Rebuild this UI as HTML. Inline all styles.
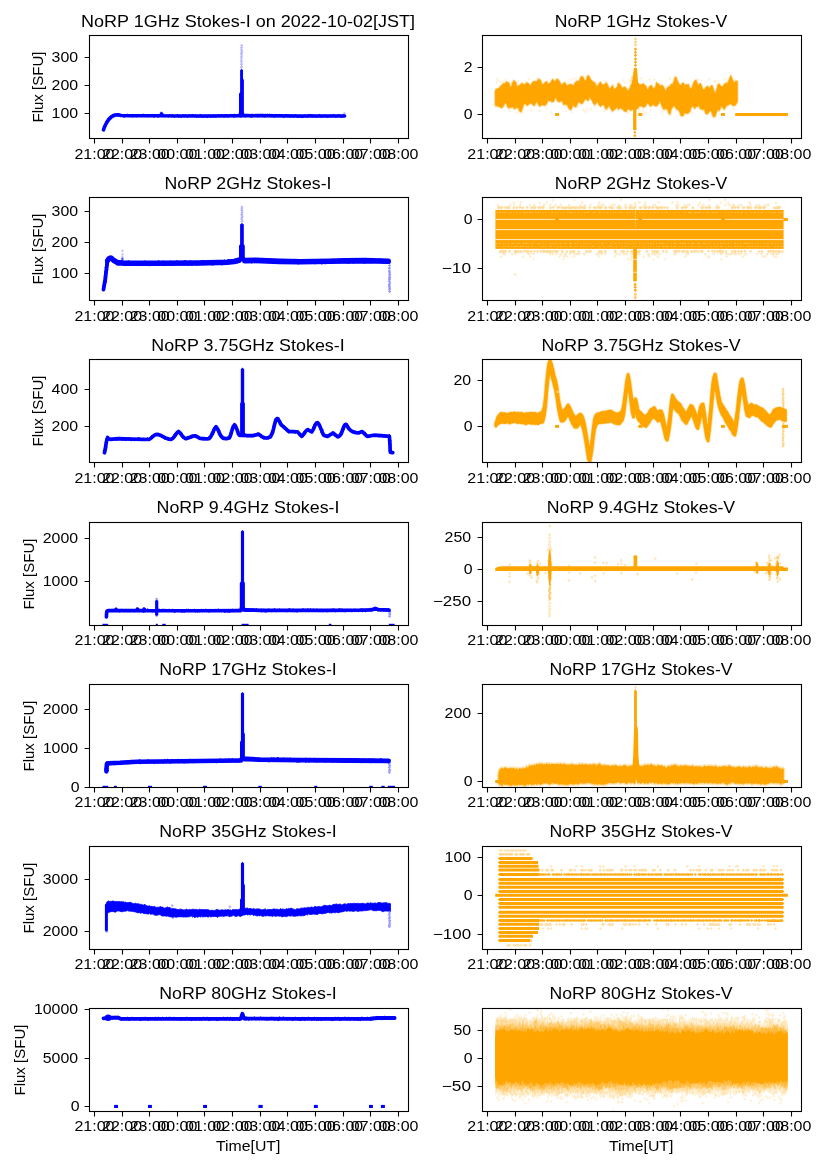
<!DOCTYPE html>
<html lang="en"><head><meta charset="utf-8"><title>NoRP light curves 2022-10-02</title>
<style>html,body{margin:0;padding:0;background:#fff}body{width:827px;height:1169px;overflow:hidden;font-family:"Liberation Sans",sans-serif}svg{display:block;will-change:transform}</style></head>
<body>
<svg width="827" height="1169" viewBox="0 0 827 1169" font-family="'Liberation Sans', sans-serif" fill="#000">
<rect width="827" height="1169" fill="#fff"/>
<g id="ax00">
<clipPath id="cp00"><rect x="89.50" y="35.50" width="319.00" height="103.00"/></clipPath>
<g clip-path="url(#cp00)"><path d="M103.5 129.8L104.3 127.5L105.4 125L106.8 122.3L108.3 120.1L110 118L112.2 116.3L115 115L118 114.7L121 115.5L130 115.7L160.6 115.7L161.5 114L162.4 115.7L200 116L238.6 115.7L245.5 115.6L300 116L344.6 116" fill="none" stroke="#0000ff" stroke-width="3.6" stroke-linejoin="round" stroke-linecap="round"/><path d="M104 127.3l1.5 1.5l-1.5 1.5l-1.5 -1.5ZM104.8 124.8l1.5 1.5l-1.5 1.5l-1.5 -1.5ZM105.3 124.2l1.5 1.5l-1.5 1.5l-1.5 -1.5ZM105.5 123.3l1.5 1.5l-1.5 1.5l-1.5 -1.5ZM107 121.5l1.5 1.5l-1.5 1.5l-1.5 -1.5ZM106.6 120.5l1.5 1.5l-1.5 1.5l-1.5 -1.5ZM108 119.9l1.5 1.5l-1.5 1.5l-1.5 -1.5ZM108.3 117.4l1.5 1.5l-1.5 1.5l-1.5 -1.5ZM110.6 117l1.5 1.5l-1.5 1.5l-1.5 -1.5ZM110.8 116.1l1.5 1.5l-1.5 1.5l-1.5 -1.5ZM110.8 114.9l1.5 1.5l-1.5 1.5l-1.5 -1.5ZM112.6 113.8l1.5 1.5l-1.5 1.5l-1.5 -1.5ZM113.7 113.7l1.5 1.5l-1.5 1.5l-1.5 -1.5ZM115 113.4l1.5 1.5l-1.5 1.5l-1.5 -1.5ZM117.2 113.8l1.5 1.5l-1.5 1.5l-1.5 -1.5ZM118.7 113.6l1.5 1.5l-1.5 1.5l-1.5 -1.5ZM120.2 114.1l1.5 1.5l-1.5 1.5l-1.5 -1.5ZM121.7 113.7l1.5 1.5l-1.5 1.5l-1.5 -1.5ZM124 114.9l1.5 1.5l-1.5 1.5l-1.5 -1.5ZM125.3 114.4l1.5 1.5l-1.5 1.5l-1.5 -1.5ZM126 113.7l1.5 1.5l-1.5 1.5l-1.5 -1.5ZM127.4 113.5l1.5 1.5l-1.5 1.5l-1.5 -1.5ZM129.7 114l1.5 1.5l-1.5 1.5l-1.5 -1.5ZM131.1 114l1.5 1.5l-1.5 1.5l-1.5 -1.5ZM132.6 114.8l1.5 1.5l-1.5 1.5l-1.5 -1.5ZM132.7 113.7l1.5 1.5l-1.5 1.5l-1.5 -1.5ZM135.2 114.2l1.5 1.5l-1.5 1.5l-1.5 -1.5ZM136.6 114l1.5 1.5l-1.5 1.5l-1.5 -1.5ZM136.7 114.4l1.5 1.5l-1.5 1.5l-1.5 -1.5ZM139 113.8l1.5 1.5l-1.5 1.5l-1.5 -1.5ZM139.4 113.9l1.5 1.5l-1.5 1.5l-1.5 -1.5ZM141.9 114.6l1.5 1.5l-1.5 1.5l-1.5 -1.5ZM142.1 113.8l1.5 1.5l-1.5 1.5l-1.5 -1.5ZM143.4 113.5l1.5 1.5l-1.5 1.5l-1.5 -1.5ZM145.7 113.7l1.5 1.5l-1.5 1.5l-1.5 -1.5ZM146.7 114.1l1.5 1.5l-1.5 1.5l-1.5 -1.5ZM147.5 114.6l1.5 1.5l-1.5 1.5l-1.5 -1.5ZM148.8 114.4l1.5 1.5l-1.5 1.5l-1.5 -1.5ZM150.1 114.1l1.5 1.5l-1.5 1.5l-1.5 -1.5ZM151.6 113.8l1.5 1.5l-1.5 1.5l-1.5 -1.5ZM153.9 114.7l1.5 1.5l-1.5 1.5l-1.5 -1.5ZM154.4 114.8l1.5 1.5l-1.5 1.5l-1.5 -1.5ZM155.6 114l1.5 1.5l-1.5 1.5l-1.5 -1.5ZM157.7 114.4l1.5 1.5l-1.5 1.5l-1.5 -1.5ZM158.1 115l1.5 1.5l-1.5 1.5l-1.5 -1.5ZM159.6 113.8l1.5 1.5l-1.5 1.5l-1.5 -1.5ZM161.1 112.8l1.5 1.5l-1.5 1.5l-1.5 -1.5ZM162.4 112.7l1.5 1.5l-1.5 1.5l-1.5 -1.5ZM162.5 114.3l1.5 1.5l-1.5 1.5l-1.5 -1.5ZM164.1 114.4l1.5 1.5l-1.5 1.5l-1.5 -1.5ZM165.6 114.2l1.5 1.5l-1.5 1.5l-1.5 -1.5ZM167.7 114.2l1.5 1.5l-1.5 1.5l-1.5 -1.5ZM168.5 114.8l1.5 1.5l-1.5 1.5l-1.5 -1.5ZM169.4 113.7l1.5 1.5l-1.5 1.5l-1.5 -1.5ZM171.7 114.8l1.5 1.5l-1.5 1.5l-1.5 -1.5ZM172.1 113.8l1.5 1.5l-1.5 1.5l-1.5 -1.5ZM174.1 115l1.5 1.5l-1.5 1.5l-1.5 -1.5ZM174.7 115l1.5 1.5l-1.5 1.5l-1.5 -1.5ZM177 114.5l1.5 1.5l-1.5 1.5l-1.5 -1.5ZM177.7 113.7l1.5 1.5l-1.5 1.5l-1.5 -1.5ZM178.6 115.1l1.5 1.5l-1.5 1.5l-1.5 -1.5ZM180.2 114.7l1.5 1.5l-1.5 1.5l-1.5 -1.5ZM181.5 114.9l1.5 1.5l-1.5 1.5l-1.5 -1.5ZM183.3 114l1.5 1.5l-1.5 1.5l-1.5 -1.5ZM184.1 114.7l1.5 1.5l-1.5 1.5l-1.5 -1.5ZM185.3 113.9l1.5 1.5l-1.5 1.5l-1.5 -1.5ZM187.3 115l1.5 1.5l-1.5 1.5l-1.5 -1.5ZM188.7 114.1l1.5 1.5l-1.5 1.5l-1.5 -1.5ZM190.5 114l1.5 1.5l-1.5 1.5l-1.5 -1.5ZM190.6 114.1l1.5 1.5l-1.5 1.5l-1.5 -1.5ZM192.5 113.7l1.5 1.5l-1.5 1.5l-1.5 -1.5ZM193.5 114.2l1.5 1.5l-1.5 1.5l-1.5 -1.5ZM195.4 113.9l1.5 1.5l-1.5 1.5l-1.5 -1.5ZM196.5 115.1l1.5 1.5l-1.5 1.5l-1.5 -1.5ZM198.6 114.7l1.5 1.5l-1.5 1.5l-1.5 -1.5ZM199.6 114.6l1.5 1.5l-1.5 1.5l-1.5 -1.5ZM200.2 113.8l1.5 1.5l-1.5 1.5l-1.5 -1.5ZM201.4 115.1l1.5 1.5l-1.5 1.5l-1.5 -1.5ZM203.6 115.2l1.5 1.5l-1.5 1.5l-1.5 -1.5ZM204 114.7l1.5 1.5l-1.5 1.5l-1.5 -1.5ZM206 114.8l1.5 1.5l-1.5 1.5l-1.5 -1.5ZM207.1 115.2l1.5 1.5l-1.5 1.5l-1.5 -1.5ZM208.1 114.5l1.5 1.5l-1.5 1.5l-1.5 -1.5ZM210.3 115.1l1.5 1.5l-1.5 1.5l-1.5 -1.5ZM211.6 114.7l1.5 1.5l-1.5 1.5l-1.5 -1.5ZM213 115.1l1.5 1.5l-1.5 1.5l-1.5 -1.5ZM213.8 114.7l1.5 1.5l-1.5 1.5l-1.5 -1.5ZM215.8 115l1.5 1.5l-1.5 1.5l-1.5 -1.5ZM216.5 114.8l1.5 1.5l-1.5 1.5l-1.5 -1.5ZM218.5 114.5l1.5 1.5l-1.5 1.5l-1.5 -1.5ZM219.5 114.2l1.5 1.5l-1.5 1.5l-1.5 -1.5ZM220.7 114.5l1.5 1.5l-1.5 1.5l-1.5 -1.5ZM221.4 114.6l1.5 1.5l-1.5 1.5l-1.5 -1.5ZM224 114.9l1.5 1.5l-1.5 1.5l-1.5 -1.5ZM224.9 114.1l1.5 1.5l-1.5 1.5l-1.5 -1.5ZM226.3 114.4l1.5 1.5l-1.5 1.5l-1.5 -1.5ZM227.2 114.8l1.5 1.5l-1.5 1.5l-1.5 -1.5ZM228.1 114.7l1.5 1.5l-1.5 1.5l-1.5 -1.5ZM229.3 114.4l1.5 1.5l-1.5 1.5l-1.5 -1.5ZM231.3 113.8l1.5 1.5l-1.5 1.5l-1.5 -1.5ZM232.9 114.2l1.5 1.5l-1.5 1.5l-1.5 -1.5ZM234.1 114.9l1.5 1.5l-1.5 1.5l-1.5 -1.5ZM234.9 113.4l1.5 1.5l-1.5 1.5l-1.5 -1.5ZM236.3 114.5l1.5 1.5l-1.5 1.5l-1.5 -1.5ZM237.5 113.7l1.5 1.5l-1.5 1.5l-1.5 -1.5ZM239.9 114.4l1.5 1.5l-1.5 1.5l-1.5 -1.5ZM240.6 114.8l1.5 1.5l-1.5 1.5l-1.5 -1.5ZM241.8 114.4l1.5 1.5l-1.5 1.5l-1.5 -1.5ZM243 114l1.5 1.5l-1.5 1.5l-1.5 -1.5ZM245.2 114.8l1.5 1.5l-1.5 1.5l-1.5 -1.5ZM246.7 113.9l1.5 1.5l-1.5 1.5l-1.5 -1.5ZM247.6 113.8l1.5 1.5l-1.5 1.5l-1.5 -1.5ZM248.3 114.1l1.5 1.5l-1.5 1.5l-1.5 -1.5ZM250.6 114.7l1.5 1.5l-1.5 1.5l-1.5 -1.5ZM251.8 114.9l1.5 1.5l-1.5 1.5l-1.5 -1.5ZM252.5 113.6l1.5 1.5l-1.5 1.5l-1.5 -1.5ZM254.1 113.8l1.5 1.5l-1.5 1.5l-1.5 -1.5ZM255.1 114l1.5 1.5l-1.5 1.5l-1.5 -1.5ZM257 114.2l1.5 1.5l-1.5 1.5l-1.5 -1.5ZM257.9 114.7l1.5 1.5l-1.5 1.5l-1.5 -1.5ZM260.1 114.1l1.5 1.5l-1.5 1.5l-1.5 -1.5ZM260.2 113.5l1.5 1.5l-1.5 1.5l-1.5 -1.5ZM262.6 113.5l1.5 1.5l-1.5 1.5l-1.5 -1.5ZM263.7 114.3l1.5 1.5l-1.5 1.5l-1.5 -1.5ZM264.5 114.7l1.5 1.5l-1.5 1.5l-1.5 -1.5ZM265.5 113.7l1.5 1.5l-1.5 1.5l-1.5 -1.5ZM267.4 113.5l1.5 1.5l-1.5 1.5l-1.5 -1.5ZM269.2 113.9l1.5 1.5l-1.5 1.5l-1.5 -1.5ZM269.6 113.6l1.5 1.5l-1.5 1.5l-1.5 -1.5ZM271.6 114.2l1.5 1.5l-1.5 1.5l-1.5 -1.5ZM272.9 114.5l1.5 1.5l-1.5 1.5l-1.5 -1.5ZM274.5 115l1.5 1.5l-1.5 1.5l-1.5 -1.5ZM275.7 113.8l1.5 1.5l-1.5 1.5l-1.5 -1.5ZM276.7 113.8l1.5 1.5l-1.5 1.5l-1.5 -1.5ZM277.4 114.3l1.5 1.5l-1.5 1.5l-1.5 -1.5ZM279.7 113.8l1.5 1.5l-1.5 1.5l-1.5 -1.5ZM280.4 114.1l1.5 1.5l-1.5 1.5l-1.5 -1.5ZM282.3 114.4l1.5 1.5l-1.5 1.5l-1.5 -1.5ZM283.5 114.8l1.5 1.5l-1.5 1.5l-1.5 -1.5ZM284.6 114.9l1.5 1.5l-1.5 1.5l-1.5 -1.5ZM286.6 113.7l1.5 1.5l-1.5 1.5l-1.5 -1.5ZM287.9 114.8l1.5 1.5l-1.5 1.5l-1.5 -1.5ZM288.2 114.3l1.5 1.5l-1.5 1.5l-1.5 -1.5ZM290.2 115.1l1.5 1.5l-1.5 1.5l-1.5 -1.5ZM291.2 114.5l1.5 1.5l-1.5 1.5l-1.5 -1.5ZM293.2 114.9l1.5 1.5l-1.5 1.5l-1.5 -1.5ZM294.6 114.4l1.5 1.5l-1.5 1.5l-1.5 -1.5ZM295.6 114l1.5 1.5l-1.5 1.5l-1.5 -1.5ZM297 115l1.5 1.5l-1.5 1.5l-1.5 -1.5ZM298.2 114.8l1.5 1.5l-1.5 1.5l-1.5 -1.5ZM298.9 115.1l1.5 1.5l-1.5 1.5l-1.5 -1.5ZM301.3 115.3l1.5 1.5l-1.5 1.5l-1.5 -1.5ZM302 115l1.5 1.5l-1.5 1.5l-1.5 -1.5ZM303 115.2l1.5 1.5l-1.5 1.5l-1.5 -1.5ZM305.1 114.3l1.5 1.5l-1.5 1.5l-1.5 -1.5ZM305.4 114.4l1.5 1.5l-1.5 1.5l-1.5 -1.5ZM307.3 114.9l1.5 1.5l-1.5 1.5l-1.5 -1.5ZM308.5 113.7l1.5 1.5l-1.5 1.5l-1.5 -1.5ZM310.2 113.8l1.5 1.5l-1.5 1.5l-1.5 -1.5ZM311.5 114l1.5 1.5l-1.5 1.5l-1.5 -1.5ZM312.2 115l1.5 1.5l-1.5 1.5l-1.5 -1.5ZM313.3 113.9l1.5 1.5l-1.5 1.5l-1.5 -1.5ZM315.1 114.9l1.5 1.5l-1.5 1.5l-1.5 -1.5ZM316.8 114.8l1.5 1.5l-1.5 1.5l-1.5 -1.5ZM318.3 114.5l1.5 1.5l-1.5 1.5l-1.5 -1.5ZM319.6 113.8l1.5 1.5l-1.5 1.5l-1.5 -1.5ZM320 114.5l1.5 1.5l-1.5 1.5l-1.5 -1.5ZM321.4 114.9l1.5 1.5l-1.5 1.5l-1.5 -1.5ZM323.1 114.5l1.5 1.5l-1.5 1.5l-1.5 -1.5ZM324.7 114.6l1.5 1.5l-1.5 1.5l-1.5 -1.5ZM325.3 114.3l1.5 1.5l-1.5 1.5l-1.5 -1.5ZM327.3 115.1l1.5 1.5l-1.5 1.5l-1.5 -1.5ZM327.8 115.1l1.5 1.5l-1.5 1.5l-1.5 -1.5ZM330.1 114.5l1.5 1.5l-1.5 1.5l-1.5 -1.5ZM330.9 114l1.5 1.5l-1.5 1.5l-1.5 -1.5ZM332.2 114.5l1.5 1.5l-1.5 1.5l-1.5 -1.5ZM333.6 113.7l1.5 1.5l-1.5 1.5l-1.5 -1.5ZM335.4 114.5l1.5 1.5l-1.5 1.5l-1.5 -1.5ZM335.9 115l1.5 1.5l-1.5 1.5l-1.5 -1.5ZM337.5 114.5l1.5 1.5l-1.5 1.5l-1.5 -1.5ZM338.9 113.8l1.5 1.5l-1.5 1.5l-1.5 -1.5ZM340.1 114.4l1.5 1.5l-1.5 1.5l-1.5 -1.5ZM341.9 115.2l1.5 1.5l-1.5 1.5l-1.5 -1.5ZM342.3 114.5l1.5 1.5l-1.5 1.5l-1.5 -1.5ZM343.5 114.4l1.5 1.5l-1.5 1.5l-1.5 -1.5Z" fill="#0000ff" fill-opacity="1"/><path d="M238 116L239 112L239 93.7L240.1 92.2L240.1 70.3L241.6 68.7L243 70.3L243 78.4L243.9 79.9L243.9 112L244.9 116Z" fill="#0000ff"/><path d="M241.7 44l1.6 1.6l-1.6 1.6l-1.6 -1.6ZM241.5 46.1l1.6 1.6l-1.6 1.6l-1.6 -1.6ZM241.4 47.6l1.6 1.6l-1.6 1.6l-1.6 -1.6ZM241.8 49.4l1.6 1.6l-1.6 1.6l-1.6 -1.6ZM241.7 50.6l1.6 1.6l-1.6 1.6l-1.6 -1.6ZM241.4 51.8l1.6 1.6l-1.6 1.6l-1.6 -1.6ZM241.6 53.2l1.6 1.6l-1.6 1.6l-1.6 -1.6ZM241.5 54.6l1.6 1.6l-1.6 1.6l-1.6 -1.6ZM241.4 56.4l1.6 1.6l-1.6 1.6l-1.6 -1.6ZM241.4 58.4l1.6 1.6l-1.6 1.6l-1.6 -1.6ZM241.4 60.1l1.6 1.6l-1.6 1.6l-1.6 -1.6ZM241.6 61.4l1.6 1.6l-1.6 1.6l-1.6 -1.6ZM241.5 63l1.6 1.6l-1.6 1.6l-1.6 -1.6ZM241.6 64.6l1.6 1.6l-1.6 1.6l-1.6 -1.6ZM241.4 65.9l1.6 1.6l-1.6 1.6l-1.6 -1.6Z" fill="#0000ff" fill-opacity="0.28"/><path d="M344.3 112l1.6 1.6l-1.6 1.6l-1.6 -1.6ZM161.5 110.9l1.6 1.6l-1.6 1.6l-1.6 -1.6Z" fill="#0000ff" fill-opacity="0.3"/></g>
<rect x="89.50" y="35.50" width="319.00" height="103.00" fill="none" stroke="#000" stroke-width="1.1"/>
<path d="M94.50 138.50v4.9M122.50 138.50v4.9M149.50 138.50v4.9M177.50 138.50v4.9M204.50 138.50v4.9M232.50 138.50v4.9M260.50 138.50v4.9M287.50 138.50v4.9M315.50 138.50v4.9M343.50 138.50v4.9M370.50 138.50v4.9M398.50 138.50v4.9M89.50 57.50h-4.9M89.50 85.50h-4.9M89.50 113.50h-4.9" stroke="#000" stroke-width="1.1" fill="none"/>
<text x="94.45" y="158.95" font-size="14.15" text-anchor="middle" textLength="40.03" lengthAdjust="spacingAndGlyphs">21:00</text>
<text x="122.09" y="158.95" font-size="14.15" text-anchor="middle" textLength="40.03" lengthAdjust="spacingAndGlyphs">22:00</text>
<text x="149.72" y="158.95" font-size="14.15" text-anchor="middle" textLength="40.03" lengthAdjust="spacingAndGlyphs">23:00</text>
<text x="177.36" y="158.95" font-size="14.15" text-anchor="middle" textLength="40.03" lengthAdjust="spacingAndGlyphs">00:00</text>
<text x="205.00" y="158.95" font-size="14.15" text-anchor="middle" textLength="40.03" lengthAdjust="spacingAndGlyphs">01:00</text>
<text x="232.63" y="158.95" font-size="14.15" text-anchor="middle" textLength="40.03" lengthAdjust="spacingAndGlyphs">02:00</text>
<text x="260.27" y="158.95" font-size="14.15" text-anchor="middle" textLength="40.03" lengthAdjust="spacingAndGlyphs">03:00</text>
<text x="287.91" y="158.95" font-size="14.15" text-anchor="middle" textLength="40.03" lengthAdjust="spacingAndGlyphs">04:00</text>
<text x="315.55" y="158.95" font-size="14.15" text-anchor="middle" textLength="40.03" lengthAdjust="spacingAndGlyphs">05:00</text>
<text x="343.18" y="158.95" font-size="14.15" text-anchor="middle" textLength="40.03" lengthAdjust="spacingAndGlyphs">06:00</text>
<text x="370.82" y="158.95" font-size="14.15" text-anchor="middle" textLength="40.03" lengthAdjust="spacingAndGlyphs">07:00</text>
<text x="398.46" y="158.95" font-size="14.15" text-anchor="middle" textLength="40.03" lengthAdjust="spacingAndGlyphs">08:00</text>
<text x="78.10" y="62.40" font-size="14.15" text-anchor="end" textLength="26.51" lengthAdjust="spacingAndGlyphs">300</text>
<text x="78.10" y="90.40" font-size="14.15" text-anchor="end" textLength="26.51" lengthAdjust="spacingAndGlyphs">200</text>
<text x="78.10" y="118.40" font-size="14.15" text-anchor="end" textLength="26.51" lengthAdjust="spacingAndGlyphs">100</text>
<text x="248.00" y="26.90" font-size="16.95" text-anchor="middle" textLength="333.89" lengthAdjust="spacingAndGlyphs">NoRP 1GHz Stokes-I on 2022-10-02[JST]</text>
<text x="43.00" y="87.00" font-size="14.15" text-anchor="middle" textLength="71.10" lengthAdjust="spacingAndGlyphs" transform="rotate(-90 43.00 87.00)">Flux [SFU]</text>
</g>
<g id="ax10">
<clipPath id="cp10"><rect x="89.50" y="197.50" width="319.00" height="103.00"/></clipPath>
<g clip-path="url(#cp10)"><path d="M103.5 289.5L104.4 284L105.4 278.3L106.4 269L107.4 261.5" fill="none" stroke="#0000ff" stroke-width="3.8" stroke-linejoin="round" stroke-linecap="round"/><path d="M103.7 287.1l1.5 1.5l-1.5 1.5l-1.5 -1.5ZM104.1 285.5l1.5 1.5l-1.5 1.5l-1.5 -1.5ZM103.7 284l1.5 1.5l-1.5 1.5l-1.5 -1.5ZM104.9 282.9l1.5 1.5l-1.5 1.5l-1.5 -1.5ZM104.3 281.2l1.5 1.5l-1.5 1.5l-1.5 -1.5ZM105.5 280.8l1.5 1.5l-1.5 1.5l-1.5 -1.5ZM105.8 279.5l1.5 1.5l-1.5 1.5l-1.5 -1.5ZM104.7 276.8l1.5 1.5l-1.5 1.5l-1.5 -1.5ZM105.8 276.5l1.5 1.5l-1.5 1.5l-1.5 -1.5ZM104.9 275l1.5 1.5l-1.5 1.5l-1.5 -1.5ZM105.7 273l1.5 1.5l-1.5 1.5l-1.5 -1.5ZM105.3 271.7l1.5 1.5l-1.5 1.5l-1.5 -1.5ZM106.4 271l1.5 1.5l-1.5 1.5l-1.5 -1.5ZM105.6 270.1l1.5 1.5l-1.5 1.5l-1.5 -1.5ZM107.1 268l1.5 1.5l-1.5 1.5l-1.5 -1.5ZM105.9 266l1.5 1.5l-1.5 1.5l-1.5 -1.5ZM107.2 265.3l1.5 1.5l-1.5 1.5l-1.5 -1.5ZM107.2 263.8l1.5 1.5l-1.5 1.5l-1.5 -1.5ZM106.3 262.6l1.5 1.5l-1.5 1.5l-1.5 -1.5ZM106.4 261.2l1.5 1.5l-1.5 1.5l-1.5 -1.5Z" fill="#0000ff" fill-opacity="1"/><path d="M107.6 260.6L109 258.6L110.9 257.8L112.8 259.4L115 261.2L118.5 262.8" fill="none" stroke="#0000ff" stroke-width="5.2" stroke-linejoin="round" stroke-linecap="round"/><path d="M108.4 258l1.5 1.5l-1.5 1.5l-1.5 -1.5ZM109.6 255.6l1.5 1.5l-1.5 1.5l-1.5 -1.5ZM111.9 255.9l1.5 1.5l-1.5 1.5l-1.5 -1.5ZM112.7 259.9l1.5 1.5l-1.5 1.5l-1.5 -1.5ZM115.7 258.6l1.5 1.5l-1.5 1.5l-1.5 -1.5ZM114.5 261.1l1.5 1.5l-1.5 1.5l-1.5 -1.5ZM117.2 261.6l1.5 1.5l-1.5 1.5l-1.5 -1.5Z" fill="#0000ff" fill-opacity="1"/><path d="M118 262.8L125 263.2L160 263.3L200 263L227 262.3L234 261.5L239 260.2" fill="none" stroke="#0000ff" stroke-width="5.6" stroke-linejoin="round" stroke-linecap="round"/><path d="M118.5 261.2l1.5 1.5l-1.5 1.5l-1.5 -1.5ZM120.1 261.2l1.5 1.5l-1.5 1.5l-1.5 -1.5ZM121.7 259.8l1.5 1.5l-1.5 1.5l-1.5 -1.5ZM123.1 262.8l1.5 1.5l-1.5 1.5l-1.5 -1.5ZM123.9 261.5l1.5 1.5l-1.5 1.5l-1.5 -1.5ZM126 261.4l1.5 1.5l-1.5 1.5l-1.5 -1.5ZM126.6 260.5l1.5 1.5l-1.5 1.5l-1.5 -1.5ZM128.4 260l1.5 1.5l-1.5 1.5l-1.5 -1.5ZM130.2 262.8l1.5 1.5l-1.5 1.5l-1.5 -1.5ZM131.3 263l1.5 1.5l-1.5 1.5l-1.5 -1.5ZM132.6 261.4l1.5 1.5l-1.5 1.5l-1.5 -1.5ZM133.9 261.7l1.5 1.5l-1.5 1.5l-1.5 -1.5ZM135.7 262.8l1.5 1.5l-1.5 1.5l-1.5 -1.5ZM136.1 263.2l1.5 1.5l-1.5 1.5l-1.5 -1.5ZM138.1 262.7l1.5 1.5l-1.5 1.5l-1.5 -1.5ZM139.6 261.4l1.5 1.5l-1.5 1.5l-1.5 -1.5ZM141 263.1l1.5 1.5l-1.5 1.5l-1.5 -1.5ZM142.1 262.7l1.5 1.5l-1.5 1.5l-1.5 -1.5ZM143.5 261.4l1.5 1.5l-1.5 1.5l-1.5 -1.5ZM144.8 260.2l1.5 1.5l-1.5 1.5l-1.5 -1.5ZM145.7 261.6l1.5 1.5l-1.5 1.5l-1.5 -1.5ZM146.6 261.2l1.5 1.5l-1.5 1.5l-1.5 -1.5ZM148.7 262.2l1.5 1.5l-1.5 1.5l-1.5 -1.5ZM149.5 263.4l1.5 1.5l-1.5 1.5l-1.5 -1.5ZM151.5 261.2l1.5 1.5l-1.5 1.5l-1.5 -1.5ZM152.8 262l1.5 1.5l-1.5 1.5l-1.5 -1.5ZM154 261.4l1.5 1.5l-1.5 1.5l-1.5 -1.5ZM156 262.3l1.5 1.5l-1.5 1.5l-1.5 -1.5ZM156.9 262.7l1.5 1.5l-1.5 1.5l-1.5 -1.5ZM158.6 260.1l1.5 1.5l-1.5 1.5l-1.5 -1.5ZM159.5 262.7l1.5 1.5l-1.5 1.5l-1.5 -1.5ZM160.3 261.4l1.5 1.5l-1.5 1.5l-1.5 -1.5ZM161.4 260.7l1.5 1.5l-1.5 1.5l-1.5 -1.5ZM163.2 260.3l1.5 1.5l-1.5 1.5l-1.5 -1.5ZM164.3 263.2l1.5 1.5l-1.5 1.5l-1.5 -1.5ZM166.1 261.8l1.5 1.5l-1.5 1.5l-1.5 -1.5ZM168 262l1.5 1.5l-1.5 1.5l-1.5 -1.5ZM169.3 262.2l1.5 1.5l-1.5 1.5l-1.5 -1.5ZM170.4 260.2l1.5 1.5l-1.5 1.5l-1.5 -1.5ZM171.5 262.6l1.5 1.5l-1.5 1.5l-1.5 -1.5ZM172.1 263.3l1.5 1.5l-1.5 1.5l-1.5 -1.5ZM173.5 261.6l1.5 1.5l-1.5 1.5l-1.5 -1.5ZM174.9 261.7l1.5 1.5l-1.5 1.5l-1.5 -1.5ZM176.8 260.1l1.5 1.5l-1.5 1.5l-1.5 -1.5ZM178.6 261.4l1.5 1.5l-1.5 1.5l-1.5 -1.5ZM179.4 262l1.5 1.5l-1.5 1.5l-1.5 -1.5ZM180.5 260.9l1.5 1.5l-1.5 1.5l-1.5 -1.5ZM182.2 261.9l1.5 1.5l-1.5 1.5l-1.5 -1.5ZM183.1 262.4l1.5 1.5l-1.5 1.5l-1.5 -1.5ZM184.4 259.9l1.5 1.5l-1.5 1.5l-1.5 -1.5ZM185.6 260l1.5 1.5l-1.5 1.5l-1.5 -1.5ZM186.9 262.5l1.5 1.5l-1.5 1.5l-1.5 -1.5ZM188.5 263l1.5 1.5l-1.5 1.5l-1.5 -1.5ZM190.3 260l1.5 1.5l-1.5 1.5l-1.5 -1.5ZM192 263.2l1.5 1.5l-1.5 1.5l-1.5 -1.5ZM192.1 263l1.5 1.5l-1.5 1.5l-1.5 -1.5ZM193.9 261.5l1.5 1.5l-1.5 1.5l-1.5 -1.5ZM196 260.6l1.5 1.5l-1.5 1.5l-1.5 -1.5ZM196.7 263.1l1.5 1.5l-1.5 1.5l-1.5 -1.5ZM198.3 261.4l1.5 1.5l-1.5 1.5l-1.5 -1.5ZM200 262.6l1.5 1.5l-1.5 1.5l-1.5 -1.5ZM200.8 260.1l1.5 1.5l-1.5 1.5l-1.5 -1.5ZM202.2 261.3l1.5 1.5l-1.5 1.5l-1.5 -1.5ZM202.9 259.8l1.5 1.5l-1.5 1.5l-1.5 -1.5ZM204.7 260l1.5 1.5l-1.5 1.5l-1.5 -1.5ZM206 261.9l1.5 1.5l-1.5 1.5l-1.5 -1.5ZM207.3 260.5l1.5 1.5l-1.5 1.5l-1.5 -1.5ZM208.9 261l1.5 1.5l-1.5 1.5l-1.5 -1.5ZM210.5 261.3l1.5 1.5l-1.5 1.5l-1.5 -1.5ZM212.2 262.8l1.5 1.5l-1.5 1.5l-1.5 -1.5ZM213.1 260.2l1.5 1.5l-1.5 1.5l-1.5 -1.5ZM213.7 262.6l1.5 1.5l-1.5 1.5l-1.5 -1.5ZM215.9 261.5l1.5 1.5l-1.5 1.5l-1.5 -1.5ZM216.7 260.2l1.5 1.5l-1.5 1.5l-1.5 -1.5ZM218.5 261.3l1.5 1.5l-1.5 1.5l-1.5 -1.5ZM219.7 261.5l1.5 1.5l-1.5 1.5l-1.5 -1.5ZM221.2 259.8l1.5 1.5l-1.5 1.5l-1.5 -1.5ZM222 262.7l1.5 1.5l-1.5 1.5l-1.5 -1.5ZM224.2 262.2l1.5 1.5l-1.5 1.5l-1.5 -1.5ZM224.3 259.3l1.5 1.5l-1.5 1.5l-1.5 -1.5ZM226 260.6l1.5 1.5l-1.5 1.5l-1.5 -1.5ZM227.7 259.3l1.5 1.5l-1.5 1.5l-1.5 -1.5ZM229 259l1.5 1.5l-1.5 1.5l-1.5 -1.5ZM230 261.1l1.5 1.5l-1.5 1.5l-1.5 -1.5ZM232 260.7l1.5 1.5l-1.5 1.5l-1.5 -1.5ZM233.1 260l1.5 1.5l-1.5 1.5l-1.5 -1.5ZM234.2 259.4l1.5 1.5l-1.5 1.5l-1.5 -1.5ZM237.2 260.4l1.5 1.5l-1.5 1.5l-1.5 -1.5ZM237.1 257.8l1.5 1.5l-1.5 1.5l-1.5 -1.5Z" fill="#0000ff" fill-opacity="1"/><path d="M237.8 261L239 257L239 245.8L240.1 244.3L240.1 224.5L241.9 222.9L243.8 224.5L243.8 244.3L244.8 245.8L244.8 257L246 261Z" fill="#0000ff"/><path d="M244.8 260.6L255 260.4L280 261.4L300 261.8L330 261.3L345 260.9L365 260.6L388.2 261.3" fill="none" stroke="#0000ff" stroke-width="5.6" stroke-linejoin="round" stroke-linecap="round"/><path d="M246 259.5l1.5 1.5l-1.5 1.5l-1.5 -1.5ZM247.4 258l1.5 1.5l-1.5 1.5l-1.5 -1.5ZM248.3 258.2l1.5 1.5l-1.5 1.5l-1.5 -1.5ZM250.3 258.5l1.5 1.5l-1.5 1.5l-1.5 -1.5ZM251.6 260.7l1.5 1.5l-1.5 1.5l-1.5 -1.5ZM252.6 259.1l1.5 1.5l-1.5 1.5l-1.5 -1.5ZM254.7 260.4l1.5 1.5l-1.5 1.5l-1.5 -1.5ZM255.6 258.5l1.5 1.5l-1.5 1.5l-1.5 -1.5ZM256.4 260.3l1.5 1.5l-1.5 1.5l-1.5 -1.5ZM257.8 257.5l1.5 1.5l-1.5 1.5l-1.5 -1.5ZM259.7 259l1.5 1.5l-1.5 1.5l-1.5 -1.5ZM261.2 258.4l1.5 1.5l-1.5 1.5l-1.5 -1.5ZM262.7 257.7l1.5 1.5l-1.5 1.5l-1.5 -1.5ZM263.2 259.8l1.5 1.5l-1.5 1.5l-1.5 -1.5ZM264.3 258.6l1.5 1.5l-1.5 1.5l-1.5 -1.5ZM266.5 260.1l1.5 1.5l-1.5 1.5l-1.5 -1.5ZM267.3 258.1l1.5 1.5l-1.5 1.5l-1.5 -1.5ZM268.6 260.3l1.5 1.5l-1.5 1.5l-1.5 -1.5ZM270 258.1l1.5 1.5l-1.5 1.5l-1.5 -1.5ZM271.7 259.8l1.5 1.5l-1.5 1.5l-1.5 -1.5ZM273.3 261.2l1.5 1.5l-1.5 1.5l-1.5 -1.5ZM274.6 259.5l1.5 1.5l-1.5 1.5l-1.5 -1.5ZM275.8 259l1.5 1.5l-1.5 1.5l-1.5 -1.5ZM276.5 259.4l1.5 1.5l-1.5 1.5l-1.5 -1.5ZM278.5 261.3l1.5 1.5l-1.5 1.5l-1.5 -1.5ZM279 259.4l1.5 1.5l-1.5 1.5l-1.5 -1.5ZM280.5 259.4l1.5 1.5l-1.5 1.5l-1.5 -1.5ZM281.9 259.5l1.5 1.5l-1.5 1.5l-1.5 -1.5ZM282.9 260.2l1.5 1.5l-1.5 1.5l-1.5 -1.5ZM285.1 260.1l1.5 1.5l-1.5 1.5l-1.5 -1.5ZM286.4 260.3l1.5 1.5l-1.5 1.5l-1.5 -1.5ZM286.9 261l1.5 1.5l-1.5 1.5l-1.5 -1.5ZM289.2 259.3l1.5 1.5l-1.5 1.5l-1.5 -1.5ZM289.4 260.1l1.5 1.5l-1.5 1.5l-1.5 -1.5ZM291.4 260.4l1.5 1.5l-1.5 1.5l-1.5 -1.5ZM293.3 260.7l1.5 1.5l-1.5 1.5l-1.5 -1.5ZM294.4 258.6l1.5 1.5l-1.5 1.5l-1.5 -1.5ZM295.4 261.2l1.5 1.5l-1.5 1.5l-1.5 -1.5ZM296.1 258.7l1.5 1.5l-1.5 1.5l-1.5 -1.5ZM298.3 261.7l1.5 1.5l-1.5 1.5l-1.5 -1.5ZM298.8 260.8l1.5 1.5l-1.5 1.5l-1.5 -1.5ZM300.2 261.2l1.5 1.5l-1.5 1.5l-1.5 -1.5ZM302.1 259.3l1.5 1.5l-1.5 1.5l-1.5 -1.5ZM302.9 261.2l1.5 1.5l-1.5 1.5l-1.5 -1.5ZM304.6 261.2l1.5 1.5l-1.5 1.5l-1.5 -1.5ZM305.7 259.6l1.5 1.5l-1.5 1.5l-1.5 -1.5ZM307.8 260.8l1.5 1.5l-1.5 1.5l-1.5 -1.5ZM308.5 260.3l1.5 1.5l-1.5 1.5l-1.5 -1.5ZM310.1 260.9l1.5 1.5l-1.5 1.5l-1.5 -1.5ZM311.6 259.8l1.5 1.5l-1.5 1.5l-1.5 -1.5ZM312.8 260.7l1.5 1.5l-1.5 1.5l-1.5 -1.5ZM314.2 261.2l1.5 1.5l-1.5 1.5l-1.5 -1.5ZM315.5 261.4l1.5 1.5l-1.5 1.5l-1.5 -1.5ZM316.9 260.5l1.5 1.5l-1.5 1.5l-1.5 -1.5ZM317.7 260.8l1.5 1.5l-1.5 1.5l-1.5 -1.5ZM319.3 259.7l1.5 1.5l-1.5 1.5l-1.5 -1.5ZM320.1 258.7l1.5 1.5l-1.5 1.5l-1.5 -1.5ZM321.9 261.7l1.5 1.5l-1.5 1.5l-1.5 -1.5ZM322.6 258.7l1.5 1.5l-1.5 1.5l-1.5 -1.5ZM323.7 259.6l1.5 1.5l-1.5 1.5l-1.5 -1.5ZM325.2 261.6l1.5 1.5l-1.5 1.5l-1.5 -1.5ZM326.2 259.2l1.5 1.5l-1.5 1.5l-1.5 -1.5ZM327.5 260.4l1.5 1.5l-1.5 1.5l-1.5 -1.5ZM329.7 258.7l1.5 1.5l-1.5 1.5l-1.5 -1.5ZM330.1 259.6l1.5 1.5l-1.5 1.5l-1.5 -1.5ZM332.2 261.2l1.5 1.5l-1.5 1.5l-1.5 -1.5ZM332.7 258.3l1.5 1.5l-1.5 1.5l-1.5 -1.5ZM334.3 258.7l1.5 1.5l-1.5 1.5l-1.5 -1.5ZM335.8 260.4l1.5 1.5l-1.5 1.5l-1.5 -1.5ZM337.6 258.6l1.5 1.5l-1.5 1.5l-1.5 -1.5ZM338.4 258.8l1.5 1.5l-1.5 1.5l-1.5 -1.5ZM339.8 260.5l1.5 1.5l-1.5 1.5l-1.5 -1.5ZM341.3 259.7l1.5 1.5l-1.5 1.5l-1.5 -1.5ZM343.4 259.4l1.5 1.5l-1.5 1.5l-1.5 -1.5ZM344 260.8l1.5 1.5l-1.5 1.5l-1.5 -1.5ZM346.2 258.8l1.5 1.5l-1.5 1.5l-1.5 -1.5ZM347.1 261l1.5 1.5l-1.5 1.5l-1.5 -1.5ZM348.3 258.3l1.5 1.5l-1.5 1.5l-1.5 -1.5ZM349.1 260.9l1.5 1.5l-1.5 1.5l-1.5 -1.5ZM351.4 258.9l1.5 1.5l-1.5 1.5l-1.5 -1.5ZM352.4 259.3l1.5 1.5l-1.5 1.5l-1.5 -1.5ZM353.4 261l1.5 1.5l-1.5 1.5l-1.5 -1.5ZM355.2 258.3l1.5 1.5l-1.5 1.5l-1.5 -1.5ZM355.7 259.1l1.5 1.5l-1.5 1.5l-1.5 -1.5ZM357.5 260.3l1.5 1.5l-1.5 1.5l-1.5 -1.5ZM359.3 259.6l1.5 1.5l-1.5 1.5l-1.5 -1.5ZM359.9 257.9l1.5 1.5l-1.5 1.5l-1.5 -1.5ZM361.4 258.3l1.5 1.5l-1.5 1.5l-1.5 -1.5ZM363.5 259.2l1.5 1.5l-1.5 1.5l-1.5 -1.5ZM364.5 260.9l1.5 1.5l-1.5 1.5l-1.5 -1.5ZM365.4 259.2l1.5 1.5l-1.5 1.5l-1.5 -1.5ZM366.5 260.1l1.5 1.5l-1.5 1.5l-1.5 -1.5ZM367.7 260.3l1.5 1.5l-1.5 1.5l-1.5 -1.5ZM370.2 260.4l1.5 1.5l-1.5 1.5l-1.5 -1.5ZM370.6 258.4l1.5 1.5l-1.5 1.5l-1.5 -1.5ZM372.8 257.9l1.5 1.5l-1.5 1.5l-1.5 -1.5ZM373.8 259.3l1.5 1.5l-1.5 1.5l-1.5 -1.5ZM375.8 259.7l1.5 1.5l-1.5 1.5l-1.5 -1.5ZM377.1 258.8l1.5 1.5l-1.5 1.5l-1.5 -1.5ZM378.4 259.2l1.5 1.5l-1.5 1.5l-1.5 -1.5ZM379.9 258.1l1.5 1.5l-1.5 1.5l-1.5 -1.5ZM381.2 258.5l1.5 1.5l-1.5 1.5l-1.5 -1.5ZM382.1 259.7l1.5 1.5l-1.5 1.5l-1.5 -1.5ZM382.9 260.8l1.5 1.5l-1.5 1.5l-1.5 -1.5ZM384.6 259l1.5 1.5l-1.5 1.5l-1.5 -1.5ZM385.6 259l1.5 1.5l-1.5 1.5l-1.5 -1.5ZM387.4 260.6l1.5 1.5l-1.5 1.5l-1.5 -1.5Z" fill="#0000ff" fill-opacity="1"/><path d="M122.4 249.2l1.6 1.6l-1.6 1.6l-1.6 -1.6ZM122.5 252.8l1.6 1.6l-1.6 1.6l-1.6 -1.6ZM122.4 255.2l1.6 1.6l-1.6 1.6l-1.6 -1.6Z" fill="#0000ff" fill-opacity="0.22"/><path d="M122.4 257.3l1.6 1.6l-1.6 1.6l-1.6 -1.6Z" fill="#0000ff" fill-opacity="0.7"/><path d="M241.9 205.4l1.6 1.6l-1.6 1.6l-1.6 -1.6ZM241.8 207.3l1.6 1.6l-1.6 1.6l-1.6 -1.6ZM241.9 208.9l1.6 1.6l-1.6 1.6l-1.6 -1.6ZM242.1 211.1l1.6 1.6l-1.6 1.6l-1.6 -1.6ZM241.7 213l1.6 1.6l-1.6 1.6l-1.6 -1.6ZM242.1 214.5l1.6 1.6l-1.6 1.6l-1.6 -1.6ZM242 215.9l1.6 1.6l-1.6 1.6l-1.6 -1.6ZM241.7 217.5l1.6 1.6l-1.6 1.6l-1.6 -1.6ZM242.1 219.7l1.6 1.6l-1.6 1.6l-1.6 -1.6Z" fill="#0000ff" fill-opacity="0.3"/><path d="M389.6 263.9l1.6 1.6l-1.6 1.6l-1.6 -1.6ZM389.4 265.3l1.6 1.6l-1.6 1.6l-1.6 -1.6ZM389.4 266.9l1.6 1.6l-1.6 1.6l-1.6 -1.6ZM389.4 268.3l1.6 1.6l-1.6 1.6l-1.6 -1.6ZM389.4 270.1l1.6 1.6l-1.6 1.6l-1.6 -1.6ZM389.6 271.3l1.6 1.6l-1.6 1.6l-1.6 -1.6ZM389.7 272.7l1.6 1.6l-1.6 1.6l-1.6 -1.6ZM389.6 274.4l1.6 1.6l-1.6 1.6l-1.6 -1.6ZM389.7 275.8l1.6 1.6l-1.6 1.6l-1.6 -1.6ZM389.3 276.9l1.6 1.6l-1.6 1.6l-1.6 -1.6ZM389.6 278.1l1.6 1.6l-1.6 1.6l-1.6 -1.6ZM389.3 279.9l1.6 1.6l-1.6 1.6l-1.6 -1.6ZM389.7 281.3l1.6 1.6l-1.6 1.6l-1.6 -1.6ZM389.3 283l1.6 1.6l-1.6 1.6l-1.6 -1.6ZM389.3 284.3l1.6 1.6l-1.6 1.6l-1.6 -1.6ZM389.5 285.5l1.6 1.6l-1.6 1.6l-1.6 -1.6ZM389.7 286.6l1.6 1.6l-1.6 1.6l-1.6 -1.6ZM389.5 288.1l1.6 1.6l-1.6 1.6l-1.6 -1.6ZM389.6 289.8l1.6 1.6l-1.6 1.6l-1.6 -1.6Z" fill="#0000ff" fill-opacity="0.42"/></g>
<rect x="89.50" y="197.50" width="319.00" height="103.00" fill="none" stroke="#000" stroke-width="1.1"/>
<path d="M94.50 300.50v4.9M122.50 300.50v4.9M149.50 300.50v4.9M177.50 300.50v4.9M204.50 300.50v4.9M232.50 300.50v4.9M260.50 300.50v4.9M287.50 300.50v4.9M315.50 300.50v4.9M343.50 300.50v4.9M370.50 300.50v4.9M398.50 300.50v4.9M89.50 211.50h-4.9M89.50 242.50h-4.9M89.50 273.50h-4.9" stroke="#000" stroke-width="1.1" fill="none"/>
<text x="94.45" y="320.95" font-size="14.15" text-anchor="middle" textLength="40.03" lengthAdjust="spacingAndGlyphs">21:00</text>
<text x="122.09" y="320.95" font-size="14.15" text-anchor="middle" textLength="40.03" lengthAdjust="spacingAndGlyphs">22:00</text>
<text x="149.72" y="320.95" font-size="14.15" text-anchor="middle" textLength="40.03" lengthAdjust="spacingAndGlyphs">23:00</text>
<text x="177.36" y="320.95" font-size="14.15" text-anchor="middle" textLength="40.03" lengthAdjust="spacingAndGlyphs">00:00</text>
<text x="205.00" y="320.95" font-size="14.15" text-anchor="middle" textLength="40.03" lengthAdjust="spacingAndGlyphs">01:00</text>
<text x="232.63" y="320.95" font-size="14.15" text-anchor="middle" textLength="40.03" lengthAdjust="spacingAndGlyphs">02:00</text>
<text x="260.27" y="320.95" font-size="14.15" text-anchor="middle" textLength="40.03" lengthAdjust="spacingAndGlyphs">03:00</text>
<text x="287.91" y="320.95" font-size="14.15" text-anchor="middle" textLength="40.03" lengthAdjust="spacingAndGlyphs">04:00</text>
<text x="315.55" y="320.95" font-size="14.15" text-anchor="middle" textLength="40.03" lengthAdjust="spacingAndGlyphs">05:00</text>
<text x="343.18" y="320.95" font-size="14.15" text-anchor="middle" textLength="40.03" lengthAdjust="spacingAndGlyphs">06:00</text>
<text x="370.82" y="320.95" font-size="14.15" text-anchor="middle" textLength="40.03" lengthAdjust="spacingAndGlyphs">07:00</text>
<text x="398.46" y="320.95" font-size="14.15" text-anchor="middle" textLength="40.03" lengthAdjust="spacingAndGlyphs">08:00</text>
<text x="78.10" y="216.40" font-size="14.15" text-anchor="end" textLength="26.51" lengthAdjust="spacingAndGlyphs">300</text>
<text x="78.10" y="247.40" font-size="14.15" text-anchor="end" textLength="26.51" lengthAdjust="spacingAndGlyphs">200</text>
<text x="78.10" y="278.40" font-size="14.15" text-anchor="end" textLength="26.51" lengthAdjust="spacingAndGlyphs">100</text>
<text x="248.00" y="188.90" font-size="16.95" text-anchor="middle" textLength="166.96" lengthAdjust="spacingAndGlyphs">NoRP 2GHz Stokes-I</text>
<text x="43.00" y="249.00" font-size="14.15" text-anchor="middle" textLength="71.10" lengthAdjust="spacingAndGlyphs" transform="rotate(-90 43.00 249.00)">Flux [SFU]</text>
</g>
<g id="ax20">
<clipPath id="cp20"><rect x="89.50" y="359.50" width="319.00" height="103.00"/></clipPath>
<g clip-path="url(#cp20)"><path d="M104.5 452.8L105.3 449L106 444.1L106.8 439.9L107.6 437.5L108.7 438.7L110.3 439.3L118 438.7L131.6 439.1L149 439.5L150.9 438.3L152.8 436.4L154.8 435L156.7 434.4L159 434.8L161.5 435.8L164.1 437.2L166.4 438.3L168.7 439.1L171.2 439.3L173.2 437.9L175.1 435.4L177 432.7L178.6 431.5L180.3 433.1L181.9 435.4L183.8 437.5L185.7 438.7L188.1 437.9L190.6 437L192.9 436L195 435.8L197.3 436.8L200.2 438.3L204.1 438.9L208.9 438.7L210.9 436.4L212.8 432.5L214.6 428.6L216.1 426.7L217.8 429.2L219.6 433.5L221.5 436.8L223.5 438.3L226.4 438.7L229.3 437.9L230.8 434.4L232.2 429.6L233.3 426.3L234.5 424.8L235.8 426.7L237 429.6L238.4 433.5L239.5 435.4L241.5 435.4L243.5 435.3L244.7 435.2L246.4 435.6L252.9 435.6L256 435L258.4 434.1L261.2 436.1L263.8 437.8L267.1 438L270.4 436.9L272.1 433.4L273.6 428.7L274.7 423.9L275.8 419.9L276.9 418.6L278 418.9L279.5 421.7L280.8 424.3L282.5 425.8L284.5 427.6L286.7 429.7L288.9 431.5L293.2 431.7L297.6 431.9L299.7 434.3L301.9 436.3L303.7 434.1L305.2 431.9L306.5 430.4L307.8 429.7L309.8 430.8L311.7 431.9L313.5 429.1L315 425.4L316.3 423.2L317.6 422.6L319.1 424.7L320.4 427.6L322.2 431.9L323.7 435.2L325.9 436.1L328 436.3L330.7 434.5L333 433L335.4 435L337.8 436.9L339.6 435.8L341.1 434.1L342.6 430L343.9 426.5L345 424.7L346.1 424.3L347.4 426.3L348.7 428.7L350.9 430.6L353.1 431.9L355.9 432.6L358.5 433L360.5 432.1L362.2 431.5L364.8 434.1L367.2 436.3L370.5 435.8L373.8 435.2L381.4 435.6L389.4 436.3L389.9 443.9L390.3 452.2L392.7 452.6" fill="none" stroke="#0000ff" stroke-width="3.7" stroke-linejoin="round" stroke-linecap="round"/><path d="M104.3 450.8l1.5 1.5l-1.5 1.5l-1.5 -1.5ZM104 449.3l1.5 1.5l-1.5 1.5l-1.5 -1.5ZM105.4 448.3l1.5 1.5l-1.5 1.5l-1.5 -1.5ZM106 446l1.5 1.5l-1.5 1.5l-1.5 -1.5ZM105.9 444.8l1.5 1.5l-1.5 1.5l-1.5 -1.5ZM105.5 444.2l1.5 1.5l-1.5 1.5l-1.5 -1.5ZM106.4 442.2l1.5 1.5l-1.5 1.5l-1.5 -1.5ZM106.1 441l1.5 1.5l-1.5 1.5l-1.5 -1.5ZM107.2 439.2l1.5 1.5l-1.5 1.5l-1.5 -1.5ZM107.6 436.5l1.5 1.5l-1.5 1.5l-1.5 -1.5ZM107.4 436.5l1.5 1.5l-1.5 1.5l-1.5 -1.5ZM110.1 437.8l1.5 1.5l-1.5 1.5l-1.5 -1.5ZM110.8 437.7l1.5 1.5l-1.5 1.5l-1.5 -1.5ZM112.1 438l1.5 1.5l-1.5 1.5l-1.5 -1.5ZM114.9 437.5l1.5 1.5l-1.5 1.5l-1.5 -1.5ZM116.1 437.9l1.5 1.5l-1.5 1.5l-1.5 -1.5ZM116.8 438.1l1.5 1.5l-1.5 1.5l-1.5 -1.5ZM118.9 436.7l1.5 1.5l-1.5 1.5l-1.5 -1.5ZM119.5 436.8l1.5 1.5l-1.5 1.5l-1.5 -1.5ZM121.5 437.6l1.5 1.5l-1.5 1.5l-1.5 -1.5ZM122.5 438.1l1.5 1.5l-1.5 1.5l-1.5 -1.5ZM123.9 437.3l1.5 1.5l-1.5 1.5l-1.5 -1.5ZM124.9 438.2l1.5 1.5l-1.5 1.5l-1.5 -1.5ZM126.3 438.1l1.5 1.5l-1.5 1.5l-1.5 -1.5ZM128.2 437.6l1.5 1.5l-1.5 1.5l-1.5 -1.5ZM129.6 437.1l1.5 1.5l-1.5 1.5l-1.5 -1.5ZM131.4 438.4l1.5 1.5l-1.5 1.5l-1.5 -1.5ZM132.7 437.8l1.5 1.5l-1.5 1.5l-1.5 -1.5ZM133.1 438.2l1.5 1.5l-1.5 1.5l-1.5 -1.5ZM134.6 438.3l1.5 1.5l-1.5 1.5l-1.5 -1.5ZM135.9 437.8l1.5 1.5l-1.5 1.5l-1.5 -1.5ZM138 437.2l1.5 1.5l-1.5 1.5l-1.5 -1.5ZM139 437l1.5 1.5l-1.5 1.5l-1.5 -1.5ZM139.7 437.2l1.5 1.5l-1.5 1.5l-1.5 -1.5ZM142.2 438.6l1.5 1.5l-1.5 1.5l-1.5 -1.5ZM143.2 437.5l1.5 1.5l-1.5 1.5l-1.5 -1.5ZM144.5 438.3l1.5 1.5l-1.5 1.5l-1.5 -1.5ZM145.5 438.1l1.5 1.5l-1.5 1.5l-1.5 -1.5ZM147.4 437.1l1.5 1.5l-1.5 1.5l-1.5 -1.5ZM147.9 437.9l1.5 1.5l-1.5 1.5l-1.5 -1.5ZM149.2 437.6l1.5 1.5l-1.5 1.5l-1.5 -1.5ZM151.1 435.9l1.5 1.5l-1.5 1.5l-1.5 -1.5ZM152.1 435.1l1.5 1.5l-1.5 1.5l-1.5 -1.5ZM153.8 433.9l1.5 1.5l-1.5 1.5l-1.5 -1.5ZM155.8 432.4l1.5 1.5l-1.5 1.5l-1.5 -1.5ZM158.4 432.6l1.5 1.5l-1.5 1.5l-1.5 -1.5ZM160.2 434l1.5 1.5l-1.5 1.5l-1.5 -1.5ZM160.9 433.9l1.5 1.5l-1.5 1.5l-1.5 -1.5ZM162.2 435l1.5 1.5l-1.5 1.5l-1.5 -1.5ZM163.6 435.9l1.5 1.5l-1.5 1.5l-1.5 -1.5ZM164.8 437l1.5 1.5l-1.5 1.5l-1.5 -1.5ZM168.1 438l1.5 1.5l-1.5 1.5l-1.5 -1.5ZM169.7 437.6l1.5 1.5l-1.5 1.5l-1.5 -1.5ZM172.7 437.6l1.5 1.5l-1.5 1.5l-1.5 -1.5ZM173.7 435.8l1.5 1.5l-1.5 1.5l-1.5 -1.5ZM175.1 435.1l1.5 1.5l-1.5 1.5l-1.5 -1.5ZM174.8 433l1.5 1.5l-1.5 1.5l-1.5 -1.5ZM177.3 432l1.5 1.5l-1.5 1.5l-1.5 -1.5ZM178.3 430.5l1.5 1.5l-1.5 1.5l-1.5 -1.5ZM180.1 431l1.5 1.5l-1.5 1.5l-1.5 -1.5ZM181.4 431.9l1.5 1.5l-1.5 1.5l-1.5 -1.5ZM181.3 432.9l1.5 1.5l-1.5 1.5l-1.5 -1.5ZM182.5 434.3l1.5 1.5l-1.5 1.5l-1.5 -1.5ZM182.6 435.3l1.5 1.5l-1.5 1.5l-1.5 -1.5ZM185 436.3l1.5 1.5l-1.5 1.5l-1.5 -1.5ZM186.4 436.8l1.5 1.5l-1.5 1.5l-1.5 -1.5ZM188.1 435.6l1.5 1.5l-1.5 1.5l-1.5 -1.5ZM190.7 436.2l1.5 1.5l-1.5 1.5l-1.5 -1.5ZM192.4 435.4l1.5 1.5l-1.5 1.5l-1.5 -1.5ZM193.8 434.9l1.5 1.5l-1.5 1.5l-1.5 -1.5ZM195.4 434.9l1.5 1.5l-1.5 1.5l-1.5 -1.5ZM197.8 436.3l1.5 1.5l-1.5 1.5l-1.5 -1.5ZM198.7 436.6l1.5 1.5l-1.5 1.5l-1.5 -1.5ZM200.4 436.9l1.5 1.5l-1.5 1.5l-1.5 -1.5ZM202.9 436.4l1.5 1.5l-1.5 1.5l-1.5 -1.5ZM203.2 436.9l1.5 1.5l-1.5 1.5l-1.5 -1.5ZM204.6 436.6l1.5 1.5l-1.5 1.5l-1.5 -1.5ZM207.2 437.8l1.5 1.5l-1.5 1.5l-1.5 -1.5ZM208 437l1.5 1.5l-1.5 1.5l-1.5 -1.5ZM208.9 436l1.5 1.5l-1.5 1.5l-1.5 -1.5ZM210.5 436.4l1.5 1.5l-1.5 1.5l-1.5 -1.5ZM211.1 434.5l1.5 1.5l-1.5 1.5l-1.5 -1.5ZM212.9 432.8l1.5 1.5l-1.5 1.5l-1.5 -1.5ZM212 431.5l1.5 1.5l-1.5 1.5l-1.5 -1.5ZM213.6 430.9l1.5 1.5l-1.5 1.5l-1.5 -1.5ZM213.4 428.4l1.5 1.5l-1.5 1.5l-1.5 -1.5ZM214.2 427.3l1.5 1.5l-1.5 1.5l-1.5 -1.5ZM214.9 425.9l1.5 1.5l-1.5 1.5l-1.5 -1.5ZM216.2 426.8l1.5 1.5l-1.5 1.5l-1.5 -1.5ZM217 426.9l1.5 1.5l-1.5 1.5l-1.5 -1.5ZM217.4 428.2l1.5 1.5l-1.5 1.5l-1.5 -1.5ZM219.1 429l1.5 1.5l-1.5 1.5l-1.5 -1.5ZM219.7 431.5l1.5 1.5l-1.5 1.5l-1.5 -1.5ZM219.9 433.8l1.5 1.5l-1.5 1.5l-1.5 -1.5ZM221.8 434.5l1.5 1.5l-1.5 1.5l-1.5 -1.5ZM222.4 436.9l1.5 1.5l-1.5 1.5l-1.5 -1.5ZM224.2 436.2l1.5 1.5l-1.5 1.5l-1.5 -1.5ZM225.3 436.7l1.5 1.5l-1.5 1.5l-1.5 -1.5ZM227.3 436.4l1.5 1.5l-1.5 1.5l-1.5 -1.5ZM228 436.3l1.5 1.5l-1.5 1.5l-1.5 -1.5ZM230.2 435.5l1.5 1.5l-1.5 1.5l-1.5 -1.5ZM230.6 434.2l1.5 1.5l-1.5 1.5l-1.5 -1.5ZM231.4 431.6l1.5 1.5l-1.5 1.5l-1.5 -1.5ZM231 430.9l1.5 1.5l-1.5 1.5l-1.5 -1.5ZM232.4 428.3l1.5 1.5l-1.5 1.5l-1.5 -1.5ZM232.5 427.7l1.5 1.5l-1.5 1.5l-1.5 -1.5ZM233.6 426.6l1.5 1.5l-1.5 1.5l-1.5 -1.5ZM233.9 424.2l1.5 1.5l-1.5 1.5l-1.5 -1.5ZM235.8 423.9l1.5 1.5l-1.5 1.5l-1.5 -1.5ZM236.5 425.9l1.5 1.5l-1.5 1.5l-1.5 -1.5ZM236.1 427.2l1.5 1.5l-1.5 1.5l-1.5 -1.5ZM237.4 428.1l1.5 1.5l-1.5 1.5l-1.5 -1.5ZM238.2 430.2l1.5 1.5l-1.5 1.5l-1.5 -1.5ZM237.9 431.1l1.5 1.5l-1.5 1.5l-1.5 -1.5ZM238 432.7l1.5 1.5l-1.5 1.5l-1.5 -1.5ZM241.5 433.1l1.5 1.5l-1.5 1.5l-1.5 -1.5ZM242.4 434.3l1.5 1.5l-1.5 1.5l-1.5 -1.5ZM244 434.5l1.5 1.5l-1.5 1.5l-1.5 -1.5ZM245.7 433.4l1.5 1.5l-1.5 1.5l-1.5 -1.5ZM247.1 434.4l1.5 1.5l-1.5 1.5l-1.5 -1.5ZM248.2 434.4l1.5 1.5l-1.5 1.5l-1.5 -1.5ZM250 434.2l1.5 1.5l-1.5 1.5l-1.5 -1.5ZM251 434.7l1.5 1.5l-1.5 1.5l-1.5 -1.5ZM252.5 434.2l1.5 1.5l-1.5 1.5l-1.5 -1.5ZM254.3 433.3l1.5 1.5l-1.5 1.5l-1.5 -1.5ZM255.5 433l1.5 1.5l-1.5 1.5l-1.5 -1.5ZM257.3 432.5l1.5 1.5l-1.5 1.5l-1.5 -1.5ZM258.7 433.4l1.5 1.5l-1.5 1.5l-1.5 -1.5ZM260.6 434.8l1.5 1.5l-1.5 1.5l-1.5 -1.5ZM261.5 434.7l1.5 1.5l-1.5 1.5l-1.5 -1.5ZM262.7 435.7l1.5 1.5l-1.5 1.5l-1.5 -1.5ZM264.7 435.6l1.5 1.5l-1.5 1.5l-1.5 -1.5ZM266.4 436.8l1.5 1.5l-1.5 1.5l-1.5 -1.5ZM268.2 436.8l1.5 1.5l-1.5 1.5l-1.5 -1.5ZM268.8 435.3l1.5 1.5l-1.5 1.5l-1.5 -1.5ZM270.4 435.4l1.5 1.5l-1.5 1.5l-1.5 -1.5ZM271.5 432.9l1.5 1.5l-1.5 1.5l-1.5 -1.5ZM272.7 431.7l1.5 1.5l-1.5 1.5l-1.5 -1.5ZM273.3 430.4l1.5 1.5l-1.5 1.5l-1.5 -1.5ZM273.5 427.9l1.5 1.5l-1.5 1.5l-1.5 -1.5ZM273.5 425.8l1.5 1.5l-1.5 1.5l-1.5 -1.5ZM273.7 425.3l1.5 1.5l-1.5 1.5l-1.5 -1.5ZM274.1 423.8l1.5 1.5l-1.5 1.5l-1.5 -1.5ZM275 421.6l1.5 1.5l-1.5 1.5l-1.5 -1.5ZM275.3 420.8l1.5 1.5l-1.5 1.5l-1.5 -1.5ZM276 419.8l1.5 1.5l-1.5 1.5l-1.5 -1.5ZM275.7 418l1.5 1.5l-1.5 1.5l-1.5 -1.5ZM277 417.5l1.5 1.5l-1.5 1.5l-1.5 -1.5ZM278.2 418.8l1.5 1.5l-1.5 1.5l-1.5 -1.5ZM278.9 418.8l1.5 1.5l-1.5 1.5l-1.5 -1.5ZM280.2 420.5l1.5 1.5l-1.5 1.5l-1.5 -1.5ZM281.5 422.4l1.5 1.5l-1.5 1.5l-1.5 -1.5ZM281.4 423.9l1.5 1.5l-1.5 1.5l-1.5 -1.5ZM283.9 424.7l1.5 1.5l-1.5 1.5l-1.5 -1.5ZM283.7 425.9l1.5 1.5l-1.5 1.5l-1.5 -1.5ZM284.9 425.8l1.5 1.5l-1.5 1.5l-1.5 -1.5ZM287 427.7l1.5 1.5l-1.5 1.5l-1.5 -1.5ZM287.3 428.3l1.5 1.5l-1.5 1.5l-1.5 -1.5ZM288.7 428.9l1.5 1.5l-1.5 1.5l-1.5 -1.5ZM288.9 430.8l1.5 1.5l-1.5 1.5l-1.5 -1.5ZM291.4 430.5l1.5 1.5l-1.5 1.5l-1.5 -1.5ZM292.1 429.7l1.5 1.5l-1.5 1.5l-1.5 -1.5ZM294 429.8l1.5 1.5l-1.5 1.5l-1.5 -1.5ZM295.3 431l1.5 1.5l-1.5 1.5l-1.5 -1.5ZM296.7 430.1l1.5 1.5l-1.5 1.5l-1.5 -1.5ZM298.5 431.7l1.5 1.5l-1.5 1.5l-1.5 -1.5ZM298.8 431.6l1.5 1.5l-1.5 1.5l-1.5 -1.5ZM301 432.9l1.5 1.5l-1.5 1.5l-1.5 -1.5ZM301 434.4l1.5 1.5l-1.5 1.5l-1.5 -1.5ZM302.8 433.9l1.5 1.5l-1.5 1.5l-1.5 -1.5ZM303.5 432.7l1.5 1.5l-1.5 1.5l-1.5 -1.5ZM304.4 432.5l1.5 1.5l-1.5 1.5l-1.5 -1.5ZM305.1 431.4l1.5 1.5l-1.5 1.5l-1.5 -1.5ZM305.3 429.9l1.5 1.5l-1.5 1.5l-1.5 -1.5ZM306.8 428.9l1.5 1.5l-1.5 1.5l-1.5 -1.5ZM308.4 428l1.5 1.5l-1.5 1.5l-1.5 -1.5ZM310.2 429.5l1.5 1.5l-1.5 1.5l-1.5 -1.5ZM311.9 429.9l1.5 1.5l-1.5 1.5l-1.5 -1.5ZM313.7 427.8l1.5 1.5l-1.5 1.5l-1.5 -1.5ZM313.4 426.3l1.5 1.5l-1.5 1.5l-1.5 -1.5ZM313.5 425.6l1.5 1.5l-1.5 1.5l-1.5 -1.5ZM314.6 424.2l1.5 1.5l-1.5 1.5l-1.5 -1.5ZM314.6 422.9l1.5 1.5l-1.5 1.5l-1.5 -1.5ZM316.3 421.2l1.5 1.5l-1.5 1.5l-1.5 -1.5ZM317.3 421.9l1.5 1.5l-1.5 1.5l-1.5 -1.5ZM319.2 422.7l1.5 1.5l-1.5 1.5l-1.5 -1.5ZM319.9 423.5l1.5 1.5l-1.5 1.5l-1.5 -1.5ZM320.6 425.9l1.5 1.5l-1.5 1.5l-1.5 -1.5ZM320.5 427.3l1.5 1.5l-1.5 1.5l-1.5 -1.5ZM322.3 428.5l1.5 1.5l-1.5 1.5l-1.5 -1.5ZM322 429.4l1.5 1.5l-1.5 1.5l-1.5 -1.5ZM321.6 430.8l1.5 1.5l-1.5 1.5l-1.5 -1.5ZM322.8 432.8l1.5 1.5l-1.5 1.5l-1.5 -1.5ZM325.1 433.4l1.5 1.5l-1.5 1.5l-1.5 -1.5ZM326.8 434.2l1.5 1.5l-1.5 1.5l-1.5 -1.5ZM327.8 434.2l1.5 1.5l-1.5 1.5l-1.5 -1.5ZM329.7 432.7l1.5 1.5l-1.5 1.5l-1.5 -1.5ZM331 432.7l1.5 1.5l-1.5 1.5l-1.5 -1.5ZM332.2 431.3l1.5 1.5l-1.5 1.5l-1.5 -1.5ZM334.2 431.9l1.5 1.5l-1.5 1.5l-1.5 -1.5ZM334.9 433.4l1.5 1.5l-1.5 1.5l-1.5 -1.5ZM335.9 433.2l1.5 1.5l-1.5 1.5l-1.5 -1.5ZM336.7 435l1.5 1.5l-1.5 1.5l-1.5 -1.5ZM338.4 434.8l1.5 1.5l-1.5 1.5l-1.5 -1.5ZM340.5 432.5l1.5 1.5l-1.5 1.5l-1.5 -1.5ZM341 432.1l1.5 1.5l-1.5 1.5l-1.5 -1.5ZM341 430.7l1.5 1.5l-1.5 1.5l-1.5 -1.5ZM342.3 429.9l1.5 1.5l-1.5 1.5l-1.5 -1.5ZM343.5 427.7l1.5 1.5l-1.5 1.5l-1.5 -1.5ZM343.6 424.9l1.5 1.5l-1.5 1.5l-1.5 -1.5ZM345.3 424.2l1.5 1.5l-1.5 1.5l-1.5 -1.5ZM345.4 423.4l1.5 1.5l-1.5 1.5l-1.5 -1.5ZM346.3 424.5l1.5 1.5l-1.5 1.5l-1.5 -1.5ZM348.4 425.6l1.5 1.5l-1.5 1.5l-1.5 -1.5ZM349.1 426.4l1.5 1.5l-1.5 1.5l-1.5 -1.5ZM349.3 427.4l1.5 1.5l-1.5 1.5l-1.5 -1.5ZM350 428l1.5 1.5l-1.5 1.5l-1.5 -1.5ZM351.6 429.5l1.5 1.5l-1.5 1.5l-1.5 -1.5ZM353.6 429.9l1.5 1.5l-1.5 1.5l-1.5 -1.5ZM355.1 430.8l1.5 1.5l-1.5 1.5l-1.5 -1.5ZM356.1 431.4l1.5 1.5l-1.5 1.5l-1.5 -1.5ZM357.6 430.7l1.5 1.5l-1.5 1.5l-1.5 -1.5ZM359.1 431.1l1.5 1.5l-1.5 1.5l-1.5 -1.5ZM360.8 430.7l1.5 1.5l-1.5 1.5l-1.5 -1.5ZM363.1 431l1.5 1.5l-1.5 1.5l-1.5 -1.5ZM365 431.6l1.5 1.5l-1.5 1.5l-1.5 -1.5ZM365.5 432.9l1.5 1.5l-1.5 1.5l-1.5 -1.5ZM366.2 433.6l1.5 1.5l-1.5 1.5l-1.5 -1.5ZM367.3 434.8l1.5 1.5l-1.5 1.5l-1.5 -1.5ZM369.8 434.4l1.5 1.5l-1.5 1.5l-1.5 -1.5ZM370.9 433.8l1.5 1.5l-1.5 1.5l-1.5 -1.5ZM372.1 433.8l1.5 1.5l-1.5 1.5l-1.5 -1.5ZM375.1 433.9l1.5 1.5l-1.5 1.5l-1.5 -1.5ZM375.7 434.1l1.5 1.5l-1.5 1.5l-1.5 -1.5ZM377.1 433.8l1.5 1.5l-1.5 1.5l-1.5 -1.5ZM379.2 434.8l1.5 1.5l-1.5 1.5l-1.5 -1.5ZM380.4 434.2l1.5 1.5l-1.5 1.5l-1.5 -1.5ZM382.6 434.7l1.5 1.5l-1.5 1.5l-1.5 -1.5ZM383.5 434.5l1.5 1.5l-1.5 1.5l-1.5 -1.5ZM384.6 434.2l1.5 1.5l-1.5 1.5l-1.5 -1.5ZM385.7 435l1.5 1.5l-1.5 1.5l-1.5 -1.5ZM387.9 434.5l1.5 1.5l-1.5 1.5l-1.5 -1.5ZM389.4 434l1.5 1.5l-1.5 1.5l-1.5 -1.5ZM389.4 435l1.5 1.5l-1.5 1.5l-1.5 -1.5ZM389.8 436.8l1.5 1.5l-1.5 1.5l-1.5 -1.5ZM390.3 439.3l1.5 1.5l-1.5 1.5l-1.5 -1.5ZM390.2 439.6l1.5 1.5l-1.5 1.5l-1.5 -1.5ZM390.3 441.9l1.5 1.5l-1.5 1.5l-1.5 -1.5ZM389.8 442.4l1.5 1.5l-1.5 1.5l-1.5 -1.5ZM390.4 444.3l1.5 1.5l-1.5 1.5l-1.5 -1.5ZM389.8 445.8l1.5 1.5l-1.5 1.5l-1.5 -1.5ZM389.9 447.3l1.5 1.5l-1.5 1.5l-1.5 -1.5ZM389.6 448.7l1.5 1.5l-1.5 1.5l-1.5 -1.5ZM390.6 450.6l1.5 1.5l-1.5 1.5l-1.5 -1.5ZM391 451.5l1.5 1.5l-1.5 1.5l-1.5 -1.5Z" fill="#0000ff" fill-opacity="1"/><path d="M240.1 436.5L240.1 403.6L240.8 402.1L240.8 369.2L242.5 367.6L244.2 369.2L244.2 402.1L244.9 403.6L244.9 436.5Z" fill="#0000ff"/></g>
<rect x="89.50" y="359.50" width="319.00" height="103.00" fill="none" stroke="#000" stroke-width="1.1"/>
<path d="M94.50 462.50v4.9M122.50 462.50v4.9M149.50 462.50v4.9M177.50 462.50v4.9M204.50 462.50v4.9M232.50 462.50v4.9M260.50 462.50v4.9M287.50 462.50v4.9M315.50 462.50v4.9M343.50 462.50v4.9M370.50 462.50v4.9M398.50 462.50v4.9M89.50 389.50h-4.9M89.50 426.50h-4.9" stroke="#000" stroke-width="1.1" fill="none"/>
<text x="94.45" y="482.95" font-size="14.15" text-anchor="middle" textLength="40.03" lengthAdjust="spacingAndGlyphs">21:00</text>
<text x="122.09" y="482.95" font-size="14.15" text-anchor="middle" textLength="40.03" lengthAdjust="spacingAndGlyphs">22:00</text>
<text x="149.72" y="482.95" font-size="14.15" text-anchor="middle" textLength="40.03" lengthAdjust="spacingAndGlyphs">23:00</text>
<text x="177.36" y="482.95" font-size="14.15" text-anchor="middle" textLength="40.03" lengthAdjust="spacingAndGlyphs">00:00</text>
<text x="205.00" y="482.95" font-size="14.15" text-anchor="middle" textLength="40.03" lengthAdjust="spacingAndGlyphs">01:00</text>
<text x="232.63" y="482.95" font-size="14.15" text-anchor="middle" textLength="40.03" lengthAdjust="spacingAndGlyphs">02:00</text>
<text x="260.27" y="482.95" font-size="14.15" text-anchor="middle" textLength="40.03" lengthAdjust="spacingAndGlyphs">03:00</text>
<text x="287.91" y="482.95" font-size="14.15" text-anchor="middle" textLength="40.03" lengthAdjust="spacingAndGlyphs">04:00</text>
<text x="315.55" y="482.95" font-size="14.15" text-anchor="middle" textLength="40.03" lengthAdjust="spacingAndGlyphs">05:00</text>
<text x="343.18" y="482.95" font-size="14.15" text-anchor="middle" textLength="40.03" lengthAdjust="spacingAndGlyphs">06:00</text>
<text x="370.82" y="482.95" font-size="14.15" text-anchor="middle" textLength="40.03" lengthAdjust="spacingAndGlyphs">07:00</text>
<text x="398.46" y="482.95" font-size="14.15" text-anchor="middle" textLength="40.03" lengthAdjust="spacingAndGlyphs">08:00</text>
<text x="78.10" y="394.40" font-size="14.15" text-anchor="end" textLength="26.51" lengthAdjust="spacingAndGlyphs">400</text>
<text x="78.10" y="431.40" font-size="14.15" text-anchor="end" textLength="26.51" lengthAdjust="spacingAndGlyphs">200</text>
<text x="248.00" y="350.90" font-size="16.95" text-anchor="middle" textLength="193.47" lengthAdjust="spacingAndGlyphs">NoRP 3.75GHz Stokes-I</text>
<text x="43.00" y="411.00" font-size="14.15" text-anchor="middle" textLength="71.10" lengthAdjust="spacingAndGlyphs" transform="rotate(-90 43.00 411.00)">Flux [SFU]</text>
</g>
<g id="ax30">
<clipPath id="cp30"><rect x="89.50" y="522.50" width="319.00" height="103.00"/></clipPath>
<g clip-path="url(#cp30)"><path d="M106.4 617L106.6 613L107 611L108.5 610.6L115.6 610.6L116.1 609.3L116.6 610.6L136.9 610.6L137.4 609L137.9 610.6L143.6 610.6L144.1 609.2L144.6 610.6L200 610.7L241 610.6" fill="none" stroke="#0000ff" stroke-width="3.6" stroke-linejoin="round" stroke-linecap="round"/><path d="M106.8 615.1l1.5 1.5l-1.5 1.5l-1.5 -1.5ZM106.8 613.3l1.5 1.5l-1.5 1.5l-1.5 -1.5ZM107.1 611.6l1.5 1.5l-1.5 1.5l-1.5 -1.5ZM106.9 611.2l1.5 1.5l-1.5 1.5l-1.5 -1.5ZM107.8 609.4l1.5 1.5l-1.5 1.5l-1.5 -1.5ZM109 608.8l1.5 1.5l-1.5 1.5l-1.5 -1.5ZM111 609.2l1.5 1.5l-1.5 1.5l-1.5 -1.5ZM111.7 608.7l1.5 1.5l-1.5 1.5l-1.5 -1.5ZM113.2 608.6l1.5 1.5l-1.5 1.5l-1.5 -1.5ZM114.9 608.5l1.5 1.5l-1.5 1.5l-1.5 -1.5ZM115 608.8l1.5 1.5l-1.5 1.5l-1.5 -1.5ZM115.8 608.1l1.5 1.5l-1.5 1.5l-1.5 -1.5ZM116.8 609l1.5 1.5l-1.5 1.5l-1.5 -1.5ZM119 609.1l1.5 1.5l-1.5 1.5l-1.5 -1.5ZM119.5 609.7l1.5 1.5l-1.5 1.5l-1.5 -1.5ZM121.8 608.4l1.5 1.5l-1.5 1.5l-1.5 -1.5ZM122.4 609.1l1.5 1.5l-1.5 1.5l-1.5 -1.5ZM124.4 608.9l1.5 1.5l-1.5 1.5l-1.5 -1.5ZM125.7 608.7l1.5 1.5l-1.5 1.5l-1.5 -1.5ZM127 608.8l1.5 1.5l-1.5 1.5l-1.5 -1.5ZM127.9 609.5l1.5 1.5l-1.5 1.5l-1.5 -1.5ZM129.9 609.6l1.5 1.5l-1.5 1.5l-1.5 -1.5ZM130.9 609l1.5 1.5l-1.5 1.5l-1.5 -1.5ZM132.4 609.3l1.5 1.5l-1.5 1.5l-1.5 -1.5ZM134 609.6l1.5 1.5l-1.5 1.5l-1.5 -1.5ZM134.4 608.9l1.5 1.5l-1.5 1.5l-1.5 -1.5ZM136.5 608.7l1.5 1.5l-1.5 1.5l-1.5 -1.5ZM136.2 608.6l1.5 1.5l-1.5 1.5l-1.5 -1.5ZM137 608.6l1.5 1.5l-1.5 1.5l-1.5 -1.5ZM139.3 608.5l1.5 1.5l-1.5 1.5l-1.5 -1.5ZM140.3 609l1.5 1.5l-1.5 1.5l-1.5 -1.5ZM141.6 608.9l1.5 1.5l-1.5 1.5l-1.5 -1.5ZM143.5 609.9l1.5 1.5l-1.5 1.5l-1.5 -1.5ZM143.9 609.1l1.5 1.5l-1.5 1.5l-1.5 -1.5ZM144.8 607.6l1.5 1.5l-1.5 1.5l-1.5 -1.5ZM145 609.5l1.5 1.5l-1.5 1.5l-1.5 -1.5ZM147.2 608.5l1.5 1.5l-1.5 1.5l-1.5 -1.5ZM147.7 608.3l1.5 1.5l-1.5 1.5l-1.5 -1.5ZM149.3 609.1l1.5 1.5l-1.5 1.5l-1.5 -1.5ZM150.4 608.8l1.5 1.5l-1.5 1.5l-1.5 -1.5ZM152.3 609.7l1.5 1.5l-1.5 1.5l-1.5 -1.5ZM152.9 608.9l1.5 1.5l-1.5 1.5l-1.5 -1.5ZM154.6 609.5l1.5 1.5l-1.5 1.5l-1.5 -1.5ZM156.4 608.9l1.5 1.5l-1.5 1.5l-1.5 -1.5ZM157.4 609.2l1.5 1.5l-1.5 1.5l-1.5 -1.5ZM158.8 608.6l1.5 1.5l-1.5 1.5l-1.5 -1.5ZM159.3 608.5l1.5 1.5l-1.5 1.5l-1.5 -1.5ZM161.7 608.7l1.5 1.5l-1.5 1.5l-1.5 -1.5ZM162.4 608.5l1.5 1.5l-1.5 1.5l-1.5 -1.5ZM163.5 608.4l1.5 1.5l-1.5 1.5l-1.5 -1.5ZM165.1 608.6l1.5 1.5l-1.5 1.5l-1.5 -1.5ZM166.5 608.8l1.5 1.5l-1.5 1.5l-1.5 -1.5ZM167.3 609.1l1.5 1.5l-1.5 1.5l-1.5 -1.5ZM168.8 608.8l1.5 1.5l-1.5 1.5l-1.5 -1.5ZM169.7 608.4l1.5 1.5l-1.5 1.5l-1.5 -1.5ZM172.2 608.8l1.5 1.5l-1.5 1.5l-1.5 -1.5ZM172.4 608.6l1.5 1.5l-1.5 1.5l-1.5 -1.5ZM174.3 609.9l1.5 1.5l-1.5 1.5l-1.5 -1.5ZM175.2 609.7l1.5 1.5l-1.5 1.5l-1.5 -1.5ZM176.9 609l1.5 1.5l-1.5 1.5l-1.5 -1.5ZM178.6 609l1.5 1.5l-1.5 1.5l-1.5 -1.5ZM179 609.2l1.5 1.5l-1.5 1.5l-1.5 -1.5ZM181.1 609.4l1.5 1.5l-1.5 1.5l-1.5 -1.5ZM181.9 609.9l1.5 1.5l-1.5 1.5l-1.5 -1.5ZM184 610l1.5 1.5l-1.5 1.5l-1.5 -1.5ZM184.8 609.7l1.5 1.5l-1.5 1.5l-1.5 -1.5ZM186.4 608.7l1.5 1.5l-1.5 1.5l-1.5 -1.5ZM186.8 608.6l1.5 1.5l-1.5 1.5l-1.5 -1.5ZM188.3 608.5l1.5 1.5l-1.5 1.5l-1.5 -1.5ZM189.9 609.6l1.5 1.5l-1.5 1.5l-1.5 -1.5ZM191.2 609.2l1.5 1.5l-1.5 1.5l-1.5 -1.5ZM192.1 608.7l1.5 1.5l-1.5 1.5l-1.5 -1.5ZM194.7 608.4l1.5 1.5l-1.5 1.5l-1.5 -1.5ZM195.4 609.7l1.5 1.5l-1.5 1.5l-1.5 -1.5ZM197.1 609.6l1.5 1.5l-1.5 1.5l-1.5 -1.5ZM197.9 609.7l1.5 1.5l-1.5 1.5l-1.5 -1.5ZM199.8 609.6l1.5 1.5l-1.5 1.5l-1.5 -1.5ZM201.3 608.6l1.5 1.5l-1.5 1.5l-1.5 -1.5ZM202.6 609l1.5 1.5l-1.5 1.5l-1.5 -1.5ZM203.6 608.8l1.5 1.5l-1.5 1.5l-1.5 -1.5ZM205.2 608.4l1.5 1.5l-1.5 1.5l-1.5 -1.5ZM206.1 608.7l1.5 1.5l-1.5 1.5l-1.5 -1.5ZM207.1 609l1.5 1.5l-1.5 1.5l-1.5 -1.5ZM208.8 609.7l1.5 1.5l-1.5 1.5l-1.5 -1.5ZM209.7 609.4l1.5 1.5l-1.5 1.5l-1.5 -1.5ZM211 608.8l1.5 1.5l-1.5 1.5l-1.5 -1.5ZM213.1 608.9l1.5 1.5l-1.5 1.5l-1.5 -1.5ZM213.3 608.9l1.5 1.5l-1.5 1.5l-1.5 -1.5ZM215.5 608.7l1.5 1.5l-1.5 1.5l-1.5 -1.5ZM216.9 609.2l1.5 1.5l-1.5 1.5l-1.5 -1.5ZM218.1 608.6l1.5 1.5l-1.5 1.5l-1.5 -1.5ZM218.7 608.6l1.5 1.5l-1.5 1.5l-1.5 -1.5ZM220.3 609l1.5 1.5l-1.5 1.5l-1.5 -1.5ZM221.2 609.2l1.5 1.5l-1.5 1.5l-1.5 -1.5ZM223 608.9l1.5 1.5l-1.5 1.5l-1.5 -1.5ZM224.5 609.9l1.5 1.5l-1.5 1.5l-1.5 -1.5ZM225.4 609.7l1.5 1.5l-1.5 1.5l-1.5 -1.5ZM226.9 609.5l1.5 1.5l-1.5 1.5l-1.5 -1.5ZM227.9 609.9l1.5 1.5l-1.5 1.5l-1.5 -1.5ZM229.7 609.9l1.5 1.5l-1.5 1.5l-1.5 -1.5ZM230.7 609l1.5 1.5l-1.5 1.5l-1.5 -1.5ZM232.7 608.6l1.5 1.5l-1.5 1.5l-1.5 -1.5ZM233.4 609.4l1.5 1.5l-1.5 1.5l-1.5 -1.5ZM235.6 608.8l1.5 1.5l-1.5 1.5l-1.5 -1.5ZM236 608.9l1.5 1.5l-1.5 1.5l-1.5 -1.5ZM238.3 608.5l1.5 1.5l-1.5 1.5l-1.5 -1.5ZM239.2 608.9l1.5 1.5l-1.5 1.5l-1.5 -1.5ZM240.5 608.6l1.5 1.5l-1.5 1.5l-1.5 -1.5Z" fill="#0000ff" fill-opacity="1"/><path d="M239 610.5L239.8 606.5L239.8 583.1L240.9 581.6L240.9 531.5L242.5 529.9L244.1 531.5L244.1 581.6L244.9 583.1L244.9 606.5L245.7 610.5Z" fill="#0000ff"/><path d="M243.6 609.9L246 610L260 610.3L330 610.3L360 610.2L372 609.8L375.2 608.5L378 609.6L385 609.8L389 610.2" fill="none" stroke="#0000ff" stroke-width="3.8" stroke-linejoin="round" stroke-linecap="round"/><path d="M245.1 609.2l1.5 1.5l-1.5 1.5l-1.5 -1.5ZM247.2 608.8l1.5 1.5l-1.5 1.5l-1.5 -1.5ZM248.1 608.7l1.5 1.5l-1.5 1.5l-1.5 -1.5ZM248.9 609.2l1.5 1.5l-1.5 1.5l-1.5 -1.5ZM251.2 608.5l1.5 1.5l-1.5 1.5l-1.5 -1.5ZM252.5 608.5l1.5 1.5l-1.5 1.5l-1.5 -1.5ZM253.5 608.2l1.5 1.5l-1.5 1.5l-1.5 -1.5ZM255.2 608.8l1.5 1.5l-1.5 1.5l-1.5 -1.5ZM256.5 607.9l1.5 1.5l-1.5 1.5l-1.5 -1.5ZM258.1 608.7l1.5 1.5l-1.5 1.5l-1.5 -1.5ZM259.4 609l1.5 1.5l-1.5 1.5l-1.5 -1.5ZM261.2 608.2l1.5 1.5l-1.5 1.5l-1.5 -1.5ZM261.9 609.7l1.5 1.5l-1.5 1.5l-1.5 -1.5ZM263.6 608.5l1.5 1.5l-1.5 1.5l-1.5 -1.5ZM264.9 609.7l1.5 1.5l-1.5 1.5l-1.5 -1.5ZM265.8 609.5l1.5 1.5l-1.5 1.5l-1.5 -1.5ZM266.8 609.7l1.5 1.5l-1.5 1.5l-1.5 -1.5ZM268.6 608.3l1.5 1.5l-1.5 1.5l-1.5 -1.5ZM270.4 609.1l1.5 1.5l-1.5 1.5l-1.5 -1.5ZM271.8 609.4l1.5 1.5l-1.5 1.5l-1.5 -1.5ZM272.9 608.8l1.5 1.5l-1.5 1.5l-1.5 -1.5ZM274.5 608l1.5 1.5l-1.5 1.5l-1.5 -1.5ZM275.7 609.2l1.5 1.5l-1.5 1.5l-1.5 -1.5ZM276.2 609.4l1.5 1.5l-1.5 1.5l-1.5 -1.5ZM277.8 608.9l1.5 1.5l-1.5 1.5l-1.5 -1.5ZM279.6 608.3l1.5 1.5l-1.5 1.5l-1.5 -1.5ZM280.2 609.1l1.5 1.5l-1.5 1.5l-1.5 -1.5ZM281.2 608.9l1.5 1.5l-1.5 1.5l-1.5 -1.5ZM283.5 608.8l1.5 1.5l-1.5 1.5l-1.5 -1.5ZM284.1 609.3l1.5 1.5l-1.5 1.5l-1.5 -1.5ZM286.2 609.3l1.5 1.5l-1.5 1.5l-1.5 -1.5ZM287.1 609.5l1.5 1.5l-1.5 1.5l-1.5 -1.5ZM288.8 608.2l1.5 1.5l-1.5 1.5l-1.5 -1.5ZM289.5 608.1l1.5 1.5l-1.5 1.5l-1.5 -1.5ZM290.4 608.5l1.5 1.5l-1.5 1.5l-1.5 -1.5ZM292.8 609.4l1.5 1.5l-1.5 1.5l-1.5 -1.5ZM293.2 608.2l1.5 1.5l-1.5 1.5l-1.5 -1.5ZM294.9 609.4l1.5 1.5l-1.5 1.5l-1.5 -1.5ZM296.5 609.5l1.5 1.5l-1.5 1.5l-1.5 -1.5ZM297.1 609.7l1.5 1.5l-1.5 1.5l-1.5 -1.5ZM298.6 609l1.5 1.5l-1.5 1.5l-1.5 -1.5ZM300.8 609.2l1.5 1.5l-1.5 1.5l-1.5 -1.5ZM301.2 609.1l1.5 1.5l-1.5 1.5l-1.5 -1.5ZM302.8 607.9l1.5 1.5l-1.5 1.5l-1.5 -1.5ZM304 608.5l1.5 1.5l-1.5 1.5l-1.5 -1.5ZM305.7 608.4l1.5 1.5l-1.5 1.5l-1.5 -1.5ZM307 609.2l1.5 1.5l-1.5 1.5l-1.5 -1.5ZM307.8 608.1l1.5 1.5l-1.5 1.5l-1.5 -1.5ZM309.8 608.7l1.5 1.5l-1.5 1.5l-1.5 -1.5ZM310.4 608.1l1.5 1.5l-1.5 1.5l-1.5 -1.5ZM312.8 609l1.5 1.5l-1.5 1.5l-1.5 -1.5ZM313.3 608.3l1.5 1.5l-1.5 1.5l-1.5 -1.5ZM315.5 609.1l1.5 1.5l-1.5 1.5l-1.5 -1.5ZM316.4 608.5l1.5 1.5l-1.5 1.5l-1.5 -1.5ZM317.2 608.6l1.5 1.5l-1.5 1.5l-1.5 -1.5ZM318.3 609l1.5 1.5l-1.5 1.5l-1.5 -1.5ZM320 609.4l1.5 1.5l-1.5 1.5l-1.5 -1.5ZM321.3 608.7l1.5 1.5l-1.5 1.5l-1.5 -1.5ZM322.7 609.6l1.5 1.5l-1.5 1.5l-1.5 -1.5ZM323.9 609.2l1.5 1.5l-1.5 1.5l-1.5 -1.5ZM325 608.9l1.5 1.5l-1.5 1.5l-1.5 -1.5ZM326.4 609.5l1.5 1.5l-1.5 1.5l-1.5 -1.5ZM327.7 609.4l1.5 1.5l-1.5 1.5l-1.5 -1.5ZM329.6 608.7l1.5 1.5l-1.5 1.5l-1.5 -1.5ZM331.2 608.6l1.5 1.5l-1.5 1.5l-1.5 -1.5ZM332.3 609l1.5 1.5l-1.5 1.5l-1.5 -1.5ZM333.2 608l1.5 1.5l-1.5 1.5l-1.5 -1.5ZM334.5 608.4l1.5 1.5l-1.5 1.5l-1.5 -1.5ZM335.8 609.6l1.5 1.5l-1.5 1.5l-1.5 -1.5ZM336.9 609.1l1.5 1.5l-1.5 1.5l-1.5 -1.5ZM338.7 608.3l1.5 1.5l-1.5 1.5l-1.5 -1.5ZM339.7 608.1l1.5 1.5l-1.5 1.5l-1.5 -1.5ZM341.6 608.3l1.5 1.5l-1.5 1.5l-1.5 -1.5ZM342.3 608.5l1.5 1.5l-1.5 1.5l-1.5 -1.5ZM344.1 609.4l1.5 1.5l-1.5 1.5l-1.5 -1.5ZM345.1 608.8l1.5 1.5l-1.5 1.5l-1.5 -1.5ZM345.8 609.5l1.5 1.5l-1.5 1.5l-1.5 -1.5ZM347.1 608.5l1.5 1.5l-1.5 1.5l-1.5 -1.5ZM348.8 609.1l1.5 1.5l-1.5 1.5l-1.5 -1.5ZM350.4 608.5l1.5 1.5l-1.5 1.5l-1.5 -1.5ZM352 609.5l1.5 1.5l-1.5 1.5l-1.5 -1.5ZM352.2 609l1.5 1.5l-1.5 1.5l-1.5 -1.5ZM354.1 608.5l1.5 1.5l-1.5 1.5l-1.5 -1.5ZM355.4 608.4l1.5 1.5l-1.5 1.5l-1.5 -1.5ZM357 608.9l1.5 1.5l-1.5 1.5l-1.5 -1.5ZM358.7 609.6l1.5 1.5l-1.5 1.5l-1.5 -1.5ZM360 608.5l1.5 1.5l-1.5 1.5l-1.5 -1.5ZM361.1 608.9l1.5 1.5l-1.5 1.5l-1.5 -1.5ZM362.3 609.5l1.5 1.5l-1.5 1.5l-1.5 -1.5ZM362.8 608.5l1.5 1.5l-1.5 1.5l-1.5 -1.5ZM364.5 608.8l1.5 1.5l-1.5 1.5l-1.5 -1.5ZM365.7 609.4l1.5 1.5l-1.5 1.5l-1.5 -1.5ZM366.9 608.2l1.5 1.5l-1.5 1.5l-1.5 -1.5ZM368.2 608.2l1.5 1.5l-1.5 1.5l-1.5 -1.5ZM370.3 607.6l1.5 1.5l-1.5 1.5l-1.5 -1.5ZM370.9 608.6l1.5 1.5l-1.5 1.5l-1.5 -1.5ZM373.2 608.3l1.5 1.5l-1.5 1.5l-1.5 -1.5ZM374.2 608l1.5 1.5l-1.5 1.5l-1.5 -1.5ZM376 607.9l1.5 1.5l-1.5 1.5l-1.5 -1.5ZM376.8 607.6l1.5 1.5l-1.5 1.5l-1.5 -1.5ZM378 608.7l1.5 1.5l-1.5 1.5l-1.5 -1.5ZM380.7 608.9l1.5 1.5l-1.5 1.5l-1.5 -1.5ZM380.8 607.9l1.5 1.5l-1.5 1.5l-1.5 -1.5ZM382.9 608.3l1.5 1.5l-1.5 1.5l-1.5 -1.5ZM383.7 608.8l1.5 1.5l-1.5 1.5l-1.5 -1.5ZM385.4 608.4l1.5 1.5l-1.5 1.5l-1.5 -1.5ZM386.5 608.6l1.5 1.5l-1.5 1.5l-1.5 -1.5ZM387.9 607.8l1.5 1.5l-1.5 1.5l-1.5 -1.5Z" fill="#0000ff" fill-opacity="1"/><path d="M156.7 601.5L156.7 614.2" fill="none" stroke="#0000ff" stroke-width="3.2" stroke-linejoin="round" stroke-linecap="round"/><path d="M156.7 597.5l1.6 1.6l-1.6 1.6l-1.6 -1.6ZM156.8 598.9l1.6 1.6l-1.6 1.6l-1.6 -1.6ZM156.7 600.3l1.6 1.6l-1.6 1.6l-1.6 -1.6Z" fill="#0000ff" fill-opacity="0.4"/><path d="M156.6 612.5l1.6 1.6l-1.6 1.6l-1.6 -1.6ZM156.7 614.1l1.6 1.6l-1.6 1.6l-1.6 -1.6Z" fill="#0000ff" fill-opacity="0.4"/><path d="M389.7 610.5l1.6 1.6l-1.6 1.6l-1.6 -1.6ZM389.7 611.7l1.6 1.6l-1.6 1.6l-1.6 -1.6ZM389.7 613l1.6 1.6l-1.6 1.6l-1.6 -1.6ZM389.5 614.7l1.6 1.6l-1.6 1.6l-1.6 -1.6Z" fill="#0000ff" fill-opacity="0.4"/><rect x="102.5" y="623.8" width="5.7" height="3" fill="#0000ff"/><rect x="155.8" y="623.8" width="2" height="3" fill="#0000ff"/><rect x="162.3" y="623.8" width="3.3" height="3" fill="#0000ff"/><rect x="241.6" y="623.8" width="7" height="3" fill="#0000ff"/><rect x="328.8" y="623.8" width="2.6" height="3" fill="#0000ff"/><rect x="388.8" y="623.8" width="5.8" height="3" fill="#0000ff"/></g>
<rect x="89.50" y="522.50" width="319.00" height="103.00" fill="none" stroke="#000" stroke-width="1.1"/>
<path d="M94.50 625.50v4.9M122.50 625.50v4.9M149.50 625.50v4.9M177.50 625.50v4.9M204.50 625.50v4.9M232.50 625.50v4.9M260.50 625.50v4.9M287.50 625.50v4.9M315.50 625.50v4.9M343.50 625.50v4.9M370.50 625.50v4.9M398.50 625.50v4.9M89.50 538.50h-4.9M89.50 581.50h-4.9" stroke="#000" stroke-width="1.1" fill="none"/>
<text x="94.45" y="644.95" font-size="14.15" text-anchor="middle" textLength="40.03" lengthAdjust="spacingAndGlyphs">21:00</text>
<text x="122.09" y="644.95" font-size="14.15" text-anchor="middle" textLength="40.03" lengthAdjust="spacingAndGlyphs">22:00</text>
<text x="149.72" y="644.95" font-size="14.15" text-anchor="middle" textLength="40.03" lengthAdjust="spacingAndGlyphs">23:00</text>
<text x="177.36" y="644.95" font-size="14.15" text-anchor="middle" textLength="40.03" lengthAdjust="spacingAndGlyphs">00:00</text>
<text x="205.00" y="644.95" font-size="14.15" text-anchor="middle" textLength="40.03" lengthAdjust="spacingAndGlyphs">01:00</text>
<text x="232.63" y="644.95" font-size="14.15" text-anchor="middle" textLength="40.03" lengthAdjust="spacingAndGlyphs">02:00</text>
<text x="260.27" y="644.95" font-size="14.15" text-anchor="middle" textLength="40.03" lengthAdjust="spacingAndGlyphs">03:00</text>
<text x="287.91" y="644.95" font-size="14.15" text-anchor="middle" textLength="40.03" lengthAdjust="spacingAndGlyphs">04:00</text>
<text x="315.55" y="644.95" font-size="14.15" text-anchor="middle" textLength="40.03" lengthAdjust="spacingAndGlyphs">05:00</text>
<text x="343.18" y="644.95" font-size="14.15" text-anchor="middle" textLength="40.03" lengthAdjust="spacingAndGlyphs">06:00</text>
<text x="370.82" y="644.95" font-size="14.15" text-anchor="middle" textLength="40.03" lengthAdjust="spacingAndGlyphs">07:00</text>
<text x="398.46" y="644.95" font-size="14.15" text-anchor="middle" textLength="40.03" lengthAdjust="spacingAndGlyphs">08:00</text>
<text x="78.10" y="543.40" font-size="14.15" text-anchor="end" textLength="35.35" lengthAdjust="spacingAndGlyphs">2000</text>
<text x="78.10" y="586.40" font-size="14.15" text-anchor="end" textLength="35.35" lengthAdjust="spacingAndGlyphs">1000</text>
<text x="248.00" y="512.90" font-size="16.95" text-anchor="middle" textLength="182.87" lengthAdjust="spacingAndGlyphs">NoRP 9.4GHz Stokes-I</text>
<text x="33.70" y="574.00" font-size="14.15" text-anchor="middle" textLength="71.10" lengthAdjust="spacingAndGlyphs" transform="rotate(-90 33.70 574.00)">Flux [SFU]</text>
</g>
<g id="ax40">
<clipPath id="cp40"><rect x="89.50" y="684.50" width="319.00" height="103.00"/></clipPath>
<g clip-path="url(#cp40)"><path d="M106.4 771.5L106.6 767L107 763.6L108.5 763.2L120 762.8L137 761.8L160 761.4L200 761L241 760.4" fill="none" stroke="#0000ff" stroke-width="4.5" stroke-linejoin="round" stroke-linecap="round"/><path d="M107.6 768.8l1.5 1.5l-1.5 1.5l-1.5 -1.5ZM105.3 767.8l1.5 1.5l-1.5 1.5l-1.5 -1.5ZM107.3 766.8l1.5 1.5l-1.5 1.5l-1.5 -1.5ZM107.3 764.3l1.5 1.5l-1.5 1.5l-1.5 -1.5ZM106.9 763.5l1.5 1.5l-1.5 1.5l-1.5 -1.5ZM106.8 761.1l1.5 1.5l-1.5 1.5l-1.5 -1.5ZM109 762.8l1.5 1.5l-1.5 1.5l-1.5 -1.5ZM110.9 762.5l1.5 1.5l-1.5 1.5l-1.5 -1.5ZM111.4 761.4l1.5 1.5l-1.5 1.5l-1.5 -1.5ZM112.9 760.9l1.5 1.5l-1.5 1.5l-1.5 -1.5ZM114.4 762.5l1.5 1.5l-1.5 1.5l-1.5 -1.5ZM116.2 761.4l1.5 1.5l-1.5 1.5l-1.5 -1.5ZM118.1 762.3l1.5 1.5l-1.5 1.5l-1.5 -1.5ZM119.9 761.5l1.5 1.5l-1.5 1.5l-1.5 -1.5ZM120.7 762.3l1.5 1.5l-1.5 1.5l-1.5 -1.5ZM121.8 760.7l1.5 1.5l-1.5 1.5l-1.5 -1.5ZM123.5 760.5l1.5 1.5l-1.5 1.5l-1.5 -1.5ZM124.4 760.9l1.5 1.5l-1.5 1.5l-1.5 -1.5ZM125.8 760.6l1.5 1.5l-1.5 1.5l-1.5 -1.5ZM127.1 760.8l1.5 1.5l-1.5 1.5l-1.5 -1.5ZM128 761.7l1.5 1.5l-1.5 1.5l-1.5 -1.5ZM129.2 760.8l1.5 1.5l-1.5 1.5l-1.5 -1.5ZM131.2 760.4l1.5 1.5l-1.5 1.5l-1.5 -1.5ZM132 759.6l1.5 1.5l-1.5 1.5l-1.5 -1.5ZM133.5 760l1.5 1.5l-1.5 1.5l-1.5 -1.5ZM135 759.7l1.5 1.5l-1.5 1.5l-1.5 -1.5ZM136.7 760.3l1.5 1.5l-1.5 1.5l-1.5 -1.5ZM137 760.1l1.5 1.5l-1.5 1.5l-1.5 -1.5ZM139.6 759l1.5 1.5l-1.5 1.5l-1.5 -1.5ZM140.5 761.4l1.5 1.5l-1.5 1.5l-1.5 -1.5ZM141.6 760.5l1.5 1.5l-1.5 1.5l-1.5 -1.5ZM142.9 759.7l1.5 1.5l-1.5 1.5l-1.5 -1.5ZM144.6 760.4l1.5 1.5l-1.5 1.5l-1.5 -1.5ZM145.5 760.1l1.5 1.5l-1.5 1.5l-1.5 -1.5ZM147.2 760.8l1.5 1.5l-1.5 1.5l-1.5 -1.5ZM147.9 759.1l1.5 1.5l-1.5 1.5l-1.5 -1.5ZM149.5 759.5l1.5 1.5l-1.5 1.5l-1.5 -1.5ZM151.6 759.9l1.5 1.5l-1.5 1.5l-1.5 -1.5ZM153 759.8l1.5 1.5l-1.5 1.5l-1.5 -1.5ZM153.6 760.5l1.5 1.5l-1.5 1.5l-1.5 -1.5ZM154.7 761.2l1.5 1.5l-1.5 1.5l-1.5 -1.5ZM157.1 759.5l1.5 1.5l-1.5 1.5l-1.5 -1.5ZM157.7 760.7l1.5 1.5l-1.5 1.5l-1.5 -1.5ZM159.7 760.3l1.5 1.5l-1.5 1.5l-1.5 -1.5ZM160.1 760.6l1.5 1.5l-1.5 1.5l-1.5 -1.5ZM161.4 760.2l1.5 1.5l-1.5 1.5l-1.5 -1.5ZM163.4 760.9l1.5 1.5l-1.5 1.5l-1.5 -1.5ZM164.8 758.7l1.5 1.5l-1.5 1.5l-1.5 -1.5ZM166.6 760.5l1.5 1.5l-1.5 1.5l-1.5 -1.5ZM167.4 758.6l1.5 1.5l-1.5 1.5l-1.5 -1.5ZM169 759.6l1.5 1.5l-1.5 1.5l-1.5 -1.5ZM170.3 761l1.5 1.5l-1.5 1.5l-1.5 -1.5ZM171.9 758.7l1.5 1.5l-1.5 1.5l-1.5 -1.5ZM173 759.6l1.5 1.5l-1.5 1.5l-1.5 -1.5ZM174.3 759.5l1.5 1.5l-1.5 1.5l-1.5 -1.5ZM175.3 759.6l1.5 1.5l-1.5 1.5l-1.5 -1.5ZM176.2 759.3l1.5 1.5l-1.5 1.5l-1.5 -1.5ZM178.3 758.6l1.5 1.5l-1.5 1.5l-1.5 -1.5ZM178.8 760.5l1.5 1.5l-1.5 1.5l-1.5 -1.5ZM180.9 759.8l1.5 1.5l-1.5 1.5l-1.5 -1.5ZM181.5 758.7l1.5 1.5l-1.5 1.5l-1.5 -1.5ZM183.1 760.8l1.5 1.5l-1.5 1.5l-1.5 -1.5ZM184.8 760.7l1.5 1.5l-1.5 1.5l-1.5 -1.5ZM185.6 759.4l1.5 1.5l-1.5 1.5l-1.5 -1.5ZM187.4 760.5l1.5 1.5l-1.5 1.5l-1.5 -1.5ZM188.2 760.6l1.5 1.5l-1.5 1.5l-1.5 -1.5ZM190 758.4l1.5 1.5l-1.5 1.5l-1.5 -1.5ZM191.2 759.3l1.5 1.5l-1.5 1.5l-1.5 -1.5ZM192.9 760.6l1.5 1.5l-1.5 1.5l-1.5 -1.5ZM194 760l1.5 1.5l-1.5 1.5l-1.5 -1.5ZM195.2 760.2l1.5 1.5l-1.5 1.5l-1.5 -1.5ZM196.1 760.1l1.5 1.5l-1.5 1.5l-1.5 -1.5ZM197.6 759.7l1.5 1.5l-1.5 1.5l-1.5 -1.5ZM198.9 759.1l1.5 1.5l-1.5 1.5l-1.5 -1.5ZM200.2 759.1l1.5 1.5l-1.5 1.5l-1.5 -1.5ZM202.1 759.5l1.5 1.5l-1.5 1.5l-1.5 -1.5ZM203.2 759.6l1.5 1.5l-1.5 1.5l-1.5 -1.5ZM205.1 759.1l1.5 1.5l-1.5 1.5l-1.5 -1.5ZM206.1 759.4l1.5 1.5l-1.5 1.5l-1.5 -1.5ZM207.9 759l1.5 1.5l-1.5 1.5l-1.5 -1.5ZM208.8 758.7l1.5 1.5l-1.5 1.5l-1.5 -1.5ZM209.6 759.9l1.5 1.5l-1.5 1.5l-1.5 -1.5ZM211.3 758.7l1.5 1.5l-1.5 1.5l-1.5 -1.5ZM212 760.1l1.5 1.5l-1.5 1.5l-1.5 -1.5ZM213.7 759.8l1.5 1.5l-1.5 1.5l-1.5 -1.5ZM215.1 759.6l1.5 1.5l-1.5 1.5l-1.5 -1.5ZM216.6 760.4l1.5 1.5l-1.5 1.5l-1.5 -1.5ZM218.4 759.1l1.5 1.5l-1.5 1.5l-1.5 -1.5ZM219.2 758.5l1.5 1.5l-1.5 1.5l-1.5 -1.5ZM220.8 758.2l1.5 1.5l-1.5 1.5l-1.5 -1.5ZM221.6 760.1l1.5 1.5l-1.5 1.5l-1.5 -1.5ZM222.5 759.7l1.5 1.5l-1.5 1.5l-1.5 -1.5ZM224.6 759.3l1.5 1.5l-1.5 1.5l-1.5 -1.5ZM225.6 758.3l1.5 1.5l-1.5 1.5l-1.5 -1.5ZM227.7 759.8l1.5 1.5l-1.5 1.5l-1.5 -1.5ZM228.8 758.1l1.5 1.5l-1.5 1.5l-1.5 -1.5ZM230.1 758.4l1.5 1.5l-1.5 1.5l-1.5 -1.5ZM230.7 759.1l1.5 1.5l-1.5 1.5l-1.5 -1.5ZM232.5 758.1l1.5 1.5l-1.5 1.5l-1.5 -1.5ZM234.1 759.2l1.5 1.5l-1.5 1.5l-1.5 -1.5ZM235.6 760l1.5 1.5l-1.5 1.5l-1.5 -1.5ZM236.6 758.6l1.5 1.5l-1.5 1.5l-1.5 -1.5ZM238.3 759.5l1.5 1.5l-1.5 1.5l-1.5 -1.5ZM238.8 759.8l1.5 1.5l-1.5 1.5l-1.5 -1.5ZM240.6 758.3l1.5 1.5l-1.5 1.5l-1.5 -1.5Z" fill="#0000ff" fill-opacity="1"/><path d="M239.2 760.5L240 756.5L240 742.1L240.9 740.6L240.9 693.5L242.5 691.9L244.1 693.5L244.1 732.5L244.9 734L244.9 756.5L245.7 760.5Z" fill="#0000ff"/><path d="M244 759L247 759L260 759.6L300 760.1L350 760.5L388.6 760.9" fill="none" stroke="#0000ff" stroke-width="4.8" stroke-linejoin="round" stroke-linecap="round"/><path d="M244.4 756.2l1.5 1.5l-1.5 1.5l-1.5 -1.5ZM246.3 756.8l1.5 1.5l-1.5 1.5l-1.5 -1.5ZM247.4 756.8l1.5 1.5l-1.5 1.5l-1.5 -1.5ZM248.5 757.5l1.5 1.5l-1.5 1.5l-1.5 -1.5ZM250 757l1.5 1.5l-1.5 1.5l-1.5 -1.5ZM251.3 757.7l1.5 1.5l-1.5 1.5l-1.5 -1.5ZM253.4 756.8l1.5 1.5l-1.5 1.5l-1.5 -1.5ZM254.6 758.8l1.5 1.5l-1.5 1.5l-1.5 -1.5ZM255.6 758l1.5 1.5l-1.5 1.5l-1.5 -1.5ZM257 758.1l1.5 1.5l-1.5 1.5l-1.5 -1.5ZM258.2 759.2l1.5 1.5l-1.5 1.5l-1.5 -1.5ZM259.7 757.4l1.5 1.5l-1.5 1.5l-1.5 -1.5ZM260.1 759.3l1.5 1.5l-1.5 1.5l-1.5 -1.5ZM261.8 758.9l1.5 1.5l-1.5 1.5l-1.5 -1.5ZM263 758l1.5 1.5l-1.5 1.5l-1.5 -1.5ZM264.5 758.8l1.5 1.5l-1.5 1.5l-1.5 -1.5ZM266.6 758.2l1.5 1.5l-1.5 1.5l-1.5 -1.5ZM267.4 757.8l1.5 1.5l-1.5 1.5l-1.5 -1.5ZM268.3 759.5l1.5 1.5l-1.5 1.5l-1.5 -1.5ZM269.5 759.5l1.5 1.5l-1.5 1.5l-1.5 -1.5ZM271.6 757l1.5 1.5l-1.5 1.5l-1.5 -1.5ZM273.2 757.2l1.5 1.5l-1.5 1.5l-1.5 -1.5ZM274.1 757.2l1.5 1.5l-1.5 1.5l-1.5 -1.5ZM276 757.8l1.5 1.5l-1.5 1.5l-1.5 -1.5ZM277.2 757.1l1.5 1.5l-1.5 1.5l-1.5 -1.5ZM278.2 757.1l1.5 1.5l-1.5 1.5l-1.5 -1.5ZM278.7 758.5l1.5 1.5l-1.5 1.5l-1.5 -1.5ZM281.3 758.9l1.5 1.5l-1.5 1.5l-1.5 -1.5ZM282.5 759.2l1.5 1.5l-1.5 1.5l-1.5 -1.5ZM283.4 757.2l1.5 1.5l-1.5 1.5l-1.5 -1.5ZM284.7 757.5l1.5 1.5l-1.5 1.5l-1.5 -1.5ZM286 758l1.5 1.5l-1.5 1.5l-1.5 -1.5ZM287.3 757.6l1.5 1.5l-1.5 1.5l-1.5 -1.5ZM288.9 758.2l1.5 1.5l-1.5 1.5l-1.5 -1.5ZM290 757.3l1.5 1.5l-1.5 1.5l-1.5 -1.5ZM291.3 758.7l1.5 1.5l-1.5 1.5l-1.5 -1.5ZM293.3 758.7l1.5 1.5l-1.5 1.5l-1.5 -1.5ZM293.5 758l1.5 1.5l-1.5 1.5l-1.5 -1.5ZM295.1 759.1l1.5 1.5l-1.5 1.5l-1.5 -1.5ZM297.2 759.9l1.5 1.5l-1.5 1.5l-1.5 -1.5ZM298.6 759.8l1.5 1.5l-1.5 1.5l-1.5 -1.5ZM299.8 759.8l1.5 1.5l-1.5 1.5l-1.5 -1.5ZM300 758.6l1.5 1.5l-1.5 1.5l-1.5 -1.5ZM302.1 759.1l1.5 1.5l-1.5 1.5l-1.5 -1.5ZM303.4 758.9l1.5 1.5l-1.5 1.5l-1.5 -1.5ZM305.2 757.5l1.5 1.5l-1.5 1.5l-1.5 -1.5ZM305.9 759.9l1.5 1.5l-1.5 1.5l-1.5 -1.5ZM306.6 757.6l1.5 1.5l-1.5 1.5l-1.5 -1.5ZM309 760l1.5 1.5l-1.5 1.5l-1.5 -1.5ZM309.3 757.4l1.5 1.5l-1.5 1.5l-1.5 -1.5ZM311.6 759.2l1.5 1.5l-1.5 1.5l-1.5 -1.5ZM312.5 758.9l1.5 1.5l-1.5 1.5l-1.5 -1.5ZM314.1 759.6l1.5 1.5l-1.5 1.5l-1.5 -1.5ZM314.5 757.5l1.5 1.5l-1.5 1.5l-1.5 -1.5ZM316.8 760.1l1.5 1.5l-1.5 1.5l-1.5 -1.5ZM318.2 758.5l1.5 1.5l-1.5 1.5l-1.5 -1.5ZM318.9 758.3l1.5 1.5l-1.5 1.5l-1.5 -1.5ZM319.8 759.5l1.5 1.5l-1.5 1.5l-1.5 -1.5ZM321.4 759l1.5 1.5l-1.5 1.5l-1.5 -1.5ZM323.1 758.3l1.5 1.5l-1.5 1.5l-1.5 -1.5ZM324.6 758.7l1.5 1.5l-1.5 1.5l-1.5 -1.5ZM325.3 759.9l1.5 1.5l-1.5 1.5l-1.5 -1.5ZM326.6 757.8l1.5 1.5l-1.5 1.5l-1.5 -1.5ZM328 758.8l1.5 1.5l-1.5 1.5l-1.5 -1.5ZM330 758.4l1.5 1.5l-1.5 1.5l-1.5 -1.5ZM330.6 759.3l1.5 1.5l-1.5 1.5l-1.5 -1.5ZM331.9 758.9l1.5 1.5l-1.5 1.5l-1.5 -1.5ZM333.2 759.9l1.5 1.5l-1.5 1.5l-1.5 -1.5ZM334.5 758.1l1.5 1.5l-1.5 1.5l-1.5 -1.5ZM335.9 758.4l1.5 1.5l-1.5 1.5l-1.5 -1.5ZM337.8 759.4l1.5 1.5l-1.5 1.5l-1.5 -1.5ZM339.2 759l1.5 1.5l-1.5 1.5l-1.5 -1.5ZM339.6 759.7l1.5 1.5l-1.5 1.5l-1.5 -1.5ZM341.1 758.1l1.5 1.5l-1.5 1.5l-1.5 -1.5ZM342.6 760.3l1.5 1.5l-1.5 1.5l-1.5 -1.5ZM343.9 758.5l1.5 1.5l-1.5 1.5l-1.5 -1.5ZM345.9 760.3l1.5 1.5l-1.5 1.5l-1.5 -1.5ZM346.6 758l1.5 1.5l-1.5 1.5l-1.5 -1.5ZM348.4 759.8l1.5 1.5l-1.5 1.5l-1.5 -1.5ZM349.1 759.8l1.5 1.5l-1.5 1.5l-1.5 -1.5ZM350.5 758.4l1.5 1.5l-1.5 1.5l-1.5 -1.5ZM352.1 759.7l1.5 1.5l-1.5 1.5l-1.5 -1.5ZM353.3 759.9l1.5 1.5l-1.5 1.5l-1.5 -1.5ZM354 759l1.5 1.5l-1.5 1.5l-1.5 -1.5ZM355.8 757.8l1.5 1.5l-1.5 1.5l-1.5 -1.5ZM357.9 758.1l1.5 1.5l-1.5 1.5l-1.5 -1.5ZM358.2 760.1l1.5 1.5l-1.5 1.5l-1.5 -1.5ZM360.6 760.3l1.5 1.5l-1.5 1.5l-1.5 -1.5ZM361.1 760.3l1.5 1.5l-1.5 1.5l-1.5 -1.5ZM362.2 759.7l1.5 1.5l-1.5 1.5l-1.5 -1.5ZM364.6 758.3l1.5 1.5l-1.5 1.5l-1.5 -1.5ZM364.8 759.7l1.5 1.5l-1.5 1.5l-1.5 -1.5ZM367.1 759.8l1.5 1.5l-1.5 1.5l-1.5 -1.5ZM368.6 759.1l1.5 1.5l-1.5 1.5l-1.5 -1.5ZM369.1 758.1l1.5 1.5l-1.5 1.5l-1.5 -1.5ZM370.3 760.4l1.5 1.5l-1.5 1.5l-1.5 -1.5ZM371.4 758.3l1.5 1.5l-1.5 1.5l-1.5 -1.5ZM373.1 758l1.5 1.5l-1.5 1.5l-1.5 -1.5ZM374.4 758.4l1.5 1.5l-1.5 1.5l-1.5 -1.5ZM375.5 759.3l1.5 1.5l-1.5 1.5l-1.5 -1.5ZM377.3 759.5l1.5 1.5l-1.5 1.5l-1.5 -1.5ZM379 759.4l1.5 1.5l-1.5 1.5l-1.5 -1.5ZM380.6 758.1l1.5 1.5l-1.5 1.5l-1.5 -1.5ZM380.9 758.1l1.5 1.5l-1.5 1.5l-1.5 -1.5ZM382.3 760.1l1.5 1.5l-1.5 1.5l-1.5 -1.5ZM384.5 759.4l1.5 1.5l-1.5 1.5l-1.5 -1.5ZM384.8 758.9l1.5 1.5l-1.5 1.5l-1.5 -1.5ZM386.7 758.8l1.5 1.5l-1.5 1.5l-1.5 -1.5ZM388.3 760.7l1.5 1.5l-1.5 1.5l-1.5 -1.5Z" fill="#0000ff" fill-opacity="1"/><path d="M389.5 762.5l1.6 1.6l-1.6 1.6l-1.6 -1.6ZM389.7 764.2l1.6 1.6l-1.6 1.6l-1.6 -1.6ZM389.3 765.9l1.6 1.6l-1.6 1.6l-1.6 -1.6ZM389.7 768.1l1.6 1.6l-1.6 1.6l-1.6 -1.6ZM389.6 769.2l1.6 1.6l-1.6 1.6l-1.6 -1.6ZM389.3 770.8l1.6 1.6l-1.6 1.6l-1.6 -1.6Z" fill="#0000ff" fill-opacity="0.4"/><rect x="102.5" y="785.8" width="5.7" height="3" fill="#0000ff"/><rect x="114" y="785.8" width="2.8" height="3" fill="#0000ff"/><rect x="148" y="785.8" width="4" height="3" fill="#0000ff"/><rect x="203" y="785.8" width="4" height="3" fill="#0000ff"/><rect x="258.4" y="785.8" width="3.4" height="3" fill="#0000ff"/><rect x="314.2" y="785.8" width="3.1" height="3" fill="#0000ff"/><rect x="369.3" y="785.8" width="3.5" height="3" fill="#0000ff"/><rect x="381.3" y="785.8" width="3.4" height="3" fill="#0000ff"/><rect x="387.8" y="785.8" width="7.2" height="3" fill="#0000ff"/></g>
<rect x="89.50" y="684.50" width="319.00" height="103.00" fill="none" stroke="#000" stroke-width="1.1"/>
<path d="M94.50 787.50v4.9M122.50 787.50v4.9M149.50 787.50v4.9M177.50 787.50v4.9M204.50 787.50v4.9M232.50 787.50v4.9M260.50 787.50v4.9M287.50 787.50v4.9M315.50 787.50v4.9M343.50 787.50v4.9M370.50 787.50v4.9M398.50 787.50v4.9M89.50 709.50h-4.9M89.50 748.50h-4.9M89.50 787.50h-4.9" stroke="#000" stroke-width="1.1" fill="none"/>
<text x="94.45" y="806.95" font-size="14.15" text-anchor="middle" textLength="40.03" lengthAdjust="spacingAndGlyphs">21:00</text>
<text x="122.09" y="806.95" font-size="14.15" text-anchor="middle" textLength="40.03" lengthAdjust="spacingAndGlyphs">22:00</text>
<text x="149.72" y="806.95" font-size="14.15" text-anchor="middle" textLength="40.03" lengthAdjust="spacingAndGlyphs">23:00</text>
<text x="177.36" y="806.95" font-size="14.15" text-anchor="middle" textLength="40.03" lengthAdjust="spacingAndGlyphs">00:00</text>
<text x="205.00" y="806.95" font-size="14.15" text-anchor="middle" textLength="40.03" lengthAdjust="spacingAndGlyphs">01:00</text>
<text x="232.63" y="806.95" font-size="14.15" text-anchor="middle" textLength="40.03" lengthAdjust="spacingAndGlyphs">02:00</text>
<text x="260.27" y="806.95" font-size="14.15" text-anchor="middle" textLength="40.03" lengthAdjust="spacingAndGlyphs">03:00</text>
<text x="287.91" y="806.95" font-size="14.15" text-anchor="middle" textLength="40.03" lengthAdjust="spacingAndGlyphs">04:00</text>
<text x="315.55" y="806.95" font-size="14.15" text-anchor="middle" textLength="40.03" lengthAdjust="spacingAndGlyphs">05:00</text>
<text x="343.18" y="806.95" font-size="14.15" text-anchor="middle" textLength="40.03" lengthAdjust="spacingAndGlyphs">06:00</text>
<text x="370.82" y="806.95" font-size="14.15" text-anchor="middle" textLength="40.03" lengthAdjust="spacingAndGlyphs">07:00</text>
<text x="398.46" y="806.95" font-size="14.15" text-anchor="middle" textLength="40.03" lengthAdjust="spacingAndGlyphs">08:00</text>
<text x="78.10" y="714.40" font-size="14.15" text-anchor="end" textLength="35.35" lengthAdjust="spacingAndGlyphs">2000</text>
<text x="78.10" y="753.40" font-size="14.15" text-anchor="end" textLength="35.35" lengthAdjust="spacingAndGlyphs">1000</text>
<text x="79.60" y="792.40" font-size="14.15" text-anchor="end" textLength="8.84" lengthAdjust="spacingAndGlyphs">0</text>
<text x="248.00" y="674.90" font-size="16.95" text-anchor="middle" textLength="177.57" lengthAdjust="spacingAndGlyphs">NoRP 17GHz Stokes-I</text>
<text x="33.70" y="736.00" font-size="14.15" text-anchor="middle" textLength="71.10" lengthAdjust="spacingAndGlyphs" transform="rotate(-90 33.70 736.00)">Flux [SFU]</text>
</g>
<g id="ax50">
<clipPath id="cp50"><rect x="89.50" y="846.50" width="319.00" height="103.00"/></clipPath>
<g clip-path="url(#cp50)"><path d="M106.4 902.5L107.4 901.5L108.6 900.9L109.8 901.5L111 901.4L112.2 901.1L113.3 901L114.4 901.4L115.5 901.5L116.6 901.3L117.7 901.7L118.8 901.4L120 901.7L121.1 901.8L122.2 901.7L123.3 901.7L124.4 902.3L125.5 902.1L126.6 902.6L127.7 902.6L128.9 902.6L130 902.2L131.2 902.5L132.3 903.3L133.5 903.6L134.7 903.4L135.8 903.2L137 904.1L138.1 903.6L139.3 904.2L140.4 904.3L141.5 904.4L142.6 904.8L143.7 905.1L144.8 904.2L145.9 905.3L147 906.1L148.2 906.1L149.5 905.7L150.7 906.5L151.9 906.3L153.1 906.9L154.3 906.3L155.5 907.1L156.7 907.4L157.9 907.2L159.1 907.3L160.3 906.5L161.5 907.1L162.8 907.1L164 908.3L165.2 907.9L166.4 907.4L167.6 906.9L168.8 907.8L170 907.3L171.2 908.9L172.4 908.4L173.6 908.6L174.8 908.8L176.1 909.1L177.3 909.4L178.5 909.5L179.7 909.2L180.9 909.2L182.1 909.5L183.3 909.9L184.5 909.9L185.7 909.4L186.9 909.1L188 910.3L189.1 909.2L190.3 909.8L191.4 909.5L192.6 909.3L193.7 909.2L194.8 909.7L196 909.2L197.1 909.7L198.2 909.9L199.4 909.2L200.5 909.4L201.7 909.6L202.8 909.5L203.9 909.7L205.1 909.7L206.2 909.5L207.4 909.7L208.5 909.8L209.6 910.3L210.8 910.6L211.9 910L213 910.7L214.2 910.4L215.3 910.2L216.5 909.6L217.6 909.4L218.7 910.1L219.9 910.2L221 910.1L222.1 909.7L223.3 910.1L224.4 910L225.6 909.7L226.7 910.1L227.9 909.4L229.1 910.1L230.2 909.8L231.4 910.5L232.5 909.6L233.7 909.6L234.9 909.7L236 909.5L237.2 909.7L238.4 909.6L239.5 909.8L239.9 908.6L241.6 908.4L243.4 907.5L244.9 908.3L246.4 908.2L247.6 908L248.8 908.9L250 908.4L251.2 908.7L252.4 909.1L253.5 908.5L254.7 909.1L255.9 909.2L257.1 908.8L258.3 909L259.5 908.9L260.7 909.4L261.8 909.9L263 909.7L264.2 909.3L265.4 908.9L266.6 910L267.8 909.4L269 909.4L270.2 909.6L271.3 909.6L272.5 909.3L273.7 908.9L274.8 909L276 909.5L277.1 908.9L278.3 909.7L279.4 909.5L280.6 908.6L281.7 909.3L282.8 909L284 909.2L285.1 909.7L286.3 908.5L287.4 909.1L288.6 908.4L289.7 908.8L290.9 908.1L292 908.6L293.2 909L294.3 909.4L295.5 909.7L296.7 908.8L297.9 908.7L299.1 909.1L300.2 908.6L301.4 908L302.6 908.2L303.8 907.9L305 907.8L306.2 908.1L307.4 907.4L308.6 907.3L309.9 907.7L311.1 906.9L312.3 907.2L313.6 907.4L314.8 906.3L316.1 907L317.3 906.7L318.5 906.6L319.7 906.6L320.9 907L322.1 906.4L323.3 905.8L324.5 905.2L325.7 905.5L327 905.8L328.2 905.8L329.4 905.1L330.6 905.5L331.8 905.4L333 904.6L334.2 904.3L335.4 904.3L336.6 903.9L337.8 904.5L339 904.3L340.3 903.9L341.5 905.1L342.7 904.4L343.9 904L345.1 903.7L346.3 904.4L347.5 903.7L348.7 903.5L349.9 903.7L351.1 903.5L352.3 903.6L353.6 903.3L354.8 903.4L356 903.6L357.2 903.4L358.4 903.4L359.6 903.5L360.8 903.6L362 903.2L363.2 903.4L364.4 903.6L365.7 903.9L366.9 903.1L368.1 903L369.3 903.4L370.5 902.8L371.7 903.2L372.9 903.3L374.1 903.3L375.3 902.9L376.5 903.4L377.7 902.8L379 902.5L380.2 902.6L381.4 902.9L382.5 903.1L383.7 902.8L384.8 902.8L385.9 902.5L387.1 902.9L388.2 903.5L389.4 903.2L390.5 903.7L390.5 911.5L389.4 911.1L388.2 911.2L387.1 911.1L385.9 911L384.8 911L383.7 911.5L382.5 911.7L381.4 911L380.2 910.4L379 910.3L377.7 910.4L376.5 910.7L375.3 910.7L374.1 910.7L372.9 910.6L371.7 909.8L370.5 909.8L369.3 910.1L368.1 910.3L366.9 910.4L365.7 910.7L364.4 910.6L363.2 910.8L362 911L360.8 910.9L359.6 911.1L358.4 911.3L357.2 911.4L356 910.5L354.8 911.1L353.6 911.5L352.3 911.3L351.1 910.9L349.9 911.3L348.7 910.8L347.5 911.2L346.3 911.3L345.1 910.8L343.9 911.4L342.7 911.7L341.5 912L340.3 912.1L339 912.7L337.8 912.7L336.6 912.3L335.4 912.8L334.2 912.6L333 912.6L331.8 913.1L330.6 912.8L329.4 912.9L328.2 912.3L327 912.7L325.7 913.2L324.5 913.5L323.3 913.6L322.1 913.9L320.9 913.5L319.7 913.5L318.5 913.8L317.3 914.7L316.1 914.3L314.8 914.3L313.6 914.1L312.3 914.2L311.1 914.6L309.9 914.4L308.6 914.1L307.4 915L306.2 914.5L305 915.3L303.8 915.8L302.6 915.6L301.4 915.9L300.2 915.8L299.1 915.5L297.9 916.1L296.7 915.9L295.5 916.3L294.3 916.2L293.2 916.3L292 915.6L290.9 916.2L289.7 915.9L288.6 915.8L287.4 916.3L286.3 916.8L285.1 916.2L284 916.2L282.8 916.7L281.7 916.7L280.6 916.1L279.4 916.3L278.3 915.9L277.1 915.9L276 916.3L274.8 916.1L273.7 915.8L272.5 916.6L271.3 915.9L270.2 916.1L269 915.9L267.8 915.7L266.6 915.7L265.4 916.1L264.2 915.8L263 916.4L261.8 916.1L260.7 915.4L259.5 915.9L258.3 915.6L257.1 916.1L255.9 915.6L254.7 915L253.5 915.7L252.4 914.3L251.2 914.7L250 915L248.8 914.5L247.6 915L246.4 914.4L244.9 914.9L243.4 915.1L241.6 915.9L239.9 916.6L239.5 916.1L238.4 915.8L237.2 916L236 916.4L234.9 916.2L233.7 915.3L232.5 915.8L231.4 916.3L230.2 916.4L229.1 916.8L227.9 915.6L226.7 916L225.6 915.9L224.4 916.3L223.3 916.4L222.1 915.9L221 916.2L219.9 916.2L218.7 916.4L217.6 917.4L216.5 916.7L215.3 916.5L214.2 916.4L213 916.6L211.9 916.6L210.8 917.1L209.6 916.3L208.5 917L207.4 916.9L206.2 916.5L205.1 916.7L203.9 916.7L202.8 917.1L201.7 916.2L200.5 917.1L199.4 916.5L198.2 917.1L197.1 917.2L196 916.6L194.8 917.9L193.7 916.6L192.6 917.1L191.4 916L190.3 916.3L189.1 917L188 916.7L186.9 917L185.7 917.1L184.5 916.9L183.3 917.1L182.1 916.8L180.9 916.9L179.7 916.7L178.5 916.9L177.3 916.9L176.1 917.4L174.8 916.8L173.6 917.1L172.4 917.3L171.2 916.9L170 916.8L168.8 916.5L167.6 916.1L166.4 916.3L165.2 915.9L164 915.9L162.8 916L161.5 915.9L160.3 914.7L159.1 914.6L157.9 915.1L156.7 915.3L155.5 915.3L154.3 915L153.1 914.1L151.9 914L150.7 914.4L149.5 913.4L148.2 914.1L147 913.9L145.9 913.6L144.8 913.7L143.7 913.6L142.6 912.9L141.5 912.9L140.4 913.2L139.3 912.5L138.1 912.9L137 912.6L135.8 912L134.7 912L133.5 911.4L132.3 911.5L131.2 911.3L130 911.1L128.9 911.2L127.7 910.6L126.6 910.9L125.5 911.2L124.4 911.2L123.3 911.6L122.2 911.7L121.1 911.7L120 911.2L118.8 910.9L117.7 911.1L116.6 911.3L115.5 912.2L114.4 912.1L113.3 911.4L112.2 911.7L111 911.5L109.8 912L108.6 912.7L107.4 912.3L106.4 913.1Z" fill="#0000ff" stroke="#0000ff" stroke-width="0.8" stroke-linejoin="round"/><path d="M106.4 905L106.4 930" fill="none" stroke="#0000ff" stroke-width="3.0" stroke-linejoin="round" stroke-linecap="round"/><path d="M239.2 912L240 908L240 899.8L240.9 898.3L240.9 863.4L242.5 861.8L244.1 863.4L244.1 883.8L244.9 885.3L244.9 908L245.7 912Z" fill="#0000ff"/><path d="M389.5 911.5l1.6 1.6l-1.6 1.6l-1.6 -1.6ZM389.3 913.2l1.6 1.6l-1.6 1.6l-1.6 -1.6ZM389.7 915.4l1.6 1.6l-1.6 1.6l-1.6 -1.6ZM389.3 917l1.6 1.6l-1.6 1.6l-1.6 -1.6ZM389.7 919l1.6 1.6l-1.6 1.6l-1.6 -1.6ZM389.6 920.4l1.6 1.6l-1.6 1.6l-1.6 -1.6ZM389.7 922.4l1.6 1.6l-1.6 1.6l-1.6 -1.6ZM389.3 923.7l1.6 1.6l-1.6 1.6l-1.6 -1.6ZM389.4 925.1l1.6 1.6l-1.6 1.6l-1.6 -1.6Z" fill="#0000ff" fill-opacity="0.4"/><path d="M172.2 904.1l1.6 1.6l-1.6 1.6l-1.6 -1.6ZM173 916.2l1.6 1.6l-1.6 1.6l-1.6 -1.6ZM229.8 905.2l1.6 1.6l-1.6 1.6l-1.6 -1.6ZM106.8 930l1.6 1.6l-1.6 1.6l-1.6 -1.6Z" fill="#0000ff" fill-opacity="0.3"/></g>
<rect x="89.50" y="846.50" width="319.00" height="103.00" fill="none" stroke="#000" stroke-width="1.1"/>
<path d="M94.50 949.50v4.9M122.50 949.50v4.9M149.50 949.50v4.9M177.50 949.50v4.9M204.50 949.50v4.9M232.50 949.50v4.9M260.50 949.50v4.9M287.50 949.50v4.9M315.50 949.50v4.9M343.50 949.50v4.9M370.50 949.50v4.9M398.50 949.50v4.9M89.50 879.50h-4.9M89.50 931.50h-4.9" stroke="#000" stroke-width="1.1" fill="none"/>
<text x="94.45" y="968.95" font-size="14.15" text-anchor="middle" textLength="40.03" lengthAdjust="spacingAndGlyphs">21:00</text>
<text x="122.09" y="968.95" font-size="14.15" text-anchor="middle" textLength="40.03" lengthAdjust="spacingAndGlyphs">22:00</text>
<text x="149.72" y="968.95" font-size="14.15" text-anchor="middle" textLength="40.03" lengthAdjust="spacingAndGlyphs">23:00</text>
<text x="177.36" y="968.95" font-size="14.15" text-anchor="middle" textLength="40.03" lengthAdjust="spacingAndGlyphs">00:00</text>
<text x="205.00" y="968.95" font-size="14.15" text-anchor="middle" textLength="40.03" lengthAdjust="spacingAndGlyphs">01:00</text>
<text x="232.63" y="968.95" font-size="14.15" text-anchor="middle" textLength="40.03" lengthAdjust="spacingAndGlyphs">02:00</text>
<text x="260.27" y="968.95" font-size="14.15" text-anchor="middle" textLength="40.03" lengthAdjust="spacingAndGlyphs">03:00</text>
<text x="287.91" y="968.95" font-size="14.15" text-anchor="middle" textLength="40.03" lengthAdjust="spacingAndGlyphs">04:00</text>
<text x="315.55" y="968.95" font-size="14.15" text-anchor="middle" textLength="40.03" lengthAdjust="spacingAndGlyphs">05:00</text>
<text x="343.18" y="968.95" font-size="14.15" text-anchor="middle" textLength="40.03" lengthAdjust="spacingAndGlyphs">06:00</text>
<text x="370.82" y="968.95" font-size="14.15" text-anchor="middle" textLength="40.03" lengthAdjust="spacingAndGlyphs">07:00</text>
<text x="398.46" y="968.95" font-size="14.15" text-anchor="middle" textLength="40.03" lengthAdjust="spacingAndGlyphs">08:00</text>
<text x="78.10" y="884.40" font-size="14.15" text-anchor="end" textLength="35.35" lengthAdjust="spacingAndGlyphs">3000</text>
<text x="78.10" y="936.40" font-size="14.15" text-anchor="end" textLength="35.35" lengthAdjust="spacingAndGlyphs">2000</text>
<text x="248.00" y="836.90" font-size="16.95" text-anchor="middle" textLength="177.57" lengthAdjust="spacingAndGlyphs">NoRP 35GHz Stokes-I</text>
<text x="33.70" y="898.00" font-size="14.15" text-anchor="middle" textLength="71.10" lengthAdjust="spacingAndGlyphs" transform="rotate(-90 33.70 898.00)">Flux [SFU]</text>
</g>
<g id="ax60">
<clipPath id="cp60"><rect x="89.50" y="1008.50" width="319.00" height="103.00"/></clipPath>
<g clip-path="url(#cp60)"><path d="M103.6 1018.4L107.5 1018L112 1017.8L118.8 1017.8L120.6 1018.9L200 1018.9L240.6 1018.9L241.6 1016.2L242.4 1013.8L243.2 1016.2L244.2 1018.6L300 1018.9L370 1018.8L378 1018L394.6 1018" fill="none" stroke="#0000ff" stroke-width="3.9" stroke-linejoin="round" stroke-linecap="round"/><path d="M104.8 1016.7l1.5 1.5l-1.5 1.5l-1.5 -1.5ZM105 1016.5l1.5 1.5l-1.5 1.5l-1.5 -1.5ZM106.5 1016.9l1.5 1.5l-1.5 1.5l-1.5 -1.5ZM108.6 1017l1.5 1.5l-1.5 1.5l-1.5 -1.5ZM109.7 1016.3l1.5 1.5l-1.5 1.5l-1.5 -1.5ZM111.2 1016.1l1.5 1.5l-1.5 1.5l-1.5 -1.5ZM112.6 1016.7l1.5 1.5l-1.5 1.5l-1.5 -1.5ZM114.3 1016l1.5 1.5l-1.5 1.5l-1.5 -1.5ZM115.5 1015.6l1.5 1.5l-1.5 1.5l-1.5 -1.5ZM116.1 1016.1l1.5 1.5l-1.5 1.5l-1.5 -1.5ZM117.9 1015.4l1.5 1.5l-1.5 1.5l-1.5 -1.5ZM119 1016.3l1.5 1.5l-1.5 1.5l-1.5 -1.5ZM121.8 1018l1.5 1.5l-1.5 1.5l-1.5 -1.5ZM121.9 1017l1.5 1.5l-1.5 1.5l-1.5 -1.5ZM123.7 1017l1.5 1.5l-1.5 1.5l-1.5 -1.5ZM124.7 1017.5l1.5 1.5l-1.5 1.5l-1.5 -1.5ZM126.9 1017.1l1.5 1.5l-1.5 1.5l-1.5 -1.5ZM127.3 1016.6l1.5 1.5l-1.5 1.5l-1.5 -1.5ZM128.4 1017.9l1.5 1.5l-1.5 1.5l-1.5 -1.5ZM130 1017.8l1.5 1.5l-1.5 1.5l-1.5 -1.5ZM132 1016.6l1.5 1.5l-1.5 1.5l-1.5 -1.5ZM132.6 1017l1.5 1.5l-1.5 1.5l-1.5 -1.5ZM134.6 1017.8l1.5 1.5l-1.5 1.5l-1.5 -1.5ZM135.3 1017.3l1.5 1.5l-1.5 1.5l-1.5 -1.5ZM136.7 1017.3l1.5 1.5l-1.5 1.5l-1.5 -1.5ZM138.6 1016.9l1.5 1.5l-1.5 1.5l-1.5 -1.5ZM139.9 1018.1l1.5 1.5l-1.5 1.5l-1.5 -1.5ZM140.9 1018.2l1.5 1.5l-1.5 1.5l-1.5 -1.5ZM142.6 1016.7l1.5 1.5l-1.5 1.5l-1.5 -1.5ZM144 1016.8l1.5 1.5l-1.5 1.5l-1.5 -1.5ZM145.1 1016.6l1.5 1.5l-1.5 1.5l-1.5 -1.5ZM145.7 1017.2l1.5 1.5l-1.5 1.5l-1.5 -1.5ZM147.7 1017.7l1.5 1.5l-1.5 1.5l-1.5 -1.5ZM148.2 1018.1l1.5 1.5l-1.5 1.5l-1.5 -1.5ZM150.4 1017.4l1.5 1.5l-1.5 1.5l-1.5 -1.5ZM150.6 1016.9l1.5 1.5l-1.5 1.5l-1.5 -1.5ZM152.2 1017.2l1.5 1.5l-1.5 1.5l-1.5 -1.5ZM154.4 1017.5l1.5 1.5l-1.5 1.5l-1.5 -1.5ZM155.5 1016.5l1.5 1.5l-1.5 1.5l-1.5 -1.5ZM156.1 1017.8l1.5 1.5l-1.5 1.5l-1.5 -1.5ZM157.5 1016.8l1.5 1.5l-1.5 1.5l-1.5 -1.5ZM158.4 1016.5l1.5 1.5l-1.5 1.5l-1.5 -1.5ZM160.2 1017.4l1.5 1.5l-1.5 1.5l-1.5 -1.5ZM161.5 1017.5l1.5 1.5l-1.5 1.5l-1.5 -1.5ZM162.6 1016.4l1.5 1.5l-1.5 1.5l-1.5 -1.5ZM164.4 1017l1.5 1.5l-1.5 1.5l-1.5 -1.5ZM165.5 1017.1l1.5 1.5l-1.5 1.5l-1.5 -1.5ZM166.5 1016.5l1.5 1.5l-1.5 1.5l-1.5 -1.5ZM167.8 1017l1.5 1.5l-1.5 1.5l-1.5 -1.5ZM168.9 1016.5l1.5 1.5l-1.5 1.5l-1.5 -1.5ZM170.7 1016.4l1.5 1.5l-1.5 1.5l-1.5 -1.5ZM172.5 1017.1l1.5 1.5l-1.5 1.5l-1.5 -1.5ZM173.2 1017.4l1.5 1.5l-1.5 1.5l-1.5 -1.5ZM174 1016.6l1.5 1.5l-1.5 1.5l-1.5 -1.5ZM176.3 1017.5l1.5 1.5l-1.5 1.5l-1.5 -1.5ZM177.2 1017.1l1.5 1.5l-1.5 1.5l-1.5 -1.5ZM178.8 1017.4l1.5 1.5l-1.5 1.5l-1.5 -1.5ZM180.2 1018l1.5 1.5l-1.5 1.5l-1.5 -1.5ZM181.6 1017.8l1.5 1.5l-1.5 1.5l-1.5 -1.5ZM182.7 1017.3l1.5 1.5l-1.5 1.5l-1.5 -1.5ZM183.8 1017.5l1.5 1.5l-1.5 1.5l-1.5 -1.5ZM185.1 1018l1.5 1.5l-1.5 1.5l-1.5 -1.5ZM186.8 1016.5l1.5 1.5l-1.5 1.5l-1.5 -1.5ZM188 1017.6l1.5 1.5l-1.5 1.5l-1.5 -1.5ZM189.1 1018.1l1.5 1.5l-1.5 1.5l-1.5 -1.5ZM189.7 1017.3l1.5 1.5l-1.5 1.5l-1.5 -1.5ZM191.4 1018.2l1.5 1.5l-1.5 1.5l-1.5 -1.5ZM192.4 1017.5l1.5 1.5l-1.5 1.5l-1.5 -1.5ZM193.7 1017.8l1.5 1.5l-1.5 1.5l-1.5 -1.5ZM195.4 1017.8l1.5 1.5l-1.5 1.5l-1.5 -1.5ZM196.5 1018.1l1.5 1.5l-1.5 1.5l-1.5 -1.5ZM197.4 1016.8l1.5 1.5l-1.5 1.5l-1.5 -1.5ZM199.7 1018.1l1.5 1.5l-1.5 1.5l-1.5 -1.5ZM201 1016.9l1.5 1.5l-1.5 1.5l-1.5 -1.5ZM201.4 1017.7l1.5 1.5l-1.5 1.5l-1.5 -1.5ZM203.6 1016.5l1.5 1.5l-1.5 1.5l-1.5 -1.5ZM205.2 1017.4l1.5 1.5l-1.5 1.5l-1.5 -1.5ZM205.3 1017.3l1.5 1.5l-1.5 1.5l-1.5 -1.5ZM207 1016.6l1.5 1.5l-1.5 1.5l-1.5 -1.5ZM209 1018.2l1.5 1.5l-1.5 1.5l-1.5 -1.5ZM209.3 1017.2l1.5 1.5l-1.5 1.5l-1.5 -1.5ZM210.8 1017.7l1.5 1.5l-1.5 1.5l-1.5 -1.5ZM211.9 1017l1.5 1.5l-1.5 1.5l-1.5 -1.5ZM213.6 1017.3l1.5 1.5l-1.5 1.5l-1.5 -1.5ZM215 1017.5l1.5 1.5l-1.5 1.5l-1.5 -1.5ZM216.9 1018.2l1.5 1.5l-1.5 1.5l-1.5 -1.5ZM218.2 1018l1.5 1.5l-1.5 1.5l-1.5 -1.5ZM218.6 1016.9l1.5 1.5l-1.5 1.5l-1.5 -1.5ZM220.2 1017.6l1.5 1.5l-1.5 1.5l-1.5 -1.5ZM221.7 1017.1l1.5 1.5l-1.5 1.5l-1.5 -1.5ZM223.6 1017l1.5 1.5l-1.5 1.5l-1.5 -1.5ZM223.6 1016.6l1.5 1.5l-1.5 1.5l-1.5 -1.5ZM225.2 1017.8l1.5 1.5l-1.5 1.5l-1.5 -1.5ZM227.3 1016.5l1.5 1.5l-1.5 1.5l-1.5 -1.5ZM227.8 1016.9l1.5 1.5l-1.5 1.5l-1.5 -1.5ZM229.8 1018.1l1.5 1.5l-1.5 1.5l-1.5 -1.5ZM230.5 1016.6l1.5 1.5l-1.5 1.5l-1.5 -1.5ZM232.7 1018.2l1.5 1.5l-1.5 1.5l-1.5 -1.5ZM233.7 1017.3l1.5 1.5l-1.5 1.5l-1.5 -1.5ZM235 1017.9l1.5 1.5l-1.5 1.5l-1.5 -1.5ZM236 1016.9l1.5 1.5l-1.5 1.5l-1.5 -1.5ZM237.4 1017.7l1.5 1.5l-1.5 1.5l-1.5 -1.5ZM238.4 1017.6l1.5 1.5l-1.5 1.5l-1.5 -1.5ZM239.5 1018.2l1.5 1.5l-1.5 1.5l-1.5 -1.5ZM240.2 1016.9l1.5 1.5l-1.5 1.5l-1.5 -1.5ZM242.4 1015.1l1.5 1.5l-1.5 1.5l-1.5 -1.5ZM243 1012.7l1.5 1.5l-1.5 1.5l-1.5 -1.5ZM242.5 1014.5l1.5 1.5l-1.5 1.5l-1.5 -1.5ZM244.5 1015.7l1.5 1.5l-1.5 1.5l-1.5 -1.5ZM245.2 1017.7l1.5 1.5l-1.5 1.5l-1.5 -1.5ZM246.6 1016.2l1.5 1.5l-1.5 1.5l-1.5 -1.5ZM246.9 1017.6l1.5 1.5l-1.5 1.5l-1.5 -1.5ZM248.8 1017.9l1.5 1.5l-1.5 1.5l-1.5 -1.5ZM250.8 1017l1.5 1.5l-1.5 1.5l-1.5 -1.5ZM251.7 1017.4l1.5 1.5l-1.5 1.5l-1.5 -1.5ZM253.1 1016.9l1.5 1.5l-1.5 1.5l-1.5 -1.5ZM254.4 1016.3l1.5 1.5l-1.5 1.5l-1.5 -1.5ZM256 1017.6l1.5 1.5l-1.5 1.5l-1.5 -1.5ZM257.2 1017.1l1.5 1.5l-1.5 1.5l-1.5 -1.5ZM257.8 1017.1l1.5 1.5l-1.5 1.5l-1.5 -1.5ZM259.7 1017.3l1.5 1.5l-1.5 1.5l-1.5 -1.5ZM260.3 1016.2l1.5 1.5l-1.5 1.5l-1.5 -1.5ZM262 1016.7l1.5 1.5l-1.5 1.5l-1.5 -1.5ZM263.1 1016.7l1.5 1.5l-1.5 1.5l-1.5 -1.5ZM264.7 1017.6l1.5 1.5l-1.5 1.5l-1.5 -1.5ZM266.7 1017.5l1.5 1.5l-1.5 1.5l-1.5 -1.5ZM266.8 1017.9l1.5 1.5l-1.5 1.5l-1.5 -1.5ZM268.9 1017.7l1.5 1.5l-1.5 1.5l-1.5 -1.5ZM270.3 1016.9l1.5 1.5l-1.5 1.5l-1.5 -1.5ZM271.2 1016.4l1.5 1.5l-1.5 1.5l-1.5 -1.5ZM273 1016.4l1.5 1.5l-1.5 1.5l-1.5 -1.5ZM274.3 1018l1.5 1.5l-1.5 1.5l-1.5 -1.5ZM275.6 1017.4l1.5 1.5l-1.5 1.5l-1.5 -1.5ZM277.2 1018.1l1.5 1.5l-1.5 1.5l-1.5 -1.5ZM278.5 1018.2l1.5 1.5l-1.5 1.5l-1.5 -1.5ZM279.4 1016.3l1.5 1.5l-1.5 1.5l-1.5 -1.5ZM280.9 1017.5l1.5 1.5l-1.5 1.5l-1.5 -1.5ZM282.5 1017.5l1.5 1.5l-1.5 1.5l-1.5 -1.5ZM283.2 1016.3l1.5 1.5l-1.5 1.5l-1.5 -1.5ZM285.2 1017.5l1.5 1.5l-1.5 1.5l-1.5 -1.5ZM286.7 1017.5l1.5 1.5l-1.5 1.5l-1.5 -1.5ZM287.8 1017.8l1.5 1.5l-1.5 1.5l-1.5 -1.5ZM289.4 1017.2l1.5 1.5l-1.5 1.5l-1.5 -1.5ZM290.6 1017.1l1.5 1.5l-1.5 1.5l-1.5 -1.5ZM290.7 1017l1.5 1.5l-1.5 1.5l-1.5 -1.5ZM292.5 1018.3l1.5 1.5l-1.5 1.5l-1.5 -1.5ZM293.9 1016.9l1.5 1.5l-1.5 1.5l-1.5 -1.5ZM295.6 1016.6l1.5 1.5l-1.5 1.5l-1.5 -1.5ZM296.4 1017.1l1.5 1.5l-1.5 1.5l-1.5 -1.5ZM297.5 1017.5l1.5 1.5l-1.5 1.5l-1.5 -1.5ZM299.2 1017.9l1.5 1.5l-1.5 1.5l-1.5 -1.5ZM300.4 1018.3l1.5 1.5l-1.5 1.5l-1.5 -1.5ZM301.6 1017.4l1.5 1.5l-1.5 1.5l-1.5 -1.5ZM302.9 1016.4l1.5 1.5l-1.5 1.5l-1.5 -1.5ZM304.4 1018.1l1.5 1.5l-1.5 1.5l-1.5 -1.5ZM305.7 1017.3l1.5 1.5l-1.5 1.5l-1.5 -1.5ZM307.3 1016.9l1.5 1.5l-1.5 1.5l-1.5 -1.5ZM308.6 1016.5l1.5 1.5l-1.5 1.5l-1.5 -1.5ZM309.7 1016.9l1.5 1.5l-1.5 1.5l-1.5 -1.5ZM311.6 1017.9l1.5 1.5l-1.5 1.5l-1.5 -1.5ZM312.8 1017.5l1.5 1.5l-1.5 1.5l-1.5 -1.5ZM314.4 1017.8l1.5 1.5l-1.5 1.5l-1.5 -1.5ZM314.6 1016.6l1.5 1.5l-1.5 1.5l-1.5 -1.5ZM316.8 1018l1.5 1.5l-1.5 1.5l-1.5 -1.5ZM318.5 1017.9l1.5 1.5l-1.5 1.5l-1.5 -1.5ZM318.7 1017.5l1.5 1.5l-1.5 1.5l-1.5 -1.5ZM320.6 1017.5l1.5 1.5l-1.5 1.5l-1.5 -1.5ZM321.3 1018.2l1.5 1.5l-1.5 1.5l-1.5 -1.5ZM323.1 1016.9l1.5 1.5l-1.5 1.5l-1.5 -1.5ZM325.1 1017.1l1.5 1.5l-1.5 1.5l-1.5 -1.5ZM325.2 1017.7l1.5 1.5l-1.5 1.5l-1.5 -1.5ZM326.8 1016.8l1.5 1.5l-1.5 1.5l-1.5 -1.5ZM328.1 1017.5l1.5 1.5l-1.5 1.5l-1.5 -1.5ZM329.5 1017.6l1.5 1.5l-1.5 1.5l-1.5 -1.5ZM331.6 1018.3l1.5 1.5l-1.5 1.5l-1.5 -1.5ZM332.9 1018.1l1.5 1.5l-1.5 1.5l-1.5 -1.5ZM333.4 1017.9l1.5 1.5l-1.5 1.5l-1.5 -1.5ZM334.5 1017.5l1.5 1.5l-1.5 1.5l-1.5 -1.5ZM335.8 1016.6l1.5 1.5l-1.5 1.5l-1.5 -1.5ZM338.2 1016.6l1.5 1.5l-1.5 1.5l-1.5 -1.5ZM339.2 1017.4l1.5 1.5l-1.5 1.5l-1.5 -1.5ZM339.6 1017.9l1.5 1.5l-1.5 1.5l-1.5 -1.5ZM341 1018.1l1.5 1.5l-1.5 1.5l-1.5 -1.5ZM343.3 1017.3l1.5 1.5l-1.5 1.5l-1.5 -1.5ZM344.2 1016.4l1.5 1.5l-1.5 1.5l-1.5 -1.5ZM345.8 1016.4l1.5 1.5l-1.5 1.5l-1.5 -1.5ZM346.9 1018.1l1.5 1.5l-1.5 1.5l-1.5 -1.5ZM348.4 1016.6l1.5 1.5l-1.5 1.5l-1.5 -1.5ZM349.8 1017.7l1.5 1.5l-1.5 1.5l-1.5 -1.5ZM350.6 1017.8l1.5 1.5l-1.5 1.5l-1.5 -1.5ZM352.3 1017.1l1.5 1.5l-1.5 1.5l-1.5 -1.5ZM353.5 1016.9l1.5 1.5l-1.5 1.5l-1.5 -1.5ZM354.5 1018l1.5 1.5l-1.5 1.5l-1.5 -1.5ZM355.9 1017.8l1.5 1.5l-1.5 1.5l-1.5 -1.5ZM357.3 1016.7l1.5 1.5l-1.5 1.5l-1.5 -1.5ZM358.1 1018.2l1.5 1.5l-1.5 1.5l-1.5 -1.5ZM360.4 1018.2l1.5 1.5l-1.5 1.5l-1.5 -1.5ZM361.5 1016.5l1.5 1.5l-1.5 1.5l-1.5 -1.5ZM362.3 1016.4l1.5 1.5l-1.5 1.5l-1.5 -1.5ZM364.2 1017.5l1.5 1.5l-1.5 1.5l-1.5 -1.5ZM366 1016.9l1.5 1.5l-1.5 1.5l-1.5 -1.5ZM366.3 1016.8l1.5 1.5l-1.5 1.5l-1.5 -1.5ZM367.6 1016.4l1.5 1.5l-1.5 1.5l-1.5 -1.5ZM369.3 1017.1l1.5 1.5l-1.5 1.5l-1.5 -1.5ZM370.6 1018.1l1.5 1.5l-1.5 1.5l-1.5 -1.5ZM371.8 1017.7l1.5 1.5l-1.5 1.5l-1.5 -1.5ZM373.3 1016.2l1.5 1.5l-1.5 1.5l-1.5 -1.5ZM374.1 1017.1l1.5 1.5l-1.5 1.5l-1.5 -1.5ZM376.4 1015.8l1.5 1.5l-1.5 1.5l-1.5 -1.5ZM377.6 1016l1.5 1.5l-1.5 1.5l-1.5 -1.5ZM379 1017.1l1.5 1.5l-1.5 1.5l-1.5 -1.5ZM380.4 1016l1.5 1.5l-1.5 1.5l-1.5 -1.5ZM381 1017.4l1.5 1.5l-1.5 1.5l-1.5 -1.5ZM383.4 1017.3l1.5 1.5l-1.5 1.5l-1.5 -1.5ZM384.3 1015.6l1.5 1.5l-1.5 1.5l-1.5 -1.5ZM385.4 1017.3l1.5 1.5l-1.5 1.5l-1.5 -1.5ZM386.4 1016.1l1.5 1.5l-1.5 1.5l-1.5 -1.5ZM387.7 1017.2l1.5 1.5l-1.5 1.5l-1.5 -1.5ZM389.6 1015.7l1.5 1.5l-1.5 1.5l-1.5 -1.5ZM390.9 1015.9l1.5 1.5l-1.5 1.5l-1.5 -1.5ZM392.4 1016.7l1.5 1.5l-1.5 1.5l-1.5 -1.5ZM394.1 1015.7l1.5 1.5l-1.5 1.5l-1.5 -1.5Z" fill="#0000ff" fill-opacity="1"/><ellipse cx="108.2" cy="1017.8" rx="3.3" ry="3.2" fill="#0000ff"/><rect x="114.1" y="1104.9" width="3.9" height="3.1" fill="#0000ff"/><rect x="148" y="1104.9" width="3.9" height="3.1" fill="#0000ff"/><rect x="203.1" y="1104.9" width="3.9" height="3.1" fill="#0000ff"/><rect x="258.4" y="1104.9" width="4.3" height="3.1" fill="#0000ff"/><rect x="313.9" y="1104.9" width="3.9" height="3.1" fill="#0000ff"/><rect x="369" y="1104.9" width="3.9" height="3.1" fill="#0000ff"/><rect x="380.9" y="1104.9" width="4" height="3.1" fill="#0000ff"/></g>
<rect x="89.50" y="1008.50" width="319.00" height="103.00" fill="none" stroke="#000" stroke-width="1.1"/>
<path d="M94.50 1111.50v4.9M122.50 1111.50v4.9M149.50 1111.50v4.9M177.50 1111.50v4.9M204.50 1111.50v4.9M232.50 1111.50v4.9M260.50 1111.50v4.9M287.50 1111.50v4.9M315.50 1111.50v4.9M343.50 1111.50v4.9M370.50 1111.50v4.9M398.50 1111.50v4.9M89.50 1009.50h-4.9M89.50 1058.50h-4.9M89.50 1106.50h-4.9" stroke="#000" stroke-width="1.1" fill="none"/>
<text x="94.45" y="1130.95" font-size="14.15" text-anchor="middle" textLength="40.03" lengthAdjust="spacingAndGlyphs">21:00</text>
<text x="122.09" y="1130.95" font-size="14.15" text-anchor="middle" textLength="40.03" lengthAdjust="spacingAndGlyphs">22:00</text>
<text x="149.72" y="1130.95" font-size="14.15" text-anchor="middle" textLength="40.03" lengthAdjust="spacingAndGlyphs">23:00</text>
<text x="177.36" y="1130.95" font-size="14.15" text-anchor="middle" textLength="40.03" lengthAdjust="spacingAndGlyphs">00:00</text>
<text x="205.00" y="1130.95" font-size="14.15" text-anchor="middle" textLength="40.03" lengthAdjust="spacingAndGlyphs">01:00</text>
<text x="232.63" y="1130.95" font-size="14.15" text-anchor="middle" textLength="40.03" lengthAdjust="spacingAndGlyphs">02:00</text>
<text x="260.27" y="1130.95" font-size="14.15" text-anchor="middle" textLength="40.03" lengthAdjust="spacingAndGlyphs">03:00</text>
<text x="287.91" y="1130.95" font-size="14.15" text-anchor="middle" textLength="40.03" lengthAdjust="spacingAndGlyphs">04:00</text>
<text x="315.55" y="1130.95" font-size="14.15" text-anchor="middle" textLength="40.03" lengthAdjust="spacingAndGlyphs">05:00</text>
<text x="343.18" y="1130.95" font-size="14.15" text-anchor="middle" textLength="40.03" lengthAdjust="spacingAndGlyphs">06:00</text>
<text x="370.82" y="1130.95" font-size="14.15" text-anchor="middle" textLength="40.03" lengthAdjust="spacingAndGlyphs">07:00</text>
<text x="398.46" y="1130.95" font-size="14.15" text-anchor="middle" textLength="40.03" lengthAdjust="spacingAndGlyphs">08:00</text>
<text x="78.10" y="1014.40" font-size="14.15" text-anchor="end" textLength="44.19" lengthAdjust="spacingAndGlyphs">10000</text>
<text x="78.10" y="1063.40" font-size="14.15" text-anchor="end" textLength="35.35" lengthAdjust="spacingAndGlyphs">5000</text>
<text x="79.60" y="1111.40" font-size="14.15" text-anchor="end" textLength="8.84" lengthAdjust="spacingAndGlyphs">0</text>
<text x="248.00" y="998.90" font-size="16.95" text-anchor="middle" textLength="177.57" lengthAdjust="spacingAndGlyphs">NoRP 80GHz Stokes-I</text>
<text x="24.60" y="1060.00" font-size="14.15" text-anchor="middle" textLength="71.10" lengthAdjust="spacingAndGlyphs" transform="rotate(-90 24.60 1060.00)">Flux [SFU]</text>
<text x="248.20" y="1151.00" font-size="14.15" text-anchor="middle" textLength="64.48" lengthAdjust="spacingAndGlyphs">Time[UT]</text>
</g>
<g id="ax01">
<clipPath id="cp01"><rect x="482.50" y="35.50" width="319.00" height="103.00"/></clipPath>
<g clip-path="url(#cp01)"><path d="M495.2 91.6L495.9 89.4L497.2 88.9L498.4 88.6L499.4 87.7L500.4 86.3L501.3 85.7L502.5 84.2L503.7 83.6L504.9 84L506.2 81.8L507.4 82.4L508.7 82.6L509.9 86.1L511 87.8L512.6 83.1L513.9 80.5L514.9 81.5L515.9 82.8L516.8 86.3L517.8 86.3L518.8 85.5L519.7 85.2L520.7 84.4L521.7 83.3L522.6 83.8L523.6 83.9L524.6 85.1L525.5 83.8L526.8 82.9L528 83.1L529.2 84.5L530.4 86.1L531.3 84.1L532.3 82.8L533.3 81.5L534.2 81.7L535.2 81.3L536.2 81.7L537.1 81.6L538.1 79.5L539.3 79.2L540.4 80.2L541.7 83.5L542.9 84.7L544.2 83.3L545.5 82.1L546.6 81.8L547.8 83.5L548.7 83.9L549.7 83.5L550.7 82.5L551.6 80.7L552.8 79.3L554 80.8L555.2 81.8L556.5 79L557.7 79.3L559 80.7L560.2 82.8L561.3 85.2L562.5 84.2L563.6 83L564.9 82.5L566.2 85.1L567.4 85.9L568.7 84.8L569.8 84.4L571 84.5L572 85.1L572.9 84.9L573.9 86.3L574.9 82.9L575.8 82.1L576.8 81.4L577.8 81L578.7 82L579.7 79.7L580.7 77.2L581.8 76.4L583 77.1L584.2 79.6L585.5 81.3L586.5 79.3L587.4 76L588.4 75.6L589.4 76.7L590.3 79.1L591.3 80.1L592.3 81.2L593.2 81.9L594.5 82.5L595.8 85L596.9 86.4L598.1 85.3L599.2 83.7L600.4 81.9L601.7 84.3L602.9 84.6L604.2 84.9L605.4 83.4L606.6 83L607.7 85L608.7 87.6L609.7 88.5L610.7 88L611.6 86.9L612.6 85.3L613.6 88.6L614.5 89.2L615.5 88.9L616.5 87.4L617.4 86.5L618.4 83L619.4 83.9L620.3 84.8L621.3 86.6L622 87.4L623.1 88.1L624.2 86.9L625.3 87.2L626.4 88.8L627.4 91L628.5 90L629.6 89.2L630.7 86.1L631.8 84.5L632.7 85.9L633.7 87.2L634.6 87.8L635.5 88.6L636.5 85.1L637.4 82.9L638.3 83L639.4 84.7L640.5 84.6L641.6 85.1L642.7 83.7L643.8 84.1L644.9 85.4L645.9 86.1L647 89.1L648.1 90L649.2 86.8L650.3 86L651.4 85.6L652.5 87.3L653.6 88.7L654.7 88.3L655.6 86.5L656.5 82.5L657.5 83.8L658.8 84.1L660.1 86L661.2 85.7L662.3 85.2L663.4 86.4L664.4 88.9L665.4 90.4L666.3 90.3L667.3 87.7L668.6 86.8L669.9 86.2L671.2 84.3L672.5 84.4L673.4 82.5L674.4 79.8L675.3 76.8L676.3 77.8L677.2 80.3L678.2 82.6L679.5 84.4L680.8 85.5L682.1 83.4L683.4 82.9L684.3 84.8L685.3 85.4L686.2 84.3L687.3 85.1L688.4 84.3L689.5 87.6L690.6 89.1L691.5 88L692.5 86.7L693.4 83.2L694.7 80.9L696 80.1L697.3 83.5L698.6 85.7L699.6 83.7L700.5 83.6L701.5 85.3L702.4 88.5L703.3 89.5L704.3 89.8L705.6 87.6L706.9 86.6L708 86.3L709.1 88.4L710.2 87.6L711.2 85.6L712.3 85.6L713.4 89.2L715.2 93.6L716.5 90.2L717.8 85.1L719.1 83.8L720.4 85.5L721.3 87L722.3 86.7L723.2 86.3L724.3 84.3L725.4 83.4L726.5 82.9L727.6 83.7L729.3 79.1L730.8 75.6L732.6 80L734.1 82.7L735.8 81.2L737.4 81.3L737.4 101.6L735.8 104.7L734.1 105.8L732.6 105.4L730.8 103.6L729.3 104.3L727.6 105.5L726.5 105.6L725.4 107.6L724.3 109.4L723.2 108L722.3 106.8L721.3 105.9L720.4 108.3L719.1 110.7L717.8 109.6L716.5 112.2L715.2 116.3L713.4 117.1L712.3 114.3L711.2 111L710.2 111L709.1 111.9L708 113.5L706.9 114.2L705.6 113.3L704.3 109.2L703.3 109.3L702.4 109.7L701.5 109L700.5 109.1L699.6 107.4L698.6 105.7L697.3 106.5L696 106.3L694.7 108.7L693.4 106.2L692.5 106.1L691.5 107.3L690.6 108.9L689.5 112L688.4 113L687.3 113.5L686.2 113.2L685.3 113.1L684.3 112.8L683.4 115.7L682.1 116L680.8 115.5L679.5 111.4L678.2 109.9L677.2 109.3L676.3 109L675.3 106.4L674.4 106.6L673.4 105.7L672.5 107.3L671.2 109.6L669.9 114.6L668.6 112.8L667.3 108.9L666.3 109.3L665.4 108.1L664.4 109.5L663.4 109L662.3 106.4L661.2 104.5L660.1 100.3L658.8 103.2L657.5 105.4L656.5 105.8L655.6 106.1L654.7 105.9L653.6 103.5L652.5 105.2L651.4 105.3L650.3 106.4L649.2 104.7L648.1 103.3L647 102.9L645.9 105.6L644.9 107L643.8 107L642.7 107L641.6 105.9L640.5 106.1L639.4 106L638.3 107.7L637.4 108.7L636.5 108.7L635.5 107.8L634.6 106.7L633.7 108L632.7 108.9L631.8 110L630.7 110.5L629.6 109.6L628.5 109.1L627.4 109.3L626.4 111.6L625.3 111.3L624.2 111.3L623.1 109.2L622 109L621.3 107.9L620.3 107.8L619.4 108.5L618.4 109.6L617.4 107.2L616.5 107.4L615.5 108.4L614.5 109.7L613.6 110.3L612.6 111.3L611.6 110L610.7 108.6L609.7 106L608.7 105.9L607.7 107.3L606.6 109L605.4 108.4L604.2 105L602.9 104.8L601.7 105.6L600.4 106.5L599.2 105.2L598.1 102.5L596.9 101.8L595.8 104.1L594.5 104.7L593.2 103L592.3 101L591.3 99.5L590.3 97.3L589.4 97.5L588.4 100.4L587.4 100.7L586.5 98.8L585.5 99.2L584.2 100.3L583 102.7L581.8 104L580.7 103L579.7 102.4L578.7 101.8L577.8 103.1L576.8 105.2L575.8 107.1L574.9 107L573.9 105.4L572.9 105.3L572 107.5L571 109.7L569.8 109.2L568.7 108.3L567.4 104.7L566.2 104.7L564.9 104.1L563.6 104.7L562.5 102.1L561.3 101.1L560.2 101.3L559 102L557.7 101.2L556.5 98.8L555.2 97.5L554 100.9L552.8 101.9L551.6 102.1L550.7 100.2L549.7 101.1L548.7 100.4L547.8 100.9L546.6 104.1L545.5 104.9L544.2 105.6L542.9 104.8L541.7 105.2L540.4 105.8L539.3 106.2L538.1 103.8L537.1 101.6L536.2 102.3L535.2 104L534.2 105.7L533.3 105.1L532.3 104.4L531.3 103.1L530.4 103.3L529.2 103.8L528 105.1L526.8 105.5L525.5 103.3L524.6 104.1L523.6 104.3L522.6 107.7L521.7 110.8L520.7 112L519.7 111.4L518.8 108L517.8 108.1L516.8 107.1L515.9 108.2L514.9 108.8L513.9 108.6L512.6 106.6L511 107.5L509.9 107.8L508.7 108.1L507.4 106.2L506.2 103.1L504.9 102.9L503.7 105.5L502.5 107.3L501.3 107.9L500.4 107.3L499.4 106.5L498.4 106.8L497.2 105.6L495.9 106.3L495.2 104.3Z" fill="none" stroke="#ffa500" stroke-width="2.4" stroke-opacity="0.3" stroke-linejoin="round"/><path d="M495.2 91.6L495.9 89.4L497.2 88.9L498.4 88.6L499.4 87.7L500.4 86.3L501.3 85.7L502.5 84.2L503.7 83.6L504.9 84L506.2 81.8L507.4 82.4L508.7 82.6L509.9 86.1L511 87.8L512.6 83.1L513.9 80.5L514.9 81.5L515.9 82.8L516.8 86.3L517.8 86.3L518.8 85.5L519.7 85.2L520.7 84.4L521.7 83.3L522.6 83.8L523.6 83.9L524.6 85.1L525.5 83.8L526.8 82.9L528 83.1L529.2 84.5L530.4 86.1L531.3 84.1L532.3 82.8L533.3 81.5L534.2 81.7L535.2 81.3L536.2 81.7L537.1 81.6L538.1 79.5L539.3 79.2L540.4 80.2L541.7 83.5L542.9 84.7L544.2 83.3L545.5 82.1L546.6 81.8L547.8 83.5L548.7 83.9L549.7 83.5L550.7 82.5L551.6 80.7L552.8 79.3L554 80.8L555.2 81.8L556.5 79L557.7 79.3L559 80.7L560.2 82.8L561.3 85.2L562.5 84.2L563.6 83L564.9 82.5L566.2 85.1L567.4 85.9L568.7 84.8L569.8 84.4L571 84.5L572 85.1L572.9 84.9L573.9 86.3L574.9 82.9L575.8 82.1L576.8 81.4L577.8 81L578.7 82L579.7 79.7L580.7 77.2L581.8 76.4L583 77.1L584.2 79.6L585.5 81.3L586.5 79.3L587.4 76L588.4 75.6L589.4 76.7L590.3 79.1L591.3 80.1L592.3 81.2L593.2 81.9L594.5 82.5L595.8 85L596.9 86.4L598.1 85.3L599.2 83.7L600.4 81.9L601.7 84.3L602.9 84.6L604.2 84.9L605.4 83.4L606.6 83L607.7 85L608.7 87.6L609.7 88.5L610.7 88L611.6 86.9L612.6 85.3L613.6 88.6L614.5 89.2L615.5 88.9L616.5 87.4L617.4 86.5L618.4 83L619.4 83.9L620.3 84.8L621.3 86.6L622 87.4L623.1 88.1L624.2 86.9L625.3 87.2L626.4 88.8L627.4 91L628.5 90L629.6 89.2L630.7 86.1L631.8 84.5L632.7 85.9L633.7 87.2L634.6 87.8L635.5 88.6L636.5 85.1L637.4 82.9L638.3 83L639.4 84.7L640.5 84.6L641.6 85.1L642.7 83.7L643.8 84.1L644.9 85.4L645.9 86.1L647 89.1L648.1 90L649.2 86.8L650.3 86L651.4 85.6L652.5 87.3L653.6 88.7L654.7 88.3L655.6 86.5L656.5 82.5L657.5 83.8L658.8 84.1L660.1 86L661.2 85.7L662.3 85.2L663.4 86.4L664.4 88.9L665.4 90.4L666.3 90.3L667.3 87.7L668.6 86.8L669.9 86.2L671.2 84.3L672.5 84.4L673.4 82.5L674.4 79.8L675.3 76.8L676.3 77.8L677.2 80.3L678.2 82.6L679.5 84.4L680.8 85.5L682.1 83.4L683.4 82.9L684.3 84.8L685.3 85.4L686.2 84.3L687.3 85.1L688.4 84.3L689.5 87.6L690.6 89.1L691.5 88L692.5 86.7L693.4 83.2L694.7 80.9L696 80.1L697.3 83.5L698.6 85.7L699.6 83.7L700.5 83.6L701.5 85.3L702.4 88.5L703.3 89.5L704.3 89.8L705.6 87.6L706.9 86.6L708 86.3L709.1 88.4L710.2 87.6L711.2 85.6L712.3 85.6L713.4 89.2L715.2 93.6L716.5 90.2L717.8 85.1L719.1 83.8L720.4 85.5L721.3 87L722.3 86.7L723.2 86.3L724.3 84.3L725.4 83.4L726.5 82.9L727.6 83.7L729.3 79.1L730.8 75.6L732.6 80L734.1 82.7L735.8 81.2L737.4 81.3L737.4 101.6L735.8 104.7L734.1 105.8L732.6 105.4L730.8 103.6L729.3 104.3L727.6 105.5L726.5 105.6L725.4 107.6L724.3 109.4L723.2 108L722.3 106.8L721.3 105.9L720.4 108.3L719.1 110.7L717.8 109.6L716.5 112.2L715.2 116.3L713.4 117.1L712.3 114.3L711.2 111L710.2 111L709.1 111.9L708 113.5L706.9 114.2L705.6 113.3L704.3 109.2L703.3 109.3L702.4 109.7L701.5 109L700.5 109.1L699.6 107.4L698.6 105.7L697.3 106.5L696 106.3L694.7 108.7L693.4 106.2L692.5 106.1L691.5 107.3L690.6 108.9L689.5 112L688.4 113L687.3 113.5L686.2 113.2L685.3 113.1L684.3 112.8L683.4 115.7L682.1 116L680.8 115.5L679.5 111.4L678.2 109.9L677.2 109.3L676.3 109L675.3 106.4L674.4 106.6L673.4 105.7L672.5 107.3L671.2 109.6L669.9 114.6L668.6 112.8L667.3 108.9L666.3 109.3L665.4 108.1L664.4 109.5L663.4 109L662.3 106.4L661.2 104.5L660.1 100.3L658.8 103.2L657.5 105.4L656.5 105.8L655.6 106.1L654.7 105.9L653.6 103.5L652.5 105.2L651.4 105.3L650.3 106.4L649.2 104.7L648.1 103.3L647 102.9L645.9 105.6L644.9 107L643.8 107L642.7 107L641.6 105.9L640.5 106.1L639.4 106L638.3 107.7L637.4 108.7L636.5 108.7L635.5 107.8L634.6 106.7L633.7 108L632.7 108.9L631.8 110L630.7 110.5L629.6 109.6L628.5 109.1L627.4 109.3L626.4 111.6L625.3 111.3L624.2 111.3L623.1 109.2L622 109L621.3 107.9L620.3 107.8L619.4 108.5L618.4 109.6L617.4 107.2L616.5 107.4L615.5 108.4L614.5 109.7L613.6 110.3L612.6 111.3L611.6 110L610.7 108.6L609.7 106L608.7 105.9L607.7 107.3L606.6 109L605.4 108.4L604.2 105L602.9 104.8L601.7 105.6L600.4 106.5L599.2 105.2L598.1 102.5L596.9 101.8L595.8 104.1L594.5 104.7L593.2 103L592.3 101L591.3 99.5L590.3 97.3L589.4 97.5L588.4 100.4L587.4 100.7L586.5 98.8L585.5 99.2L584.2 100.3L583 102.7L581.8 104L580.7 103L579.7 102.4L578.7 101.8L577.8 103.1L576.8 105.2L575.8 107.1L574.9 107L573.9 105.4L572.9 105.3L572 107.5L571 109.7L569.8 109.2L568.7 108.3L567.4 104.7L566.2 104.7L564.9 104.1L563.6 104.7L562.5 102.1L561.3 101.1L560.2 101.3L559 102L557.7 101.2L556.5 98.8L555.2 97.5L554 100.9L552.8 101.9L551.6 102.1L550.7 100.2L549.7 101.1L548.7 100.4L547.8 100.9L546.6 104.1L545.5 104.9L544.2 105.6L542.9 104.8L541.7 105.2L540.4 105.8L539.3 106.2L538.1 103.8L537.1 101.6L536.2 102.3L535.2 104L534.2 105.7L533.3 105.1L532.3 104.4L531.3 103.1L530.4 103.3L529.2 103.8L528 105.1L526.8 105.5L525.5 103.3L524.6 104.1L523.6 104.3L522.6 107.7L521.7 110.8L520.7 112L519.7 111.4L518.8 108L517.8 108.1L516.8 107.1L515.9 108.2L514.9 108.8L513.9 108.6L512.6 106.6L511 107.5L509.9 107.8L508.7 108.1L507.4 106.2L506.2 103.1L504.9 102.9L503.7 105.5L502.5 107.3L501.3 107.9L500.4 107.3L499.4 106.5L498.4 106.8L497.2 105.6L495.9 106.3L495.2 104.3Z" fill="#ffa500" stroke="#ffa500" stroke-width="0.6" stroke-linejoin="round"/><path d="M631.2 96L631.5 85L632.6 78L633.9 68.6L635.5 67.4L637.1 68.6L637.7 78L638.2 85L638.4 96L638.4 100L631.2 100Z" fill="#ffa500"/><rect x="633.1" y="98" width="3.3" height="32" fill="#ffa500"/><path d="M635.5 37.2l1.7 1.7l-1.7 1.7l-1.7 -1.7ZM635.5 40.3l1.7 1.7l-1.7 1.7l-1.7 -1.7ZM635.5 43.4l1.7 1.7l-1.7 1.7l-1.7 -1.7Z" fill="#ffa500" fill-opacity="0.5"/><path d="M635.5 47.4l1.7 1.7l-1.7 1.7l-1.7 -1.7ZM635.5 50.5l1.7 1.7l-1.7 1.7l-1.7 -1.7ZM635.5 53.6l1.7 1.7l-1.7 1.7l-1.7 -1.7ZM635.5 57.3l1.7 1.7l-1.7 1.7l-1.7 -1.7ZM635.5 60.4l1.7 1.7l-1.7 1.7l-1.7 -1.7ZM635.5 63.5l1.7 1.7l-1.7 1.7l-1.7 -1.7Z" fill="#ffa500" fill-opacity="0.92"/><path d="M634.8 130.5l1.7 1.7l-1.7 1.7l-1.7 -1.7ZM634.8 134l1.7 1.7l-1.7 1.7l-1.7 -1.7Z" fill="#ffa500" fill-opacity="0.8"/><path d="M632 76l1.6 1.6l-1.6 1.6l-1.6 -1.6ZM631.3 79l1.6 1.6l-1.6 1.6l-1.6 -1.6ZM632.2 81.5l1.6 1.6l-1.6 1.6l-1.6 -1.6ZM631 84.5l1.6 1.6l-1.6 1.6l-1.6 -1.6Z" fill="#ffa500" fill-opacity="0.35"/><rect x="555.1" y="113" width="3.9" height="3" fill="#ffa500"/><rect x="638.3" y="113" width="3.9" height="3" fill="#ffa500"/><rect x="721" y="113" width="3.9" height="3" fill="#ffa500"/><rect x="735.2" y="113" width="52.7" height="3" fill="#ffa500"/><path d="M508.6 83.4l1.6 1.6l-1.6 1.6l-1.6 -1.6ZM567.5 84.3l1.6 1.6l-1.6 1.6l-1.6 -1.6ZM587.3 107.6l1.6 1.6l-1.6 1.6l-1.6 -1.6ZM728.4 80.2l1.6 1.6l-1.6 1.6l-1.6 -1.6ZM651.4 83.8l1.6 1.6l-1.6 1.6l-1.6 -1.6ZM577.2 105l1.6 1.6l-1.6 1.6l-1.6 -1.6ZM514.8 82.8l1.6 1.6l-1.6 1.6l-1.6 -1.6ZM722.1 108.2l1.6 1.6l-1.6 1.6l-1.6 -1.6ZM517.9 108l1.6 1.6l-1.6 1.6l-1.6 -1.6ZM683.8 108.4l1.6 1.6l-1.6 1.6l-1.6 -1.6ZM537 77.1l1.6 1.6l-1.6 1.6l-1.6 -1.6ZM599.7 84.1l1.6 1.6l-1.6 1.6l-1.6 -1.6ZM507.7 105.3l1.6 1.6l-1.6 1.6l-1.6 -1.6ZM520.8 106l1.6 1.6l-1.6 1.6l-1.6 -1.6ZM638.8 107.2l1.6 1.6l-1.6 1.6l-1.6 -1.6ZM580 82l1.6 1.6l-1.6 1.6l-1.6 -1.6ZM585.3 110.2l1.6 1.6l-1.6 1.6l-1.6 -1.6ZM514.2 79.3l1.6 1.6l-1.6 1.6l-1.6 -1.6ZM719.7 105.8l1.6 1.6l-1.6 1.6l-1.6 -1.6ZM606 80.6l1.6 1.6l-1.6 1.6l-1.6 -1.6ZM512.7 80.5l1.6 1.6l-1.6 1.6l-1.6 -1.6ZM625.1 81.1l1.6 1.6l-1.6 1.6l-1.6 -1.6ZM570.8 104.8l1.6 1.6l-1.6 1.6l-1.6 -1.6ZM697.9 77.8l1.6 1.6l-1.6 1.6l-1.6 -1.6ZM565.8 105.1l1.6 1.6l-1.6 1.6l-1.6 -1.6ZM715 79.7l1.6 1.6l-1.6 1.6l-1.6 -1.6ZM513.4 84.1l1.6 1.6l-1.6 1.6l-1.6 -1.6ZM540.8 80.8l1.6 1.6l-1.6 1.6l-1.6 -1.6ZM649.6 78.2l1.6 1.6l-1.6 1.6l-1.6 -1.6ZM641 76.7l1.6 1.6l-1.6 1.6l-1.6 -1.6ZM662.7 110.1l1.6 1.6l-1.6 1.6l-1.6 -1.6ZM701.2 78.9l1.6 1.6l-1.6 1.6l-1.6 -1.6ZM640 108.8l1.6 1.6l-1.6 1.6l-1.6 -1.6ZM628.7 78.4l1.6 1.6l-1.6 1.6l-1.6 -1.6ZM516.3 81.1l1.6 1.6l-1.6 1.6l-1.6 -1.6ZM516.7 111.2l1.6 1.6l-1.6 1.6l-1.6 -1.6ZM531.1 108.8l1.6 1.6l-1.6 1.6l-1.6 -1.6ZM497.4 79.3l1.6 1.6l-1.6 1.6l-1.6 -1.6ZM570.2 78.4l1.6 1.6l-1.6 1.6l-1.6 -1.6ZM500.2 80.3l1.6 1.6l-1.6 1.6l-1.6 -1.6ZM551.6 110.7l1.6 1.6l-1.6 1.6l-1.6 -1.6ZM615.9 106.9l1.6 1.6l-1.6 1.6l-1.6 -1.6ZM676.7 106.9l1.6 1.6l-1.6 1.6l-1.6 -1.6ZM673.7 77.8l1.6 1.6l-1.6 1.6l-1.6 -1.6ZM596.6 82.2l1.6 1.6l-1.6 1.6l-1.6 -1.6ZM556.4 82.9l1.6 1.6l-1.6 1.6l-1.6 -1.6ZM639.6 109.5l1.6 1.6l-1.6 1.6l-1.6 -1.6ZM662.2 109.3l1.6 1.6l-1.6 1.6l-1.6 -1.6ZM716.5 109.1l1.6 1.6l-1.6 1.6l-1.6 -1.6ZM628 111l1.6 1.6l-1.6 1.6l-1.6 -1.6ZM568 80.5l1.6 1.6l-1.6 1.6l-1.6 -1.6ZM570.8 108.9l1.6 1.6l-1.6 1.6l-1.6 -1.6ZM496.5 81.4l1.6 1.6l-1.6 1.6l-1.6 -1.6ZM591.1 107.7l1.6 1.6l-1.6 1.6l-1.6 -1.6ZM522.7 111.3l1.6 1.6l-1.6 1.6l-1.6 -1.6ZM518 108.7l1.6 1.6l-1.6 1.6l-1.6 -1.6ZM643 108l1.6 1.6l-1.6 1.6l-1.6 -1.6ZM733.4 107.5l1.6 1.6l-1.6 1.6l-1.6 -1.6ZM691.2 110.1l1.6 1.6l-1.6 1.6l-1.6 -1.6ZM735.5 78.1l1.6 1.6l-1.6 1.6l-1.6 -1.6ZM551.7 110.9l1.6 1.6l-1.6 1.6l-1.6 -1.6ZM550.3 83.6l1.6 1.6l-1.6 1.6l-1.6 -1.6ZM669.4 110.7l1.6 1.6l-1.6 1.6l-1.6 -1.6ZM717.7 84.2l1.6 1.6l-1.6 1.6l-1.6 -1.6ZM565.9 109.7l1.6 1.6l-1.6 1.6l-1.6 -1.6ZM566.5 83.7l1.6 1.6l-1.6 1.6l-1.6 -1.6ZM685.9 105.1l1.6 1.6l-1.6 1.6l-1.6 -1.6ZM646.3 111.1l1.6 1.6l-1.6 1.6l-1.6 -1.6ZM670.1 77.3l1.6 1.6l-1.6 1.6l-1.6 -1.6ZM537.6 81l1.6 1.6l-1.6 1.6l-1.6 -1.6ZM573.4 77.1l1.6 1.6l-1.6 1.6l-1.6 -1.6ZM660.5 105.3l1.6 1.6l-1.6 1.6l-1.6 -1.6ZM619.3 107l1.6 1.6l-1.6 1.6l-1.6 -1.6ZM624.3 104.6l1.6 1.6l-1.6 1.6l-1.6 -1.6ZM705.5 109.6l1.6 1.6l-1.6 1.6l-1.6 -1.6ZM578.3 84l1.6 1.6l-1.6 1.6l-1.6 -1.6ZM510.7 81.6l1.6 1.6l-1.6 1.6l-1.6 -1.6ZM724.6 78l1.6 1.6l-1.6 1.6l-1.6 -1.6ZM606.4 108.4l1.6 1.6l-1.6 1.6l-1.6 -1.6ZM654.3 78l1.6 1.6l-1.6 1.6l-1.6 -1.6ZM636.6 105.1l1.6 1.6l-1.6 1.6l-1.6 -1.6ZM517.7 79.8l1.6 1.6l-1.6 1.6l-1.6 -1.6ZM576 77l1.6 1.6l-1.6 1.6l-1.6 -1.6ZM650.9 108.9l1.6 1.6l-1.6 1.6l-1.6 -1.6ZM716.6 81.4l1.6 1.6l-1.6 1.6l-1.6 -1.6ZM583.6 108.6l1.6 1.6l-1.6 1.6l-1.6 -1.6ZM643.3 111.1l1.6 1.6l-1.6 1.6l-1.6 -1.6ZM528.9 77.1l1.6 1.6l-1.6 1.6l-1.6 -1.6ZM630.5 82l1.6 1.6l-1.6 1.6l-1.6 -1.6ZM581.3 83.6l1.6 1.6l-1.6 1.6l-1.6 -1.6ZM526.3 80.6l1.6 1.6l-1.6 1.6l-1.6 -1.6ZM509.7 109.5l1.6 1.6l-1.6 1.6l-1.6 -1.6ZM524.2 105.4l1.6 1.6l-1.6 1.6l-1.6 -1.6ZM623.3 78.7l1.6 1.6l-1.6 1.6l-1.6 -1.6ZM604.1 109l1.6 1.6l-1.6 1.6l-1.6 -1.6ZM718.5 79.3l1.6 1.6l-1.6 1.6l-1.6 -1.6ZM546.2 107l1.6 1.6l-1.6 1.6l-1.6 -1.6ZM546.8 79.8l1.6 1.6l-1.6 1.6l-1.6 -1.6ZM696.7 83l1.6 1.6l-1.6 1.6l-1.6 -1.6ZM609.2 106.2l1.6 1.6l-1.6 1.6l-1.6 -1.6ZM594.2 105l1.6 1.6l-1.6 1.6l-1.6 -1.6ZM605 78.8l1.6 1.6l-1.6 1.6l-1.6 -1.6ZM577.1 81.1l1.6 1.6l-1.6 1.6l-1.6 -1.6ZM505.7 78.6l1.6 1.6l-1.6 1.6l-1.6 -1.6ZM539.4 109.3l1.6 1.6l-1.6 1.6l-1.6 -1.6ZM709.1 78l1.6 1.6l-1.6 1.6l-1.6 -1.6ZM571.2 110.3l1.6 1.6l-1.6 1.6l-1.6 -1.6ZM696.3 104.6l1.6 1.6l-1.6 1.6l-1.6 -1.6ZM502.6 79.9l1.6 1.6l-1.6 1.6l-1.6 -1.6ZM497.5 77.5l1.6 1.6l-1.6 1.6l-1.6 -1.6Z" fill="#ffa500" fill-opacity="0.14"/></g>
<rect x="482.50" y="35.50" width="319.00" height="103.00" fill="none" stroke="#000" stroke-width="1.1"/>
<path d="M487.50 138.50v4.9M515.50 138.50v4.9M542.50 138.50v4.9M570.50 138.50v4.9M597.50 138.50v4.9M625.50 138.50v4.9M653.50 138.50v4.9M680.50 138.50v4.9M708.50 138.50v4.9M736.50 138.50v4.9M763.50 138.50v4.9M791.50 138.50v4.9M482.50 67.50h-4.9M482.50 114.50h-4.9" stroke="#000" stroke-width="1.1" fill="none"/>
<text x="487.40" y="158.95" font-size="14.15" text-anchor="middle" textLength="40.03" lengthAdjust="spacingAndGlyphs">21:00</text>
<text x="515.04" y="158.95" font-size="14.15" text-anchor="middle" textLength="40.03" lengthAdjust="spacingAndGlyphs">22:00</text>
<text x="542.67" y="158.95" font-size="14.15" text-anchor="middle" textLength="40.03" lengthAdjust="spacingAndGlyphs">23:00</text>
<text x="570.31" y="158.95" font-size="14.15" text-anchor="middle" textLength="40.03" lengthAdjust="spacingAndGlyphs">00:00</text>
<text x="597.95" y="158.95" font-size="14.15" text-anchor="middle" textLength="40.03" lengthAdjust="spacingAndGlyphs">01:00</text>
<text x="625.59" y="158.95" font-size="14.15" text-anchor="middle" textLength="40.03" lengthAdjust="spacingAndGlyphs">02:00</text>
<text x="653.22" y="158.95" font-size="14.15" text-anchor="middle" textLength="40.03" lengthAdjust="spacingAndGlyphs">03:00</text>
<text x="680.86" y="158.95" font-size="14.15" text-anchor="middle" textLength="40.03" lengthAdjust="spacingAndGlyphs">04:00</text>
<text x="708.50" y="158.95" font-size="14.15" text-anchor="middle" textLength="40.03" lengthAdjust="spacingAndGlyphs">05:00</text>
<text x="736.13" y="158.95" font-size="14.15" text-anchor="middle" textLength="40.03" lengthAdjust="spacingAndGlyphs">06:00</text>
<text x="763.77" y="158.95" font-size="14.15" text-anchor="middle" textLength="40.03" lengthAdjust="spacingAndGlyphs">07:00</text>
<text x="791.41" y="158.95" font-size="14.15" text-anchor="middle" textLength="40.03" lengthAdjust="spacingAndGlyphs">08:00</text>
<text x="472.60" y="72.40" font-size="14.15" text-anchor="end" textLength="8.84" lengthAdjust="spacingAndGlyphs">2</text>
<text x="472.60" y="119.40" font-size="14.15" text-anchor="end" textLength="8.84" lengthAdjust="spacingAndGlyphs">0</text>
<text x="641.00" y="26.90" font-size="16.95" text-anchor="middle" textLength="172.47" lengthAdjust="spacingAndGlyphs">NoRP 1GHz Stokes-V</text>
</g>
<g id="ax11">
<clipPath id="cp11"><rect x="482.50" y="197.50" width="319.00" height="103.00"/></clipPath>
<g clip-path="url(#cp11)"><rect x="495.4" y="209.9" width="288.2" height="39" fill="#ffa500"/><path d="M496.8 212.6h1.3M498.7 212.6h2.1M501.8 212.6h1.6M504.5 212.6h2M508.4 212.6h0.9M510.2 212.6h1.3M513.6 212.6h1.1M516.1 212.6h1.4M519.1 212.6h1.8M523.1 212.6h2.2M525.6 212.6h2.1M528.5 212.6h2M530.8 212.6h2.2M534.7 212.6h1.8M537.5 212.6h1.8M540 212.6h0.7M542.2 212.6h1.3M544.9 212.6h1.4M548.5 212.6h0.8M551.3 212.6h2M554.8 212.6h1.2M557.9 212.6h1M560.5 212.6h0.7M562.6 212.6h1.5M566.6 212.6h1.1M568.9 212.6h2.1M571 212.6h1.6M574.1 212.6h1.3M578.1 212.6h0.9M580.8 212.6h0.7M583.6 212.6h1.7M586.4 212.6h1.6M588.3 212.6h1.4M592.6 212.6h1.4M594.5 212.6h1.3M598.2 212.6h2.1M600.7 212.6h0.7M603.5 212.6h1M606.5 212.6h1.9M610 212.6h1.1M612.8 212.6h1.1M615 212.6h1.3M618.6 212.6h1.1M620.5 212.6h1.8M623.6 212.6h0.8M626.5 212.6h1.5M629 212.6h1.7M632.4 212.6h1.1M634.7 212.6h1.8M639.1 212.6h1.2M641.7 212.6h1.6M644.1 212.6h0.8M646.4 212.6h1.1M649.6 212.6h1.5M653.3 212.6h1.6M655.4 212.6h1.3M658 212.6h0.7M661.4 212.6h1.5M664.6 212.6h2M666.8 212.6h1M670.1 212.6h0.9M673.2 212.6h1.6M676.4 212.6h1M678.8 212.6h0.8M682.6 212.6h0.7M684.4 212.6h1.6M688 212.6h2M689.9 212.6h1.8M694.1 212.6h1.5M696.4 212.6h2M698.8 212.6h2M702.6 212.6h1M705.6 212.6h1.2M707.4 212.6h2.2M711.4 212.6h2.1M714.4 212.6h1.6M716.4 212.6h1.6M720 212.6h1.1M722.8 212.6h0.7M725.5 212.6h1.1M728.1 212.6h1M730.9 212.6h1.6M734.5 212.6h1.6M737.4 212.6h1.6M740.5 212.6h2.1M742.1 212.6h0.6M745.8 212.6h0.9M748.9 212.6h0.8M751 212.6h1.2M753.6 212.6h2.1M757.8 212.6h1.3M760.6 212.6h1.9M763.4 212.6h0.9M765.7 212.6h1.2M768.8 212.6h1.9M772.2 212.6h1.1M774 212.6h1.8M777.9 212.6h1.6M780.8 212.6h1.6" stroke="#fff" stroke-width="0.6" stroke-opacity="0.55"/><path d="M495.5 243.4h2M498.9 243.4h1.8M502.8 243.4h0.9M504.8 243.4h0.8M507.5 243.4h1.7M511.5 243.4h1.6M513.8 243.4h0.9M516.8 243.4h2.1M519.4 243.4h0.9M522.5 243.4h1.9M525.1 243.4h2.1M527.8 243.4h0.8M530.7 243.4h1.7M533.5 243.4h1.5M537.1 243.4h2.1M539.1 243.4h1.3M542.1 243.4h1.3M545.6 243.4h1M549.2 243.4h2M551.8 243.4h1.1M554.5 243.4h2.1M557.5 243.4h0.7M559.6 243.4h2M563 243.4h0.6M565.1 243.4h1.8M568.8 243.4h2.1M570.9 243.4h1.1M574 243.4h1.5M576.9 243.4h1.3M580.1 243.4h0.7M583.2 243.4h1.9M585.7 243.4h1.4M588.4 243.4h1.9M591.4 243.4h0.7M595.5 243.4h0.9M598.5 243.4h1M601.3 243.4h1.9M603 243.4h0.6M606 243.4h0.6M609.9 243.4h1.2M611.5 243.4h1.2M614.6 243.4h2M618.3 243.4h2M621.6 243.4h1M624.5 243.4h1.8M627.3 243.4h1.2M629.4 243.4h1.8M632.9 243.4h1.7M636.1 243.4h0.7M638.9 243.4h1.4M642 243.4h1.3M644.5 243.4h1.3M647.5 243.4h1.5M650.3 243.4h1.7M652.7 243.4h1.2M655.9 243.4h1.4M659.3 243.4h1.9M661.7 243.4h1.7M663.7 243.4h0.9M667.3 243.4h0.8M670.8 243.4h1M673.5 243.4h2.1M676 243.4h1.2M679.6 243.4h2M682.2 243.4h2.1M684.3 243.4h1.7M688 243.4h1.2M691.1 243.4h1.8M692.7 243.4h1.4M697 243.4h2.1M699.1 243.4h1.4M702.7 243.4h1.6M704.3 243.4h1.7M707.7 243.4h1.6M710.6 243.4h0.9M713.3 243.4h1.5M716.9 243.4h1.3M720 243.4h1.7M722.7 243.4h1.8M726 243.4h0.9M727.7 243.4h1.2M730.8 243.4h1M733.9 243.4h2.1M737.4 243.4h1.4M740.2 243.4h1.3M743.5 243.4h2.1M746.2 243.4h1.9M748.6 243.4h2M751.8 243.4h1.4M754.8 243.4h0.8M757.3 243.4h1.2M760.4 243.4h0.7M763.6 243.4h1.2M766.4 243.4h1.3M768.3 243.4h1.4M771 243.4h2.2M775 243.4h1.5M778 243.4h0.9M780 243.4h0.9" stroke="#fff" stroke-width="0.6" stroke-opacity="0.55"/><path d="M496.5 246.4h1.2M499.2 246.4h0.9M501.9 246.4h1.6M504.9 246.4h1.5M507.7 246.4h1.5M511 246.4h1.4M513.8 246.4h1.6M515.9 246.4h1.8M519.4 246.4h1.8M522 246.4h1.7M525.4 246.4h1.9M528.1 246.4h1.4M531.4 246.4h1.6M534.6 246.4h0.8M537.2 246.4h0.7M539.9 246.4h1.3M542.7 246.4h1.7M545 246.4h1M548.8 246.4h2.1M550.9 246.4h1.1M554.1 246.4h1.4M557.3 246.4h1.3M559.7 246.4h2.2M563.5 246.4h0.8M565.9 246.4h1M569.5 246.4h1.6M570.9 246.4h1.2M574.5 246.4h1.1M577.2 246.4h0.8M580.5 246.4h2.1M583.5 246.4h1.3M586.3 246.4h1.5M589.7 246.4h1M591.9 246.4h2.1M594.7 246.4h0.8M598.1 246.4h1.7M600.7 246.4h0.7M603.2 246.4h1.5M607.1 246.4h1.1M608.9 246.4h2.1M611.6 246.4h1.3M615.2 246.4h1.9M618.7 246.4h0.6M621.5 246.4h1M624.3 246.4h2.2M626.9 246.4h1.2M629.7 246.4h0.7M632.2 246.4h1M634.9 246.4h1.2M638.3 246.4h1.4M641.7 246.4h1.2M644.2 246.4h1.1M647.8 246.4h1.4M650.4 246.4h1.4M652.9 246.4h0.9M655.9 246.4h1.4M658.5 246.4h1.5M662.2 246.4h1.5M664.9 246.4h1.8M666.9 246.4h1.3M670.9 246.4h0.9M673.4 246.4h2.1M675.8 246.4h0.8M679.3 246.4h1.1M681.7 246.4h1.3M685 246.4h1.3M687.7 246.4h0.9M690.7 246.4h2M694.1 246.4h1.1M696.9 246.4h1.5M699.2 246.4h1.6M702 246.4h0.8M705.4 246.4h1.3M708.2 246.4h0.8M710.2 246.4h1.5M713.8 246.4h1.8M716.3 246.4h2M719.8 246.4h2.1M722 246.4h0.8M725 246.4h1.3M727.9 246.4h1.7M730.8 246.4h1.2M734.1 246.4h2.1M737.5 246.4h1.4M740.1 246.4h2M743 246.4h0.7M746 246.4h1.2M748.4 246.4h1.7M751.3 246.4h1.9M754.6 246.4h1.4M756.8 246.4h2M760.5 246.4h1.8M763.7 246.4h1.3M766.5 246.4h1.7M768.2 246.4h1.4M772.4 246.4h0.8M774.2 246.4h2M777 246.4h2M780.6 246.4h2" stroke="#fff" stroke-width="0.6" stroke-opacity="0.55"/><path d="M563.7 206.1l1.6 1.6l-1.6 1.6l-1.6 -1.6ZM507.5 205.9l1.6 1.6l-1.6 1.6l-1.6 -1.6ZM583 206l1.6 1.6l-1.6 1.6l-1.6 -1.6ZM606 206l1.6 1.6l-1.6 1.6l-1.6 -1.6ZM620.6 206.1l1.6 1.6l-1.6 1.6l-1.6 -1.6ZM684.6 205.8l1.6 1.6l-1.6 1.6l-1.6 -1.6ZM553.2 205.8l1.6 1.6l-1.6 1.6l-1.6 -1.6ZM589.9 205.9l1.6 1.6l-1.6 1.6l-1.6 -1.6ZM640.7 206.1l1.6 1.6l-1.6 1.6l-1.6 -1.6ZM777.4 205.8l1.6 1.6l-1.6 1.6l-1.6 -1.6ZM580.9 206l1.6 1.6l-1.6 1.6l-1.6 -1.6ZM498.5 206l1.6 1.6l-1.6 1.6l-1.6 -1.6ZM507.3 206l1.6 1.6l-1.6 1.6l-1.6 -1.6ZM664.4 205.9l1.6 1.6l-1.6 1.6l-1.6 -1.6ZM779.8 205.8l1.6 1.6l-1.6 1.6l-1.6 -1.6ZM501.4 205.7l1.6 1.6l-1.6 1.6l-1.6 -1.6ZM565.2 206.1l1.6 1.6l-1.6 1.6l-1.6 -1.6ZM708 205.9l1.6 1.6l-1.6 1.6l-1.6 -1.6ZM749.1 205.7l1.6 1.6l-1.6 1.6l-1.6 -1.6ZM561.9 206l1.6 1.6l-1.6 1.6l-1.6 -1.6ZM648.9 206.1l1.6 1.6l-1.6 1.6l-1.6 -1.6ZM584.8 206.2l1.6 1.6l-1.6 1.6l-1.6 -1.6ZM677.2 206.1l1.6 1.6l-1.6 1.6l-1.6 -1.6ZM660.8 205.8l1.6 1.6l-1.6 1.6l-1.6 -1.6ZM657.6 206.2l1.6 1.6l-1.6 1.6l-1.6 -1.6ZM500.8 205.8l1.6 1.6l-1.6 1.6l-1.6 -1.6ZM584.6 205.8l1.6 1.6l-1.6 1.6l-1.6 -1.6ZM717.1 206l1.6 1.6l-1.6 1.6l-1.6 -1.6ZM535 206.1l1.6 1.6l-1.6 1.6l-1.6 -1.6ZM747.7 205.7l1.6 1.6l-1.6 1.6l-1.6 -1.6ZM501.9 206l1.6 1.6l-1.6 1.6l-1.6 -1.6ZM748.5 206l1.6 1.6l-1.6 1.6l-1.6 -1.6ZM641.2 205.9l1.6 1.6l-1.6 1.6l-1.6 -1.6ZM658.6 206.2l1.6 1.6l-1.6 1.6l-1.6 -1.6ZM667.4 206.1l1.6 1.6l-1.6 1.6l-1.6 -1.6ZM629.7 206.2l1.6 1.6l-1.6 1.6l-1.6 -1.6ZM716.5 206l1.6 1.6l-1.6 1.6l-1.6 -1.6ZM582.8 205.8l1.6 1.6l-1.6 1.6l-1.6 -1.6ZM776.5 206l1.6 1.6l-1.6 1.6l-1.6 -1.6ZM516.8 206l1.6 1.6l-1.6 1.6l-1.6 -1.6ZM618.7 206l1.6 1.6l-1.6 1.6l-1.6 -1.6ZM577.6 206.2l1.6 1.6l-1.6 1.6l-1.6 -1.6ZM634.5 206.1l1.6 1.6l-1.6 1.6l-1.6 -1.6ZM570.8 206.2l1.6 1.6l-1.6 1.6l-1.6 -1.6ZM652.7 206l1.6 1.6l-1.6 1.6l-1.6 -1.6ZM620.8 206.2l1.6 1.6l-1.6 1.6l-1.6 -1.6ZM657.4 206l1.6 1.6l-1.6 1.6l-1.6 -1.6ZM600.4 205.9l1.6 1.6l-1.6 1.6l-1.6 -1.6ZM573.8 205.9l1.6 1.6l-1.6 1.6l-1.6 -1.6ZM571.9 205.7l1.6 1.6l-1.6 1.6l-1.6 -1.6ZM601 205.7l1.6 1.6l-1.6 1.6l-1.6 -1.6ZM686.4 205.7l1.6 1.6l-1.6 1.6l-1.6 -1.6ZM755.4 205.8l1.6 1.6l-1.6 1.6l-1.6 -1.6ZM574.1 206l1.6 1.6l-1.6 1.6l-1.6 -1.6ZM579.9 206.1l1.6 1.6l-1.6 1.6l-1.6 -1.6ZM583.5 206.2l1.6 1.6l-1.6 1.6l-1.6 -1.6ZM508.4 205.7l1.6 1.6l-1.6 1.6l-1.6 -1.6ZM748.9 206.1l1.6 1.6l-1.6 1.6l-1.6 -1.6ZM571.8 206l1.6 1.6l-1.6 1.6l-1.6 -1.6ZM599.6 206l1.6 1.6l-1.6 1.6l-1.6 -1.6ZM575.1 206l1.6 1.6l-1.6 1.6l-1.6 -1.6ZM682 206.2l1.6 1.6l-1.6 1.6l-1.6 -1.6ZM569.8 206l1.6 1.6l-1.6 1.6l-1.6 -1.6ZM658.7 206.2l1.6 1.6l-1.6 1.6l-1.6 -1.6ZM633.8 206.2l1.6 1.6l-1.6 1.6l-1.6 -1.6ZM761 205.9l1.6 1.6l-1.6 1.6l-1.6 -1.6ZM612.6 206.2l1.6 1.6l-1.6 1.6l-1.6 -1.6ZM662.3 206l1.6 1.6l-1.6 1.6l-1.6 -1.6ZM718.9 206l1.6 1.6l-1.6 1.6l-1.6 -1.6ZM644.7 206l1.6 1.6l-1.6 1.6l-1.6 -1.6ZM571.4 205.9l1.6 1.6l-1.6 1.6l-1.6 -1.6ZM499 206.1l1.6 1.6l-1.6 1.6l-1.6 -1.6ZM732.1 206.1l1.6 1.6l-1.6 1.6l-1.6 -1.6ZM774.4 206.1l1.6 1.6l-1.6 1.6l-1.6 -1.6ZM527.2 205.8l1.6 1.6l-1.6 1.6l-1.6 -1.6ZM760.2 205.7l1.6 1.6l-1.6 1.6l-1.6 -1.6ZM747.6 206.1l1.6 1.6l-1.6 1.6l-1.6 -1.6ZM538.7 205.8l1.6 1.6l-1.6 1.6l-1.6 -1.6ZM705.8 206l1.6 1.6l-1.6 1.6l-1.6 -1.6ZM505.1 206l1.6 1.6l-1.6 1.6l-1.6 -1.6ZM550.4 206.2l1.6 1.6l-1.6 1.6l-1.6 -1.6ZM649.8 205.7l1.6 1.6l-1.6 1.6l-1.6 -1.6ZM609.6 205.7l1.6 1.6l-1.6 1.6l-1.6 -1.6ZM755.6 206.2l1.6 1.6l-1.6 1.6l-1.6 -1.6ZM701.9 205.7l1.6 1.6l-1.6 1.6l-1.6 -1.6ZM764.8 205.8l1.6 1.6l-1.6 1.6l-1.6 -1.6ZM682.6 206.1l1.6 1.6l-1.6 1.6l-1.6 -1.6ZM656.4 205.7l1.6 1.6l-1.6 1.6l-1.6 -1.6ZM566.7 206.1l1.6 1.6l-1.6 1.6l-1.6 -1.6ZM531.9 205.9l1.6 1.6l-1.6 1.6l-1.6 -1.6ZM763.1 205.9l1.6 1.6l-1.6 1.6l-1.6 -1.6ZM540.1 206l1.6 1.6l-1.6 1.6l-1.6 -1.6ZM596.4 206.1l1.6 1.6l-1.6 1.6l-1.6 -1.6ZM601 206.1l1.6 1.6l-1.6 1.6l-1.6 -1.6ZM732.6 205.8l1.6 1.6l-1.6 1.6l-1.6 -1.6ZM652.9 205.9l1.6 1.6l-1.6 1.6l-1.6 -1.6ZM531.6 206.2l1.6 1.6l-1.6 1.6l-1.6 -1.6ZM594.3 206l1.6 1.6l-1.6 1.6l-1.6 -1.6ZM513.8 206.2l1.6 1.6l-1.6 1.6l-1.6 -1.6ZM776.9 206.1l1.6 1.6l-1.6 1.6l-1.6 -1.6ZM533.9 206l1.6 1.6l-1.6 1.6l-1.6 -1.6ZM630.6 205.9l1.6 1.6l-1.6 1.6l-1.6 -1.6ZM558.9 205.7l1.6 1.6l-1.6 1.6l-1.6 -1.6ZM738.1 206l1.6 1.6l-1.6 1.6l-1.6 -1.6ZM710.1 206.1l1.6 1.6l-1.6 1.6l-1.6 -1.6ZM611.3 206l1.6 1.6l-1.6 1.6l-1.6 -1.6ZM583.1 206l1.6 1.6l-1.6 1.6l-1.6 -1.6ZM619.7 206.1l1.6 1.6l-1.6 1.6l-1.6 -1.6ZM579.9 205.9l1.6 1.6l-1.6 1.6l-1.6 -1.6ZM520 205.7l1.6 1.6l-1.6 1.6l-1.6 -1.6ZM557.9 205.7l1.6 1.6l-1.6 1.6l-1.6 -1.6ZM617.8 205.9l1.6 1.6l-1.6 1.6l-1.6 -1.6ZM748.8 205.7l1.6 1.6l-1.6 1.6l-1.6 -1.6ZM778.2 205.7l1.6 1.6l-1.6 1.6l-1.6 -1.6ZM733.9 205.9l1.6 1.6l-1.6 1.6l-1.6 -1.6ZM566.8 206l1.6 1.6l-1.6 1.6l-1.6 -1.6ZM598.3 205.7l1.6 1.6l-1.6 1.6l-1.6 -1.6ZM533.8 206.1l1.6 1.6l-1.6 1.6l-1.6 -1.6ZM702.3 206.2l1.6 1.6l-1.6 1.6l-1.6 -1.6ZM568.9 206.1l1.6 1.6l-1.6 1.6l-1.6 -1.6ZM594.5 206l1.6 1.6l-1.6 1.6l-1.6 -1.6ZM576.1 205.9l1.6 1.6l-1.6 1.6l-1.6 -1.6ZM758 205.8l1.6 1.6l-1.6 1.6l-1.6 -1.6ZM617.9 206.2l1.6 1.6l-1.6 1.6l-1.6 -1.6ZM625.7 206.1l1.6 1.6l-1.6 1.6l-1.6 -1.6ZM649.3 205.9l1.6 1.6l-1.6 1.6l-1.6 -1.6ZM702.5 206l1.6 1.6l-1.6 1.6l-1.6 -1.6ZM605.3 206.2l1.6 1.6l-1.6 1.6l-1.6 -1.6ZM522.7 206.2l1.6 1.6l-1.6 1.6l-1.6 -1.6ZM702.7 206.1l1.6 1.6l-1.6 1.6l-1.6 -1.6ZM632 206.1l1.6 1.6l-1.6 1.6l-1.6 -1.6ZM509.1 206.1l1.6 1.6l-1.6 1.6l-1.6 -1.6ZM744.1 205.9l1.6 1.6l-1.6 1.6l-1.6 -1.6ZM708.3 206.1l1.6 1.6l-1.6 1.6l-1.6 -1.6ZM640 206.1l1.6 1.6l-1.6 1.6l-1.6 -1.6ZM635 205.7l1.6 1.6l-1.6 1.6l-1.6 -1.6ZM646.1 206.1l1.6 1.6l-1.6 1.6l-1.6 -1.6ZM543.5 205.9l1.6 1.6l-1.6 1.6l-1.6 -1.6ZM735.2 205.7l1.6 1.6l-1.6 1.6l-1.6 -1.6ZM743.3 205.9l1.6 1.6l-1.6 1.6l-1.6 -1.6ZM600.4 206.1l1.6 1.6l-1.6 1.6l-1.6 -1.6ZM660.5 205.8l1.6 1.6l-1.6 1.6l-1.6 -1.6ZM541 205.9l1.6 1.6l-1.6 1.6l-1.6 -1.6ZM750.9 206.2l1.6 1.6l-1.6 1.6l-1.6 -1.6ZM701.8 206.1l1.6 1.6l-1.6 1.6l-1.6 -1.6ZM693 206.2l1.6 1.6l-1.6 1.6l-1.6 -1.6ZM542.5 205.7l1.6 1.6l-1.6 1.6l-1.6 -1.6ZM737.8 205.7l1.6 1.6l-1.6 1.6l-1.6 -1.6ZM646.1 205.9l1.6 1.6l-1.6 1.6l-1.6 -1.6ZM759.1 206l1.6 1.6l-1.6 1.6l-1.6 -1.6Z" fill="#ffa500" fill-opacity="0.4"/><path d="M560.9 203.2l1.6 1.6l-1.6 1.6l-1.6 -1.6ZM631.6 203.5l1.6 1.6l-1.6 1.6l-1.6 -1.6ZM630.1 203.5l1.6 1.6l-1.6 1.6l-1.6 -1.6ZM514.2 203.4l1.6 1.6l-1.6 1.6l-1.6 -1.6ZM733.8 203.3l1.6 1.6l-1.6 1.6l-1.6 -1.6ZM550.4 203.3l1.6 1.6l-1.6 1.6l-1.6 -1.6ZM764.9 203.7l1.6 1.6l-1.6 1.6l-1.6 -1.6ZM612.4 203.3l1.6 1.6l-1.6 1.6l-1.6 -1.6ZM601.8 203.7l1.6 1.6l-1.6 1.6l-1.6 -1.6ZM756.4 203.7l1.6 1.6l-1.6 1.6l-1.6 -1.6ZM741.4 203.6l1.6 1.6l-1.6 1.6l-1.6 -1.6ZM529.9 203.7l1.6 1.6l-1.6 1.6l-1.6 -1.6ZM544.4 203.6l1.6 1.6l-1.6 1.6l-1.6 -1.6ZM598.6 203.2l1.6 1.6l-1.6 1.6l-1.6 -1.6ZM684.7 203.3l1.6 1.6l-1.6 1.6l-1.6 -1.6ZM750.4 203.3l1.6 1.6l-1.6 1.6l-1.6 -1.6ZM687.4 203.4l1.6 1.6l-1.6 1.6l-1.6 -1.6ZM510.1 203.3l1.6 1.6l-1.6 1.6l-1.6 -1.6ZM585 203.6l1.6 1.6l-1.6 1.6l-1.6 -1.6ZM717.1 203.7l1.6 1.6l-1.6 1.6l-1.6 -1.6ZM543.9 203.3l1.6 1.6l-1.6 1.6l-1.6 -1.6ZM603.3 203.3l1.6 1.6l-1.6 1.6l-1.6 -1.6ZM555.5 203.6l1.6 1.6l-1.6 1.6l-1.6 -1.6ZM498.1 203.5l1.6 1.6l-1.6 1.6l-1.6 -1.6ZM534.6 203.3l1.6 1.6l-1.6 1.6l-1.6 -1.6ZM580 203.4l1.6 1.6l-1.6 1.6l-1.6 -1.6ZM765.1 203.6l1.6 1.6l-1.6 1.6l-1.6 -1.6ZM619.4 203.7l1.6 1.6l-1.6 1.6l-1.6 -1.6ZM569 203.3l1.6 1.6l-1.6 1.6l-1.6 -1.6ZM678.4 203.6l1.6 1.6l-1.6 1.6l-1.6 -1.6ZM703.6 203.5l1.6 1.6l-1.6 1.6l-1.6 -1.6ZM703.2 203.3l1.6 1.6l-1.6 1.6l-1.6 -1.6ZM767.7 203.6l1.6 1.6l-1.6 1.6l-1.6 -1.6ZM725.6 203.5l1.6 1.6l-1.6 1.6l-1.6 -1.6ZM759.1 203.4l1.6 1.6l-1.6 1.6l-1.6 -1.6ZM768.5 203.4l1.6 1.6l-1.6 1.6l-1.6 -1.6ZM768.5 203.3l1.6 1.6l-1.6 1.6l-1.6 -1.6ZM644.1 203.5l1.6 1.6l-1.6 1.6l-1.6 -1.6ZM653.7 203.7l1.6 1.6l-1.6 1.6l-1.6 -1.6ZM738.9 203.3l1.6 1.6l-1.6 1.6l-1.6 -1.6ZM698.4 203.5l1.6 1.6l-1.6 1.6l-1.6 -1.6ZM612.2 203.2l1.6 1.6l-1.6 1.6l-1.6 -1.6ZM756.6 203.7l1.6 1.6l-1.6 1.6l-1.6 -1.6ZM703.7 203.5l1.6 1.6l-1.6 1.6l-1.6 -1.6ZM520.2 203.3l1.6 1.6l-1.6 1.6l-1.6 -1.6ZM590.6 203.2l1.6 1.6l-1.6 1.6l-1.6 -1.6ZM603.8 203.4l1.6 1.6l-1.6 1.6l-1.6 -1.6ZM614.6 203.2l1.6 1.6l-1.6 1.6l-1.6 -1.6ZM534.3 203.7l1.6 1.6l-1.6 1.6l-1.6 -1.6ZM655.1 203.3l1.6 1.6l-1.6 1.6l-1.6 -1.6ZM625 203.4l1.6 1.6l-1.6 1.6l-1.6 -1.6ZM635.3 203.3l1.6 1.6l-1.6 1.6l-1.6 -1.6ZM709.4 203.7l1.6 1.6l-1.6 1.6l-1.6 -1.6ZM676.2 203.7l1.6 1.6l-1.6 1.6l-1.6 -1.6ZM729.5 203.5l1.6 1.6l-1.6 1.6l-1.6 -1.6ZM645.8 203.6l1.6 1.6l-1.6 1.6l-1.6 -1.6ZM601.6 203.2l1.6 1.6l-1.6 1.6l-1.6 -1.6ZM625.8 203.6l1.6 1.6l-1.6 1.6l-1.6 -1.6ZM689.5 203.2l1.6 1.6l-1.6 1.6l-1.6 -1.6ZM732.8 203.2l1.6 1.6l-1.6 1.6l-1.6 -1.6Z" fill="#ffa500" fill-opacity="0.22"/><path d="M644.9 200.8l1.6 1.6l-1.6 1.6l-1.6 -1.6ZM582.3 200.8l1.6 1.6l-1.6 1.6l-1.6 -1.6ZM672.4 201.1l1.6 1.6l-1.6 1.6l-1.6 -1.6ZM749.4 201l1.6 1.6l-1.6 1.6l-1.6 -1.6ZM513.7 200.7l1.6 1.6l-1.6 1.6l-1.6 -1.6ZM520.9 200.7l1.6 1.6l-1.6 1.6l-1.6 -1.6ZM546.8 200.8l1.6 1.6l-1.6 1.6l-1.6 -1.6ZM539.5 201.2l1.6 1.6l-1.6 1.6l-1.6 -1.6ZM599.3 200.9l1.6 1.6l-1.6 1.6l-1.6 -1.6ZM720.9 200.8l1.6 1.6l-1.6 1.6l-1.6 -1.6ZM639.8 200.7l1.6 1.6l-1.6 1.6l-1.6 -1.6ZM635.2 201.2l1.6 1.6l-1.6 1.6l-1.6 -1.6ZM658.6 200.8l1.6 1.6l-1.6 1.6l-1.6 -1.6ZM677.7 201l1.6 1.6l-1.6 1.6l-1.6 -1.6ZM638.9 201l1.6 1.6l-1.6 1.6l-1.6 -1.6ZM699.9 201.2l1.6 1.6l-1.6 1.6l-1.6 -1.6ZM775.9 201.2l1.6 1.6l-1.6 1.6l-1.6 -1.6ZM728.3 201.1l1.6 1.6l-1.6 1.6l-1.6 -1.6Z" fill="#ffa500" fill-opacity="0.2"/><path d="M725.2 198.3l1.6 1.6l-1.6 1.6l-1.6 -1.6ZM553 198.7l1.6 1.6l-1.6 1.6l-1.6 -1.6ZM621.1 198.2l1.6 1.6l-1.6 1.6l-1.6 -1.6ZM709.6 198.2l1.6 1.6l-1.6 1.6l-1.6 -1.6ZM574.4 198.7l1.6 1.6l-1.6 1.6l-1.6 -1.6Z" fill="#ffa500" fill-opacity="0.18"/><path d="M550.7 250l1.6 1.6l-1.6 1.6l-1.6 -1.6ZM572.8 250l1.6 1.6l-1.6 1.6l-1.6 -1.6ZM605.5 249.9l1.6 1.6l-1.6 1.6l-1.6 -1.6ZM692 250l1.6 1.6l-1.6 1.6l-1.6 -1.6ZM555.8 250l1.6 1.6l-1.6 1.6l-1.6 -1.6ZM544 249.7l1.6 1.6l-1.6 1.6l-1.6 -1.6ZM719.1 249.6l1.6 1.6l-1.6 1.6l-1.6 -1.6ZM614.9 249.6l1.6 1.6l-1.6 1.6l-1.6 -1.6ZM663.1 249.7l1.6 1.6l-1.6 1.6l-1.6 -1.6ZM599.8 250.1l1.6 1.6l-1.6 1.6l-1.6 -1.6ZM623.9 249.9l1.6 1.6l-1.6 1.6l-1.6 -1.6ZM505.7 249.7l1.6 1.6l-1.6 1.6l-1.6 -1.6ZM526.8 249.9l1.6 1.6l-1.6 1.6l-1.6 -1.6ZM540.6 249.7l1.6 1.6l-1.6 1.6l-1.6 -1.6ZM537.5 250l1.6 1.6l-1.6 1.6l-1.6 -1.6ZM683 249.7l1.6 1.6l-1.6 1.6l-1.6 -1.6ZM586.5 249.7l1.6 1.6l-1.6 1.6l-1.6 -1.6ZM653.1 249.9l1.6 1.6l-1.6 1.6l-1.6 -1.6ZM534.4 249.6l1.6 1.6l-1.6 1.6l-1.6 -1.6ZM675.7 249.7l1.6 1.6l-1.6 1.6l-1.6 -1.6ZM686.9 249.7l1.6 1.6l-1.6 1.6l-1.6 -1.6ZM524.6 249.6l1.6 1.6l-1.6 1.6l-1.6 -1.6ZM741.7 249.9l1.6 1.6l-1.6 1.6l-1.6 -1.6ZM502.1 249.8l1.6 1.6l-1.6 1.6l-1.6 -1.6ZM677.1 249.7l1.6 1.6l-1.6 1.6l-1.6 -1.6ZM734.4 249.6l1.6 1.6l-1.6 1.6l-1.6 -1.6ZM646.9 249.9l1.6 1.6l-1.6 1.6l-1.6 -1.6ZM550.4 250.1l1.6 1.6l-1.6 1.6l-1.6 -1.6ZM652.7 249.6l1.6 1.6l-1.6 1.6l-1.6 -1.6ZM712.4 249.6l1.6 1.6l-1.6 1.6l-1.6 -1.6ZM691.5 250.1l1.6 1.6l-1.6 1.6l-1.6 -1.6ZM679.2 249.6l1.6 1.6l-1.6 1.6l-1.6 -1.6ZM514.8 250l1.6 1.6l-1.6 1.6l-1.6 -1.6ZM738.7 249.7l1.6 1.6l-1.6 1.6l-1.6 -1.6ZM762 250l1.6 1.6l-1.6 1.6l-1.6 -1.6ZM527.1 250.1l1.6 1.6l-1.6 1.6l-1.6 -1.6ZM500.4 249.7l1.6 1.6l-1.6 1.6l-1.6 -1.6ZM556.3 249.7l1.6 1.6l-1.6 1.6l-1.6 -1.6ZM639.4 249.6l1.6 1.6l-1.6 1.6l-1.6 -1.6ZM772.7 249.7l1.6 1.6l-1.6 1.6l-1.6 -1.6ZM691.6 249.8l1.6 1.6l-1.6 1.6l-1.6 -1.6ZM758.9 249.9l1.6 1.6l-1.6 1.6l-1.6 -1.6ZM638.4 250l1.6 1.6l-1.6 1.6l-1.6 -1.6ZM657.3 249.8l1.6 1.6l-1.6 1.6l-1.6 -1.6ZM546.1 250l1.6 1.6l-1.6 1.6l-1.6 -1.6ZM676.3 249.8l1.6 1.6l-1.6 1.6l-1.6 -1.6ZM779.2 249.8l1.6 1.6l-1.6 1.6l-1.6 -1.6ZM708.5 249.6l1.6 1.6l-1.6 1.6l-1.6 -1.6ZM599.3 249.9l1.6 1.6l-1.6 1.6l-1.6 -1.6ZM570.5 250.1l1.6 1.6l-1.6 1.6l-1.6 -1.6ZM779.8 249.9l1.6 1.6l-1.6 1.6l-1.6 -1.6ZM702.1 249.7l1.6 1.6l-1.6 1.6l-1.6 -1.6ZM717.3 250.1l1.6 1.6l-1.6 1.6l-1.6 -1.6ZM627.8 249.9l1.6 1.6l-1.6 1.6l-1.6 -1.6ZM683.7 249.7l1.6 1.6l-1.6 1.6l-1.6 -1.6ZM509.6 249.7l1.6 1.6l-1.6 1.6l-1.6 -1.6ZM646.7 249.9l1.6 1.6l-1.6 1.6l-1.6 -1.6ZM741.3 249.7l1.6 1.6l-1.6 1.6l-1.6 -1.6ZM544.5 249.8l1.6 1.6l-1.6 1.6l-1.6 -1.6ZM543.3 249.7l1.6 1.6l-1.6 1.6l-1.6 -1.6ZM636.4 250l1.6 1.6l-1.6 1.6l-1.6 -1.6ZM526.7 249.7l1.6 1.6l-1.6 1.6l-1.6 -1.6ZM631.2 249.9l1.6 1.6l-1.6 1.6l-1.6 -1.6ZM546.8 249.9l1.6 1.6l-1.6 1.6l-1.6 -1.6ZM658 250.1l1.6 1.6l-1.6 1.6l-1.6 -1.6ZM769.3 249.9l1.6 1.6l-1.6 1.6l-1.6 -1.6ZM521.8 249.9l1.6 1.6l-1.6 1.6l-1.6 -1.6ZM574.1 249.7l1.6 1.6l-1.6 1.6l-1.6 -1.6ZM518.2 250l1.6 1.6l-1.6 1.6l-1.6 -1.6ZM684.2 249.7l1.6 1.6l-1.6 1.6l-1.6 -1.6ZM562.5 250.1l1.6 1.6l-1.6 1.6l-1.6 -1.6ZM654.6 250l1.6 1.6l-1.6 1.6l-1.6 -1.6ZM566.8 250.1l1.6 1.6l-1.6 1.6l-1.6 -1.6ZM702 249.9l1.6 1.6l-1.6 1.6l-1.6 -1.6ZM528.5 249.8l1.6 1.6l-1.6 1.6l-1.6 -1.6ZM503.6 249.7l1.6 1.6l-1.6 1.6l-1.6 -1.6ZM720.1 249.6l1.6 1.6l-1.6 1.6l-1.6 -1.6ZM555.3 249.8l1.6 1.6l-1.6 1.6l-1.6 -1.6ZM773.3 249.6l1.6 1.6l-1.6 1.6l-1.6 -1.6ZM615.5 249.9l1.6 1.6l-1.6 1.6l-1.6 -1.6ZM509.5 249.9l1.6 1.6l-1.6 1.6l-1.6 -1.6ZM516.5 249.7l1.6 1.6l-1.6 1.6l-1.6 -1.6ZM588.7 250.1l1.6 1.6l-1.6 1.6l-1.6 -1.6ZM621.8 249.7l1.6 1.6l-1.6 1.6l-1.6 -1.6ZM590.7 249.7l1.6 1.6l-1.6 1.6l-1.6 -1.6ZM542.8 249.7l1.6 1.6l-1.6 1.6l-1.6 -1.6ZM694.3 249.8l1.6 1.6l-1.6 1.6l-1.6 -1.6ZM562.1 249.6l1.6 1.6l-1.6 1.6l-1.6 -1.6ZM721.7 249.7l1.6 1.6l-1.6 1.6l-1.6 -1.6ZM573.9 250.1l1.6 1.6l-1.6 1.6l-1.6 -1.6ZM773.7 249.9l1.6 1.6l-1.6 1.6l-1.6 -1.6ZM516.3 250.1l1.6 1.6l-1.6 1.6l-1.6 -1.6ZM714.7 249.6l1.6 1.6l-1.6 1.6l-1.6 -1.6ZM578.8 250.1l1.6 1.6l-1.6 1.6l-1.6 -1.6ZM632.6 249.7l1.6 1.6l-1.6 1.6l-1.6 -1.6ZM778.2 249.7l1.6 1.6l-1.6 1.6l-1.6 -1.6ZM548.1 250l1.6 1.6l-1.6 1.6l-1.6 -1.6ZM778.7 250l1.6 1.6l-1.6 1.6l-1.6 -1.6ZM502.2 249.6l1.6 1.6l-1.6 1.6l-1.6 -1.6ZM557.8 249.9l1.6 1.6l-1.6 1.6l-1.6 -1.6ZM770.8 249.6l1.6 1.6l-1.6 1.6l-1.6 -1.6ZM687.7 250l1.6 1.6l-1.6 1.6l-1.6 -1.6ZM504.9 250.1l1.6 1.6l-1.6 1.6l-1.6 -1.6ZM586.2 249.8l1.6 1.6l-1.6 1.6l-1.6 -1.6ZM723.1 249.9l1.6 1.6l-1.6 1.6l-1.6 -1.6ZM675.6 249.6l1.6 1.6l-1.6 1.6l-1.6 -1.6ZM674.5 249.6l1.6 1.6l-1.6 1.6l-1.6 -1.6ZM732.1 250l1.6 1.6l-1.6 1.6l-1.6 -1.6ZM682.1 249.9l1.6 1.6l-1.6 1.6l-1.6 -1.6ZM775.7 250l1.6 1.6l-1.6 1.6l-1.6 -1.6ZM701.3 249.8l1.6 1.6l-1.6 1.6l-1.6 -1.6ZM500.1 250.1l1.6 1.6l-1.6 1.6l-1.6 -1.6ZM514.8 249.6l1.6 1.6l-1.6 1.6l-1.6 -1.6ZM666.6 250.1l1.6 1.6l-1.6 1.6l-1.6 -1.6ZM623.8 249.7l1.6 1.6l-1.6 1.6l-1.6 -1.6ZM502 249.6l1.6 1.6l-1.6 1.6l-1.6 -1.6ZM600.2 249.8l1.6 1.6l-1.6 1.6l-1.6 -1.6ZM573.4 250.1l1.6 1.6l-1.6 1.6l-1.6 -1.6ZM782.3 250.1l1.6 1.6l-1.6 1.6l-1.6 -1.6ZM552.6 250l1.6 1.6l-1.6 1.6l-1.6 -1.6ZM543.4 249.8l1.6 1.6l-1.6 1.6l-1.6 -1.6ZM639.6 249.7l1.6 1.6l-1.6 1.6l-1.6 -1.6ZM720.7 249.7l1.6 1.6l-1.6 1.6l-1.6 -1.6ZM726.1 250l1.6 1.6l-1.6 1.6l-1.6 -1.6ZM676.4 249.6l1.6 1.6l-1.6 1.6l-1.6 -1.6ZM531.2 250l1.6 1.6l-1.6 1.6l-1.6 -1.6ZM770.7 249.7l1.6 1.6l-1.6 1.6l-1.6 -1.6ZM687.1 250l1.6 1.6l-1.6 1.6l-1.6 -1.6ZM745 249.6l1.6 1.6l-1.6 1.6l-1.6 -1.6ZM555.1 249.6l1.6 1.6l-1.6 1.6l-1.6 -1.6ZM694.7 249.8l1.6 1.6l-1.6 1.6l-1.6 -1.6ZM696.1 249.6l1.6 1.6l-1.6 1.6l-1.6 -1.6ZM679.1 249.7l1.6 1.6l-1.6 1.6l-1.6 -1.6ZM621.9 249.9l1.6 1.6l-1.6 1.6l-1.6 -1.6ZM768.4 249.7l1.6 1.6l-1.6 1.6l-1.6 -1.6ZM720.4 249.6l1.6 1.6l-1.6 1.6l-1.6 -1.6ZM547.1 250l1.6 1.6l-1.6 1.6l-1.6 -1.6ZM520.3 250.1l1.6 1.6l-1.6 1.6l-1.6 -1.6ZM750.6 249.7l1.6 1.6l-1.6 1.6l-1.6 -1.6ZM698.6 249.9l1.6 1.6l-1.6 1.6l-1.6 -1.6ZM776.1 249.8l1.6 1.6l-1.6 1.6l-1.6 -1.6ZM601.8 250.1l1.6 1.6l-1.6 1.6l-1.6 -1.6ZM572.8 250.1l1.6 1.6l-1.6 1.6l-1.6 -1.6ZM600.1 249.8l1.6 1.6l-1.6 1.6l-1.6 -1.6ZM735.5 250l1.6 1.6l-1.6 1.6l-1.6 -1.6ZM549.2 249.9l1.6 1.6l-1.6 1.6l-1.6 -1.6ZM779.2 249.8l1.6 1.6l-1.6 1.6l-1.6 -1.6ZM656.1 249.9l1.6 1.6l-1.6 1.6l-1.6 -1.6ZM702.4 249.8l1.6 1.6l-1.6 1.6l-1.6 -1.6ZM605.3 249.7l1.6 1.6l-1.6 1.6l-1.6 -1.6Z" fill="#ffa500" fill-opacity="0.4"/><path d="M675.5 252.3l1.6 1.6l-1.6 1.6l-1.6 -1.6ZM721.5 252.2l1.6 1.6l-1.6 1.6l-1.6 -1.6ZM713.7 252.2l1.6 1.6l-1.6 1.6l-1.6 -1.6ZM744.9 252.6l1.6 1.6l-1.6 1.6l-1.6 -1.6ZM598.4 252.2l1.6 1.6l-1.6 1.6l-1.6 -1.6ZM556.7 252.3l1.6 1.6l-1.6 1.6l-1.6 -1.6ZM776.4 252.6l1.6 1.6l-1.6 1.6l-1.6 -1.6ZM503.3 252.2l1.6 1.6l-1.6 1.6l-1.6 -1.6ZM656.4 252.4l1.6 1.6l-1.6 1.6l-1.6 -1.6ZM654.5 252.7l1.6 1.6l-1.6 1.6l-1.6 -1.6ZM736 252.2l1.6 1.6l-1.6 1.6l-1.6 -1.6ZM773.5 252.4l1.6 1.6l-1.6 1.6l-1.6 -1.6ZM630.9 252.2l1.6 1.6l-1.6 1.6l-1.6 -1.6ZM564.8 252.3l1.6 1.6l-1.6 1.6l-1.6 -1.6ZM576.8 252.5l1.6 1.6l-1.6 1.6l-1.6 -1.6ZM570.3 252.3l1.6 1.6l-1.6 1.6l-1.6 -1.6ZM528.1 252.2l1.6 1.6l-1.6 1.6l-1.6 -1.6ZM757 252.4l1.6 1.6l-1.6 1.6l-1.6 -1.6ZM625.8 252.2l1.6 1.6l-1.6 1.6l-1.6 -1.6ZM777.9 252.2l1.6 1.6l-1.6 1.6l-1.6 -1.6ZM720.8 252.2l1.6 1.6l-1.6 1.6l-1.6 -1.6ZM579 252.4l1.6 1.6l-1.6 1.6l-1.6 -1.6ZM626.7 252.6l1.6 1.6l-1.6 1.6l-1.6 -1.6ZM659.6 252.6l1.6 1.6l-1.6 1.6l-1.6 -1.6ZM515.6 252.3l1.6 1.6l-1.6 1.6l-1.6 -1.6ZM575 252.4l1.6 1.6l-1.6 1.6l-1.6 -1.6ZM616.3 252.2l1.6 1.6l-1.6 1.6l-1.6 -1.6ZM533.3 252.2l1.6 1.6l-1.6 1.6l-1.6 -1.6ZM512.2 252.5l1.6 1.6l-1.6 1.6l-1.6 -1.6ZM772.1 252.5l1.6 1.6l-1.6 1.6l-1.6 -1.6ZM553 252.5l1.6 1.6l-1.6 1.6l-1.6 -1.6ZM638.1 252.3l1.6 1.6l-1.6 1.6l-1.6 -1.6ZM726.4 252.3l1.6 1.6l-1.6 1.6l-1.6 -1.6ZM584 252.2l1.6 1.6l-1.6 1.6l-1.6 -1.6ZM565.7 252.7l1.6 1.6l-1.6 1.6l-1.6 -1.6ZM633.6 252.6l1.6 1.6l-1.6 1.6l-1.6 -1.6ZM636.6 252.3l1.6 1.6l-1.6 1.6l-1.6 -1.6ZM597.9 252.5l1.6 1.6l-1.6 1.6l-1.6 -1.6ZM584.7 252.5l1.6 1.6l-1.6 1.6l-1.6 -1.6ZM503.7 252.4l1.6 1.6l-1.6 1.6l-1.6 -1.6ZM529.5 252.4l1.6 1.6l-1.6 1.6l-1.6 -1.6ZM648.2 252.7l1.6 1.6l-1.6 1.6l-1.6 -1.6ZM746 252.7l1.6 1.6l-1.6 1.6l-1.6 -1.6ZM623.7 252.3l1.6 1.6l-1.6 1.6l-1.6 -1.6ZM738.9 252.2l1.6 1.6l-1.6 1.6l-1.6 -1.6ZM605.1 252.2l1.6 1.6l-1.6 1.6l-1.6 -1.6ZM728.9 252.6l1.6 1.6l-1.6 1.6l-1.6 -1.6ZM761.4 252.3l1.6 1.6l-1.6 1.6l-1.6 -1.6ZM735.8 252.6l1.6 1.6l-1.6 1.6l-1.6 -1.6ZM652.3 252.4l1.6 1.6l-1.6 1.6l-1.6 -1.6ZM726.9 252.4l1.6 1.6l-1.6 1.6l-1.6 -1.6ZM767.1 252.7l1.6 1.6l-1.6 1.6l-1.6 -1.6ZM601.6 252.5l1.6 1.6l-1.6 1.6l-1.6 -1.6ZM619.4 252.7l1.6 1.6l-1.6 1.6l-1.6 -1.6ZM740.7 252.4l1.6 1.6l-1.6 1.6l-1.6 -1.6ZM601.7 252.3l1.6 1.6l-1.6 1.6l-1.6 -1.6ZM686.5 252.5l1.6 1.6l-1.6 1.6l-1.6 -1.6ZM674.1 252.5l1.6 1.6l-1.6 1.6l-1.6 -1.6ZM688.6 252.2l1.6 1.6l-1.6 1.6l-1.6 -1.6ZM633.3 252.6l1.6 1.6l-1.6 1.6l-1.6 -1.6ZM705.2 252.6l1.6 1.6l-1.6 1.6l-1.6 -1.6ZM561 252.7l1.6 1.6l-1.6 1.6l-1.6 -1.6ZM773.6 252.5l1.6 1.6l-1.6 1.6l-1.6 -1.6ZM731.3 252.3l1.6 1.6l-1.6 1.6l-1.6 -1.6ZM550.2 252.3l1.6 1.6l-1.6 1.6l-1.6 -1.6ZM649.1 252.7l1.6 1.6l-1.6 1.6l-1.6 -1.6ZM596.6 252.7l1.6 1.6l-1.6 1.6l-1.6 -1.6ZM734.1 252.2l1.6 1.6l-1.6 1.6l-1.6 -1.6ZM504.9 252.7l1.6 1.6l-1.6 1.6l-1.6 -1.6ZM639.5 252.6l1.6 1.6l-1.6 1.6l-1.6 -1.6Z" fill="#ffa500" fill-opacity="0.24"/><path d="M742.9 254.9l1.6 1.6l-1.6 1.6l-1.6 -1.6ZM500.9 255.3l1.6 1.6l-1.6 1.6l-1.6 -1.6ZM762.9 255l1.6 1.6l-1.6 1.6l-1.6 -1.6ZM685.5 254.8l1.6 1.6l-1.6 1.6l-1.6 -1.6ZM765.2 255.1l1.6 1.6l-1.6 1.6l-1.6 -1.6ZM776.1 255.2l1.6 1.6l-1.6 1.6l-1.6 -1.6ZM599.3 254.9l1.6 1.6l-1.6 1.6l-1.6 -1.6ZM643.6 255.3l1.6 1.6l-1.6 1.6l-1.6 -1.6ZM649.3 255.1l1.6 1.6l-1.6 1.6l-1.6 -1.6ZM559.4 254.8l1.6 1.6l-1.6 1.6l-1.6 -1.6ZM564.6 254.9l1.6 1.6l-1.6 1.6l-1.6 -1.6ZM631.5 255.3l1.6 1.6l-1.6 1.6l-1.6 -1.6ZM574.2 254.9l1.6 1.6l-1.6 1.6l-1.6 -1.6ZM708.4 255.3l1.6 1.6l-1.6 1.6l-1.6 -1.6ZM563.9 254.9l1.6 1.6l-1.6 1.6l-1.6 -1.6ZM615.1 254.8l1.6 1.6l-1.6 1.6l-1.6 -1.6ZM523 255.1l1.6 1.6l-1.6 1.6l-1.6 -1.6ZM566.8 254.9l1.6 1.6l-1.6 1.6l-1.6 -1.6ZM726.9 255l1.6 1.6l-1.6 1.6l-1.6 -1.6ZM657.8 255.1l1.6 1.6l-1.6 1.6l-1.6 -1.6ZM708.9 255.3l1.6 1.6l-1.6 1.6l-1.6 -1.6ZM774 254.8l1.6 1.6l-1.6 1.6l-1.6 -1.6ZM708.3 254.8l1.6 1.6l-1.6 1.6l-1.6 -1.6ZM530.6 254.9l1.6 1.6l-1.6 1.6l-1.6 -1.6Z" fill="#ffa500" fill-opacity="0.2"/><path d="M533.5 257.5l1.6 1.6l-1.6 1.6l-1.6 -1.6ZM563.2 257.9l1.6 1.6l-1.6 1.6l-1.6 -1.6ZM721.5 257.8l1.6 1.6l-1.6 1.6l-1.6 -1.6ZM653.7 257.9l1.6 1.6l-1.6 1.6l-1.6 -1.6ZM665.5 257.5l1.6 1.6l-1.6 1.6l-1.6 -1.6ZM628 257.6l1.6 1.6l-1.6 1.6l-1.6 -1.6ZM631.1 258l1.6 1.6l-1.6 1.6l-1.6 -1.6Z" fill="#ffa500" fill-opacity="0.18"/><path d="M495.4 219.35H783.6" stroke="#fff" stroke-width="0.8"/><path d="M495.4 229.65H783.6" stroke="#fff" stroke-width="0.8"/><path d="M495.4 239.6H783.6" stroke="#fff" stroke-width="0.8"/><rect x="555.1" y="218" width="3.9" height="3" fill="#ffa500"/><rect x="638.3" y="218" width="3.9" height="3" fill="#ffa500"/><rect x="721" y="218" width="3.9" height="3" fill="#ffa500"/><rect x="783.4" y="218" width="4.5" height="3" fill="#ffa500"/><rect x="633.2" y="248" width="3.6" height="33.3" fill="#ffa500"/><rect x="633" y="258.9" width="4" height="0.9" fill="#fff" fill-opacity="0.75"/><rect x="633" y="271.8" width="4" height="0.9" fill="#fff" fill-opacity="0.75"/><path d="M635.1 282.7l1.8 1.8l-1.8 1.8l-1.8 -1.8ZM635.2 285.5l1.8 1.8l-1.8 1.8l-1.8 -1.8ZM635.3 288.4l1.8 1.8l-1.8 1.8l-1.8 -1.8Z" fill="#ffa500" fill-opacity="0.92"/><path d="M635.3 292.7l1.8 1.8l-1.8 1.8l-1.8 -1.8ZM635.3 295.8l1.8 1.8l-1.8 1.8l-1.8 -1.8Z" fill="#ffa500" fill-opacity="0.6"/><path d="M635.4 211V228" stroke="#fff" stroke-width="1.1" stroke-opacity="0.5" stroke-dasharray="1.2 1.6"/><path d="M515.3 272.8l1.6 1.6l-1.6 1.6l-1.6 -1.6Z" fill="#ffa500" fill-opacity="0.25"/></g>
<rect x="482.50" y="197.50" width="319.00" height="103.00" fill="none" stroke="#000" stroke-width="1.1"/>
<path d="M487.50 300.50v4.9M515.50 300.50v4.9M542.50 300.50v4.9M570.50 300.50v4.9M597.50 300.50v4.9M625.50 300.50v4.9M653.50 300.50v4.9M680.50 300.50v4.9M708.50 300.50v4.9M736.50 300.50v4.9M763.50 300.50v4.9M791.50 300.50v4.9M482.50 219.50h-4.9M482.50 268.50h-4.9" stroke="#000" stroke-width="1.1" fill="none"/>
<text x="487.40" y="320.95" font-size="14.15" text-anchor="middle" textLength="40.03" lengthAdjust="spacingAndGlyphs">21:00</text>
<text x="515.04" y="320.95" font-size="14.15" text-anchor="middle" textLength="40.03" lengthAdjust="spacingAndGlyphs">22:00</text>
<text x="542.67" y="320.95" font-size="14.15" text-anchor="middle" textLength="40.03" lengthAdjust="spacingAndGlyphs">23:00</text>
<text x="570.31" y="320.95" font-size="14.15" text-anchor="middle" textLength="40.03" lengthAdjust="spacingAndGlyphs">00:00</text>
<text x="597.95" y="320.95" font-size="14.15" text-anchor="middle" textLength="40.03" lengthAdjust="spacingAndGlyphs">01:00</text>
<text x="625.59" y="320.95" font-size="14.15" text-anchor="middle" textLength="40.03" lengthAdjust="spacingAndGlyphs">02:00</text>
<text x="653.22" y="320.95" font-size="14.15" text-anchor="middle" textLength="40.03" lengthAdjust="spacingAndGlyphs">03:00</text>
<text x="680.86" y="320.95" font-size="14.15" text-anchor="middle" textLength="40.03" lengthAdjust="spacingAndGlyphs">04:00</text>
<text x="708.50" y="320.95" font-size="14.15" text-anchor="middle" textLength="40.03" lengthAdjust="spacingAndGlyphs">05:00</text>
<text x="736.13" y="320.95" font-size="14.15" text-anchor="middle" textLength="40.03" lengthAdjust="spacingAndGlyphs">06:00</text>
<text x="763.77" y="320.95" font-size="14.15" text-anchor="middle" textLength="40.03" lengthAdjust="spacingAndGlyphs">07:00</text>
<text x="791.41" y="320.95" font-size="14.15" text-anchor="middle" textLength="40.03" lengthAdjust="spacingAndGlyphs">08:00</text>
<text x="472.60" y="224.40" font-size="14.15" text-anchor="end" textLength="8.84" lengthAdjust="spacingAndGlyphs">0</text>
<text x="471.10" y="273.40" font-size="14.15" text-anchor="end" textLength="29.31" lengthAdjust="spacingAndGlyphs">−10</text>
<text x="641.00" y="188.90" font-size="16.95" text-anchor="middle" textLength="172.47" lengthAdjust="spacingAndGlyphs">NoRP 2GHz Stokes-V</text>
</g>
<g id="ax21">
<clipPath id="cp21"><rect x="482.50" y="359.50" width="319.00" height="103.00"/></clipPath>
<g clip-path="url(#cp21)"><path d="M495.9 423.2L496.7 421.5L497.9 417.1L499.4 415.1L501.3 413.3L502.4 414.2L503.4 413.8L504.4 413.7L505.4 414L506.4 414.5L507.5 414.6L508.5 414.4L509.5 413.8L510.5 413.4L511.5 413.5L512.5 413.6L513.6 413.4L514.6 413L515.6 413.8L516.6 413.8L517.6 413.3L518.7 413.4L519.7 414.3L520.7 413.5L521.7 413.4L522.7 414.3L523.7 414.2L524.8 414.2L525.8 414.4L526.8 413.6L527.8 413.9L528.8 414.5L529.9 413.4L530.9 414.4L531.9 413.4L532.9 413.7L533.9 413.6L534.9 413.4L536 414.1L537 414.3L538 414.3L539 414L540 413.5L541.4 412.5L542.7 411.9L544.3 406.7L545.5 396.8L546.6 383.3L547.8 371.2L548.9 363.6L550.1 360.3L551.3 363.9L552.6 368.8L554 375.8L555.5 380.3L556.9 387.2L558.4 398.8L559.8 406.3L561.3 411.3L562.9 411L564.2 410.4L566.2 407.8L568.1 405.1L569.4 407L571 410.6L572.9 415L574.9 417.1L576.8 417.4L578.7 415.3L580.3 414.2L581.6 415.2L583 418.6L584.5 424.3L586.1 433.6L587.4 442.3L588.6 449.3L589.8 452.3L590.9 447.2L592.3 437.5L593.4 427.1L594.6 419.1L596.1 415.1L598.1 413.8L599.4 413.8L600.7 413.4L601.9 412.6L603.2 412.6L604.5 412.7L605.8 412L607.3 412.1L608.7 411.5L610.2 411.2L611.6 411.5L613.1 413.1L614.5 413.3L616 414.3L617.4 413.8L618.6 413.8L619.7 413.7L621 412.1L622.3 411.3L623.8 403.8L625.2 393.1L626.7 381.4L628.1 374.5L629.4 381.3L631 393.2L632.3 402.1L633.5 408.2L634.4 402.7L635.5 398.9L636.6 402.8L637.7 409.1L639.4 412.5L640.5 412.6L641.6 414L642.7 414.9L643.8 416.2L644.9 416.8L645.9 417.4L647 415L648.1 415L649.2 412.7L650.3 410.3L651.4 409.3L652.5 408.9L654.2 407.6L656.2 411.3L657.9 412.4L659.4 411L661.2 410.9L662.7 415.1L664.4 423L665.8 429L667.1 431.3L668.4 426.1L669.9 415.3L671.2 402.5L672.5 395.2L674.2 398.5L676 401.2L677.7 402.8L679.7 404.1L681.2 407L682.9 409.5L684.7 412.6L686.2 415.3L688 411.1L689.5 407.9L690.8 405.6L692.1 406.2L693.4 408.6L694.9 412.5L696.4 416.7L697.8 419.7L699.1 413.7L700.4 407.2L701.7 404.7L703 404.1L704.3 411.6L705.8 423.8L706.9 428.8L708 430.7L709.3 422.2L710.6 409.1L711.9 393.1L713 382.2L714.1 376.6L715.2 374.2L716.5 381.5L717.8 389.3L719.1 396.9L720.4 402.5L722.3 405.8L724.3 408.7L725.4 410.7L726.5 411.9L727.6 414.2L728.7 415.9L730.4 418.4L731.9 421L733.4 424.9L734.8 426.3L736.1 418.6L737.4 408.9L738.7 397L740 387L741.1 380.8L742.2 379L743.2 383L744.3 390.1L745.6 399.3L747.2 406.2L748.3 406.4L749.3 406.2L750.4 405.1L751.5 404.3L752.9 405.7L754.3 406.1L755.7 405.9L757 406.4L758.4 407.4L759.8 408.2L761.1 408.8L762.4 409.1L763.5 410.4L764.6 411.3L765.7 412.7L766.8 413.9L768.7 415.9L770.5 416.4L772.4 413.5L774.4 410.1L775.5 409.5L776.5 408.9L777.6 408.6L778.7 408.7L779.8 408.3L780.9 409.1L782 409.9L783.1 409.6L784.2 410.6L785.3 410.5L785.3 420.4L784.2 419.3L783.1 419.6L782 419.3L780.9 418.2L779.8 418.1L778.7 418.3L777.6 418.7L776.5 419.1L775.5 419.3L774.4 420.6L772.4 423L770.5 426.1L768.7 425.4L766.8 423.5L765.7 423L764.6 421.4L763.5 420.9L762.4 420.2L761.1 418.7L759.8 417.4L758.4 415.8L757 415.5L755.7 415.6L754.3 414.6L752.9 414.1L751.5 414.2L750.4 415.1L749.3 416.5L748.3 415.7L747.2 415.7L745.6 408.9L744.3 398.9L743.2 392.8L742.2 388.3L741.1 390.2L740 396.7L738.7 406.7L737.4 418.9L736.1 428.1L734.8 435L733.4 433.8L731.9 430.2L730.4 428.6L728.7 425.3L727.6 423.8L726.5 422.1L725.4 420.1L724.3 417.3L722.3 414.5L720.4 409.9L719.1 405.6L717.8 398.8L716.5 390.7L715.2 384.3L714.1 385.9L713 393.1L711.9 403.3L710.6 418.1L709.3 430.7L708 440.7L706.9 437.9L705.8 431.8L704.3 421.8L703 413L701.7 413L700.4 417.3L699.1 422.7L697.8 428.4L696.4 426.2L694.9 421.2L693.4 417.2L692.1 414.3L690.8 415.1L689.5 416.5L688 419.7L686.2 423.3L684.7 421.5L682.9 419.8L681.2 416L679.7 413.1L677.7 411.7L676 409.8L674.2 406.7L672.5 404.8L671.2 411.7L669.9 424.5L668.4 434.4L667.1 440.1L665.8 438L664.4 431.7L662.7 424.9L661.2 419.8L659.4 420.3L657.9 420.9L656.2 418.7L654.2 417.2L652.5 417.1L651.4 418.1L650.3 419.8L649.2 421.7L648.1 423.3L647 424.9L645.9 426.3L644.9 425.4L643.8 425.5L642.7 424.1L641.6 423.5L640.5 421.4L639.4 420.9L637.7 417.9L636.6 411.4L635.5 407.7L634.4 412.1L633.5 417L632.3 412.4L631 402.4L629.4 389.4L628.1 383.2L626.7 389.6L625.2 402.1L623.8 413.7L622.3 420.1L621 421.4L619.7 423.6L618.6 423.2L617.4 423.4L616 423.2L614.5 423L613.1 422L611.6 420.8L610.2 421.3L608.7 421.6L607.3 421.7L605.8 421.9L604.5 421.1L603.2 422.4L601.9 422.1L600.7 422.5L599.4 422.4L598.1 423L596.1 424.5L594.6 429L593.4 436.8L592.3 446.7L590.9 456L589.8 461.7L588.6 459.5L587.4 451.6L586.1 443.2L584.5 433.9L583 427.3L581.6 424.1L580.3 423.6L578.7 424.4L576.8 427.1L574.9 427.1L572.9 424L571 419.9L569.4 416L568.1 414.5L566.2 416.8L564.2 420L562.9 421L561.3 421.1L559.8 415.7L558.4 408L556.9 397.4L555.5 389.5L554 383.8L552.6 378.6L551.3 372.3L550.1 370.2L548.9 372.6L547.8 380.3L546.6 392.5L545.5 406L544.3 415.6L542.7 422L541.4 422.3L540 422.6L539 422.9L538 423.7L537 423.3L536 422.7L534.9 423.4L533.9 422L532.9 422.8L531.9 423.3L530.9 423.2L529.9 422.2L528.8 422.8L527.8 422.9L526.8 422.8L525.8 423.6L524.8 423.1L523.7 422.7L522.7 422.5L521.7 422.7L520.7 422.3L519.7 422.2L518.7 422.3L517.6 422.5L516.6 421.9L515.6 421.4L514.6 421.1L513.6 421.8L512.5 421.8L511.5 421.8L510.5 422.5L509.5 422.8L508.5 421.7L507.5 421.6L506.4 421.9L505.4 422.4L504.4 422.4L503.4 422.3L502.4 422.2L501.3 422.1L499.4 422.8L497.9 423.8L496.7 423.9L495.9 426Z" fill="none" stroke="#ffa500" stroke-width="4.6" stroke-opacity="0.3" stroke-linejoin="round"/><path d="M495.9 423.2L496.7 421.5L497.9 417.1L499.4 415.1L501.3 413.3L502.4 414.2L503.4 413.8L504.4 413.7L505.4 414L506.4 414.5L507.5 414.6L508.5 414.4L509.5 413.8L510.5 413.4L511.5 413.5L512.5 413.6L513.6 413.4L514.6 413L515.6 413.8L516.6 413.8L517.6 413.3L518.7 413.4L519.7 414.3L520.7 413.5L521.7 413.4L522.7 414.3L523.7 414.2L524.8 414.2L525.8 414.4L526.8 413.6L527.8 413.9L528.8 414.5L529.9 413.4L530.9 414.4L531.9 413.4L532.9 413.7L533.9 413.6L534.9 413.4L536 414.1L537 414.3L538 414.3L539 414L540 413.5L541.4 412.5L542.7 411.9L544.3 406.7L545.5 396.8L546.6 383.3L547.8 371.2L548.9 363.6L550.1 360.3L551.3 363.9L552.6 368.8L554 375.8L555.5 380.3L556.9 387.2L558.4 398.8L559.8 406.3L561.3 411.3L562.9 411L564.2 410.4L566.2 407.8L568.1 405.1L569.4 407L571 410.6L572.9 415L574.9 417.1L576.8 417.4L578.7 415.3L580.3 414.2L581.6 415.2L583 418.6L584.5 424.3L586.1 433.6L587.4 442.3L588.6 449.3L589.8 452.3L590.9 447.2L592.3 437.5L593.4 427.1L594.6 419.1L596.1 415.1L598.1 413.8L599.4 413.8L600.7 413.4L601.9 412.6L603.2 412.6L604.5 412.7L605.8 412L607.3 412.1L608.7 411.5L610.2 411.2L611.6 411.5L613.1 413.1L614.5 413.3L616 414.3L617.4 413.8L618.6 413.8L619.7 413.7L621 412.1L622.3 411.3L623.8 403.8L625.2 393.1L626.7 381.4L628.1 374.5L629.4 381.3L631 393.2L632.3 402.1L633.5 408.2L634.4 402.7L635.5 398.9L636.6 402.8L637.7 409.1L639.4 412.5L640.5 412.6L641.6 414L642.7 414.9L643.8 416.2L644.9 416.8L645.9 417.4L647 415L648.1 415L649.2 412.7L650.3 410.3L651.4 409.3L652.5 408.9L654.2 407.6L656.2 411.3L657.9 412.4L659.4 411L661.2 410.9L662.7 415.1L664.4 423L665.8 429L667.1 431.3L668.4 426.1L669.9 415.3L671.2 402.5L672.5 395.2L674.2 398.5L676 401.2L677.7 402.8L679.7 404.1L681.2 407L682.9 409.5L684.7 412.6L686.2 415.3L688 411.1L689.5 407.9L690.8 405.6L692.1 406.2L693.4 408.6L694.9 412.5L696.4 416.7L697.8 419.7L699.1 413.7L700.4 407.2L701.7 404.7L703 404.1L704.3 411.6L705.8 423.8L706.9 428.8L708 430.7L709.3 422.2L710.6 409.1L711.9 393.1L713 382.2L714.1 376.6L715.2 374.2L716.5 381.5L717.8 389.3L719.1 396.9L720.4 402.5L722.3 405.8L724.3 408.7L725.4 410.7L726.5 411.9L727.6 414.2L728.7 415.9L730.4 418.4L731.9 421L733.4 424.9L734.8 426.3L736.1 418.6L737.4 408.9L738.7 397L740 387L741.1 380.8L742.2 379L743.2 383L744.3 390.1L745.6 399.3L747.2 406.2L748.3 406.4L749.3 406.2L750.4 405.1L751.5 404.3L752.9 405.7L754.3 406.1L755.7 405.9L757 406.4L758.4 407.4L759.8 408.2L761.1 408.8L762.4 409.1L763.5 410.4L764.6 411.3L765.7 412.7L766.8 413.9L768.7 415.9L770.5 416.4L772.4 413.5L774.4 410.1L775.5 409.5L776.5 408.9L777.6 408.6L778.7 408.7L779.8 408.3L780.9 409.1L782 409.9L783.1 409.6L784.2 410.6L785.3 410.5L785.3 420.4L784.2 419.3L783.1 419.6L782 419.3L780.9 418.2L779.8 418.1L778.7 418.3L777.6 418.7L776.5 419.1L775.5 419.3L774.4 420.6L772.4 423L770.5 426.1L768.7 425.4L766.8 423.5L765.7 423L764.6 421.4L763.5 420.9L762.4 420.2L761.1 418.7L759.8 417.4L758.4 415.8L757 415.5L755.7 415.6L754.3 414.6L752.9 414.1L751.5 414.2L750.4 415.1L749.3 416.5L748.3 415.7L747.2 415.7L745.6 408.9L744.3 398.9L743.2 392.8L742.2 388.3L741.1 390.2L740 396.7L738.7 406.7L737.4 418.9L736.1 428.1L734.8 435L733.4 433.8L731.9 430.2L730.4 428.6L728.7 425.3L727.6 423.8L726.5 422.1L725.4 420.1L724.3 417.3L722.3 414.5L720.4 409.9L719.1 405.6L717.8 398.8L716.5 390.7L715.2 384.3L714.1 385.9L713 393.1L711.9 403.3L710.6 418.1L709.3 430.7L708 440.7L706.9 437.9L705.8 431.8L704.3 421.8L703 413L701.7 413L700.4 417.3L699.1 422.7L697.8 428.4L696.4 426.2L694.9 421.2L693.4 417.2L692.1 414.3L690.8 415.1L689.5 416.5L688 419.7L686.2 423.3L684.7 421.5L682.9 419.8L681.2 416L679.7 413.1L677.7 411.7L676 409.8L674.2 406.7L672.5 404.8L671.2 411.7L669.9 424.5L668.4 434.4L667.1 440.1L665.8 438L664.4 431.7L662.7 424.9L661.2 419.8L659.4 420.3L657.9 420.9L656.2 418.7L654.2 417.2L652.5 417.1L651.4 418.1L650.3 419.8L649.2 421.7L648.1 423.3L647 424.9L645.9 426.3L644.9 425.4L643.8 425.5L642.7 424.1L641.6 423.5L640.5 421.4L639.4 420.9L637.7 417.9L636.6 411.4L635.5 407.7L634.4 412.1L633.5 417L632.3 412.4L631 402.4L629.4 389.4L628.1 383.2L626.7 389.6L625.2 402.1L623.8 413.7L622.3 420.1L621 421.4L619.7 423.6L618.6 423.2L617.4 423.4L616 423.2L614.5 423L613.1 422L611.6 420.8L610.2 421.3L608.7 421.6L607.3 421.7L605.8 421.9L604.5 421.1L603.2 422.4L601.9 422.1L600.7 422.5L599.4 422.4L598.1 423L596.1 424.5L594.6 429L593.4 436.8L592.3 446.7L590.9 456L589.8 461.7L588.6 459.5L587.4 451.6L586.1 443.2L584.5 433.9L583 427.3L581.6 424.1L580.3 423.6L578.7 424.4L576.8 427.1L574.9 427.1L572.9 424L571 419.9L569.4 416L568.1 414.5L566.2 416.8L564.2 420L562.9 421L561.3 421.1L559.8 415.7L558.4 408L556.9 397.4L555.5 389.5L554 383.8L552.6 378.6L551.3 372.3L550.1 370.2L548.9 372.6L547.8 380.3L546.6 392.5L545.5 406L544.3 415.6L542.7 422L541.4 422.3L540 422.6L539 422.9L538 423.7L537 423.3L536 422.7L534.9 423.4L533.9 422L532.9 422.8L531.9 423.3L530.9 423.2L529.9 422.2L528.8 422.8L527.8 422.9L526.8 422.8L525.8 423.6L524.8 423.1L523.7 422.7L522.7 422.5L521.7 422.7L520.7 422.3L519.7 422.2L518.7 422.3L517.6 422.5L516.6 421.9L515.6 421.4L514.6 421.1L513.6 421.8L512.5 421.8L511.5 421.8L510.5 422.5L509.5 422.8L508.5 421.7L507.5 421.6L506.4 421.9L505.4 422.4L504.4 422.4L503.4 422.3L502.4 422.2L501.3 422.1L499.4 422.8L497.9 423.8L496.7 423.9L495.9 426Z" fill="#ffa500" stroke="#ffa500" stroke-width="3.0" stroke-linejoin="round"/><rect x="556.6" y="390.8" width="1.8" height="2.2" fill="#fff" fill-opacity="0.55"/><path d="M783.1 387.4l1.6 1.6l-1.6 1.6l-1.6 -1.6ZM783 389.4l1.6 1.6l-1.6 1.6l-1.6 -1.6ZM783.2 391.6l1.6 1.6l-1.6 1.6l-1.6 -1.6ZM783 393.2l1.6 1.6l-1.6 1.6l-1.6 -1.6ZM783.4 395.7l1.6 1.6l-1.6 1.6l-1.6 -1.6ZM783.1 397.5l1.6 1.6l-1.6 1.6l-1.6 -1.6ZM783.1 399.2l1.6 1.6l-1.6 1.6l-1.6 -1.6ZM783.4 401.1l1.6 1.6l-1.6 1.6l-1.6 -1.6ZM783.1 402.4l1.6 1.6l-1.6 1.6l-1.6 -1.6ZM783.3 404.5l1.6 1.6l-1.6 1.6l-1.6 -1.6ZM783.3 406.3l1.6 1.6l-1.6 1.6l-1.6 -1.6ZM783 408.2l1.6 1.6l-1.6 1.6l-1.6 -1.6ZM783.1 410.7l1.6 1.6l-1.6 1.6l-1.6 -1.6ZM783.4 413l1.6 1.6l-1.6 1.6l-1.6 -1.6ZM783.3 414.5l1.6 1.6l-1.6 1.6l-1.6 -1.6ZM783.1 416.9l1.6 1.6l-1.6 1.6l-1.6 -1.6ZM783 419.5l1.6 1.6l-1.6 1.6l-1.6 -1.6ZM783.4 421.5l1.6 1.6l-1.6 1.6l-1.6 -1.6ZM783.4 423.5l1.6 1.6l-1.6 1.6l-1.6 -1.6ZM783.3 425.4l1.6 1.6l-1.6 1.6l-1.6 -1.6ZM783.3 427.3l1.6 1.6l-1.6 1.6l-1.6 -1.6ZM783.3 429.6l1.6 1.6l-1.6 1.6l-1.6 -1.6ZM783.1 432l1.6 1.6l-1.6 1.6l-1.6 -1.6ZM783.3 434.2l1.6 1.6l-1.6 1.6l-1.6 -1.6ZM783 436.5l1.6 1.6l-1.6 1.6l-1.6 -1.6ZM783 438.6l1.6 1.6l-1.6 1.6l-1.6 -1.6ZM783.3 441.2l1.6 1.6l-1.6 1.6l-1.6 -1.6ZM783.3 442.8l1.6 1.6l-1.6 1.6l-1.6 -1.6ZM783.2 444.6l1.6 1.6l-1.6 1.6l-1.6 -1.6Z" fill="#ffa500" fill-opacity="0.45"/><rect x="555.1" y="424.9" width="3.9" height="3" fill="#ffa500"/><rect x="638.3" y="424.9" width="3.9" height="3" fill="#ffa500"/><rect x="721" y="424.9" width="3.9" height="3" fill="#ffa500"/><rect x="782" y="424.9" width="5.9" height="3" fill="#ffa500"/></g>
<rect x="482.50" y="359.50" width="319.00" height="103.00" fill="none" stroke="#000" stroke-width="1.1"/>
<path d="M487.50 462.50v4.9M515.50 462.50v4.9M542.50 462.50v4.9M570.50 462.50v4.9M597.50 462.50v4.9M625.50 462.50v4.9M653.50 462.50v4.9M680.50 462.50v4.9M708.50 462.50v4.9M736.50 462.50v4.9M763.50 462.50v4.9M791.50 462.50v4.9M482.50 380.50h-4.9M482.50 426.50h-4.9" stroke="#000" stroke-width="1.1" fill="none"/>
<text x="487.40" y="482.95" font-size="14.15" text-anchor="middle" textLength="40.03" lengthAdjust="spacingAndGlyphs">21:00</text>
<text x="515.04" y="482.95" font-size="14.15" text-anchor="middle" textLength="40.03" lengthAdjust="spacingAndGlyphs">22:00</text>
<text x="542.67" y="482.95" font-size="14.15" text-anchor="middle" textLength="40.03" lengthAdjust="spacingAndGlyphs">23:00</text>
<text x="570.31" y="482.95" font-size="14.15" text-anchor="middle" textLength="40.03" lengthAdjust="spacingAndGlyphs">00:00</text>
<text x="597.95" y="482.95" font-size="14.15" text-anchor="middle" textLength="40.03" lengthAdjust="spacingAndGlyphs">01:00</text>
<text x="625.59" y="482.95" font-size="14.15" text-anchor="middle" textLength="40.03" lengthAdjust="spacingAndGlyphs">02:00</text>
<text x="653.22" y="482.95" font-size="14.15" text-anchor="middle" textLength="40.03" lengthAdjust="spacingAndGlyphs">03:00</text>
<text x="680.86" y="482.95" font-size="14.15" text-anchor="middle" textLength="40.03" lengthAdjust="spacingAndGlyphs">04:00</text>
<text x="708.50" y="482.95" font-size="14.15" text-anchor="middle" textLength="40.03" lengthAdjust="spacingAndGlyphs">05:00</text>
<text x="736.13" y="482.95" font-size="14.15" text-anchor="middle" textLength="40.03" lengthAdjust="spacingAndGlyphs">06:00</text>
<text x="763.77" y="482.95" font-size="14.15" text-anchor="middle" textLength="40.03" lengthAdjust="spacingAndGlyphs">07:00</text>
<text x="791.41" y="482.95" font-size="14.15" text-anchor="middle" textLength="40.03" lengthAdjust="spacingAndGlyphs">08:00</text>
<text x="471.10" y="385.40" font-size="14.15" text-anchor="end" textLength="17.67" lengthAdjust="spacingAndGlyphs">20</text>
<text x="472.60" y="431.40" font-size="14.15" text-anchor="end" textLength="8.84" lengthAdjust="spacingAndGlyphs">0</text>
<text x="641.00" y="350.90" font-size="16.95" text-anchor="middle" textLength="198.98" lengthAdjust="spacingAndGlyphs">NoRP 3.75GHz Stokes-V</text>
</g>
<g id="ax31">
<clipPath id="cp31"><rect x="482.50" y="522.50" width="319.00" height="103.00"/></clipPath>
<g clip-path="url(#cp31)"><path d="M495.2 568.2L497.5 567L500.5 566.2L783.5 566.2L783.6 567.6L787.9 567.6L787.9 571L495.2 571Z" fill="#ffa500"/><rect x="633.6" y="556.2" width="3.6" height="10.8" fill="#ffa500"/><ellipse cx="635.4" cy="556.6" rx="1.8" ry="1.4" fill="#ffa500"/><path d="M548 566L548.4 556L549 550.5L550.4 550.5L551 556L551.6 566L551.6 572L550.9 580L550.3 585L549.1 585L548.5 580L548 572Z" fill="#ffa500"/><path d="M550 524.5l1.6 1.6l-1.6 1.6l-1.6 -1.6ZM549.5 533.1l1.6 1.6l-1.6 1.6l-1.6 -1.6ZM549.4 536.5l1.6 1.6l-1.6 1.6l-1.6 -1.6ZM549.7 540l1.6 1.6l-1.6 1.6l-1.6 -1.6ZM549.3 542.8l1.6 1.6l-1.6 1.6l-1.6 -1.6ZM550.2 545.5l1.6 1.6l-1.6 1.6l-1.6 -1.6ZM549.8 547.5l1.6 1.6l-1.6 1.6l-1.6 -1.6Z" fill="#ffa500" fill-opacity="0.3"/><path d="M550.1 583.5l1.6 1.6l-1.6 1.6l-1.6 -1.6ZM549.9 585.8l1.6 1.6l-1.6 1.6l-1.6 -1.6ZM549.7 587.6l1.6 1.6l-1.6 1.6l-1.6 -1.6ZM549.2 589l1.6 1.6l-1.6 1.6l-1.6 -1.6ZM550.2 591.3l1.6 1.6l-1.6 1.6l-1.6 -1.6ZM549.4 593.4l1.6 1.6l-1.6 1.6l-1.6 -1.6ZM549.4 595.4l1.6 1.6l-1.6 1.6l-1.6 -1.6ZM550 596.9l1.6 1.6l-1.6 1.6l-1.6 -1.6Z" fill="#ffa500" fill-opacity="0.6"/><path d="M549.2 598.5l1.6 1.6l-1.6 1.6l-1.6 -1.6ZM549.9 601.7l1.6 1.6l-1.6 1.6l-1.6 -1.6ZM549.3 604.8l1.6 1.6l-1.6 1.6l-1.6 -1.6ZM549.9 607.2l1.6 1.6l-1.6 1.6l-1.6 -1.6ZM549.4 609.4l1.6 1.6l-1.6 1.6l-1.6 -1.6ZM549.4 612.1l1.6 1.6l-1.6 1.6l-1.6 -1.6ZM549.4 614.4l1.6 1.6l-1.6 1.6l-1.6 -1.6Z" fill="#ffa500" fill-opacity="0.3"/><ellipse cx="530.4" cy="568.9" rx="1.5" ry="5.0" fill="#ffa500"/><path d="M529.8 559l1.6 1.6l-1.6 1.6l-1.6 -1.6ZM530.2 561.1l1.6 1.6l-1.6 1.6l-1.6 -1.6ZM529.9 562.9l1.6 1.6l-1.6 1.6l-1.6 -1.6Z" fill="#ffa500" fill-opacity="0.35"/><path d="M529.8 571.8l1.6 1.6l-1.6 1.6l-1.6 -1.6ZM529.8 573.7l1.6 1.6l-1.6 1.6l-1.6 -1.6Z" fill="#ffa500" fill-opacity="0.35"/><ellipse cx="537.5" cy="569.9" rx="1.5" ry="6.0" fill="#ffa500"/><path d="M537 562l1.6 1.6l-1.6 1.6l-1.6 -1.6Z" fill="#ffa500" fill-opacity="0.35"/><path d="M537 573.7l1.6 1.6l-1.6 1.6l-1.6 -1.6ZM538.2 576.2l1.6 1.6l-1.6 1.6l-1.6 -1.6ZM536.9 578.9l1.6 1.6l-1.6 1.6l-1.6 -1.6ZM537 580.7l1.6 1.6l-1.6 1.6l-1.6 -1.6Z" fill="#ffa500" fill-opacity="0.35"/><ellipse cx="757.0" cy="568.0" rx="1.5" ry="5.6" fill="#ffa500"/><path d="M756.4 560.9l1.6 1.6l-1.6 1.6l-1.6 -1.6Z" fill="#ffa500" fill-opacity="0.35"/><path d="M757.4 571.5l1.6 1.6l-1.6 1.6l-1.6 -1.6Z" fill="#ffa500" fill-opacity="0.35"/><ellipse cx="769.4" cy="568.9" rx="1.5" ry="6.0" fill="#ffa500"/><path d="M769.3 554.2l1.6 1.6l-1.6 1.6l-1.6 -1.6ZM769.2 556.4l1.6 1.6l-1.6 1.6l-1.6 -1.6ZM769.4 559l1.6 1.6l-1.6 1.6l-1.6 -1.6ZM769.3 561.6l1.6 1.6l-1.6 1.6l-1.6 -1.6Z" fill="#ffa500" fill-opacity="0.35"/><path d="M769.5 572.8l1.6 1.6l-1.6 1.6l-1.6 -1.6ZM769.3 574.7l1.6 1.6l-1.6 1.6l-1.6 -1.6ZM770 576.6l1.6 1.6l-1.6 1.6l-1.6 -1.6ZM769.3 578.2l1.6 1.6l-1.6 1.6l-1.6 -1.6Z" fill="#ffa500" fill-opacity="0.35"/><ellipse cx="777.6" cy="568.3" rx="1.5" ry="7.7" fill="#ffa500"/><path d="M777.7 555.5l1.6 1.6l-1.6 1.6l-1.6 -1.6ZM777.8 557.1l1.6 1.6l-1.6 1.6l-1.6 -1.6ZM777.3 558.9l1.6 1.6l-1.6 1.6l-1.6 -1.6Z" fill="#ffa500" fill-opacity="0.35"/><path d="M777 573.9l1.6 1.6l-1.6 1.6l-1.6 -1.6ZM777 576.9l1.6 1.6l-1.6 1.6l-1.6 -1.6ZM777.9 579.9l1.6 1.6l-1.6 1.6l-1.6 -1.6Z" fill="#ffa500" fill-opacity="0.35"/><path d="M509.7 563l1.6 1.6l-1.6 1.6l-1.6 -1.6ZM509.7 571.5l1.6 1.6l-1.6 1.6l-1.6 -1.6ZM509.6 575l1.6 1.6l-1.6 1.6l-1.6 -1.6ZM509.4 580.2l1.6 1.6l-1.6 1.6l-1.6 -1.6ZM569 564l1.6 1.6l-1.6 1.6l-1.6 -1.6ZM569.2 571l1.6 1.6l-1.6 1.6l-1.6 -1.6ZM569 578.8l1.6 1.6l-1.6 1.6l-1.6 -1.6ZM580.3 571.7l1.6 1.6l-1.6 1.6l-1.6 -1.6ZM592 575.9l1.6 1.6l-1.6 1.6l-1.6 -1.6ZM595.2 555.7l1.6 1.6l-1.6 1.6l-1.6 -1.6ZM595.2 561l1.6 1.6l-1.6 1.6l-1.6 -1.6ZM595.2 574.1l1.6 1.6l-1.6 1.6l-1.6 -1.6ZM595.2 579.5l1.6 1.6l-1.6 1.6l-1.6 -1.6ZM603.5 561.5l1.6 1.6l-1.6 1.6l-1.6 -1.6ZM603.6 571.9l1.6 1.6l-1.6 1.6l-1.6 -1.6ZM606.8 561.5l1.6 1.6l-1.6 1.6l-1.6 -1.6ZM621.4 558.7l1.6 1.6l-1.6 1.6l-1.6 -1.6ZM621.2 562l1.6 1.6l-1.6 1.6l-1.6 -1.6ZM621.4 571.5l1.6 1.6l-1.6 1.6l-1.6 -1.6ZM637.2 572.7l1.6 1.6l-1.6 1.6l-1.6 -1.6ZM655.3 556.9l1.6 1.6l-1.6 1.6l-1.6 -1.6ZM637.6 572.5l1.6 1.6l-1.6 1.6l-1.6 -1.6ZM677.3 572l1.6 1.6l-1.6 1.6l-1.6 -1.6ZM692.3 577.8l1.6 1.6l-1.6 1.6l-1.6 -1.6ZM696.3 562l1.6 1.6l-1.6 1.6l-1.6 -1.6ZM696 571l1.6 1.6l-1.6 1.6l-1.6 -1.6ZM527.5 572l1.6 1.6l-1.6 1.6l-1.6 -1.6ZM545.6 571.5l1.6 1.6l-1.6 1.6l-1.6 -1.6ZM618 562.7l1.6 1.6l-1.6 1.6l-1.6 -1.6ZM625 563.5l1.6 1.6l-1.6 1.6l-1.6 -1.6Z" fill="#ffa500" fill-opacity="0.28"/><path d="M767.7 562.5l1.6 1.6l-1.6 1.6l-1.6 -1.6ZM767.5 569.8l1.6 1.6l-1.6 1.6l-1.6 -1.6ZM768.9 570.6l1.6 1.6l-1.6 1.6l-1.6 -1.6ZM767 561.2l1.6 1.6l-1.6 1.6l-1.6 -1.6ZM772.9 565l1.6 1.6l-1.6 1.6l-1.6 -1.6ZM768.5 564.4l1.6 1.6l-1.6 1.6l-1.6 -1.6ZM768.5 565.7l1.6 1.6l-1.6 1.6l-1.6 -1.6ZM771.1 558.6l1.6 1.6l-1.6 1.6l-1.6 -1.6ZM768.4 571.1l1.6 1.6l-1.6 1.6l-1.6 -1.6ZM770.7 562.6l1.6 1.6l-1.6 1.6l-1.6 -1.6ZM771.5 571.6l1.6 1.6l-1.6 1.6l-1.6 -1.6ZM768.7 568.6l1.6 1.6l-1.6 1.6l-1.6 -1.6ZM770.1 563.5l1.6 1.6l-1.6 1.6l-1.6 -1.6ZM770.1 574.5l1.6 1.6l-1.6 1.6l-1.6 -1.6ZM769.4 572.9l1.6 1.6l-1.6 1.6l-1.6 -1.6ZM765.9 571.7l1.6 1.6l-1.6 1.6l-1.6 -1.6ZM776.2 563l1.6 1.6l-1.6 1.6l-1.6 -1.6ZM779.4 553.1l1.6 1.6l-1.6 1.6l-1.6 -1.6ZM777.9 566.3l1.6 1.6l-1.6 1.6l-1.6 -1.6ZM778.5 555.7l1.6 1.6l-1.6 1.6l-1.6 -1.6ZM777 556.1l1.6 1.6l-1.6 1.6l-1.6 -1.6ZM777 563l1.6 1.6l-1.6 1.6l-1.6 -1.6ZM780.2 561.8l1.6 1.6l-1.6 1.6l-1.6 -1.6ZM777.7 575.7l1.6 1.6l-1.6 1.6l-1.6 -1.6ZM778 571.8l1.6 1.6l-1.6 1.6l-1.6 -1.6ZM777 564.3l1.6 1.6l-1.6 1.6l-1.6 -1.6ZM779.8 567.6l1.6 1.6l-1.6 1.6l-1.6 -1.6ZM775 556.9l1.6 1.6l-1.6 1.6l-1.6 -1.6ZM779 568.1l1.6 1.6l-1.6 1.6l-1.6 -1.6ZM780.2 577.7l1.6 1.6l-1.6 1.6l-1.6 -1.6ZM777.9 563.3l1.6 1.6l-1.6 1.6l-1.6 -1.6ZM775.2 568.9l1.6 1.6l-1.6 1.6l-1.6 -1.6ZM776.3 561.5l1.6 1.6l-1.6 1.6l-1.6 -1.6ZM776.5 565.9l1.6 1.6l-1.6 1.6l-1.6 -1.6ZM757.7 567.9l1.6 1.6l-1.6 1.6l-1.6 -1.6ZM756.3 566.9l1.6 1.6l-1.6 1.6l-1.6 -1.6ZM757.7 564.8l1.6 1.6l-1.6 1.6l-1.6 -1.6ZM758.7 567.5l1.6 1.6l-1.6 1.6l-1.6 -1.6ZM756 561.4l1.6 1.6l-1.6 1.6l-1.6 -1.6ZM754.5 570l1.6 1.6l-1.6 1.6l-1.6 -1.6ZM548.2 548.3l1.6 1.6l-1.6 1.6l-1.6 -1.6ZM550 560.1l1.6 1.6l-1.6 1.6l-1.6 -1.6ZM548.8 569.6l1.6 1.6l-1.6 1.6l-1.6 -1.6ZM548.8 560.5l1.6 1.6l-1.6 1.6l-1.6 -1.6ZM548.4 569.1l1.6 1.6l-1.6 1.6l-1.6 -1.6ZM550.5 577.8l1.6 1.6l-1.6 1.6l-1.6 -1.6ZM549.5 558.8l1.6 1.6l-1.6 1.6l-1.6 -1.6ZM551 576.1l1.6 1.6l-1.6 1.6l-1.6 -1.6ZM548.4 559.1l1.6 1.6l-1.6 1.6l-1.6 -1.6ZM551.3 548.2l1.6 1.6l-1.6 1.6l-1.6 -1.6ZM549.9 554.9l1.6 1.6l-1.6 1.6l-1.6 -1.6ZM551.4 562.7l1.6 1.6l-1.6 1.6l-1.6 -1.6ZM548.8 566.4l1.6 1.6l-1.6 1.6l-1.6 -1.6ZM549.1 574.7l1.6 1.6l-1.6 1.6l-1.6 -1.6ZM537.4 571l1.6 1.6l-1.6 1.6l-1.6 -1.6ZM537.7 569.2l1.6 1.6l-1.6 1.6l-1.6 -1.6ZM536.3 565.2l1.6 1.6l-1.6 1.6l-1.6 -1.6ZM538.1 559.5l1.6 1.6l-1.6 1.6l-1.6 -1.6ZM539.9 562.3l1.6 1.6l-1.6 1.6l-1.6 -1.6ZM538.9 571.7l1.6 1.6l-1.6 1.6l-1.6 -1.6ZM530.8 566.3l1.6 1.6l-1.6 1.6l-1.6 -1.6ZM530.6 567.7l1.6 1.6l-1.6 1.6l-1.6 -1.6ZM531.7 575.8l1.6 1.6l-1.6 1.6l-1.6 -1.6ZM530.9 565.5l1.6 1.6l-1.6 1.6l-1.6 -1.6ZM531 567.1l1.6 1.6l-1.6 1.6l-1.6 -1.6Z" fill="#ffa500" fill-opacity="0.3"/></g>
<rect x="482.50" y="522.50" width="319.00" height="103.00" fill="none" stroke="#000" stroke-width="1.1"/>
<path d="M487.50 625.50v4.9M515.50 625.50v4.9M542.50 625.50v4.9M570.50 625.50v4.9M597.50 625.50v4.9M625.50 625.50v4.9M653.50 625.50v4.9M680.50 625.50v4.9M708.50 625.50v4.9M736.50 625.50v4.9M763.50 625.50v4.9M791.50 625.50v4.9M482.50 537.50h-4.9M482.50 569.50h-4.9M482.50 601.50h-4.9" stroke="#000" stroke-width="1.1" fill="none"/>
<text x="487.40" y="644.95" font-size="14.15" text-anchor="middle" textLength="40.03" lengthAdjust="spacingAndGlyphs">21:00</text>
<text x="515.04" y="644.95" font-size="14.15" text-anchor="middle" textLength="40.03" lengthAdjust="spacingAndGlyphs">22:00</text>
<text x="542.67" y="644.95" font-size="14.15" text-anchor="middle" textLength="40.03" lengthAdjust="spacingAndGlyphs">23:00</text>
<text x="570.31" y="644.95" font-size="14.15" text-anchor="middle" textLength="40.03" lengthAdjust="spacingAndGlyphs">00:00</text>
<text x="597.95" y="644.95" font-size="14.15" text-anchor="middle" textLength="40.03" lengthAdjust="spacingAndGlyphs">01:00</text>
<text x="625.59" y="644.95" font-size="14.15" text-anchor="middle" textLength="40.03" lengthAdjust="spacingAndGlyphs">02:00</text>
<text x="653.22" y="644.95" font-size="14.15" text-anchor="middle" textLength="40.03" lengthAdjust="spacingAndGlyphs">03:00</text>
<text x="680.86" y="644.95" font-size="14.15" text-anchor="middle" textLength="40.03" lengthAdjust="spacingAndGlyphs">04:00</text>
<text x="708.50" y="644.95" font-size="14.15" text-anchor="middle" textLength="40.03" lengthAdjust="spacingAndGlyphs">05:00</text>
<text x="736.13" y="644.95" font-size="14.15" text-anchor="middle" textLength="40.03" lengthAdjust="spacingAndGlyphs">06:00</text>
<text x="763.77" y="644.95" font-size="14.15" text-anchor="middle" textLength="40.03" lengthAdjust="spacingAndGlyphs">07:00</text>
<text x="791.41" y="644.95" font-size="14.15" text-anchor="middle" textLength="40.03" lengthAdjust="spacingAndGlyphs">08:00</text>
<text x="471.10" y="542.40" font-size="14.15" text-anchor="end" textLength="26.51" lengthAdjust="spacingAndGlyphs">250</text>
<text x="472.60" y="574.40" font-size="14.15" text-anchor="end" textLength="8.84" lengthAdjust="spacingAndGlyphs">0</text>
<text x="471.10" y="606.40" font-size="14.15" text-anchor="end" textLength="38.15" lengthAdjust="spacingAndGlyphs">−250</text>
<text x="641.00" y="512.90" font-size="16.95" text-anchor="middle" textLength="188.38" lengthAdjust="spacingAndGlyphs">NoRP 9.4GHz Stokes-V</text>
</g>
<g id="ax41">
<clipPath id="cp41"><rect x="482.50" y="684.50" width="319.00" height="103.00"/></clipPath>
<g clip-path="url(#cp41)"><path d="M498.6 774.8L499.4 770L500.4 769.1L501.3 768.4L502.3 768.3L503.3 769.1L504.2 768.2L505.2 767.5L506.2 768.1L507.1 768.3L508.1 769.2L509.1 768.2L510.1 768.5L511 768.2L512 768.1L513 768.8L513.9 767.9L514.8 768.9L515.7 769.4L516.6 768.2L517.5 769.6L518.5 769.6L519.4 768.5L520.3 768.6L521.2 769.2L522.1 768.5L523.1 768L524 768.5L524.9 768.4L525.8 768.6L526.7 766.6L527.7 768.2L528.6 766.8L529.6 765.3L530.5 766.4L531.5 765.2L532.4 765.5L533.4 765.8L534.3 764.8L535.3 765.4L536.2 764.5L537.2 764L538.1 764.7L539.1 763.7L540 763.8L541 764.6L541.9 763.6L542.8 764.3L543.7 764.9L544.6 764.2L545.6 764.5L546.5 763.5L547.4 764.1L548.3 764.6L549.3 763.6L550.2 765.2L551.1 764.1L552 764.1L552.9 764.1L553.9 764.3L554.8 764.3L555.7 764.3L556.6 764.3L557.5 763.9L558.5 764.3L559.4 764.8L560.3 763.6L561.2 764.5L562.1 764.2L563.1 764.7L564 763.7L564.9 764.2L565.8 764.8L566.8 765.4L567.7 764.7L568.6 764.8L569.5 764.9L570.4 765.1L571.4 763.9L572.3 764.7L573.2 764.4L574.1 764.9L575 765.2L576 764.9L576.9 764.9L577.8 765.2L578.7 765.2L579.7 763.8L580.6 765L581.5 764.7L582.4 763.9L583.3 765L584.3 764.7L585.2 764.6L586.1 764.4L587 764.7L587.9 764.9L588.9 765.2L589.8 764.6L590.7 764.8L591.6 764.9L592.5 764.7L593.5 764L594.4 764.4L595.3 764.4L596.2 766.7L597.2 764.9L598.1 764.8L599 763.9L599.9 763.7L600.8 765L601.8 765.7L602.7 765.4L603.6 765.4L604.5 765.3L605.4 765.2L606.4 765.7L607.3 765.7L608.2 765.7L609.1 765.6L610.1 766.5L611 765.9L611.9 765.8L612.8 765.4L613.7 765.7L614.7 765.9L615.6 765.1L616.5 765.7L617.4 766.1L618.3 766.4L619.2 766.8L620.1 765.8L621.1 766.3L622 766.7L622.9 765.7L623.8 765.6L624.7 765.5L625.6 765L626.5 766.6L627.4 766.5L628.3 766.6L629.2 765.8L630.1 766.2L631 766L631.9 765.7L632.9 765.9L633.8 765.5L634.7 765.5L635.7 765.4L636.6 765.8L637.5 766.2L638.5 766.7L639.4 765.6L640.4 766.5L641.3 766.2L642.3 765.9L643.2 766.4L644.2 765.2L645.1 764.8L646.1 766L647 765L648 764.8L648.9 765.4L649.9 765.5L650.8 764.2L651.8 764.5L652.7 765.3L653.7 765.4L654.7 765.7L655.6 766.3L656.5 766.3L657.4 765.5L658.3 765L659.2 766L660.1 765.7L661 765.6L661.9 765.6L662.8 766.4L663.7 766.7L664.6 766.3L665.5 767.5L666.4 768.3L667.3 767.1L668.3 766L669.2 766.2L670.1 766.4L671 766.8L671.9 765L672.8 766.3L673.7 765.3L674.6 764.7L675.5 765.2L676.4 765.2L677.3 765.9L678.2 766.6L679.1 766.8L680 766.1L681 765.6L681.9 766.2L682.8 766.1L683.7 765.6L684.6 766.1L685.5 765.4L686.4 765.6L687.3 766.2L688.2 765.9L689.1 766.6L690 766.3L690.9 766.3L691.8 766.3L692.7 765.4L693.7 767L694.6 767L695.5 766.6L696.4 766.2L697.3 766.8L698.2 766.8L699.1 766.5L700 766.3L700.9 767.4L701.8 766.8L702.7 767.5L703.6 766.7L704.5 765.7L705.4 766.5L706.3 766.5L707.3 766.6L708.2 766L709.1 765.9L710 766.9L710.9 765.7L711.8 766.7L712.7 766L713.6 767L714.5 766.7L715.4 765.7L716.3 766.4L717.2 766.9L718.1 768.1L719 766.7L720 766.9L720.9 767.2L721.8 766.7L722.7 766.4L723.6 766.5L724.5 766.1L725.4 766.2L726.3 766.8L727.2 767.2L728.1 766.4L729 765.6L729.9 765.7L730.8 766.9L731.7 766.8L732.7 767.3L733.6 766.9L734.5 767.4L735.4 767.8L736.3 767.2L737.2 767.1L738.1 767.2L739 766.6L739.9 767L740.8 767.6L741.7 767.8L742.6 767.1L743.5 766.7L744.4 767.8L745.3 767L746.3 767.5L747.2 768.1L748.1 767.4L749 766.6L749.9 766.9L750.8 767.2L751.7 768.1L752.6 766.8L753.5 767.2L754.4 767.3L755.3 766L756.2 767.3L757.1 766L758 768.2L759 767.3L759.9 767.7L760.8 767.1L761.7 767L762.6 768.3L763.5 767.9L764.4 768.5L765.3 767.5L766.2 767.2L767.1 767.6L768 768.7L769 767.8L769.9 769.1L770.8 767.4L771.7 768.7L772.6 767.8L773.5 766.9L774.4 767L775.3 768.2L776.3 766.2L777.2 767.4L778.1 767.7L779 767.8L779.9 768.4L780.8 768.9L781.7 769.5L782.6 768L783.5 769.6L783.5 783.4L782.6 783L781.7 783.6L780.8 784.5L779.9 783.3L779 782.9L778.1 782.6L777.2 783.4L776.3 782.5L775.3 782.4L774.4 783.3L773.5 783L772.6 782.7L771.7 783L770.8 781.9L769.9 783L769 783.2L768 783.8L767.1 783.4L766.2 784.3L765.3 784.3L764.4 784.4L763.5 784.2L762.6 783.1L761.7 784.2L760.8 784.5L759.9 783.5L759 783.7L758 784L757.1 783.7L756.2 782.9L755.3 783.4L754.4 783.5L753.5 783.8L752.6 783.2L751.7 784.3L750.8 783.2L749.9 782.9L749 783.2L748.1 783L747.2 783.4L746.3 782.7L745.3 783.4L744.4 783.2L743.5 784.3L742.6 783.5L741.7 784L740.8 782.8L739.9 784.1L739 783.5L738.1 783.2L737.2 783.6L736.3 783.3L735.4 783.5L734.5 783.2L733.6 782.6L732.7 781.7L731.7 782.7L730.8 782.3L729.9 783.8L729 783.1L728.1 783.8L727.2 784.7L726.3 784.2L725.4 783.9L724.5 783.5L723.6 782L722.7 783L721.8 783L720.9 783.5L720 782.9L719 783.5L718.1 783.6L717.2 783.9L716.3 783L715.4 783L714.5 783.5L713.6 782.6L712.7 783.6L711.8 783.4L710.9 782.3L710 782.9L709.1 782.8L708.2 783.4L707.3 782.6L706.3 782.9L705.4 782.7L704.5 783.4L703.6 782.3L702.7 783.2L701.8 782L700.9 782.7L700 783.3L699.1 782.2L698.2 783.2L697.3 783.5L696.4 783.6L695.5 782.7L694.6 784.1L693.7 783.9L692.7 783.4L691.8 783.3L690.9 783.1L690 783.3L689.1 783.1L688.2 783.1L687.3 782.9L686.4 783.1L685.5 782.3L684.6 783.6L683.7 782.9L682.8 782.6L681.9 783L681 783.2L680 782.9L679.1 783.3L678.2 783.8L677.3 783.7L676.4 782.8L675.5 783.9L674.6 782.2L673.7 783.2L672.8 783L671.9 782.7L671 782.4L670.1 783.5L669.2 783.9L668.3 784L667.3 784.2L666.4 783.1L665.5 783.7L664.6 783.5L663.7 782.7L662.8 783.7L661.9 784.1L661 783.2L660.1 783.6L659.2 783.3L658.3 783.6L657.4 783.7L656.5 782.9L655.6 782.4L654.7 783.9L653.7 782.2L652.7 782L651.8 783L650.8 782.3L649.9 782.6L648.9 782.6L648 783.9L647 783L646.1 783L645.1 783.2L644.2 783.5L643.2 781.9L642.3 782.4L641.3 783.2L640.4 783.4L639.4 783.3L638.5 782.4L637.5 783L636.6 784.2L635.7 783.9L634.7 783.9L633.8 782.9L632.9 782.9L631.9 782L631 783.4L630.1 782.4L629.2 782.1L628.3 782.8L627.4 782.9L626.5 783.9L625.6 783.6L624.7 782.5L623.8 782.4L622.9 782.7L622 782.7L621.1 783L620.1 783.4L619.2 781.7L618.3 781.7L617.4 782.3L616.5 782.7L615.6 783.1L614.7 782.8L613.7 783.2L612.8 783.5L611.9 782.8L611 783.1L610.1 782.7L609.1 783.1L608.2 783L607.3 783.7L606.4 783.3L605.4 784.7L604.5 783.7L603.6 784.8L602.7 784.4L601.8 784.4L600.8 784.3L599.9 784.3L599 783.7L598.1 784L597.2 784.5L596.2 784.2L595.3 783.7L594.4 784.6L593.5 782.9L592.5 784L591.6 783.8L590.7 783.3L589.8 782.8L588.9 782.4L587.9 783.1L587 782.1L586.1 783.2L585.2 783.6L584.3 783L583.3 783.6L582.4 783.4L581.5 782.9L580.6 783.3L579.7 782.8L578.7 783.9L577.8 784.4L576.9 783.8L576 783.5L575 784.1L574.1 784.4L573.2 784.2L572.3 784.2L571.4 783.7L570.4 783.7L569.5 783.5L568.6 784.8L567.7 784.7L566.8 784.7L565.8 784.9L564.9 783.9L564 784.6L563.1 784.7L562.1 783.4L561.2 784.4L560.3 784.1L559.4 784.3L558.5 784.5L557.5 783.7L556.6 783.3L555.7 783.4L554.8 783.5L553.9 783.6L552.9 782.2L552 783.6L551.1 783L550.2 784.3L549.3 784.3L548.3 783.9L547.4 782.9L546.5 783.5L545.6 783.1L544.6 783.3L543.7 782.4L542.8 783.9L541.9 783.7L541 784.4L540 784.5L539.1 784.2L538.1 783.5L537.2 784.6L536.2 784.4L535.3 783.5L534.3 784.4L533.4 784.7L532.4 784.4L531.5 785.1L530.5 784.2L529.6 783.4L528.6 784.9L527.7 783.9L526.7 784.6L525.8 785.5L524.9 786.1L524 785.4L523.1 784.5L522.1 785L521.2 784.7L520.3 784.5L519.4 785L518.5 784.3L517.5 785.1L516.6 785.1L515.7 785L514.8 785.5L513.9 784.5L513 784.1L512 785.6L511 785.6L510.1 785.4L509.1 785.1L508.1 784.9L507.1 784.7L506.2 784.3L505.2 784.3L504.2 784.6L503.3 783.5L502.3 785.8L501.3 785.5L500.4 784.3L499.4 784.8L498.6 783.5Z" fill="none" stroke="#ffa500" stroke-width="3.4" stroke-opacity="0.3" stroke-linejoin="round"/><path d="M498.6 774.8L499.4 770L500.4 769.1L501.3 768.4L502.3 768.3L503.3 769.1L504.2 768.2L505.2 767.5L506.2 768.1L507.1 768.3L508.1 769.2L509.1 768.2L510.1 768.5L511 768.2L512 768.1L513 768.8L513.9 767.9L514.8 768.9L515.7 769.4L516.6 768.2L517.5 769.6L518.5 769.6L519.4 768.5L520.3 768.6L521.2 769.2L522.1 768.5L523.1 768L524 768.5L524.9 768.4L525.8 768.6L526.7 766.6L527.7 768.2L528.6 766.8L529.6 765.3L530.5 766.4L531.5 765.2L532.4 765.5L533.4 765.8L534.3 764.8L535.3 765.4L536.2 764.5L537.2 764L538.1 764.7L539.1 763.7L540 763.8L541 764.6L541.9 763.6L542.8 764.3L543.7 764.9L544.6 764.2L545.6 764.5L546.5 763.5L547.4 764.1L548.3 764.6L549.3 763.6L550.2 765.2L551.1 764.1L552 764.1L552.9 764.1L553.9 764.3L554.8 764.3L555.7 764.3L556.6 764.3L557.5 763.9L558.5 764.3L559.4 764.8L560.3 763.6L561.2 764.5L562.1 764.2L563.1 764.7L564 763.7L564.9 764.2L565.8 764.8L566.8 765.4L567.7 764.7L568.6 764.8L569.5 764.9L570.4 765.1L571.4 763.9L572.3 764.7L573.2 764.4L574.1 764.9L575 765.2L576 764.9L576.9 764.9L577.8 765.2L578.7 765.2L579.7 763.8L580.6 765L581.5 764.7L582.4 763.9L583.3 765L584.3 764.7L585.2 764.6L586.1 764.4L587 764.7L587.9 764.9L588.9 765.2L589.8 764.6L590.7 764.8L591.6 764.9L592.5 764.7L593.5 764L594.4 764.4L595.3 764.4L596.2 766.7L597.2 764.9L598.1 764.8L599 763.9L599.9 763.7L600.8 765L601.8 765.7L602.7 765.4L603.6 765.4L604.5 765.3L605.4 765.2L606.4 765.7L607.3 765.7L608.2 765.7L609.1 765.6L610.1 766.5L611 765.9L611.9 765.8L612.8 765.4L613.7 765.7L614.7 765.9L615.6 765.1L616.5 765.7L617.4 766.1L618.3 766.4L619.2 766.8L620.1 765.8L621.1 766.3L622 766.7L622.9 765.7L623.8 765.6L624.7 765.5L625.6 765L626.5 766.6L627.4 766.5L628.3 766.6L629.2 765.8L630.1 766.2L631 766L631.9 765.7L632.9 765.9L633.8 765.5L634.7 765.5L635.7 765.4L636.6 765.8L637.5 766.2L638.5 766.7L639.4 765.6L640.4 766.5L641.3 766.2L642.3 765.9L643.2 766.4L644.2 765.2L645.1 764.8L646.1 766L647 765L648 764.8L648.9 765.4L649.9 765.5L650.8 764.2L651.8 764.5L652.7 765.3L653.7 765.4L654.7 765.7L655.6 766.3L656.5 766.3L657.4 765.5L658.3 765L659.2 766L660.1 765.7L661 765.6L661.9 765.6L662.8 766.4L663.7 766.7L664.6 766.3L665.5 767.5L666.4 768.3L667.3 767.1L668.3 766L669.2 766.2L670.1 766.4L671 766.8L671.9 765L672.8 766.3L673.7 765.3L674.6 764.7L675.5 765.2L676.4 765.2L677.3 765.9L678.2 766.6L679.1 766.8L680 766.1L681 765.6L681.9 766.2L682.8 766.1L683.7 765.6L684.6 766.1L685.5 765.4L686.4 765.6L687.3 766.2L688.2 765.9L689.1 766.6L690 766.3L690.9 766.3L691.8 766.3L692.7 765.4L693.7 767L694.6 767L695.5 766.6L696.4 766.2L697.3 766.8L698.2 766.8L699.1 766.5L700 766.3L700.9 767.4L701.8 766.8L702.7 767.5L703.6 766.7L704.5 765.7L705.4 766.5L706.3 766.5L707.3 766.6L708.2 766L709.1 765.9L710 766.9L710.9 765.7L711.8 766.7L712.7 766L713.6 767L714.5 766.7L715.4 765.7L716.3 766.4L717.2 766.9L718.1 768.1L719 766.7L720 766.9L720.9 767.2L721.8 766.7L722.7 766.4L723.6 766.5L724.5 766.1L725.4 766.2L726.3 766.8L727.2 767.2L728.1 766.4L729 765.6L729.9 765.7L730.8 766.9L731.7 766.8L732.7 767.3L733.6 766.9L734.5 767.4L735.4 767.8L736.3 767.2L737.2 767.1L738.1 767.2L739 766.6L739.9 767L740.8 767.6L741.7 767.8L742.6 767.1L743.5 766.7L744.4 767.8L745.3 767L746.3 767.5L747.2 768.1L748.1 767.4L749 766.6L749.9 766.9L750.8 767.2L751.7 768.1L752.6 766.8L753.5 767.2L754.4 767.3L755.3 766L756.2 767.3L757.1 766L758 768.2L759 767.3L759.9 767.7L760.8 767.1L761.7 767L762.6 768.3L763.5 767.9L764.4 768.5L765.3 767.5L766.2 767.2L767.1 767.6L768 768.7L769 767.8L769.9 769.1L770.8 767.4L771.7 768.7L772.6 767.8L773.5 766.9L774.4 767L775.3 768.2L776.3 766.2L777.2 767.4L778.1 767.7L779 767.8L779.9 768.4L780.8 768.9L781.7 769.5L782.6 768L783.5 769.6L783.5 783.4L782.6 783L781.7 783.6L780.8 784.5L779.9 783.3L779 782.9L778.1 782.6L777.2 783.4L776.3 782.5L775.3 782.4L774.4 783.3L773.5 783L772.6 782.7L771.7 783L770.8 781.9L769.9 783L769 783.2L768 783.8L767.1 783.4L766.2 784.3L765.3 784.3L764.4 784.4L763.5 784.2L762.6 783.1L761.7 784.2L760.8 784.5L759.9 783.5L759 783.7L758 784L757.1 783.7L756.2 782.9L755.3 783.4L754.4 783.5L753.5 783.8L752.6 783.2L751.7 784.3L750.8 783.2L749.9 782.9L749 783.2L748.1 783L747.2 783.4L746.3 782.7L745.3 783.4L744.4 783.2L743.5 784.3L742.6 783.5L741.7 784L740.8 782.8L739.9 784.1L739 783.5L738.1 783.2L737.2 783.6L736.3 783.3L735.4 783.5L734.5 783.2L733.6 782.6L732.7 781.7L731.7 782.7L730.8 782.3L729.9 783.8L729 783.1L728.1 783.8L727.2 784.7L726.3 784.2L725.4 783.9L724.5 783.5L723.6 782L722.7 783L721.8 783L720.9 783.5L720 782.9L719 783.5L718.1 783.6L717.2 783.9L716.3 783L715.4 783L714.5 783.5L713.6 782.6L712.7 783.6L711.8 783.4L710.9 782.3L710 782.9L709.1 782.8L708.2 783.4L707.3 782.6L706.3 782.9L705.4 782.7L704.5 783.4L703.6 782.3L702.7 783.2L701.8 782L700.9 782.7L700 783.3L699.1 782.2L698.2 783.2L697.3 783.5L696.4 783.6L695.5 782.7L694.6 784.1L693.7 783.9L692.7 783.4L691.8 783.3L690.9 783.1L690 783.3L689.1 783.1L688.2 783.1L687.3 782.9L686.4 783.1L685.5 782.3L684.6 783.6L683.7 782.9L682.8 782.6L681.9 783L681 783.2L680 782.9L679.1 783.3L678.2 783.8L677.3 783.7L676.4 782.8L675.5 783.9L674.6 782.2L673.7 783.2L672.8 783L671.9 782.7L671 782.4L670.1 783.5L669.2 783.9L668.3 784L667.3 784.2L666.4 783.1L665.5 783.7L664.6 783.5L663.7 782.7L662.8 783.7L661.9 784.1L661 783.2L660.1 783.6L659.2 783.3L658.3 783.6L657.4 783.7L656.5 782.9L655.6 782.4L654.7 783.9L653.7 782.2L652.7 782L651.8 783L650.8 782.3L649.9 782.6L648.9 782.6L648 783.9L647 783L646.1 783L645.1 783.2L644.2 783.5L643.2 781.9L642.3 782.4L641.3 783.2L640.4 783.4L639.4 783.3L638.5 782.4L637.5 783L636.6 784.2L635.7 783.9L634.7 783.9L633.8 782.9L632.9 782.9L631.9 782L631 783.4L630.1 782.4L629.2 782.1L628.3 782.8L627.4 782.9L626.5 783.9L625.6 783.6L624.7 782.5L623.8 782.4L622.9 782.7L622 782.7L621.1 783L620.1 783.4L619.2 781.7L618.3 781.7L617.4 782.3L616.5 782.7L615.6 783.1L614.7 782.8L613.7 783.2L612.8 783.5L611.9 782.8L611 783.1L610.1 782.7L609.1 783.1L608.2 783L607.3 783.7L606.4 783.3L605.4 784.7L604.5 783.7L603.6 784.8L602.7 784.4L601.8 784.4L600.8 784.3L599.9 784.3L599 783.7L598.1 784L597.2 784.5L596.2 784.2L595.3 783.7L594.4 784.6L593.5 782.9L592.5 784L591.6 783.8L590.7 783.3L589.8 782.8L588.9 782.4L587.9 783.1L587 782.1L586.1 783.2L585.2 783.6L584.3 783L583.3 783.6L582.4 783.4L581.5 782.9L580.6 783.3L579.7 782.8L578.7 783.9L577.8 784.4L576.9 783.8L576 783.5L575 784.1L574.1 784.4L573.2 784.2L572.3 784.2L571.4 783.7L570.4 783.7L569.5 783.5L568.6 784.8L567.7 784.7L566.8 784.7L565.8 784.9L564.9 783.9L564 784.6L563.1 784.7L562.1 783.4L561.2 784.4L560.3 784.1L559.4 784.3L558.5 784.5L557.5 783.7L556.6 783.3L555.7 783.4L554.8 783.5L553.9 783.6L552.9 782.2L552 783.6L551.1 783L550.2 784.3L549.3 784.3L548.3 783.9L547.4 782.9L546.5 783.5L545.6 783.1L544.6 783.3L543.7 782.4L542.8 783.9L541.9 783.7L541 784.4L540 784.5L539.1 784.2L538.1 783.5L537.2 784.6L536.2 784.4L535.3 783.5L534.3 784.4L533.4 784.7L532.4 784.4L531.5 785.1L530.5 784.2L529.6 783.4L528.6 784.9L527.7 783.9L526.7 784.6L525.8 785.5L524.9 786.1L524 785.4L523.1 784.5L522.1 785L521.2 784.7L520.3 784.5L519.4 785L518.5 784.3L517.5 785.1L516.6 785.1L515.7 785L514.8 785.5L513.9 784.5L513 784.1L512 785.6L511 785.6L510.1 785.4L509.1 785.1L508.1 784.9L507.1 784.7L506.2 784.3L505.2 784.3L504.2 784.6L503.3 783.5L502.3 785.8L501.3 785.5L500.4 784.3L499.4 784.8L498.6 783.5Z" fill="#ffa500" stroke="#ffa500" stroke-width="0.6" stroke-linejoin="round"/><rect x="495.2" y="780" width="4.4" height="3" fill="#ffa500"/><rect x="783.4" y="780" width="4.5" height="3" fill="#ffa500"/><path d="M632.4 768L633.2 755L633.8 737L634.1 727L634.1 691L635.5 689.3L636.9 691L636.9 726L637.8 728L638.1 737L638.4 755L639.4 768L639.4 771L632.4 771Z" fill="#ffa500"/><path d="M635.2 785.5L636.3 778.8L637.4 785.5Z" fill="#fff"/><path d="M635.5 685.9l1.6 1.6l-1.6 1.6l-1.6 -1.6Z" fill="#ffa500" fill-opacity="0.3"/></g>
<rect x="482.50" y="684.50" width="319.00" height="103.00" fill="none" stroke="#000" stroke-width="1.1"/>
<path d="M487.50 787.50v4.9M515.50 787.50v4.9M542.50 787.50v4.9M570.50 787.50v4.9M597.50 787.50v4.9M625.50 787.50v4.9M653.50 787.50v4.9M680.50 787.50v4.9M708.50 787.50v4.9M736.50 787.50v4.9M763.50 787.50v4.9M791.50 787.50v4.9M482.50 713.50h-4.9M482.50 781.50h-4.9" stroke="#000" stroke-width="1.1" fill="none"/>
<text x="487.40" y="806.95" font-size="14.15" text-anchor="middle" textLength="40.03" lengthAdjust="spacingAndGlyphs">21:00</text>
<text x="515.04" y="806.95" font-size="14.15" text-anchor="middle" textLength="40.03" lengthAdjust="spacingAndGlyphs">22:00</text>
<text x="542.67" y="806.95" font-size="14.15" text-anchor="middle" textLength="40.03" lengthAdjust="spacingAndGlyphs">23:00</text>
<text x="570.31" y="806.95" font-size="14.15" text-anchor="middle" textLength="40.03" lengthAdjust="spacingAndGlyphs">00:00</text>
<text x="597.95" y="806.95" font-size="14.15" text-anchor="middle" textLength="40.03" lengthAdjust="spacingAndGlyphs">01:00</text>
<text x="625.59" y="806.95" font-size="14.15" text-anchor="middle" textLength="40.03" lengthAdjust="spacingAndGlyphs">02:00</text>
<text x="653.22" y="806.95" font-size="14.15" text-anchor="middle" textLength="40.03" lengthAdjust="spacingAndGlyphs">03:00</text>
<text x="680.86" y="806.95" font-size="14.15" text-anchor="middle" textLength="40.03" lengthAdjust="spacingAndGlyphs">04:00</text>
<text x="708.50" y="806.95" font-size="14.15" text-anchor="middle" textLength="40.03" lengthAdjust="spacingAndGlyphs">05:00</text>
<text x="736.13" y="806.95" font-size="14.15" text-anchor="middle" textLength="40.03" lengthAdjust="spacingAndGlyphs">06:00</text>
<text x="763.77" y="806.95" font-size="14.15" text-anchor="middle" textLength="40.03" lengthAdjust="spacingAndGlyphs">07:00</text>
<text x="791.41" y="806.95" font-size="14.15" text-anchor="middle" textLength="40.03" lengthAdjust="spacingAndGlyphs">08:00</text>
<text x="471.10" y="718.40" font-size="14.15" text-anchor="end" textLength="26.51" lengthAdjust="spacingAndGlyphs">200</text>
<text x="472.60" y="786.40" font-size="14.15" text-anchor="end" textLength="8.84" lengthAdjust="spacingAndGlyphs">0</text>
<text x="641.00" y="674.90" font-size="16.95" text-anchor="middle" textLength="183.08" lengthAdjust="spacingAndGlyphs">NoRP 17GHz Stokes-V</text>
</g>
<g id="ax51">
<clipPath id="cp51"><rect x="482.50" y="846.50" width="319.00" height="103.00"/></clipPath>
<g clip-path="url(#cp51)"><path d="M499.5 858.5H532M499.5 862.4H538M499.5 866.3H538.5M499.5 870.1H539.2M499.5 874.4H539.2M499.5 879.4H782.6M499.5 883.3H782.6M499.5 887.2H782.6M499.5 891.4H782.6M495.2 895.3H787.9M499.5 899.6H782.6M499.5 903.4H782.6M499.5 907.3H782.6M499.5 912.3H782.6M499.5 916.2H782.6M499.5 920.4H539.2M499.5 924.3H539.2M499.5 928.6H539.2M499.5 932.4H538M499.5 936.3H533M499.5 940.6H530" stroke="#ffa500" stroke-width="3.0" fill="none"/><path d="M499.5 856.9l1.6 1.6l-1.6 1.6l-1.6 -1.6ZM499.5 860.8l1.6 1.6l-1.6 1.6l-1.6 -1.6ZM499.5 864.7l1.6 1.6l-1.6 1.6l-1.6 -1.6ZM499.5 868.5l1.6 1.6l-1.6 1.6l-1.6 -1.6ZM499.5 872.8l1.6 1.6l-1.6 1.6l-1.6 -1.6ZM499.5 877.8l1.6 1.6l-1.6 1.6l-1.6 -1.6ZM499.5 881.7l1.6 1.6l-1.6 1.6l-1.6 -1.6ZM499.5 885.6l1.6 1.6l-1.6 1.6l-1.6 -1.6ZM499.5 889.8l1.6 1.6l-1.6 1.6l-1.6 -1.6ZM499.5 898l1.6 1.6l-1.6 1.6l-1.6 -1.6ZM499.5 901.8l1.6 1.6l-1.6 1.6l-1.6 -1.6ZM499.5 905.7l1.6 1.6l-1.6 1.6l-1.6 -1.6ZM499.5 910.7l1.6 1.6l-1.6 1.6l-1.6 -1.6ZM499.5 914.6l1.6 1.6l-1.6 1.6l-1.6 -1.6ZM499.5 918.8l1.6 1.6l-1.6 1.6l-1.6 -1.6ZM499.5 922.7l1.6 1.6l-1.6 1.6l-1.6 -1.6ZM499.5 927l1.6 1.6l-1.6 1.6l-1.6 -1.6ZM499.5 930.8l1.6 1.6l-1.6 1.6l-1.6 -1.6ZM499.5 934.7l1.6 1.6l-1.6 1.6l-1.6 -1.6ZM499.5 939l1.6 1.6l-1.6 1.6l-1.6 -1.6ZM782.6 877.8l1.6 1.6l-1.6 1.6l-1.6 -1.6ZM782.6 881.7l1.6 1.6l-1.6 1.6l-1.6 -1.6ZM782.6 885.6l1.6 1.6l-1.6 1.6l-1.6 -1.6ZM782.6 889.8l1.6 1.6l-1.6 1.6l-1.6 -1.6ZM782.6 898l1.6 1.6l-1.6 1.6l-1.6 -1.6ZM782.6 901.8l1.6 1.6l-1.6 1.6l-1.6 -1.6ZM782.6 905.7l1.6 1.6l-1.6 1.6l-1.6 -1.6ZM782.6 910.7l1.6 1.6l-1.6 1.6l-1.6 -1.6ZM782.6 914.6l1.6 1.6l-1.6 1.6l-1.6 -1.6Z" fill="#ffa500" fill-opacity="1.0"/><path d="M539.1 872.9l1.6 1.6l-1.6 1.6l-1.6 -1.6ZM540.7 872.9l1.6 1.6l-1.6 1.6l-1.6 -1.6ZM542.4 872.9l1.6 1.6l-1.6 1.6l-1.6 -1.6ZM543.9 872.9l1.6 1.6l-1.6 1.6l-1.6 -1.6ZM545.8 872.9l1.6 1.6l-1.6 1.6l-1.6 -1.6ZM548.1 872.9l1.6 1.6l-1.6 1.6l-1.6 -1.6ZM549.1 872.9l1.6 1.6l-1.6 1.6l-1.6 -1.6ZM552.9 872.9l1.6 1.6l-1.6 1.6l-1.6 -1.6ZM554.5 872.9l1.6 1.6l-1.6 1.6l-1.6 -1.6ZM556.5 872.9l1.6 1.6l-1.6 1.6l-1.6 -1.6ZM557.8 872.9l1.6 1.6l-1.6 1.6l-1.6 -1.6ZM559.3 872.9l1.6 1.6l-1.6 1.6l-1.6 -1.6ZM561.4 872.9l1.6 1.6l-1.6 1.6l-1.6 -1.6ZM564.6 872.9l1.6 1.6l-1.6 1.6l-1.6 -1.6ZM566.8 872.9l1.6 1.6l-1.6 1.6l-1.6 -1.6ZM568.2 872.9l1.6 1.6l-1.6 1.6l-1.6 -1.6ZM569.5 872.9l1.6 1.6l-1.6 1.6l-1.6 -1.6ZM571.4 872.9l1.6 1.6l-1.6 1.6l-1.6 -1.6ZM572.9 872.9l1.6 1.6l-1.6 1.6l-1.6 -1.6ZM574.9 872.9l1.6 1.6l-1.6 1.6l-1.6 -1.6ZM576.3 872.9l1.6 1.6l-1.6 1.6l-1.6 -1.6ZM578.2 872.9l1.6 1.6l-1.6 1.6l-1.6 -1.6ZM580.4 872.9l1.6 1.6l-1.6 1.6l-1.6 -1.6ZM581.5 872.9l1.6 1.6l-1.6 1.6l-1.6 -1.6ZM583.2 872.9l1.6 1.6l-1.6 1.6l-1.6 -1.6ZM585.1 872.9l1.6 1.6l-1.6 1.6l-1.6 -1.6ZM586.9 872.9l1.6 1.6l-1.6 1.6l-1.6 -1.6ZM588.2 872.9l1.6 1.6l-1.6 1.6l-1.6 -1.6ZM589.9 872.9l1.6 1.6l-1.6 1.6l-1.6 -1.6ZM592.2 872.9l1.6 1.6l-1.6 1.6l-1.6 -1.6ZM594 872.9l1.6 1.6l-1.6 1.6l-1.6 -1.6ZM595.4 872.9l1.6 1.6l-1.6 1.6l-1.6 -1.6ZM597 872.9l1.6 1.6l-1.6 1.6l-1.6 -1.6ZM599 872.9l1.6 1.6l-1.6 1.6l-1.6 -1.6ZM600.7 872.9l1.6 1.6l-1.6 1.6l-1.6 -1.6ZM601.9 872.9l1.6 1.6l-1.6 1.6l-1.6 -1.6ZM604 872.9l1.6 1.6l-1.6 1.6l-1.6 -1.6ZM605.3 872.9l1.6 1.6l-1.6 1.6l-1.6 -1.6ZM607.3 872.9l1.6 1.6l-1.6 1.6l-1.6 -1.6ZM609.2 872.9l1.6 1.6l-1.6 1.6l-1.6 -1.6ZM610.8 872.9l1.6 1.6l-1.6 1.6l-1.6 -1.6ZM612.6 872.9l1.6 1.6l-1.6 1.6l-1.6 -1.6ZM614.4 872.9l1.6 1.6l-1.6 1.6l-1.6 -1.6ZM615.9 872.9l1.6 1.6l-1.6 1.6l-1.6 -1.6ZM617.8 872.9l1.6 1.6l-1.6 1.6l-1.6 -1.6ZM619.3 872.9l1.6 1.6l-1.6 1.6l-1.6 -1.6ZM621 872.9l1.6 1.6l-1.6 1.6l-1.6 -1.6ZM622.4 872.9l1.6 1.6l-1.6 1.6l-1.6 -1.6ZM623.8 872.9l1.6 1.6l-1.6 1.6l-1.6 -1.6ZM625.7 872.9l1.6 1.6l-1.6 1.6l-1.6 -1.6ZM627.4 872.9l1.6 1.6l-1.6 1.6l-1.6 -1.6ZM629.3 872.9l1.6 1.6l-1.6 1.6l-1.6 -1.6ZM631.2 872.9l1.6 1.6l-1.6 1.6l-1.6 -1.6ZM634.5 872.9l1.6 1.6l-1.6 1.6l-1.6 -1.6ZM636.5 872.9l1.6 1.6l-1.6 1.6l-1.6 -1.6ZM638.1 872.9l1.6 1.6l-1.6 1.6l-1.6 -1.6ZM639.5 872.9l1.6 1.6l-1.6 1.6l-1.6 -1.6ZM641.4 872.9l1.6 1.6l-1.6 1.6l-1.6 -1.6ZM642.8 872.9l1.6 1.6l-1.6 1.6l-1.6 -1.6ZM644.2 872.9l1.6 1.6l-1.6 1.6l-1.6 -1.6ZM645.9 872.9l1.6 1.6l-1.6 1.6l-1.6 -1.6ZM648.3 872.9l1.6 1.6l-1.6 1.6l-1.6 -1.6ZM649.3 872.9l1.6 1.6l-1.6 1.6l-1.6 -1.6ZM651.3 872.9l1.6 1.6l-1.6 1.6l-1.6 -1.6ZM652.9 872.9l1.6 1.6l-1.6 1.6l-1.6 -1.6ZM655.2 872.9l1.6 1.6l-1.6 1.6l-1.6 -1.6ZM656.7 872.9l1.6 1.6l-1.6 1.6l-1.6 -1.6ZM658.3 872.9l1.6 1.6l-1.6 1.6l-1.6 -1.6ZM660.1 872.9l1.6 1.6l-1.6 1.6l-1.6 -1.6ZM661.2 872.9l1.6 1.6l-1.6 1.6l-1.6 -1.6ZM664.8 872.9l1.6 1.6l-1.6 1.6l-1.6 -1.6ZM666.3 872.9l1.6 1.6l-1.6 1.6l-1.6 -1.6ZM668 872.9l1.6 1.6l-1.6 1.6l-1.6 -1.6ZM669.9 872.9l1.6 1.6l-1.6 1.6l-1.6 -1.6ZM671.5 872.9l1.6 1.6l-1.6 1.6l-1.6 -1.6ZM673.1 872.9l1.6 1.6l-1.6 1.6l-1.6 -1.6ZM675.5 872.9l1.6 1.6l-1.6 1.6l-1.6 -1.6ZM676.6 872.9l1.6 1.6l-1.6 1.6l-1.6 -1.6ZM678.3 872.9l1.6 1.6l-1.6 1.6l-1.6 -1.6ZM679.9 872.9l1.6 1.6l-1.6 1.6l-1.6 -1.6ZM682 872.9l1.6 1.6l-1.6 1.6l-1.6 -1.6ZM683.7 872.9l1.6 1.6l-1.6 1.6l-1.6 -1.6ZM685.7 872.9l1.6 1.6l-1.6 1.6l-1.6 -1.6ZM687.1 872.9l1.6 1.6l-1.6 1.6l-1.6 -1.6ZM688.6 872.9l1.6 1.6l-1.6 1.6l-1.6 -1.6ZM690.5 872.9l1.6 1.6l-1.6 1.6l-1.6 -1.6ZM692.1 872.9l1.6 1.6l-1.6 1.6l-1.6 -1.6ZM695.3 872.9l1.6 1.6l-1.6 1.6l-1.6 -1.6ZM699.1 872.9l1.6 1.6l-1.6 1.6l-1.6 -1.6ZM700.5 872.9l1.6 1.6l-1.6 1.6l-1.6 -1.6ZM702.7 872.9l1.6 1.6l-1.6 1.6l-1.6 -1.6ZM704.3 872.9l1.6 1.6l-1.6 1.6l-1.6 -1.6ZM705.6 872.9l1.6 1.6l-1.6 1.6l-1.6 -1.6ZM707.8 872.9l1.6 1.6l-1.6 1.6l-1.6 -1.6ZM708.8 872.9l1.6 1.6l-1.6 1.6l-1.6 -1.6ZM710.6 872.9l1.6 1.6l-1.6 1.6l-1.6 -1.6ZM712.6 872.9l1.6 1.6l-1.6 1.6l-1.6 -1.6ZM714.1 872.9l1.6 1.6l-1.6 1.6l-1.6 -1.6ZM715.8 872.9l1.6 1.6l-1.6 1.6l-1.6 -1.6ZM717.7 872.9l1.6 1.6l-1.6 1.6l-1.6 -1.6ZM719.5 872.9l1.6 1.6l-1.6 1.6l-1.6 -1.6ZM721.4 872.9l1.6 1.6l-1.6 1.6l-1.6 -1.6ZM722.6 872.9l1.6 1.6l-1.6 1.6l-1.6 -1.6ZM724.1 872.9l1.6 1.6l-1.6 1.6l-1.6 -1.6ZM726.4 872.9l1.6 1.6l-1.6 1.6l-1.6 -1.6ZM728 872.9l1.6 1.6l-1.6 1.6l-1.6 -1.6ZM729.9 872.9l1.6 1.6l-1.6 1.6l-1.6 -1.6ZM731.2 872.9l1.6 1.6l-1.6 1.6l-1.6 -1.6ZM732.9 872.9l1.6 1.6l-1.6 1.6l-1.6 -1.6ZM734.6 872.9l1.6 1.6l-1.6 1.6l-1.6 -1.6ZM736.6 872.9l1.6 1.6l-1.6 1.6l-1.6 -1.6ZM738.2 872.9l1.6 1.6l-1.6 1.6l-1.6 -1.6ZM739.9 872.9l1.6 1.6l-1.6 1.6l-1.6 -1.6ZM741.2 872.9l1.6 1.6l-1.6 1.6l-1.6 -1.6ZM742.9 872.9l1.6 1.6l-1.6 1.6l-1.6 -1.6ZM745 872.9l1.6 1.6l-1.6 1.6l-1.6 -1.6ZM746.6 872.9l1.6 1.6l-1.6 1.6l-1.6 -1.6ZM748.4 872.9l1.6 1.6l-1.6 1.6l-1.6 -1.6ZM749.9 872.9l1.6 1.6l-1.6 1.6l-1.6 -1.6ZM751.7 872.9l1.6 1.6l-1.6 1.6l-1.6 -1.6ZM753.1 872.9l1.6 1.6l-1.6 1.6l-1.6 -1.6ZM755.1 872.9l1.6 1.6l-1.6 1.6l-1.6 -1.6ZM756.6 872.9l1.6 1.6l-1.6 1.6l-1.6 -1.6ZM760.3 872.9l1.6 1.6l-1.6 1.6l-1.6 -1.6ZM761.6 872.9l1.6 1.6l-1.6 1.6l-1.6 -1.6ZM763.4 872.9l1.6 1.6l-1.6 1.6l-1.6 -1.6ZM765 872.9l1.6 1.6l-1.6 1.6l-1.6 -1.6ZM767.4 872.9l1.6 1.6l-1.6 1.6l-1.6 -1.6ZM768.5 872.9l1.6 1.6l-1.6 1.6l-1.6 -1.6ZM770.8 872.9l1.6 1.6l-1.6 1.6l-1.6 -1.6ZM771.9 872.9l1.6 1.6l-1.6 1.6l-1.6 -1.6ZM773.9 872.9l1.6 1.6l-1.6 1.6l-1.6 -1.6ZM775.7 872.9l1.6 1.6l-1.6 1.6l-1.6 -1.6ZM777.5 872.9l1.6 1.6l-1.6 1.6l-1.6 -1.6ZM778.6 872.9l1.6 1.6l-1.6 1.6l-1.6 -1.6ZM780.9 872.9l1.6 1.6l-1.6 1.6l-1.6 -1.6ZM782.6 872.9l1.6 1.6l-1.6 1.6l-1.6 -1.6Z" fill="#ffa500" fill-opacity="0.9"/><path d="M539.3 918.9l1.6 1.6l-1.6 1.6l-1.6 -1.6ZM541.2 918.9l1.6 1.6l-1.6 1.6l-1.6 -1.6ZM542.9 918.9l1.6 1.6l-1.6 1.6l-1.6 -1.6ZM544.2 918.9l1.6 1.6l-1.6 1.6l-1.6 -1.6ZM547.4 918.9l1.6 1.6l-1.6 1.6l-1.6 -1.6ZM549.3 918.9l1.6 1.6l-1.6 1.6l-1.6 -1.6ZM551.4 918.9l1.6 1.6l-1.6 1.6l-1.6 -1.6ZM553 918.9l1.6 1.6l-1.6 1.6l-1.6 -1.6ZM554.5 918.9l1.6 1.6l-1.6 1.6l-1.6 -1.6ZM556.4 918.9l1.6 1.6l-1.6 1.6l-1.6 -1.6ZM557.9 918.9l1.6 1.6l-1.6 1.6l-1.6 -1.6ZM559.3 918.9l1.6 1.6l-1.6 1.6l-1.6 -1.6ZM561.3 918.9l1.6 1.6l-1.6 1.6l-1.6 -1.6ZM563.1 918.9l1.6 1.6l-1.6 1.6l-1.6 -1.6ZM565 918.9l1.6 1.6l-1.6 1.6l-1.6 -1.6ZM566.3 918.9l1.6 1.6l-1.6 1.6l-1.6 -1.6ZM567.9 918.9l1.6 1.6l-1.6 1.6l-1.6 -1.6ZM569.6 918.9l1.6 1.6l-1.6 1.6l-1.6 -1.6ZM571.1 918.9l1.6 1.6l-1.6 1.6l-1.6 -1.6ZM572.9 918.9l1.6 1.6l-1.6 1.6l-1.6 -1.6ZM574.6 918.9l1.6 1.6l-1.6 1.6l-1.6 -1.6ZM576.3 918.9l1.6 1.6l-1.6 1.6l-1.6 -1.6ZM578.4 918.9l1.6 1.6l-1.6 1.6l-1.6 -1.6ZM580.1 918.9l1.6 1.6l-1.6 1.6l-1.6 -1.6ZM581.8 918.9l1.6 1.6l-1.6 1.6l-1.6 -1.6ZM583.3 918.9l1.6 1.6l-1.6 1.6l-1.6 -1.6ZM584.8 918.9l1.6 1.6l-1.6 1.6l-1.6 -1.6ZM588.1 918.9l1.6 1.6l-1.6 1.6l-1.6 -1.6ZM589.8 918.9l1.6 1.6l-1.6 1.6l-1.6 -1.6ZM591.7 918.9l1.6 1.6l-1.6 1.6l-1.6 -1.6ZM593.5 918.9l1.6 1.6l-1.6 1.6l-1.6 -1.6ZM595.1 918.9l1.6 1.6l-1.6 1.6l-1.6 -1.6ZM596.9 918.9l1.6 1.6l-1.6 1.6l-1.6 -1.6ZM598.9 918.9l1.6 1.6l-1.6 1.6l-1.6 -1.6ZM600.3 918.9l1.6 1.6l-1.6 1.6l-1.6 -1.6ZM602.2 918.9l1.6 1.6l-1.6 1.6l-1.6 -1.6ZM605.6 918.9l1.6 1.6l-1.6 1.6l-1.6 -1.6ZM607.2 918.9l1.6 1.6l-1.6 1.6l-1.6 -1.6ZM609.3 918.9l1.6 1.6l-1.6 1.6l-1.6 -1.6ZM610.9 918.9l1.6 1.6l-1.6 1.6l-1.6 -1.6ZM612 918.9l1.6 1.6l-1.6 1.6l-1.6 -1.6ZM613.8 918.9l1.6 1.6l-1.6 1.6l-1.6 -1.6ZM616 918.9l1.6 1.6l-1.6 1.6l-1.6 -1.6ZM617.5 918.9l1.6 1.6l-1.6 1.6l-1.6 -1.6ZM619.2 918.9l1.6 1.6l-1.6 1.6l-1.6 -1.6ZM621 918.9l1.6 1.6l-1.6 1.6l-1.6 -1.6ZM622.9 918.9l1.6 1.6l-1.6 1.6l-1.6 -1.6ZM624.5 918.9l1.6 1.6l-1.6 1.6l-1.6 -1.6ZM625.9 918.9l1.6 1.6l-1.6 1.6l-1.6 -1.6ZM627.4 918.9l1.6 1.6l-1.6 1.6l-1.6 -1.6ZM629.6 918.9l1.6 1.6l-1.6 1.6l-1.6 -1.6ZM631 918.9l1.6 1.6l-1.6 1.6l-1.6 -1.6ZM632.9 918.9l1.6 1.6l-1.6 1.6l-1.6 -1.6ZM634 918.9l1.6 1.6l-1.6 1.6l-1.6 -1.6ZM636.1 918.9l1.6 1.6l-1.6 1.6l-1.6 -1.6ZM638.2 918.9l1.6 1.6l-1.6 1.6l-1.6 -1.6ZM639.2 918.9l1.6 1.6l-1.6 1.6l-1.6 -1.6ZM640.9 918.9l1.6 1.6l-1.6 1.6l-1.6 -1.6ZM642.9 918.9l1.6 1.6l-1.6 1.6l-1.6 -1.6ZM644.8 918.9l1.6 1.6l-1.6 1.6l-1.6 -1.6ZM646.1 918.9l1.6 1.6l-1.6 1.6l-1.6 -1.6ZM648.2 918.9l1.6 1.6l-1.6 1.6l-1.6 -1.6ZM649.9 918.9l1.6 1.6l-1.6 1.6l-1.6 -1.6ZM654.5 918.9l1.6 1.6l-1.6 1.6l-1.6 -1.6ZM656.5 918.9l1.6 1.6l-1.6 1.6l-1.6 -1.6ZM658 918.9l1.6 1.6l-1.6 1.6l-1.6 -1.6ZM660.3 918.9l1.6 1.6l-1.6 1.6l-1.6 -1.6ZM661.5 918.9l1.6 1.6l-1.6 1.6l-1.6 -1.6ZM663.5 918.9l1.6 1.6l-1.6 1.6l-1.6 -1.6ZM665.2 918.9l1.6 1.6l-1.6 1.6l-1.6 -1.6ZM666.5 918.9l1.6 1.6l-1.6 1.6l-1.6 -1.6ZM668.6 918.9l1.6 1.6l-1.6 1.6l-1.6 -1.6ZM670.4 918.9l1.6 1.6l-1.6 1.6l-1.6 -1.6ZM671.6 918.9l1.6 1.6l-1.6 1.6l-1.6 -1.6ZM673.2 918.9l1.6 1.6l-1.6 1.6l-1.6 -1.6ZM675 918.9l1.6 1.6l-1.6 1.6l-1.6 -1.6ZM677 918.9l1.6 1.6l-1.6 1.6l-1.6 -1.6ZM678.3 918.9l1.6 1.6l-1.6 1.6l-1.6 -1.6ZM680.2 918.9l1.6 1.6l-1.6 1.6l-1.6 -1.6ZM682.3 918.9l1.6 1.6l-1.6 1.6l-1.6 -1.6ZM683.4 918.9l1.6 1.6l-1.6 1.6l-1.6 -1.6ZM685.1 918.9l1.6 1.6l-1.6 1.6l-1.6 -1.6ZM686.9 918.9l1.6 1.6l-1.6 1.6l-1.6 -1.6ZM688.8 918.9l1.6 1.6l-1.6 1.6l-1.6 -1.6ZM690.7 918.9l1.6 1.6l-1.6 1.6l-1.6 -1.6ZM692 918.9l1.6 1.6l-1.6 1.6l-1.6 -1.6ZM693.6 918.9l1.6 1.6l-1.6 1.6l-1.6 -1.6ZM695.9 918.9l1.6 1.6l-1.6 1.6l-1.6 -1.6ZM697.4 918.9l1.6 1.6l-1.6 1.6l-1.6 -1.6ZM699.1 918.9l1.6 1.6l-1.6 1.6l-1.6 -1.6ZM700.7 918.9l1.6 1.6l-1.6 1.6l-1.6 -1.6ZM702.8 918.9l1.6 1.6l-1.6 1.6l-1.6 -1.6ZM703.9 918.9l1.6 1.6l-1.6 1.6l-1.6 -1.6ZM706 918.9l1.6 1.6l-1.6 1.6l-1.6 -1.6ZM707.4 918.9l1.6 1.6l-1.6 1.6l-1.6 -1.6ZM709.3 918.9l1.6 1.6l-1.6 1.6l-1.6 -1.6ZM710.5 918.9l1.6 1.6l-1.6 1.6l-1.6 -1.6ZM712.7 918.9l1.6 1.6l-1.6 1.6l-1.6 -1.6ZM714.4 918.9l1.6 1.6l-1.6 1.6l-1.6 -1.6ZM715.8 918.9l1.6 1.6l-1.6 1.6l-1.6 -1.6ZM718 918.9l1.6 1.6l-1.6 1.6l-1.6 -1.6ZM719.7 918.9l1.6 1.6l-1.6 1.6l-1.6 -1.6ZM721.1 918.9l1.6 1.6l-1.6 1.6l-1.6 -1.6ZM724.5 918.9l1.6 1.6l-1.6 1.6l-1.6 -1.6ZM726.1 918.9l1.6 1.6l-1.6 1.6l-1.6 -1.6ZM728 918.9l1.6 1.6l-1.6 1.6l-1.6 -1.6ZM731.6 918.9l1.6 1.6l-1.6 1.6l-1.6 -1.6ZM732.7 918.9l1.6 1.6l-1.6 1.6l-1.6 -1.6ZM734.9 918.9l1.6 1.6l-1.6 1.6l-1.6 -1.6ZM736.1 918.9l1.6 1.6l-1.6 1.6l-1.6 -1.6ZM738.4 918.9l1.6 1.6l-1.6 1.6l-1.6 -1.6ZM740 918.9l1.6 1.6l-1.6 1.6l-1.6 -1.6ZM741.2 918.9l1.6 1.6l-1.6 1.6l-1.6 -1.6ZM743 918.9l1.6 1.6l-1.6 1.6l-1.6 -1.6ZM744.9 918.9l1.6 1.6l-1.6 1.6l-1.6 -1.6ZM746.9 918.9l1.6 1.6l-1.6 1.6l-1.6 -1.6ZM748.7 918.9l1.6 1.6l-1.6 1.6l-1.6 -1.6ZM751.8 918.9l1.6 1.6l-1.6 1.6l-1.6 -1.6ZM755 918.9l1.6 1.6l-1.6 1.6l-1.6 -1.6ZM756.5 918.9l1.6 1.6l-1.6 1.6l-1.6 -1.6ZM758.8 918.9l1.6 1.6l-1.6 1.6l-1.6 -1.6ZM759.8 918.9l1.6 1.6l-1.6 1.6l-1.6 -1.6ZM762.2 918.9l1.6 1.6l-1.6 1.6l-1.6 -1.6ZM764.9 918.9l1.6 1.6l-1.6 1.6l-1.6 -1.6ZM767.2 918.9l1.6 1.6l-1.6 1.6l-1.6 -1.6ZM768.7 918.9l1.6 1.6l-1.6 1.6l-1.6 -1.6ZM770.8 918.9l1.6 1.6l-1.6 1.6l-1.6 -1.6ZM772.4 918.9l1.6 1.6l-1.6 1.6l-1.6 -1.6ZM773.7 918.9l1.6 1.6l-1.6 1.6l-1.6 -1.6ZM775.2 918.9l1.6 1.6l-1.6 1.6l-1.6 -1.6ZM777.1 918.9l1.6 1.6l-1.6 1.6l-1.6 -1.6ZM779.2 918.9l1.6 1.6l-1.6 1.6l-1.6 -1.6ZM780.8 918.9l1.6 1.6l-1.6 1.6l-1.6 -1.6ZM782.1 918.9l1.6 1.6l-1.6 1.6l-1.6 -1.6Z" fill="#ffa500" fill-opacity="0.9"/><path d="M538.9 868.6l1.6 1.6l-1.6 1.6l-1.6 -1.6ZM542.3 868.6l1.6 1.6l-1.6 1.6l-1.6 -1.6ZM546.4 868.6l1.6 1.6l-1.6 1.6l-1.6 -1.6ZM547.8 868.6l1.6 1.6l-1.6 1.6l-1.6 -1.6ZM551.4 868.6l1.6 1.6l-1.6 1.6l-1.6 -1.6ZM552.8 868.6l1.6 1.6l-1.6 1.6l-1.6 -1.6ZM561.5 868.6l1.6 1.6l-1.6 1.6l-1.6 -1.6ZM569.9 868.6l1.6 1.6l-1.6 1.6l-1.6 -1.6ZM571.4 868.6l1.6 1.6l-1.6 1.6l-1.6 -1.6ZM574.8 868.6l1.6 1.6l-1.6 1.6l-1.6 -1.6ZM581.5 868.6l1.6 1.6l-1.6 1.6l-1.6 -1.6ZM583.1 868.6l1.6 1.6l-1.6 1.6l-1.6 -1.6ZM585.3 868.6l1.6 1.6l-1.6 1.6l-1.6 -1.6ZM588.7 868.6l1.6 1.6l-1.6 1.6l-1.6 -1.6ZM590.2 868.6l1.6 1.6l-1.6 1.6l-1.6 -1.6ZM591.7 868.6l1.6 1.6l-1.6 1.6l-1.6 -1.6ZM600.2 868.6l1.6 1.6l-1.6 1.6l-1.6 -1.6ZM603.8 868.6l1.6 1.6l-1.6 1.6l-1.6 -1.6ZM607 868.6l1.6 1.6l-1.6 1.6l-1.6 -1.6ZM608.9 868.6l1.6 1.6l-1.6 1.6l-1.6 -1.6ZM610.7 868.6l1.6 1.6l-1.6 1.6l-1.6 -1.6ZM612.5 868.6l1.6 1.6l-1.6 1.6l-1.6 -1.6ZM621.1 868.6l1.6 1.6l-1.6 1.6l-1.6 -1.6ZM622.2 868.6l1.6 1.6l-1.6 1.6l-1.6 -1.6ZM625.9 868.6l1.6 1.6l-1.6 1.6l-1.6 -1.6ZM629.3 868.6l1.6 1.6l-1.6 1.6l-1.6 -1.6ZM631.2 868.6l1.6 1.6l-1.6 1.6l-1.6 -1.6ZM634.4 868.6l1.6 1.6l-1.6 1.6l-1.6 -1.6ZM636.2 868.6l1.6 1.6l-1.6 1.6l-1.6 -1.6ZM639.6 868.6l1.6 1.6l-1.6 1.6l-1.6 -1.6ZM641.5 868.6l1.6 1.6l-1.6 1.6l-1.6 -1.6ZM642.8 868.6l1.6 1.6l-1.6 1.6l-1.6 -1.6ZM644.6 868.6l1.6 1.6l-1.6 1.6l-1.6 -1.6ZM646 868.6l1.6 1.6l-1.6 1.6l-1.6 -1.6ZM652.9 868.6l1.6 1.6l-1.6 1.6l-1.6 -1.6ZM654.5 868.6l1.6 1.6l-1.6 1.6l-1.6 -1.6ZM660.2 868.6l1.6 1.6l-1.6 1.6l-1.6 -1.6ZM668.3 868.6l1.6 1.6l-1.6 1.6l-1.6 -1.6ZM675 868.6l1.6 1.6l-1.6 1.6l-1.6 -1.6ZM690.7 868.6l1.6 1.6l-1.6 1.6l-1.6 -1.6ZM693.6 868.6l1.6 1.6l-1.6 1.6l-1.6 -1.6ZM696.9 868.6l1.6 1.6l-1.6 1.6l-1.6 -1.6ZM698.9 868.6l1.6 1.6l-1.6 1.6l-1.6 -1.6ZM700.4 868.6l1.6 1.6l-1.6 1.6l-1.6 -1.6ZM705.8 868.6l1.6 1.6l-1.6 1.6l-1.6 -1.6ZM711 868.6l1.6 1.6l-1.6 1.6l-1.6 -1.6ZM712.3 868.6l1.6 1.6l-1.6 1.6l-1.6 -1.6ZM719 868.6l1.6 1.6l-1.6 1.6l-1.6 -1.6ZM721 868.6l1.6 1.6l-1.6 1.6l-1.6 -1.6ZM723.1 868.6l1.6 1.6l-1.6 1.6l-1.6 -1.6ZM727.9 868.6l1.6 1.6l-1.6 1.6l-1.6 -1.6ZM730 868.6l1.6 1.6l-1.6 1.6l-1.6 -1.6ZM732.9 868.6l1.6 1.6l-1.6 1.6l-1.6 -1.6ZM738.2 868.6l1.6 1.6l-1.6 1.6l-1.6 -1.6ZM743.3 868.6l1.6 1.6l-1.6 1.6l-1.6 -1.6ZM746.4 868.6l1.6 1.6l-1.6 1.6l-1.6 -1.6ZM748.4 868.6l1.6 1.6l-1.6 1.6l-1.6 -1.6ZM753.8 868.6l1.6 1.6l-1.6 1.6l-1.6 -1.6ZM755.3 868.6l1.6 1.6l-1.6 1.6l-1.6 -1.6ZM756.5 868.6l1.6 1.6l-1.6 1.6l-1.6 -1.6ZM760.5 868.6l1.6 1.6l-1.6 1.6l-1.6 -1.6ZM761.6 868.6l1.6 1.6l-1.6 1.6l-1.6 -1.6ZM763.6 868.6l1.6 1.6l-1.6 1.6l-1.6 -1.6ZM765 868.6l1.6 1.6l-1.6 1.6l-1.6 -1.6ZM772 868.6l1.6 1.6l-1.6 1.6l-1.6 -1.6ZM774 868.6l1.6 1.6l-1.6 1.6l-1.6 -1.6ZM775.7 868.6l1.6 1.6l-1.6 1.6l-1.6 -1.6ZM777 868.6l1.6 1.6l-1.6 1.6l-1.6 -1.6ZM780.9 868.6l1.6 1.6l-1.6 1.6l-1.6 -1.6Z" fill="#ffa500" fill-opacity="0.38"/><path d="M540.8 922.8l1.6 1.6l-1.6 1.6l-1.6 -1.6ZM542.5 922.8l1.6 1.6l-1.6 1.6l-1.6 -1.6ZM545.6 922.8l1.6 1.6l-1.6 1.6l-1.6 -1.6ZM547.4 922.8l1.6 1.6l-1.6 1.6l-1.6 -1.6ZM549.3 922.8l1.6 1.6l-1.6 1.6l-1.6 -1.6ZM550.8 922.8l1.6 1.6l-1.6 1.6l-1.6 -1.6ZM556.4 922.8l1.6 1.6l-1.6 1.6l-1.6 -1.6ZM559.9 922.8l1.6 1.6l-1.6 1.6l-1.6 -1.6ZM563 922.8l1.6 1.6l-1.6 1.6l-1.6 -1.6ZM564.5 922.8l1.6 1.6l-1.6 1.6l-1.6 -1.6ZM571.5 922.8l1.6 1.6l-1.6 1.6l-1.6 -1.6ZM582 922.8l1.6 1.6l-1.6 1.6l-1.6 -1.6ZM583.5 922.8l1.6 1.6l-1.6 1.6l-1.6 -1.6ZM586.6 922.8l1.6 1.6l-1.6 1.6l-1.6 -1.6ZM602.4 922.8l1.6 1.6l-1.6 1.6l-1.6 -1.6ZM603.6 922.8l1.6 1.6l-1.6 1.6l-1.6 -1.6ZM608.9 922.8l1.6 1.6l-1.6 1.6l-1.6 -1.6ZM610.8 922.8l1.6 1.6l-1.6 1.6l-1.6 -1.6ZM612.7 922.8l1.6 1.6l-1.6 1.6l-1.6 -1.6ZM623.8 922.8l1.6 1.6l-1.6 1.6l-1.6 -1.6ZM625.9 922.8l1.6 1.6l-1.6 1.6l-1.6 -1.6ZM629 922.8l1.6 1.6l-1.6 1.6l-1.6 -1.6ZM630.6 922.8l1.6 1.6l-1.6 1.6l-1.6 -1.6ZM633.1 922.8l1.6 1.6l-1.6 1.6l-1.6 -1.6ZM635.8 922.8l1.6 1.6l-1.6 1.6l-1.6 -1.6ZM639.3 922.8l1.6 1.6l-1.6 1.6l-1.6 -1.6ZM647.6 922.8l1.6 1.6l-1.6 1.6l-1.6 -1.6ZM656.2 922.8l1.6 1.6l-1.6 1.6l-1.6 -1.6ZM666.7 922.8l1.6 1.6l-1.6 1.6l-1.6 -1.6ZM668.5 922.8l1.6 1.6l-1.6 1.6l-1.6 -1.6ZM675.4 922.8l1.6 1.6l-1.6 1.6l-1.6 -1.6ZM681.9 922.8l1.6 1.6l-1.6 1.6l-1.6 -1.6ZM685.8 922.8l1.6 1.6l-1.6 1.6l-1.6 -1.6ZM697.6 922.8l1.6 1.6l-1.6 1.6l-1.6 -1.6ZM704.2 922.8l1.6 1.6l-1.6 1.6l-1.6 -1.6ZM709.5 922.8l1.6 1.6l-1.6 1.6l-1.6 -1.6ZM711.2 922.8l1.6 1.6l-1.6 1.6l-1.6 -1.6ZM712.6 922.8l1.6 1.6l-1.6 1.6l-1.6 -1.6ZM713.9 922.8l1.6 1.6l-1.6 1.6l-1.6 -1.6ZM715.7 922.8l1.6 1.6l-1.6 1.6l-1.6 -1.6ZM717.5 922.8l1.6 1.6l-1.6 1.6l-1.6 -1.6ZM719.4 922.8l1.6 1.6l-1.6 1.6l-1.6 -1.6ZM729.5 922.8l1.6 1.6l-1.6 1.6l-1.6 -1.6ZM731.2 922.8l1.6 1.6l-1.6 1.6l-1.6 -1.6ZM740 922.8l1.6 1.6l-1.6 1.6l-1.6 -1.6ZM746.9 922.8l1.6 1.6l-1.6 1.6l-1.6 -1.6ZM748.2 922.8l1.6 1.6l-1.6 1.6l-1.6 -1.6ZM749.8 922.8l1.6 1.6l-1.6 1.6l-1.6 -1.6ZM753.4 922.8l1.6 1.6l-1.6 1.6l-1.6 -1.6ZM755.1 922.8l1.6 1.6l-1.6 1.6l-1.6 -1.6ZM758.2 922.8l1.6 1.6l-1.6 1.6l-1.6 -1.6ZM760 922.8l1.6 1.6l-1.6 1.6l-1.6 -1.6ZM768.3 922.8l1.6 1.6l-1.6 1.6l-1.6 -1.6ZM770.6 922.8l1.6 1.6l-1.6 1.6l-1.6 -1.6ZM774.1 922.8l1.6 1.6l-1.6 1.6l-1.6 -1.6Z" fill="#ffa500" fill-opacity="0.34"/><path d="M551.1 864.7l1.6 1.6l-1.6 1.6l-1.6 -1.6ZM576.3 864.7l1.6 1.6l-1.6 1.6l-1.6 -1.6ZM582 864.7l1.6 1.6l-1.6 1.6l-1.6 -1.6ZM600.1 864.7l1.6 1.6l-1.6 1.6l-1.6 -1.6ZM603.5 864.7l1.6 1.6l-1.6 1.6l-1.6 -1.6ZM625.6 864.7l1.6 1.6l-1.6 1.6l-1.6 -1.6ZM634.5 864.7l1.6 1.6l-1.6 1.6l-1.6 -1.6ZM657.9 864.7l1.6 1.6l-1.6 1.6l-1.6 -1.6ZM687.4 864.7l1.6 1.6l-1.6 1.6l-1.6 -1.6ZM699 864.7l1.6 1.6l-1.6 1.6l-1.6 -1.6ZM729.3 864.7l1.6 1.6l-1.6 1.6l-1.6 -1.6ZM736.1 864.7l1.6 1.6l-1.6 1.6l-1.6 -1.6ZM738.2 864.7l1.6 1.6l-1.6 1.6l-1.6 -1.6ZM763.5 864.7l1.6 1.6l-1.6 1.6l-1.6 -1.6ZM773.9 864.7l1.6 1.6l-1.6 1.6l-1.6 -1.6ZM777.2 864.7l1.6 1.6l-1.6 1.6l-1.6 -1.6Z" fill="#ffa500" fill-opacity="0.25"/><path d="M542.8 927l1.6 1.6l-1.6 1.6l-1.6 -1.6ZM548 927l1.6 1.6l-1.6 1.6l-1.6 -1.6ZM551.1 927l1.6 1.6l-1.6 1.6l-1.6 -1.6ZM581.7 927l1.6 1.6l-1.6 1.6l-1.6 -1.6ZM585.5 927l1.6 1.6l-1.6 1.6l-1.6 -1.6ZM587.2 927l1.6 1.6l-1.6 1.6l-1.6 -1.6ZM600.5 927l1.6 1.6l-1.6 1.6l-1.6 -1.6ZM622.3 927l1.6 1.6l-1.6 1.6l-1.6 -1.6ZM657.8 927l1.6 1.6l-1.6 1.6l-1.6 -1.6ZM699 927l1.6 1.6l-1.6 1.6l-1.6 -1.6ZM707.8 927l1.6 1.6l-1.6 1.6l-1.6 -1.6ZM711 927l1.6 1.6l-1.6 1.6l-1.6 -1.6ZM719.2 927l1.6 1.6l-1.6 1.6l-1.6 -1.6ZM731.2 927l1.6 1.6l-1.6 1.6l-1.6 -1.6ZM758.2 927l1.6 1.6l-1.6 1.6l-1.6 -1.6ZM775.4 927l1.6 1.6l-1.6 1.6l-1.6 -1.6Z" fill="#ffa500" fill-opacity="0.25"/><path d="M500.1 848.9l1.6 1.6l-1.6 1.6l-1.6 -1.6ZM501.7 848.9l1.6 1.6l-1.6 1.6l-1.6 -1.6ZM504.8 848.9l1.6 1.6l-1.6 1.6l-1.6 -1.6ZM506.7 848.9l1.6 1.6l-1.6 1.6l-1.6 -1.6ZM508.3 848.9l1.6 1.6l-1.6 1.6l-1.6 -1.6ZM510.3 848.9l1.6 1.6l-1.6 1.6l-1.6 -1.6ZM512 848.9l1.6 1.6l-1.6 1.6l-1.6 -1.6ZM513.5 848.9l1.6 1.6l-1.6 1.6l-1.6 -1.6ZM515.6 848.9l1.6 1.6l-1.6 1.6l-1.6 -1.6ZM516.8 848.9l1.6 1.6l-1.6 1.6l-1.6 -1.6ZM518.8 848.9l1.6 1.6l-1.6 1.6l-1.6 -1.6ZM520.5 848.9l1.6 1.6l-1.6 1.6l-1.6 -1.6ZM522.2 848.9l1.6 1.6l-1.6 1.6l-1.6 -1.6ZM524.1 848.9l1.6 1.6l-1.6 1.6l-1.6 -1.6ZM525.8 848.9l1.6 1.6l-1.6 1.6l-1.6 -1.6Z" fill="#ffa500" fill-opacity="0.3"/><path d="M500 852.7l1.6 1.6l-1.6 1.6l-1.6 -1.6ZM501.3 852.7l1.6 1.6l-1.6 1.6l-1.6 -1.6ZM503.3 852.7l1.6 1.6l-1.6 1.6l-1.6 -1.6ZM505.3 852.7l1.6 1.6l-1.6 1.6l-1.6 -1.6ZM506.7 852.7l1.6 1.6l-1.6 1.6l-1.6 -1.6ZM508.7 852.7l1.6 1.6l-1.6 1.6l-1.6 -1.6ZM510.4 852.7l1.6 1.6l-1.6 1.6l-1.6 -1.6ZM512 852.7l1.6 1.6l-1.6 1.6l-1.6 -1.6ZM515.7 852.7l1.6 1.6l-1.6 1.6l-1.6 -1.6ZM516.9 852.7l1.6 1.6l-1.6 1.6l-1.6 -1.6ZM520.4 852.7l1.6 1.6l-1.6 1.6l-1.6 -1.6ZM522.2 852.7l1.6 1.6l-1.6 1.6l-1.6 -1.6ZM523.7 852.7l1.6 1.6l-1.6 1.6l-1.6 -1.6ZM527.1 852.7l1.6 1.6l-1.6 1.6l-1.6 -1.6ZM529.1 852.7l1.6 1.6l-1.6 1.6l-1.6 -1.6Z" fill="#ffa500" fill-opacity="0.45"/><path d="M500.2 857l1.6 1.6l-1.6 1.6l-1.6 -1.6ZM501.7 857l1.6 1.6l-1.6 1.6l-1.6 -1.6ZM503.6 857l1.6 1.6l-1.6 1.6l-1.6 -1.6ZM504.8 857l1.6 1.6l-1.6 1.6l-1.6 -1.6ZM507.1 857l1.6 1.6l-1.6 1.6l-1.6 -1.6ZM508.3 857l1.6 1.6l-1.6 1.6l-1.6 -1.6ZM510.1 857l1.6 1.6l-1.6 1.6l-1.6 -1.6ZM512.1 857l1.6 1.6l-1.6 1.6l-1.6 -1.6ZM513.8 857l1.6 1.6l-1.6 1.6l-1.6 -1.6ZM515.1 857l1.6 1.6l-1.6 1.6l-1.6 -1.6ZM517 857l1.6 1.6l-1.6 1.6l-1.6 -1.6ZM518.9 857l1.6 1.6l-1.6 1.6l-1.6 -1.6ZM520.3 857l1.6 1.6l-1.6 1.6l-1.6 -1.6ZM521.9 857l1.6 1.6l-1.6 1.6l-1.6 -1.6ZM524.1 857l1.6 1.6l-1.6 1.6l-1.6 -1.6ZM525.8 857l1.6 1.6l-1.6 1.6l-1.6 -1.6ZM526.8 857l1.6 1.6l-1.6 1.6l-1.6 -1.6ZM528.7 857l1.6 1.6l-1.6 1.6l-1.6 -1.6ZM530.9 857l1.6 1.6l-1.6 1.6l-1.6 -1.6ZM532.2 857l1.6 1.6l-1.6 1.6l-1.6 -1.6Z" fill="#ffa500" fill-opacity="0.6"/><path d="M507.8 943.7l1.6 1.6l-1.6 1.6l-1.6 -1.6ZM509.8 943.7l1.6 1.6l-1.6 1.6l-1.6 -1.6ZM514.2 943.7l1.6 1.6l-1.6 1.6l-1.6 -1.6ZM516.4 943.7l1.6 1.6l-1.6 1.6l-1.6 -1.6ZM518.2 943.7l1.6 1.6l-1.6 1.6l-1.6 -1.6ZM521.2 943.7l1.6 1.6l-1.6 1.6l-1.6 -1.6ZM524.4 943.7l1.6 1.6l-1.6 1.6l-1.6 -1.6ZM526.1 943.7l1.6 1.6l-1.6 1.6l-1.6 -1.6ZM530.1 943.7l1.6 1.6l-1.6 1.6l-1.6 -1.6Z" fill="#ffa500" fill-opacity="0.35"/><path d="M500 939l1.6 1.6l-1.6 1.6l-1.6 -1.6ZM502 939l1.6 1.6l-1.6 1.6l-1.6 -1.6ZM503.1 939l1.6 1.6l-1.6 1.6l-1.6 -1.6ZM504.8 939l1.6 1.6l-1.6 1.6l-1.6 -1.6ZM506.6 939l1.6 1.6l-1.6 1.6l-1.6 -1.6ZM510.4 939l1.6 1.6l-1.6 1.6l-1.6 -1.6ZM511.8 939l1.6 1.6l-1.6 1.6l-1.6 -1.6ZM513.7 939l1.6 1.6l-1.6 1.6l-1.6 -1.6ZM517.3 939l1.6 1.6l-1.6 1.6l-1.6 -1.6ZM518.7 939l1.6 1.6l-1.6 1.6l-1.6 -1.6ZM520.4 939l1.6 1.6l-1.6 1.6l-1.6 -1.6ZM525.9 939l1.6 1.6l-1.6 1.6l-1.6 -1.6ZM527.1 939l1.6 1.6l-1.6 1.6l-1.6 -1.6ZM531 939l1.6 1.6l-1.6 1.6l-1.6 -1.6Z" fill="#ffa500" fill-opacity="0.6"/><path d="M505.8 947.9l1.6 1.6l-1.6 1.6l-1.6 -1.6ZM510.9 947.9l1.6 1.6l-1.6 1.6l-1.6 -1.6ZM512.5 947.9l1.6 1.6l-1.6 1.6l-1.6 -1.6ZM515.9 947.9l1.6 1.6l-1.6 1.6l-1.6 -1.6ZM520 947.9l1.6 1.6l-1.6 1.6l-1.6 -1.6Z" fill="#ffa500" fill-opacity="0.25"/></g>
<rect x="482.50" y="846.50" width="319.00" height="103.00" fill="none" stroke="#000" stroke-width="1.1"/>
<path d="M487.50 949.50v4.9M515.50 949.50v4.9M542.50 949.50v4.9M570.50 949.50v4.9M597.50 949.50v4.9M625.50 949.50v4.9M653.50 949.50v4.9M680.50 949.50v4.9M708.50 949.50v4.9M736.50 949.50v4.9M763.50 949.50v4.9M791.50 949.50v4.9M482.50 857.50h-4.9M482.50 895.50h-4.9M482.50 934.50h-4.9" stroke="#000" stroke-width="1.1" fill="none"/>
<text x="487.40" y="968.95" font-size="14.15" text-anchor="middle" textLength="40.03" lengthAdjust="spacingAndGlyphs">21:00</text>
<text x="515.04" y="968.95" font-size="14.15" text-anchor="middle" textLength="40.03" lengthAdjust="spacingAndGlyphs">22:00</text>
<text x="542.67" y="968.95" font-size="14.15" text-anchor="middle" textLength="40.03" lengthAdjust="spacingAndGlyphs">23:00</text>
<text x="570.31" y="968.95" font-size="14.15" text-anchor="middle" textLength="40.03" lengthAdjust="spacingAndGlyphs">00:00</text>
<text x="597.95" y="968.95" font-size="14.15" text-anchor="middle" textLength="40.03" lengthAdjust="spacingAndGlyphs">01:00</text>
<text x="625.59" y="968.95" font-size="14.15" text-anchor="middle" textLength="40.03" lengthAdjust="spacingAndGlyphs">02:00</text>
<text x="653.22" y="968.95" font-size="14.15" text-anchor="middle" textLength="40.03" lengthAdjust="spacingAndGlyphs">03:00</text>
<text x="680.86" y="968.95" font-size="14.15" text-anchor="middle" textLength="40.03" lengthAdjust="spacingAndGlyphs">04:00</text>
<text x="708.50" y="968.95" font-size="14.15" text-anchor="middle" textLength="40.03" lengthAdjust="spacingAndGlyphs">05:00</text>
<text x="736.13" y="968.95" font-size="14.15" text-anchor="middle" textLength="40.03" lengthAdjust="spacingAndGlyphs">06:00</text>
<text x="763.77" y="968.95" font-size="14.15" text-anchor="middle" textLength="40.03" lengthAdjust="spacingAndGlyphs">07:00</text>
<text x="791.41" y="968.95" font-size="14.15" text-anchor="middle" textLength="40.03" lengthAdjust="spacingAndGlyphs">08:00</text>
<text x="471.10" y="862.40" font-size="14.15" text-anchor="end" textLength="26.51" lengthAdjust="spacingAndGlyphs">100</text>
<text x="472.60" y="900.40" font-size="14.15" text-anchor="end" textLength="8.84" lengthAdjust="spacingAndGlyphs">0</text>
<text x="471.10" y="939.40" font-size="14.15" text-anchor="end" textLength="38.15" lengthAdjust="spacingAndGlyphs">−100</text>
<text x="641.00" y="836.90" font-size="16.95" text-anchor="middle" textLength="183.08" lengthAdjust="spacingAndGlyphs">NoRP 35GHz Stokes-V</text>
</g>
<g id="ax61">
<clipPath id="cp61"><rect x="482.50" y="1008.50" width="319.00" height="103.00"/></clipPath>
<g clip-path="url(#cp61)"><defs><linearGradient id="gu" x1="0" y1="0" x2="0" y2="1"><stop offset="0" stop-color="#ffa500" stop-opacity="0"/><stop offset="0.45" stop-color="#ffa500" stop-opacity="0.3"/><stop offset="1" stop-color="#ffa500" stop-opacity="1"/></linearGradient><linearGradient id="gd" x1="0" y1="1" x2="0" y2="0"><stop offset="0" stop-color="#ffa500" stop-opacity="0"/><stop offset="0.45" stop-color="#ffa500" stop-opacity="0.3"/><stop offset="1" stop-color="#ffa500" stop-opacity="1"/></linearGradient></defs><path d="M495.4 1018.6L496.3 1017.7L497.2 1016.8L498.1 1016.4L499 1017.1L499.9 1018.2L500.8 1018.2L501.7 1019.8L502.6 1019.1L503.5 1018L504.4 1022.2L505.3 1018.1L506.2 1015.4L507.1 1019.5L508 1017.3L508.9 1019.5L509.8 1017.9L510.7 1021.5L511.6 1018.1L512.5 1018.1L513.4 1018.8L514.3 1016.4L515.2 1016.1L516.1 1017.3L517 1017.5L517.9 1017L518.8 1016.1L519.7 1015.1L520.6 1014.6L521.5 1016.4L522.5 1019.5L523.4 1019.7L524.3 1017.3L525.2 1016.3L526.1 1018.1L527 1018.2L527.9 1023.4L528.8 1019.2L529.7 1021.3L530.6 1019.5L531.5 1020.8L532.4 1018L533.3 1017.3L534.2 1016.7L535.1 1020.5L536 1017.5L536.9 1016.1L537.8 1021.8L538.7 1020.6L539.6 1017.6L540.5 1018.4L541.4 1016.1L542.3 1015L543.2 1020.8L544.1 1018.2L545 1016.9L545.9 1018.4L546.8 1018.5L547.7 1016.2L548.6 1022.4L549.5 1013L550.4 1018.4L551.3 1019L552.2 1016.4L553.1 1013.3L554 1014.9L554.9 1014.8L555.8 1017.1L556.7 1021.9L557.6 1016.4L558.5 1015.6L559.4 1017.7L560.3 1021.5L561.2 1020.4L562.1 1020.6L563 1020.6L563.9 1019.4L564.8 1025L565.7 1021.2L566.6 1019.9L567.5 1017.4L568.4 1021.2L569.3 1022.8L570.2 1016.5L571.1 1019.7L572 1016.9L572.9 1020.3L573.9 1021.8L574.8 1017.6L575.7 1021.6L576.6 1016L577.5 1015L578.4 1022.4L579.3 1022L580.2 1018.4L581.1 1018.4L582 1017.4L582.9 1018.5L583.8 1017.4L584.7 1018.4L585.6 1017.7L586.5 1017.4L587.4 1017.9L588.3 1018.9L589.2 1018.6L590.1 1019.7L591 1017.7L591.9 1019.5L592.8 1021.3L593.7 1017.6L594.6 1018.3L595.5 1020.1L596.4 1016.6L597.3 1015.3L598.2 1018L599.1 1018.5L600 1017.5L600.9 1014.1L601.8 1017.1L602.7 1022.5L603.6 1023.7L604.5 1022.3L605.4 1018.9L606.3 1015.7L607.2 1018.3L608.1 1018.4L609 1021.1L609.9 1018.7L610.8 1015.8L611.7 1018.6L612.6 1020.9L613.5 1020.1L614.4 1019.3L615.3 1019.3L616.2 1017.3L617.1 1016.5L618 1018.6L618.9 1017.4L619.8 1020L620.7 1019.6L621.6 1016.9L622.5 1015.9L623.4 1016.7L624.3 1018.4L625.2 1016.8L626.1 1016.6L627 1020.6L627.9 1020.5L628.8 1019L629.7 1017.6L630.6 1020.4L631.5 1017.1L632.4 1022.1L633.3 1021.5L634.2 1020.1L635.1 1020.7L636 1017.7L636.9 1019.3L637.8 1019.8L638.7 1020.4L639.6 1018.4L640.5 1019.8L641.4 1016L642.3 1017.6L643.2 1015.9L644.1 1019.2L645 1018.9L645.9 1018.8L646.8 1019.2L647.7 1017.8L648.6 1018.8L649.5 1021.1L650.5 1018.2L651.4 1017.8L652.3 1017.2L653.2 1018.8L654.1 1016.1L655 1017.2L655.9 1015.7L656.8 1018.6L657.7 1016.6L658.6 1018.8L659.5 1019.4L660.4 1019.4L661.3 1020.2L662.2 1021.8L663.1 1017.7L664 1018.8L664.9 1019.6L665.8 1018.7L666.7 1021.2L667.6 1018.3L668.5 1023.7L669.4 1021L670.3 1021.2L671.2 1021.7L672.1 1020.1L673 1021L673.9 1019.9L674.8 1020.9L675.7 1019.3L676.6 1021.6L677.5 1022.1L678.4 1023.4L679.3 1019.4L680.2 1017.7L681.1 1016.2L682 1016.4L682.9 1016.6L683.8 1018.9L684.7 1016.9L685.6 1019.4L686.5 1018.9L687.4 1022.1L688.3 1018.4L689.2 1020.1L690.1 1017.5L691 1018.5L691.9 1018.4L692.8 1016.7L693.7 1019.8L694.6 1017.6L695.5 1017.3L696.4 1016.8L697.3 1023.8L698.2 1020.8L699.1 1020.1L700 1021.9L700.9 1017.4L701.8 1020.4L702.7 1019.4L703.6 1019.8L704.5 1019.5L705.4 1019.6L706.3 1014.3L707.2 1022.1L708.1 1019.8L709.1 1020.4L710 1015.9L710.9 1019.9L711.8 1018.6L712.7 1017.3L713.6 1023.7L714.5 1021L715.4 1021.2L716.3 1019.6L717.2 1018.8L718.1 1020.5L719 1019.4L719.9 1020.5L720.8 1018.3L721.7 1020.2L722.6 1020.4L723.5 1022.4L724.4 1021.3L725.3 1019.9L726.2 1016.3L727.2 1017.7L728.1 1019.8L729 1021L729.9 1022.9L730.8 1019.6L731.7 1016.7L732.6 1018.2L733.5 1019.6L734.4 1017.2L735.3 1018.3L736.2 1019.1L737.1 1017.3L738 1019.3L738.9 1017.2L739.8 1023L740.7 1022.6L741.6 1022.8L742.5 1019L743.4 1015L744.4 1016.3L745.3 1018.7L746.2 1019.7L747.1 1022.4L748 1018.2L748.9 1024.4L749.8 1023.7L750.7 1019L751.6 1022.5L752.5 1019.2L753.4 1015.6L754.3 1024.8L755.2 1022.2L756.1 1023.2L757 1024.8L757.9 1021.1L758.8 1022.8L759.7 1021.3L760.6 1019.2L761.6 1025.6L762.5 1024.1L763.4 1022L764.3 1019.9L765.2 1020.7L766.1 1018.5L767 1022.7L767.9 1017.5L768.8 1019.6L769.7 1019.3L770.6 1018.4L771.5 1022.1L772.4 1015.9L773.3 1017.6L774.2 1021L775.1 1022.5L776 1021.7L776.9 1023.1L777.8 1019.8L778.7 1019.5L779.7 1019.6L780.6 1018.9L781.5 1021.1L782.4 1024.2L783.3 1021.1L784.2 1021.3L785.1 1018.9L786 1022.4L786.9 1017L787.8 1023.4L787.8 1088.7L786.9 1092.3L786 1097.3L785.1 1092L784.2 1094.4L783.3 1093.5L782.4 1093.5L781.5 1092.8L780.6 1094L779.7 1092.1L778.7 1091.5L777.8 1088L776.9 1092.3L776 1093.4L775.1 1093.2L774.2 1093.6L773.3 1095.3L772.4 1090.6L771.5 1091.4L770.6 1092L769.7 1092.1L768.8 1091.1L767.9 1090L767 1091.8L766.1 1091.8L765.2 1092L764.3 1093.3L763.4 1093.5L762.5 1088.8L761.6 1094.6L760.6 1093.5L759.7 1095.7L758.8 1094L757.9 1091L757 1091.3L756.1 1095.2L755.2 1092.5L754.3 1094.4L753.4 1089.9L752.5 1094.8L751.6 1089L750.7 1093.4L749.8 1094.5L748.9 1091.6L748 1095.6L747.1 1091.7L746.2 1094.5L745.3 1095.2L744.4 1093.5L743.4 1093.9L742.5 1094.9L741.6 1092L740.7 1091.8L739.8 1093L738.9 1093.2L738 1093.9L737.1 1092.6L736.2 1096.8L735.3 1094.8L734.4 1096L733.5 1095.3L732.6 1092.2L731.7 1092.3L730.8 1096.6L729.9 1095.1L729 1093.1L728.1 1093.5L727.2 1095.6L726.2 1092.5L725.3 1095.8L724.4 1095.8L723.5 1096.5L722.6 1096.3L721.7 1095.9L720.8 1094.7L719.9 1097.5L719 1092.3L718.1 1091.5L717.2 1095.4L716.3 1090.1L715.4 1096.4L714.5 1094.4L713.6 1090.9L712.7 1090.3L711.8 1096.6L710.9 1091.6L710 1097.3L709.1 1094.5L708.1 1093.6L707.2 1092.3L706.3 1094.7L705.4 1094.1L704.5 1094.6L703.6 1096.3L702.7 1094.3L701.8 1096.2L700.9 1097.5L700 1093.4L699.1 1097.9L698.2 1096.1L697.3 1094.8L696.4 1095.1L695.5 1097.8L694.6 1094.2L693.7 1094.8L692.8 1096.2L691.9 1091L691 1094.6L690.1 1093.9L689.2 1092.2L688.3 1090.8L687.4 1094L686.5 1097.1L685.6 1091.2L684.7 1093.7L683.8 1092.5L682.9 1093.1L682 1093.7L681.1 1094.2L680.2 1089.4L679.3 1092.7L678.4 1089.5L677.5 1092.5L676.6 1092.1L675.7 1093.5L674.8 1090.9L673.9 1091.8L673 1091.8L672.1 1096.3L671.2 1092.9L670.3 1092.3L669.4 1096.9L668.5 1094L667.6 1098.4L666.7 1099.8L665.8 1095.9L664.9 1098.6L664 1095.7L663.1 1093.6L662.2 1094.8L661.3 1096.9L660.4 1091.9L659.5 1092.4L658.6 1093.7L657.7 1094.4L656.8 1091.2L655.9 1094.4L655 1093.6L654.1 1099.6L653.2 1094.9L652.3 1098.6L651.4 1094.4L650.5 1097.5L649.5 1090.9L648.6 1092.2L647.7 1094L646.8 1095.8L645.9 1094.9L645 1091.6L644.1 1093.7L643.2 1093.9L642.3 1091L641.4 1095.3L640.5 1092.5L639.6 1093.6L638.7 1096.8L637.8 1094.6L636.9 1090.8L636 1092.3L635.1 1094.8L634.2 1091.2L633.3 1091.7L632.4 1095.6L631.5 1093.5L630.6 1095.4L629.7 1095.9L628.8 1099.4L627.9 1096L627 1092.9L626.1 1095.9L625.2 1094.3L624.3 1095.4L623.4 1094.2L622.5 1096.6L621.6 1096.2L620.7 1094.4L619.8 1096.5L618.9 1097.4L618 1100.1L617.1 1094.4L616.2 1098.8L615.3 1094.6L614.4 1097.8L613.5 1096.4L612.6 1100.2L611.7 1098L610.8 1096.4L609.9 1098.3L609 1099.8L608.1 1093.9L607.2 1097.9L606.3 1094.6L605.4 1094.9L604.5 1097.2L603.6 1096.6L602.7 1092L601.8 1092.6L600.9 1096.4L600 1095.2L599.1 1096.1L598.2 1092.8L597.3 1095.9L596.4 1096.8L595.5 1093.2L594.6 1094.2L593.7 1097.7L592.8 1090.9L591.9 1091.8L591 1095.2L590.1 1096.3L589.2 1096.9L588.3 1098.1L587.4 1094.2L586.5 1096.1L585.6 1092.3L584.7 1093.2L583.8 1094L582.9 1094.9L582 1099.4L581.1 1095.9L580.2 1097.7L579.3 1093.8L578.4 1096.9L577.5 1095L576.6 1094.1L575.7 1094.5L574.8 1100.3L573.9 1092.7L572.9 1096.3L572 1094.2L571.1 1093.8L570.2 1094.2L569.3 1091.7L568.4 1094.4L567.5 1098.7L566.6 1097.7L565.7 1093.2L564.8 1099.9L563.9 1092.4L563 1091.6L562.1 1093.2L561.2 1094L560.3 1093.1L559.4 1094.9L558.5 1094.9L557.6 1097L556.7 1096.3L555.8 1096.9L554.9 1095.8L554 1095.3L553.1 1096.5L552.2 1097.1L551.3 1097.4L550.4 1093.8L549.5 1096.8L548.6 1099.6L547.7 1098.2L546.8 1093.7L545.9 1092.4L545 1093.5L544.1 1093L543.2 1096L542.3 1093.5L541.4 1092.8L540.5 1093.2L539.6 1097L538.7 1093.2L537.8 1096L536.9 1091.8L536 1093.7L535.1 1097.3L534.2 1096.4L533.3 1100.3L532.4 1097.8L531.5 1092.8L530.6 1095.7L529.7 1093.6L528.8 1095.1L527.9 1096.3L527 1095.5L526.1 1097.7L525.2 1098L524.3 1097.3L523.4 1095.8L522.5 1093.7L521.5 1097.8L520.6 1094.7L519.7 1097.3L518.8 1094.9L517.9 1095.3L517 1095.8L516.1 1098.3L515.2 1096.5L514.3 1094.9L513.4 1093.9L512.5 1096.8L511.6 1099.2L510.7 1096.6L509.8 1095.8L508.9 1091.4L508 1094.3L507.1 1097.4L506.2 1092.1L505.3 1096.4L504.4 1098.1L503.5 1092.5L502.6 1097.7L501.7 1094.6L500.8 1094.8L499.9 1096.4L499 1098.3L498.1 1093.1L497.2 1095.9L496.3 1091.8L495.4 1098.5Z" fill="#ffa500" fill-opacity="0.16"/><path d="M495.4 1025.2L496.3 1018.7L497.2 1019.3L498.1 1019.2L499 1020.8L499.9 1020.9L500.8 1017.8L501.7 1016.8L502.6 1017.8L503.5 1017.3L504.4 1016.8L505.3 1018L506.2 1019.2L507.1 1021.6L508 1021.2L508.9 1018.9L509.8 1020.2L510.7 1017.4L511.6 1021.6L512.5 1019.3L513.4 1019.8L514.3 1018.2L515.2 1019.5L516.1 1019.1L517 1021.1L517.9 1020.9L518.8 1022.5L519.7 1020.3L520.6 1021.6L521.5 1023.9L522.5 1021.8L523.4 1015.7L524.3 1024.7L525.2 1020.9L526.1 1022.2L527 1019.7L527.9 1020.4L528.8 1026.4L529.7 1023.7L530.6 1024L531.5 1021.3L532.4 1021.8L533.3 1021.9L534.2 1020.2L535.1 1018L536 1018.2L536.9 1019.5L537.8 1020.8L538.7 1019.4L539.6 1020.6L540.5 1020.6L541.4 1022.7L542.3 1021.4L543.2 1020.6L544.1 1019.9L545 1021.9L545.9 1022.7L546.8 1023.6L547.7 1019.5L548.6 1023.2L549.5 1023L550.4 1021.8L551.3 1020.7L552.2 1023.6L553.1 1021.3L554 1023.2L554.9 1023.4L555.8 1025.1L556.7 1022.3L557.6 1020.3L558.5 1022.5L559.4 1021.9L560.3 1025.4L561.2 1022L562.1 1020.7L563 1022.8L563.9 1018.3L564.8 1023.3L565.7 1022.2L566.6 1020.9L567.5 1022.4L568.4 1019L569.3 1021.7L570.2 1019.2L571.1 1021.9L572 1018.9L572.9 1023L573.9 1021.4L574.8 1019L575.7 1018.9L576.6 1020.4L577.5 1022.6L578.4 1020.1L579.3 1024.2L580.2 1022.1L581.1 1019.7L582 1021.2L582.9 1021L583.8 1021.4L584.7 1022.1L585.6 1020.1L586.5 1020.7L587.4 1020.8L588.3 1021.8L589.2 1021.1L590.1 1020.1L591 1020.1L591.9 1017.9L592.8 1021.2L593.7 1021.7L594.6 1021.4L595.5 1019.4L596.4 1023.5L597.3 1021.3L598.2 1021.9L599.1 1021.5L600 1020.7L600.9 1021.1L601.8 1023.6L602.7 1023.8L603.6 1021.4L604.5 1020.1L605.4 1020.3L606.3 1020.6L607.2 1020L608.1 1017.1L609 1020.8L609.9 1024.8L610.8 1019L611.7 1020.7L612.6 1021.2L613.5 1020.6L614.4 1019.7L615.3 1021.5L616.2 1020.5L617.1 1022.3L618 1021.6L618.9 1017L619.8 1019.7L620.7 1022.3L621.6 1022.9L622.5 1023.3L623.4 1022.4L624.3 1022.6L625.2 1019.6L626.1 1018.5L627 1017.9L627.9 1019.6L628.8 1020L629.7 1021.2L630.6 1020.3L631.5 1024.1L632.4 1023.5L633.3 1021.7L634.2 1024.9L635.1 1019.9L636 1025.2L636.9 1020.5L637.8 1022.7L638.7 1023.1L639.6 1021L640.5 1022.1L641.4 1019.9L642.3 1018.9L643.2 1025.2L644.1 1023L645 1020L645.9 1020L646.8 1022.4L647.7 1025.2L648.6 1021.9L649.5 1018.1L650.5 1022L651.4 1020.8L652.3 1020.7L653.2 1017.3L654.1 1021L655 1019.8L655.9 1022.9L656.8 1020.5L657.7 1022.5L658.6 1020.7L659.5 1020.2L660.4 1023.7L661.3 1022.5L662.2 1019L663.1 1018.4L664 1022.2L664.9 1024L665.8 1023.5L666.7 1017.7L667.6 1019.4L668.5 1023.3L669.4 1018.7L670.3 1019.9L671.2 1024.6L672.1 1018.4L673 1023.3L673.9 1021.6L674.8 1023.8L675.7 1023.1L676.6 1024.2L677.5 1023.6L678.4 1023.8L679.3 1018L680.2 1021.2L681.1 1021.6L682 1024.2L682.9 1020.5L683.8 1020.5L684.7 1021.5L685.6 1022.2L686.5 1023.6L687.4 1022.2L688.3 1024.8L689.2 1020.9L690.1 1024L691 1022.5L691.9 1024.4L692.8 1024.3L693.7 1021.5L694.6 1024.6L695.5 1024.3L696.4 1022L697.3 1022.9L698.2 1024.9L699.1 1024.5L700 1023.9L700.9 1028.1L701.8 1025L702.7 1025.9L703.6 1024.4L704.5 1022.4L705.4 1023.8L706.3 1021.4L707.2 1020.6L708.1 1021.7L709.1 1021.3L710 1023.3L710.9 1022.8L711.8 1024.6L712.7 1023.4L713.6 1021.1L714.5 1024.6L715.4 1027.9L716.3 1026.3L717.2 1027L718.1 1022.2L719 1023.7L719.9 1021.5L720.8 1023.6L721.7 1023.3L722.6 1023.2L723.5 1021.9L724.4 1021.1L725.3 1023.3L726.2 1023.3L727.2 1023L728.1 1024L729 1022.8L729.9 1020.4L730.8 1021.3L731.7 1022.4L732.6 1026.5L733.5 1022.6L734.4 1022L735.3 1020.4L736.2 1024.6L737.1 1021.2L738 1024.8L738.9 1025.2L739.8 1023.2L740.7 1023.3L741.6 1022.4L742.5 1020.5L743.4 1024.6L744.4 1023.3L745.3 1025.4L746.2 1022L747.1 1021.6L748 1021.8L748.9 1024.3L749.8 1022.4L750.7 1022.7L751.6 1023.1L752.5 1024.3L753.4 1026.2L754.3 1023.8L755.2 1022.9L756.1 1023.5L757 1026L757.9 1025.2L758.8 1025.1L759.7 1023.9L760.6 1026.9L761.6 1028.1L762.5 1025L763.4 1029.9L764.3 1024.7L765.2 1026.4L766.1 1027.1L767 1024.1L767.9 1024.7L768.8 1024.6L769.7 1019.8L770.6 1022.3L771.5 1020.6L772.4 1020.6L773.3 1024.8L774.2 1024.9L775.1 1026L776 1022.7L776.9 1025.6L777.8 1024.2L778.7 1025L779.7 1027.1L780.6 1024.7L781.5 1022.7L782.4 1020.5L783.3 1023.9L784.2 1026.4L785.1 1021.8L786 1020.4L786.9 1027.9L787.8 1025.5L787.8 1087.4L786.9 1091.7L786 1090.1L785.1 1092.9L784.2 1092.6L783.3 1091.4L782.4 1089.3L781.5 1085.8L780.6 1088.9L779.7 1091L778.7 1089.6L777.8 1089.6L776.9 1088.5L776 1091.6L775.1 1089.6L774.2 1089.8L773.3 1087.4L772.4 1087L771.5 1089.6L770.6 1090.9L769.7 1088.7L768.8 1088.9L767.9 1091.8L767 1089.1L766.1 1088.1L765.2 1089.5L764.3 1088.5L763.4 1092.1L762.5 1091.1L761.6 1091.3L760.6 1092.9L759.7 1094.1L758.8 1091.7L757.9 1092.1L757 1091.1L756.1 1090.2L755.2 1090.5L754.3 1088L753.4 1088.8L752.5 1090.2L751.6 1089.5L750.7 1090.6L749.8 1088.1L748.9 1092.5L748 1091.8L747.1 1087.5L746.2 1089.4L745.3 1091.1L744.4 1090.5L743.4 1093.3L742.5 1094.5L741.6 1088.6L740.7 1088.8L739.8 1087.7L738.9 1086.4L738 1087.3L737.1 1084.6L736.2 1086.6L735.3 1084.9L734.4 1087.9L733.5 1089.3L732.6 1086.7L731.7 1088.1L730.8 1090.2L729.9 1087.7L729 1089.2L728.1 1091.9L727.2 1089.9L726.2 1090L725.3 1091.6L724.4 1091L723.5 1090.7L722.6 1088.5L721.7 1091.8L720.8 1090.1L719.9 1090.4L719 1089.3L718.1 1093.5L717.2 1088.3L716.3 1090.9L715.4 1090.3L714.5 1088.1L713.6 1088.1L712.7 1091.3L711.8 1089.2L710.9 1090.9L710 1092L709.1 1090.2L708.1 1093.4L707.2 1087L706.3 1088.2L705.4 1090L704.5 1091.2L703.6 1093L702.7 1089.1L701.8 1090.7L700.9 1090.9L700 1091.6L699.1 1093.1L698.2 1090.8L697.3 1092.6L696.4 1089.8L695.5 1089.3L694.6 1089.3L693.7 1088.9L692.8 1085.5L691.9 1088.2L691 1087.7L690.1 1089.4L689.2 1092.1L688.3 1089.7L687.4 1090.8L686.5 1094.3L685.6 1090.9L684.7 1091.4L683.8 1090.1L682.9 1091.6L682 1092L681.1 1090.3L680.2 1092.4L679.3 1092.3L678.4 1094L677.5 1094.6L676.6 1091L675.7 1087.9L674.8 1091.1L673.9 1087.1L673 1090L672.1 1093.1L671.2 1093.9L670.3 1092.7L669.4 1091.4L668.5 1092.8L667.6 1090.2L666.7 1089.6L665.8 1094.7L664.9 1090.2L664 1090.3L663.1 1089.6L662.2 1089.1L661.3 1089.8L660.4 1094.4L659.5 1093.5L658.6 1092.5L657.7 1092.5L656.8 1092.7L655.9 1091.7L655 1093.6L654.1 1090.1L653.2 1091L652.3 1093.1L651.4 1090.7L650.5 1091L649.5 1089.5L648.6 1093.9L647.7 1089.1L646.8 1091.5L645.9 1089.1L645 1088.3L644.1 1087.4L643.2 1091.7L642.3 1090.6L641.4 1091.4L640.5 1091.6L639.6 1092.6L638.7 1090.7L637.8 1088L636.9 1093.9L636 1093.3L635.1 1093.4L634.2 1092.8L633.3 1091.8L632.4 1094.1L631.5 1091.9L630.6 1092.6L629.7 1096.9L628.8 1091.7L627.9 1092.3L627 1090.3L626.1 1092.9L625.2 1093.8L624.3 1095.3L623.4 1092.9L622.5 1097.3L621.6 1090.8L620.7 1095.7L619.8 1095.2L618.9 1086.9L618 1094.5L617.1 1093.5L616.2 1091.7L615.3 1090.5L614.4 1089.1L613.5 1092L612.6 1094.3L611.7 1090.6L610.8 1092.4L609.9 1094.1L609 1091L608.1 1091L607.2 1086.7L606.3 1088.4L605.4 1089.7L604.5 1088.7L603.6 1090L602.7 1095.2L601.8 1091.7L600.9 1095.2L600 1093.7L599.1 1090.1L598.2 1093.5L597.3 1092.4L596.4 1092.2L595.5 1093.5L594.6 1092.6L593.7 1089.9L592.8 1093.1L591.9 1091.9L591 1092L590.1 1089.2L589.2 1092.8L588.3 1092.5L587.4 1093.8L586.5 1091.7L585.6 1092.4L584.7 1090L583.8 1092.5L582.9 1094L582 1091.8L581.1 1092.2L580.2 1091.1L579.3 1090.5L578.4 1093.3L577.5 1092.5L576.6 1090.7L575.7 1093.6L574.8 1090.1L573.9 1092L572.9 1092.7L572 1092.2L571.1 1094.3L570.2 1093.9L569.3 1091.6L568.4 1091.8L567.5 1092.6L566.6 1089.4L565.7 1091.7L564.8 1093.7L563.9 1090.3L563 1094.1L562.1 1093.2L561.2 1093.4L560.3 1088L559.4 1093.5L558.5 1091.9L557.6 1096.6L556.7 1093.4L555.8 1092.8L554.9 1093.7L554 1090.6L553.1 1092.5L552.2 1094.1L551.3 1091.1L550.4 1090.2L549.5 1094.5L548.6 1094.1L547.7 1093.6L546.8 1091.7L545.9 1092.7L545 1091.7L544.1 1090.9L543.2 1090.7L542.3 1094L541.4 1094.1L540.5 1091.6L539.6 1090.4L538.7 1091.1L537.8 1092.1L536.9 1091.3L536 1094.4L535.1 1095.3L534.2 1094.3L533.3 1092.7L532.4 1093.8L531.5 1090.3L530.6 1090.9L529.7 1090.5L528.8 1089.4L527.9 1089.9L527 1091.8L526.1 1092.6L525.2 1090.2L524.3 1087.8L523.4 1090L522.5 1091.9L521.5 1092.1L520.6 1092.3L519.7 1089L518.8 1091.6L517.9 1089.2L517 1092.5L516.1 1090.4L515.2 1089.1L514.3 1093.4L513.4 1091.8L512.5 1090.6L511.6 1091.4L510.7 1093.1L509.8 1093L508.9 1091.7L508 1089.3L507.1 1093.1L506.2 1094.2L505.3 1091.1L504.4 1092.6L503.5 1095.1L502.6 1093.8L501.7 1093L500.8 1091.8L499.9 1092.6L499 1090L498.1 1087.1L497.2 1091.3L496.3 1092.5L495.4 1093.9Z" fill="#ffa500" fill-opacity="0.22"/><path d="M495.4 1024.6L496.3 1025L497.2 1025.3L498.1 1023.8L499 1025.5L499.9 1025.1L500.8 1026.1L501.7 1021L502.6 1024.1L503.5 1026.3L504.4 1024.3L505.3 1026.1L506.2 1024.2L507.1 1023.2L508 1024.4L508.9 1026.1L509.8 1024.9L510.7 1023.3L511.6 1024L512.5 1022.7L513.4 1023L514.3 1025.9L515.2 1023.1L516.1 1025.7L517 1027.5L517.9 1024.1L518.8 1024.7L519.7 1021L520.6 1023.7L521.5 1026L522.5 1020.9L523.4 1023.6L524.3 1024.6L525.2 1024.6L526.1 1025.5L527 1021.1L527.9 1026.6L528.8 1025.7L529.7 1025.1L530.6 1023.5L531.5 1023.1L532.4 1029.5L533.3 1024.7L534.2 1022L535.1 1020.7L536 1020.7L536.9 1019.9L537.8 1023.4L538.7 1026L539.6 1026.1L540.5 1025.1L541.4 1024.3L542.3 1020.2L543.2 1023.3L544.1 1024.7L545 1024.9L545.9 1025.1L546.8 1027.3L547.7 1024.4L548.6 1023.1L549.5 1023.2L550.4 1023L551.3 1020.6L552.2 1024.5L553.1 1023.1L554 1024.2L554.9 1021.6L555.8 1024.9L556.7 1022.5L557.6 1020.7L558.5 1021.6L559.4 1024.5L560.3 1021.8L561.2 1024.9L562.1 1022L563 1024.6L563.9 1026.6L564.8 1025.5L565.7 1024.2L566.6 1024.8L567.5 1026.8L568.4 1024.8L569.3 1026.1L570.2 1026.1L571.1 1022.7L572 1024.2L572.9 1027.2L573.9 1021.9L574.8 1025.1L575.7 1026.5L576.6 1020.9L577.5 1025.9L578.4 1026.9L579.3 1024.3L580.2 1025.6L581.1 1024.8L582 1024.3L582.9 1025.3L583.8 1027.2L584.7 1022.6L585.6 1023.6L586.5 1024.1L587.4 1025.5L588.3 1023L589.2 1023.2L590.1 1023L591 1021.3L591.9 1020.6L592.8 1024L593.7 1023.4L594.6 1022.8L595.5 1023.6L596.4 1022.5L597.3 1021.3L598.2 1021.3L599.1 1022.4L600 1023.3L600.9 1025.5L601.8 1023.6L602.7 1025.4L603.6 1021.8L604.5 1024.4L605.4 1022.2L606.3 1026L607.2 1024.3L608.1 1024.1L609 1022.7L609.9 1026.8L610.8 1027.3L611.7 1023.8L612.6 1022.7L613.5 1024.8L614.4 1025.4L615.3 1025.9L616.2 1026.7L617.1 1026.6L618 1024L618.9 1024.8L619.8 1021.6L620.7 1020.1L621.6 1020.7L622.5 1020.7L623.4 1020.9L624.3 1023.6L625.2 1020.1L626.1 1023.3L627 1024L627.9 1023.2L628.8 1025.9L629.7 1022.4L630.6 1020.2L631.5 1023L632.4 1022.5L633.3 1024.3L634.2 1026.1L635.1 1023.5L636 1025.3L636.9 1021.9L637.8 1023.8L638.7 1024.3L639.6 1025.6L640.5 1025.1L641.4 1022.5L642.3 1025.4L643.2 1023.5L644.1 1025.4L645 1026.6L645.9 1026.8L646.8 1024.3L647.7 1026.3L648.6 1023.8L649.5 1022.3L650.5 1023.8L651.4 1023.6L652.3 1024.5L653.2 1023.6L654.1 1025.3L655 1028.2L655.9 1025.7L656.8 1024.2L657.7 1024.5L658.6 1024.1L659.5 1023.7L660.4 1024.7L661.3 1026.4L662.2 1024.3L663.1 1027.1L664 1025.7L664.9 1026.1L665.8 1027.4L666.7 1021.5L667.6 1024.8L668.5 1022.9L669.4 1023.6L670.3 1025L671.2 1025.4L672.1 1025.4L673 1027.2L673.9 1022.3L674.8 1022.5L675.7 1024.3L676.6 1021.2L677.5 1026.8L678.4 1028.4L679.3 1024L680.2 1026.8L681.1 1026.4L682 1030L682.9 1027.7L683.8 1024.9L684.7 1024.2L685.6 1024.3L686.5 1026.2L687.4 1028.4L688.3 1025.4L689.2 1024.4L690.1 1027.9L691 1022L691.9 1021.6L692.8 1024.7L693.7 1026L694.6 1025.3L695.5 1027.6L696.4 1026.3L697.3 1026.2L698.2 1025.2L699.1 1025.7L700 1025.4L700.9 1026L701.8 1023.4L702.7 1026.4L703.6 1029.6L704.5 1027.8L705.4 1025.6L706.3 1025.1L707.2 1026.7L708.1 1026.1L709.1 1027.1L710 1024.4L710.9 1025.6L711.8 1026.7L712.7 1027.8L713.6 1025.7L714.5 1026.6L715.4 1024.9L716.3 1022.9L717.2 1021.9L718.1 1024.8L719 1025.7L719.9 1026.4L720.8 1024.2L721.7 1026.7L722.6 1026.5L723.5 1028.4L724.4 1023.4L725.3 1026.5L726.2 1026.6L727.2 1025.5L728.1 1027.8L729 1025.5L729.9 1027.2L730.8 1028.1L731.7 1028.1L732.6 1023.6L733.5 1025.5L734.4 1025.4L735.3 1029.3L736.2 1025.9L737.1 1025.7L738 1030.5L738.9 1026L739.8 1025.1L740.7 1025.1L741.6 1027L742.5 1026.3L743.4 1029.1L744.4 1026.6L745.3 1025.2L746.2 1029.5L747.1 1026.8L748 1028.1L748.9 1025.6L749.8 1028.2L750.7 1028.9L751.6 1026L752.5 1026.5L753.4 1026.8L754.3 1027.6L755.2 1025.2L756.1 1023.6L757 1030.2L757.9 1024.7L758.8 1023.9L759.7 1026.5L760.6 1028.5L761.6 1027.8L762.5 1027.8L763.4 1027.1L764.3 1026.7L765.2 1029.2L766.1 1027.5L767 1027.6L767.9 1028.5L768.8 1027.1L769.7 1028.5L770.6 1027.8L771.5 1028.7L772.4 1028.8L773.3 1024.2L774.2 1024.1L775.1 1025L776 1026.8L776.9 1023.4L777.8 1024.6L778.7 1026.9L779.7 1027.3L780.6 1027.4L781.5 1026.7L782.4 1027.8L783.3 1025.4L784.2 1027.7L785.1 1028.9L786 1030.4L786.9 1030.4L787.8 1026.3L787.8 1086.7L786.9 1090L786 1090L785.1 1088.5L784.2 1086.8L783.3 1087.9L782.4 1086.9L781.5 1086L780.6 1090.3L779.7 1085L778.7 1084L777.8 1086L776.9 1083.8L776 1085.8L775.1 1088.7L774.2 1089.1L773.3 1085.8L772.4 1086.3L771.5 1085.4L770.6 1087.7L769.7 1088L768.8 1088.3L767.9 1088.2L767 1087.1L766.1 1088.9L765.2 1089.9L764.3 1089.7L763.4 1088.3L762.5 1087.4L761.6 1088.2L760.6 1087L759.7 1086.5L758.8 1087.5L757.9 1091.1L757 1087.4L756.1 1089L755.2 1086.7L754.3 1089.9L753.4 1092L752.5 1084.8L751.6 1089.3L750.7 1086.1L749.8 1086.8L748.9 1087.3L748 1087.7L747.1 1086.1L746.2 1087.5L745.3 1084.7L744.4 1090.1L743.4 1088.7L742.5 1087.5L741.6 1086.6L740.7 1086.4L739.8 1087.3L738.9 1089.5L738 1089.6L737.1 1088.3L736.2 1088.9L735.3 1088.6L734.4 1087.9L733.5 1088.2L732.6 1085.4L731.7 1085.6L730.8 1087.2L729.9 1086.3L729 1088.4L728.1 1084.7L727.2 1084L726.2 1089.6L725.3 1089.4L724.4 1088.9L723.5 1089.9L722.6 1091L721.7 1088.1L720.8 1086.6L719.9 1085.2L719 1088L718.1 1086.8L717.2 1086.9L716.3 1087.1L715.4 1087.8L714.5 1086.4L713.6 1084.9L712.7 1090L711.8 1087.7L710.9 1085.3L710 1088.2L709.1 1086.4L708.1 1084.1L707.2 1090.9L706.3 1085.2L705.4 1086.5L704.5 1087.7L703.6 1087L702.7 1086.8L701.8 1088.8L700.9 1089L700 1089.1L699.1 1088L698.2 1089L697.3 1087.8L696.4 1089.1L695.5 1087L694.6 1087.9L693.7 1087.6L692.8 1089.5L691.9 1090.4L691 1090.2L690.1 1087.3L689.2 1088L688.3 1085.8L687.4 1092L686.5 1086.5L685.6 1088.1L684.7 1087.9L683.8 1089.3L682.9 1087.6L682 1088.5L681.1 1087.5L680.2 1088.5L679.3 1088.8L678.4 1088.4L677.5 1085.9L676.6 1089.8L675.7 1087.2L674.8 1087L673.9 1088.7L673 1093.3L672.1 1088.4L671.2 1090.5L670.3 1089L669.4 1088.3L668.5 1089.8L667.6 1091.6L666.7 1089.7L665.8 1086.5L664.9 1086.8L664 1089.1L663.1 1085.7L662.2 1088.9L661.3 1087.7L660.4 1091L659.5 1087.5L658.6 1087.8L657.7 1089.2L656.8 1089.8L655.9 1085.7L655 1085.1L654.1 1085.6L653.2 1090L652.3 1089.1L651.4 1086L650.5 1089.9L649.5 1090.8L648.6 1087.8L647.7 1091.8L646.8 1092.5L645.9 1088.9L645 1088.7L644.1 1088L643.2 1088.5L642.3 1085.2L641.4 1087.6L640.5 1086.3L639.6 1086.3L638.7 1088.3L637.8 1085.3L636.9 1087.6L636 1087.8L635.1 1090.1L634.2 1090.7L633.3 1089.1L632.4 1087.6L631.5 1086.9L630.6 1088.8L629.7 1088.2L628.8 1087.2L627.9 1090.6L627 1091.5L626.1 1090.5L625.2 1088.2L624.3 1089.4L623.4 1089.9L622.5 1089.4L621.6 1091.9L620.7 1088.8L619.8 1090.7L618.9 1092.5L618 1090.6L617.1 1089.2L616.2 1089.3L615.3 1093L614.4 1089.3L613.5 1086.8L612.6 1089.9L611.7 1087.4L610.8 1088.2L609.9 1087.1L609 1088.6L608.1 1087.6L607.2 1086.7L606.3 1089.6L605.4 1087.8L604.5 1087L603.6 1085.7L602.7 1085.9L601.8 1086.8L600.9 1089.1L600 1089.3L599.1 1091.8L598.2 1088.8L597.3 1091.6L596.4 1087.8L595.5 1091.8L594.6 1089.6L593.7 1088.8L592.8 1090.9L591.9 1088.8L591 1087.3L590.1 1090.2L589.2 1088.7L588.3 1088.2L587.4 1087.3L586.5 1087.8L585.6 1090.3L584.7 1086.4L583.8 1086.6L582.9 1083.9L582 1088.5L581.1 1090.5L580.2 1088.8L579.3 1088L578.4 1087.5L577.5 1087.9L576.6 1088L575.7 1086.7L574.8 1089.6L573.9 1088.5L572.9 1085.6L572 1087.2L571.1 1086.4L570.2 1088.6L569.3 1088.9L568.4 1092.1L567.5 1090.6L566.6 1089.1L565.7 1088.6L564.8 1087.7L563.9 1087.8L563 1088.3L562.1 1089.8L561.2 1090L560.3 1085.8L559.4 1089.5L558.5 1089.7L557.6 1090.6L556.7 1088.5L555.8 1087.8L554.9 1087.4L554 1090.6L553.1 1091.3L552.2 1086.9L551.3 1091L550.4 1089.4L549.5 1089.2L548.6 1089.4L547.7 1088.3L546.8 1091L545.9 1087.9L545 1089.5L544.1 1091.1L543.2 1091.1L542.3 1089.4L541.4 1088.7L540.5 1087.2L539.6 1090.1L538.7 1089.8L537.8 1089.4L536.9 1088.6L536 1089.2L535.1 1088.9L534.2 1092.5L533.3 1090.6L532.4 1090.4L531.5 1090.9L530.6 1092.3L529.7 1088.6L528.8 1088.2L527.9 1088.9L527 1089L526.1 1084.7L525.2 1086.5L524.3 1088.2L523.4 1089.2L522.5 1088.6L521.5 1089.4L520.6 1090.3L519.7 1089.5L518.8 1088.7L517.9 1091L517 1088.5L516.1 1087.3L515.2 1090.4L514.3 1087.5L513.4 1087.5L512.5 1086L511.6 1086.6L510.7 1086.4L509.8 1086.5L508.9 1089.8L508 1089.2L507.1 1091.2L506.2 1090.6L505.3 1091.9L504.4 1089.9L503.5 1092.5L502.6 1089.6L501.7 1088.2L500.8 1089.9L499.9 1090.2L499 1089.3L498.1 1089.2L497.2 1089.8L496.3 1087.1L495.4 1085.3Z" fill="#ffa500" fill-opacity="0.32"/><path d="M495.4 1026.3L496.3 1027.8L497.2 1029.9L498.1 1029.3L499 1029.5L499.9 1027.1L500.8 1025.2L501.7 1029L502.6 1026.9L503.5 1026.9L504.4 1025.6L505.3 1026.3L506.2 1027.2L507.1 1026.4L508 1027.9L508.9 1027L509.8 1023.1L510.7 1027.2L511.6 1029.2L512.5 1028.8L513.4 1028.1L514.3 1027L515.2 1028.3L516.1 1026.2L517 1026.5L517.9 1029.7L518.8 1029L519.7 1028.4L520.6 1027.5L521.5 1028.1L522.5 1025L523.4 1028.3L524.3 1028.7L525.2 1026.3L526.1 1029.2L527 1027.7L527.9 1026.5L528.8 1028.2L529.7 1030.1L530.6 1027.4L531.5 1026.9L532.4 1028.6L533.3 1028L534.2 1028.6L535.1 1025.1L536 1026.5L536.9 1028.6L537.8 1028.4L538.7 1029.5L539.6 1028.5L540.5 1023.8L541.4 1026.5L542.3 1028.1L543.2 1025.6L544.1 1026.8L545 1027.6L545.9 1025.6L546.8 1026.4L547.7 1027.7L548.6 1026.7L549.5 1027.4L550.4 1025.6L551.3 1027.7L552.2 1025.2L553.1 1028.7L554 1027.4L554.9 1025.9L555.8 1026.3L556.7 1026.8L557.6 1027.6L558.5 1026.2L559.4 1024.2L560.3 1026.6L561.2 1025.6L562.1 1026.1L563 1029.2L563.9 1026.7L564.8 1028.9L565.7 1028.8L566.6 1026.1L567.5 1026.7L568.4 1029L569.3 1028.4L570.2 1026.9L571.1 1028.1L572 1023.3L572.9 1026.4L573.9 1026L574.8 1028.2L575.7 1028.9L576.6 1025.2L577.5 1027.4L578.4 1028.6L579.3 1027.1L580.2 1027.3L581.1 1025.9L582 1028.7L582.9 1028.9L583.8 1028.7L584.7 1025.4L585.6 1027.7L586.5 1029.2L587.4 1027.8L588.3 1025.3L589.2 1028L590.1 1027L591 1026.1L591.9 1025.3L592.8 1027.9L593.7 1025.8L594.6 1026.8L595.5 1027.9L596.4 1028.5L597.3 1026.8L598.2 1028.5L599.1 1028.6L600 1025.1L600.9 1024.8L601.8 1029.4L602.7 1031.3L603.6 1028.2L604.5 1024.5L605.4 1026L606.3 1028.5L607.2 1030.3L608.1 1027.8L609 1024.9L609.9 1024.7L610.8 1026.6L611.7 1027.5L612.6 1028.9L613.5 1027.4L614.4 1030.1L615.3 1027.7L616.2 1029.3L617.1 1029.8L618 1029.2L618.9 1031.5L619.8 1029.4L620.7 1027.9L621.6 1031.1L622.5 1028.5L623.4 1025.1L624.3 1028.6L625.2 1026.4L626.1 1031.3L627 1028.4L627.9 1029L628.8 1025.1L629.7 1028.4L630.6 1029.3L631.5 1028.3L632.4 1027.2L633.3 1026.4L634.2 1026.8L635.1 1026.1L636 1026.4L636.9 1027.5L637.8 1029L638.7 1027.1L639.6 1025.6L640.5 1028.5L641.4 1027.9L642.3 1026.6L643.2 1028.4L644.1 1027.3L645 1029.7L645.9 1025.6L646.8 1028L647.7 1030.2L648.6 1027.6L649.5 1026.7L650.5 1026.6L651.4 1028.3L652.3 1027.1L653.2 1023.6L654.1 1030.2L655 1028.8L655.9 1023.9L656.8 1029.5L657.7 1025.7L658.6 1030.1L659.5 1027.6L660.4 1028.8L661.3 1026.2L662.2 1027.3L663.1 1030.1L664 1027.4L664.9 1028.4L665.8 1024.5L666.7 1024.9L667.6 1027.5L668.5 1023.2L669.4 1027.6L670.3 1028.9L671.2 1029L672.1 1027.5L673 1028.2L673.9 1026.1L674.8 1029.5L675.7 1027.3L676.6 1028.7L677.5 1027.9L678.4 1028.2L679.3 1030.2L680.2 1033.3L681.1 1028.3L682 1028.3L682.9 1029.3L683.8 1028.2L684.7 1028.7L685.6 1025.4L686.5 1026.8L687.4 1024.3L688.3 1028L689.2 1027.5L690.1 1028.9L691 1027.8L691.9 1027.1L692.8 1029.2L693.7 1028L694.6 1032L695.5 1030.9L696.4 1028.8L697.3 1027.4L698.2 1027.9L699.1 1029.4L700 1030.1L700.9 1027.8L701.8 1031.1L702.7 1027.4L703.6 1027.5L704.5 1027.5L705.4 1028.1L706.3 1027.3L707.2 1029L708.1 1029.2L709.1 1029.4L710 1027.3L710.9 1030.6L711.8 1030.4L712.7 1029.1L713.6 1029.5L714.5 1030.6L715.4 1029.8L716.3 1030.5L717.2 1026.7L718.1 1028.2L719 1028.4L719.9 1030.2L720.8 1029.4L721.7 1030.4L722.6 1029.1L723.5 1030L724.4 1026.2L725.3 1027.2L726.2 1026L727.2 1028.1L728.1 1028.6L729 1028.7L729.9 1026.3L730.8 1025.4L731.7 1026.7L732.6 1029.5L733.5 1026.6L734.4 1025.3L735.3 1029.3L736.2 1028.1L737.1 1027.5L738 1030.8L738.9 1029.8L739.8 1030.2L740.7 1029.8L741.6 1031.5L742.5 1030.1L743.4 1031.6L744.4 1030.3L745.3 1026L746.2 1031.3L747.1 1028.5L748 1028.4L748.9 1028.4L749.8 1030.4L750.7 1030.4L751.6 1028.8L752.5 1030.6L753.4 1029.9L754.3 1034.7L755.2 1031.3L756.1 1031.6L757 1028.3L757.9 1028.4L758.8 1032.6L759.7 1030.5L760.6 1029.1L761.6 1026.9L762.5 1026.8L763.4 1028.7L764.3 1029.7L765.2 1027.1L766.1 1028.3L767 1028.1L767.9 1028.7L768.8 1028.3L769.7 1027L770.6 1026.7L771.5 1030.8L772.4 1026.5L773.3 1028.4L774.2 1026.8L775.1 1026.3L776 1025.2L776.9 1027.9L777.8 1028.2L778.7 1031.2L779.7 1028.7L780.6 1028.3L781.5 1027.6L782.4 1031.2L783.3 1028L784.2 1030.5L785.1 1029.7L786 1030L786.9 1030.9L787.8 1034.7L787.8 1087.1L786.9 1085.3L786 1087L785.1 1087.3L784.2 1088.8L783.3 1084.3L782.4 1084.8L781.5 1086.9L780.6 1082.1L779.7 1083.2L778.7 1086.4L777.8 1085.1L776.9 1085.1L776 1083.1L775.1 1083.1L774.2 1083.8L773.3 1085.4L772.4 1080.9L771.5 1084.7L770.6 1083.5L769.7 1085.2L768.8 1086.7L767.9 1083.5L767 1082.2L766.1 1084.7L765.2 1088.2L764.3 1083.9L763.4 1085.8L762.5 1085.2L761.6 1081.6L760.6 1083.2L759.7 1083.8L758.8 1084L757.9 1082.4L757 1082.6L756.1 1086.8L755.2 1084.3L754.3 1085.3L753.4 1086L752.5 1086.8L751.6 1087L750.7 1083.7L749.8 1086.4L748.9 1086.8L748 1086L747.1 1084.3L746.2 1084.2L745.3 1086L744.4 1084.9L743.4 1085.3L742.5 1086.5L741.6 1089.4L740.7 1088.2L739.8 1084.4L738.9 1086.8L738 1087.6L737.1 1086.6L736.2 1084L735.3 1084.9L734.4 1085.6L733.5 1084.4L732.6 1085L731.7 1087.9L730.8 1086.3L729.9 1083.4L729 1083.2L728.1 1086.2L727.2 1087.1L726.2 1083.3L725.3 1085.6L724.4 1087.3L723.5 1083.6L722.6 1083.2L721.7 1083.5L720.8 1085.9L719.9 1085.4L719 1088.2L718.1 1086L717.2 1083.7L716.3 1085.3L715.4 1083.5L714.5 1084.4L713.6 1085.1L712.7 1084.5L711.8 1089.2L710.9 1088.6L710 1087.4L709.1 1087.5L708.1 1089.1L707.2 1088.1L706.3 1089.4L705.4 1087.5L704.5 1086.2L703.6 1086L702.7 1088.8L701.8 1085.7L700.9 1084.9L700 1083.4L699.1 1085.9L698.2 1083.2L697.3 1081L696.4 1082.7L695.5 1081.3L694.6 1084.4L693.7 1084.9L692.8 1081.9L691.9 1086.1L691 1085L690.1 1090.2L689.2 1087.4L688.3 1086.4L687.4 1085L686.5 1086.9L685.6 1085.1L684.7 1084.6L683.8 1087.9L682.9 1085L682 1086.7L681.1 1086.6L680.2 1088.4L679.3 1086.9L678.4 1087.1L677.5 1089.1L676.6 1088.6L675.7 1088.3L674.8 1088.5L673.9 1087.9L673 1088.2L672.1 1088.9L671.2 1088.4L670.3 1089.4L669.4 1089.8L668.5 1085.9L667.6 1088.1L666.7 1087.2L665.8 1087.2L664.9 1084.9L664 1088.1L663.1 1084.9L662.2 1087.6L661.3 1087.3L660.4 1085.3L659.5 1085.3L658.6 1090.4L657.7 1089.3L656.8 1090.7L655.9 1088.5L655 1087.9L654.1 1087.8L653.2 1085L652.3 1085.4L651.4 1087.1L650.5 1086.5L649.5 1088.2L648.6 1085.7L647.7 1089.3L646.8 1086.2L645.9 1086.9L645 1084.2L644.1 1084.8L643.2 1085.7L642.3 1086.1L641.4 1088.3L640.5 1088.8L639.6 1086L638.7 1087.2L637.8 1086.9L636.9 1088.6L636 1087.2L635.1 1084.3L634.2 1086.3L633.3 1085.9L632.4 1086.2L631.5 1084.4L630.6 1087.3L629.7 1086.3L628.8 1086L627.9 1087L627 1087L626.1 1083.8L625.2 1086.8L624.3 1083.5L623.4 1085.4L622.5 1086.7L621.6 1085.4L620.7 1083.6L619.8 1084.3L618.9 1086.2L618 1085.8L617.1 1084.3L616.2 1086.7L615.3 1087L614.4 1087.6L613.5 1086.9L612.6 1086.1L611.7 1084.3L610.8 1084.8L609.9 1089.4L609 1088.1L608.1 1085.4L607.2 1088.1L606.3 1087.4L605.4 1087.7L604.5 1085L603.6 1085L602.7 1088.9L601.8 1090L600.9 1089.1L600 1090.3L599.1 1090.5L598.2 1088L597.3 1089L596.4 1087.8L595.5 1088.8L594.6 1083.7L593.7 1086.7L592.8 1085.9L591.9 1087L591 1086.5L590.1 1086.8L589.2 1087.7L588.3 1086.3L587.4 1086.2L586.5 1085.1L585.6 1087.1L584.7 1085.9L583.8 1088.7L582.9 1084.8L582 1086.5L581.1 1087.2L580.2 1087L579.3 1084.8L578.4 1086.5L577.5 1089.3L576.6 1085.1L575.7 1085.2L574.8 1086.1L573.9 1086.2L572.9 1085.2L572 1088.5L571.1 1085.5L570.2 1086.6L569.3 1084.6L568.4 1084.7L567.5 1090.2L566.6 1086.9L565.7 1087.6L564.8 1088L563.9 1086L563 1088.1L562.1 1085.5L561.2 1085.6L560.3 1085.5L559.4 1085.6L558.5 1084.6L557.6 1084.9L556.7 1086.8L555.8 1085.8L554.9 1085.7L554 1085.3L553.1 1088.4L552.2 1085.3L551.3 1089L550.4 1085.6L549.5 1085.3L548.6 1085.4L547.7 1085.4L546.8 1087.1L545.9 1085.9L545 1087L544.1 1090.2L543.2 1088.3L542.3 1088L541.4 1091.2L540.5 1088.6L539.6 1089.8L538.7 1085.9L537.8 1084.9L536.9 1086.3L536 1086.8L535.1 1085.4L534.2 1085.6L533.3 1085.7L532.4 1089.7L531.5 1087.2L530.6 1087.9L529.7 1088.8L528.8 1086.6L527.9 1086.1L527 1086.5L526.1 1086L525.2 1086.9L524.3 1087.3L523.4 1084L522.5 1086.5L521.5 1086.2L520.6 1085.5L519.7 1087L518.8 1085.9L517.9 1084.1L517 1085.1L516.1 1086.6L515.2 1086.2L514.3 1085.1L513.4 1084.4L512.5 1084.9L511.6 1090L510.7 1087.2L509.8 1086L508.9 1082.8L508 1084L507.1 1084.4L506.2 1085.3L505.3 1083.5L504.4 1088L503.5 1085.9L502.6 1086.2L501.7 1086L500.8 1086.5L499.9 1084.4L499 1088.2L498.1 1087.3L497.2 1087.6L496.3 1088.6L495.4 1087.5Z" fill="#ffa500" fill-opacity="0.45"/><path d="M495.4 1030.6L496.3 1029.9L497.2 1031.2L498.1 1030.5L499 1030.5L499.9 1030.1L500.8 1028.2L501.7 1030.3L502.6 1029.5L503.5 1028.6L504.4 1028.4L505.3 1030.9L506.2 1030.8L507.1 1031.9L508 1030.6L508.9 1031.8L509.8 1030.3L510.7 1029.8L511.6 1029.5L512.5 1030.8L513.4 1029.3L514.3 1030.7L515.2 1030.4L516.1 1028.5L517 1031.8L517.9 1030L518.8 1030.8L519.7 1029.6L520.6 1031.2L521.5 1031.3L522.5 1030.2L523.4 1033L524.3 1029.7L525.2 1031.2L526.1 1032.7L527 1029.5L527.9 1028.6L528.8 1029L529.7 1029.7L530.6 1030.5L531.5 1028.5L532.4 1028.8L533.3 1031.1L534.2 1031.5L535.1 1031.7L536 1031.3L536.9 1030.9L537.8 1029.9L538.7 1031.5L539.6 1031.1L540.5 1032.4L541.4 1031.8L542.3 1030.7L543.2 1032.4L544.1 1029.9L545 1029.9L545.9 1029.8L546.8 1027.8L547.7 1031.4L548.6 1031.6L549.5 1030.3L550.4 1028L551.3 1031.9L552.2 1030.5L553.1 1028.8L554 1028.1L554.9 1028.9L555.8 1029.5L556.7 1028.7L557.6 1030.4L558.5 1029.2L559.4 1032.4L560.3 1030.8L561.2 1029.1L562.1 1029.3L563 1029.3L563.9 1030L564.8 1030.4L565.7 1028.7L566.6 1028L567.5 1030.3L568.4 1029.5L569.3 1030.1L570.2 1029L571.1 1027.7L572 1029.5L572.9 1030.4L573.9 1030.4L574.8 1029L575.7 1030L576.6 1029.1L577.5 1031.3L578.4 1029.4L579.3 1030.3L580.2 1029L581.1 1028.6L582 1027.1L582.9 1027.8L583.8 1030.2L584.7 1029L585.6 1030L586.5 1028.3L587.4 1028.5L588.3 1029.3L589.2 1028L590.1 1029.6L591 1028.1L591.9 1028.1L592.8 1029.4L593.7 1028.8L594.6 1030L595.5 1030L596.4 1031.8L597.3 1029.2L598.2 1031.1L599.1 1030.2L600 1030.3L600.9 1031.1L601.8 1028.4L602.7 1028.9L603.6 1029.4L604.5 1031.6L605.4 1030.8L606.3 1029.6L607.2 1028.5L608.1 1026.9L609 1027.8L609.9 1027.9L610.8 1028.9L611.7 1027.5L612.6 1030.3L613.5 1030.7L614.4 1029.6L615.3 1030.5L616.2 1028.4L617.1 1032.1L618 1030L618.9 1032.2L619.8 1031.4L620.7 1032L621.6 1029.4L622.5 1031.3L623.4 1029.7L624.3 1031.5L625.2 1029.1L626.1 1029.3L627 1027.9L627.9 1028.3L628.8 1029.6L629.7 1030.2L630.6 1029L631.5 1030.7L632.4 1028.8L633.3 1031.8L634.2 1031.6L635.1 1029.1L636 1030.5L636.9 1028.7L637.8 1030.6L638.7 1029.9L639.6 1031.1L640.5 1032L641.4 1029.9L642.3 1030.5L643.2 1030.8L644.1 1032.9L645 1031.3L645.9 1030.5L646.8 1031.7L647.7 1031.3L648.6 1029.6L649.5 1031.9L650.5 1031L651.4 1030.9L652.3 1030.6L653.2 1030.9L654.1 1032.5L655 1030.4L655.9 1031.5L656.8 1029.6L657.7 1029.3L658.6 1030.2L659.5 1032L660.4 1030.8L661.3 1032.3L662.2 1030L663.1 1031L664 1032.5L664.9 1031.7L665.8 1031.5L666.7 1031L667.6 1030L668.5 1033L669.4 1034.1L670.3 1030.7L671.2 1033L672.1 1032.3L673 1031.1L673.9 1033.8L674.8 1032.6L675.7 1033.5L676.6 1033.4L677.5 1030.7L678.4 1032.6L679.3 1032.1L680.2 1033.9L681.1 1033.5L682 1030.4L682.9 1029.8L683.8 1031.6L684.7 1032L685.6 1029.9L686.5 1032.8L687.4 1030L688.3 1029.7L689.2 1030.9L690.1 1030.5L691 1031.7L691.9 1032.3L692.8 1031.5L693.7 1030.2L694.6 1032.4L695.5 1033.6L696.4 1033.4L697.3 1031.8L698.2 1034.1L699.1 1032L700 1032.6L700.9 1032.7L701.8 1030.7L702.7 1032L703.6 1031.9L704.5 1030.4L705.4 1030.1L706.3 1028.8L707.2 1029.2L708.1 1030.9L709.1 1032.3L710 1031.5L710.9 1032.7L711.8 1032.3L712.7 1029.8L713.6 1030.5L714.5 1033.6L715.4 1034.1L716.3 1032.4L717.2 1032.8L718.1 1032.4L719 1032.6L719.9 1030.9L720.8 1033.8L721.7 1030.9L722.6 1030.7L723.5 1034.7L724.4 1032.5L725.3 1033.6L726.2 1030.9L727.2 1030.7L728.1 1031.7L729 1031.4L729.9 1033.3L730.8 1034.2L731.7 1031.5L732.6 1028.6L733.5 1033.6L734.4 1033.3L735.3 1030.3L736.2 1029L737.1 1032.2L738 1030.1L738.9 1028.9L739.8 1029.2L740.7 1030.5L741.6 1030.5L742.5 1027.9L743.4 1032L744.4 1031.3L745.3 1030.3L746.2 1028.9L747.1 1032.2L748 1030.1L748.9 1030.1L749.8 1030.8L750.7 1030.5L751.6 1031.6L752.5 1030L753.4 1033.1L754.3 1033.7L755.2 1031.4L756.1 1032.5L757 1034L757.9 1032.6L758.8 1031.2L759.7 1031.9L760.6 1032.4L761.6 1034.3L762.5 1033L763.4 1032.5L764.3 1033.2L765.2 1033L766.1 1034L767 1034.1L767.9 1032L768.8 1031L769.7 1032L770.6 1034.5L771.5 1032L772.4 1032.5L773.3 1034.1L774.2 1033.2L775.1 1035.3L776 1031.6L776.9 1033.6L777.8 1031.3L778.7 1031.1L779.7 1032.5L780.6 1030.9L781.5 1030.7L782.4 1032L783.3 1033.2L784.2 1034.9L785.1 1032.7L786 1032L786.9 1032.9L787.8 1033.8L787.8 1081.8L786.9 1080.5L786 1081.8L785.1 1083.3L784.2 1080.6L783.3 1082.4L782.4 1082.2L781.5 1080.4L780.6 1080.5L779.7 1082.5L778.7 1083.4L777.8 1081.6L776.9 1081.7L776 1083.6L775.1 1082.4L774.2 1083.9L773.3 1082.7L772.4 1082.2L771.5 1082.7L770.6 1084L769.7 1080.5L768.8 1082.3L767.9 1083.1L767 1083.8L766.1 1082.9L765.2 1081.4L764.3 1082.5L763.4 1083.9L762.5 1083.2L761.6 1083.7L760.6 1085.1L759.7 1082L758.8 1084L757.9 1082.9L757 1083.6L756.1 1082.3L755.2 1082.3L754.3 1082.8L753.4 1081.4L752.5 1083L751.6 1082L750.7 1084.7L749.8 1084.8L748.9 1080.3L748 1083.3L747.1 1081.5L746.2 1081.9L745.3 1086.1L744.4 1081.5L743.4 1082.2L742.5 1082L741.6 1083.7L740.7 1083.5L739.8 1085.4L738.9 1083.1L738 1083L737.1 1082.7L736.2 1083.6L735.3 1083.8L734.4 1082.2L733.5 1083.1L732.6 1084.4L731.7 1082.3L730.8 1081.3L729.9 1081.1L729 1080L728.1 1080.2L727.2 1081.9L726.2 1081L725.3 1081.8L724.4 1080.5L723.5 1080.7L722.6 1084.7L721.7 1081.5L720.8 1082.9L719.9 1082.5L719 1082.6L718.1 1082L717.2 1081.2L716.3 1083L715.4 1082.6L714.5 1081.7L713.6 1081.9L712.7 1081.9L711.8 1081.2L710.9 1081.2L710 1081.1L709.1 1080.3L708.1 1082.7L707.2 1081.9L706.3 1084L705.4 1085L704.5 1081.3L703.6 1082.3L702.7 1083.7L701.8 1082.3L700.9 1084.1L700 1081.3L699.1 1082.1L698.2 1084.1L697.3 1083L696.4 1083.8L695.5 1083.2L694.6 1084.3L693.7 1081.7L692.8 1083.3L691.9 1084.4L691 1082.4L690.1 1084.4L689.2 1082.3L688.3 1082.3L687.4 1080.8L686.5 1081.1L685.6 1083.2L684.7 1084.9L683.8 1083.6L682.9 1083.5L682 1082.6L681.1 1083.5L680.2 1083L679.3 1081.8L678.4 1080.1L677.5 1080.4L676.6 1082L675.7 1080.6L674.8 1081.1L673.9 1082L673 1084.1L672.1 1081.6L671.2 1080.7L670.3 1079.7L669.4 1080.6L668.5 1080.7L667.6 1082.7L666.7 1083.4L665.8 1082L664.9 1080.5L664 1083.3L663.1 1080.9L662.2 1083.2L661.3 1085.1L660.4 1082.7L659.5 1084.2L658.6 1082.5L657.7 1083.9L656.8 1083L655.9 1083.1L655 1083.5L654.1 1085.1L653.2 1082.8L652.3 1084.9L651.4 1085.5L650.5 1084.6L649.5 1083.7L648.6 1085.4L647.7 1084L646.8 1084.9L645.9 1085.3L645 1084.7L644.1 1083.2L643.2 1083.3L642.3 1085.1L641.4 1085.4L640.5 1084.3L639.6 1084.2L638.7 1082.2L637.8 1084.4L636.9 1085.7L636 1084L635.1 1084.8L634.2 1083L633.3 1081.7L632.4 1082.1L631.5 1085.7L630.6 1085.6L629.7 1084.8L628.8 1084L627.9 1083.3L627 1085.1L626.1 1085.3L625.2 1083.5L624.3 1080.9L623.4 1085.8L622.5 1083.4L621.6 1084.1L620.7 1085.3L619.8 1085L618.9 1082.8L618 1083.7L617.1 1081.6L616.2 1083.6L615.3 1084.4L614.4 1081.2L613.5 1084.2L612.6 1082.7L611.7 1081.6L610.8 1080.4L609.9 1082.8L609 1080.9L608.1 1083.2L607.2 1084L606.3 1083.1L605.4 1083.7L604.5 1082.7L603.6 1082.2L602.7 1081.6L601.8 1082.8L600.9 1083.4L600 1083.7L599.1 1084L598.2 1085.1L597.3 1084.5L596.4 1085L595.5 1086.4L594.6 1084.8L593.7 1083L592.8 1082.4L591.9 1084.3L591 1083.7L590.1 1083.1L589.2 1084.9L588.3 1082.8L587.4 1083.4L586.5 1084.4L585.6 1083.9L584.7 1084.1L583.8 1086.1L582.9 1082.1L582 1084.9L581.1 1082.5L580.2 1082.6L579.3 1082.3L578.4 1081.7L577.5 1083L576.6 1084L575.7 1084.8L574.8 1083L573.9 1082.3L572.9 1085.6L572 1086.3L571.1 1083.6L570.2 1084.7L569.3 1085.2L568.4 1083.1L567.5 1082.6L566.6 1084.6L565.7 1083.6L564.8 1083.9L563.9 1083.1L563 1083.6L562.1 1080.5L561.2 1083.1L560.3 1082.5L559.4 1083.4L558.5 1083.5L557.6 1082.5L556.7 1083.5L555.8 1082.6L554.9 1084.1L554 1086.6L553.1 1083.4L552.2 1084.5L551.3 1083L550.4 1081L549.5 1083.4L548.6 1084L547.7 1082.8L546.8 1084L545.9 1083.3L545 1082.5L544.1 1084.4L543.2 1084L542.3 1086.8L541.4 1084.5L540.5 1085.1L539.6 1084.5L538.7 1084.4L537.8 1083.5L536.9 1082.2L536 1083.1L535.1 1085.3L534.2 1087.2L533.3 1084.4L532.4 1084.2L531.5 1082.3L530.6 1082.8L529.7 1082.6L528.8 1084L527.9 1083.7L527 1084.6L526.1 1084.7L525.2 1082L524.3 1084.7L523.4 1081.1L522.5 1081L521.5 1081.3L520.6 1085.3L519.7 1082.9L518.8 1084L517.9 1082.9L517 1082.1L516.1 1081.3L515.2 1082L514.3 1082.8L513.4 1083L512.5 1084L511.6 1083.8L510.7 1082.1L509.8 1082.6L508.9 1081.9L508 1083L507.1 1081.1L506.2 1080.7L505.3 1082L504.4 1084.7L503.5 1082.2L502.6 1085.5L501.7 1084.3L500.8 1085.6L499.9 1084.6L499 1084L498.1 1085.8L497.2 1081.3L496.3 1080.9L495.4 1084.6Z" fill="#ffa500"/><rect x="495.1" y="1036" width="1.3" height="42" fill="#ffa500"/><path d="M507.4 1093.6l1.6 1.6l-1.6 1.6l-1.6 -1.6ZM718.5 1094.5l1.6 1.6l-1.6 1.6l-1.6 -1.6ZM568.8 1017.7l1.6 1.6l-1.6 1.6l-1.6 -1.6ZM731.2 1096l1.6 1.6l-1.6 1.6l-1.6 -1.6ZM639.8 1092.1l1.6 1.6l-1.6 1.6l-1.6 -1.6ZM574.2 1095.2l1.6 1.6l-1.6 1.6l-1.6 -1.6ZM773 1012.5l1.6 1.6l-1.6 1.6l-1.6 -1.6ZM770.6 1095.9l1.6 1.6l-1.6 1.6l-1.6 -1.6ZM715.6 1094.3l1.6 1.6l-1.6 1.6l-1.6 -1.6ZM560.6 1091.6l1.6 1.6l-1.6 1.6l-1.6 -1.6ZM675.2 1016.6l1.6 1.6l-1.6 1.6l-1.6 -1.6ZM637.9 1015.7l1.6 1.6l-1.6 1.6l-1.6 -1.6ZM778.2 1019.1l1.6 1.6l-1.6 1.6l-1.6 -1.6ZM547.1 1016l1.6 1.6l-1.6 1.6l-1.6 -1.6ZM639.7 1018l1.6 1.6l-1.6 1.6l-1.6 -1.6ZM595.2 1091.1l1.6 1.6l-1.6 1.6l-1.6 -1.6ZM533.6 1016.2l1.6 1.6l-1.6 1.6l-1.6 -1.6ZM623.7 1010.9l1.6 1.6l-1.6 1.6l-1.6 -1.6ZM559.2 1092l1.6 1.6l-1.6 1.6l-1.6 -1.6ZM728.1 1100.6l1.6 1.6l-1.6 1.6l-1.6 -1.6ZM687.1 1092.1l1.6 1.6l-1.6 1.6l-1.6 -1.6ZM711.6 1018.4l1.6 1.6l-1.6 1.6l-1.6 -1.6ZM661.1 1090.1l1.6 1.6l-1.6 1.6l-1.6 -1.6ZM617 1020l1.6 1.6l-1.6 1.6l-1.6 -1.6ZM522.7 1098.4l1.6 1.6l-1.6 1.6l-1.6 -1.6ZM770.4 1090.2l1.6 1.6l-1.6 1.6l-1.6 -1.6ZM525.4 1101.8l1.6 1.6l-1.6 1.6l-1.6 -1.6ZM705.6 1018.8l1.6 1.6l-1.6 1.6l-1.6 -1.6ZM510 1090.1l1.6 1.6l-1.6 1.6l-1.6 -1.6ZM655.1 1090.9l1.6 1.6l-1.6 1.6l-1.6 -1.6ZM681.2 1095.7l1.6 1.6l-1.6 1.6l-1.6 -1.6ZM715.9 1093.1l1.6 1.6l-1.6 1.6l-1.6 -1.6ZM631.9 1014.4l1.6 1.6l-1.6 1.6l-1.6 -1.6ZM503.6 1097.2l1.6 1.6l-1.6 1.6l-1.6 -1.6ZM522.3 1090.1l1.6 1.6l-1.6 1.6l-1.6 -1.6ZM617.9 1100.9l1.6 1.6l-1.6 1.6l-1.6 -1.6ZM640.3 1015.5l1.6 1.6l-1.6 1.6l-1.6 -1.6ZM683.9 1096.2l1.6 1.6l-1.6 1.6l-1.6 -1.6ZM537 1017.5l1.6 1.6l-1.6 1.6l-1.6 -1.6ZM577.9 1017.7l1.6 1.6l-1.6 1.6l-1.6 -1.6ZM701.2 1020.2l1.6 1.6l-1.6 1.6l-1.6 -1.6ZM544.4 1016.5l1.6 1.6l-1.6 1.6l-1.6 -1.6ZM745 1097.3l1.6 1.6l-1.6 1.6l-1.6 -1.6ZM726.1 1091.4l1.6 1.6l-1.6 1.6l-1.6 -1.6ZM770.2 1018.7l1.6 1.6l-1.6 1.6l-1.6 -1.6ZM726.2 1091.9l1.6 1.6l-1.6 1.6l-1.6 -1.6ZM649 1091.6l1.6 1.6l-1.6 1.6l-1.6 -1.6ZM653.2 1095.4l1.6 1.6l-1.6 1.6l-1.6 -1.6ZM618.4 1099.8l1.6 1.6l-1.6 1.6l-1.6 -1.6ZM768 1008.2l1.6 1.6l-1.6 1.6l-1.6 -1.6ZM723.6 1017.9l1.6 1.6l-1.6 1.6l-1.6 -1.6ZM526.9 1090.6l1.6 1.6l-1.6 1.6l-1.6 -1.6ZM746 1093.8l1.6 1.6l-1.6 1.6l-1.6 -1.6ZM672.4 1016l1.6 1.6l-1.6 1.6l-1.6 -1.6ZM716.1 1093.9l1.6 1.6l-1.6 1.6l-1.6 -1.6ZM773.1 1092.3l1.6 1.6l-1.6 1.6l-1.6 -1.6ZM649.1 1020.2l1.6 1.6l-1.6 1.6l-1.6 -1.6ZM608.1 1016.6l1.6 1.6l-1.6 1.6l-1.6 -1.6ZM745 1014.6l1.6 1.6l-1.6 1.6l-1.6 -1.6ZM688.7 1090.6l1.6 1.6l-1.6 1.6l-1.6 -1.6ZM705.1 1013.7l1.6 1.6l-1.6 1.6l-1.6 -1.6ZM628 1090.4l1.6 1.6l-1.6 1.6l-1.6 -1.6ZM773.8 1094.6l1.6 1.6l-1.6 1.6l-1.6 -1.6ZM699.9 1095.6l1.6 1.6l-1.6 1.6l-1.6 -1.6ZM711.1 1011.6l1.6 1.6l-1.6 1.6l-1.6 -1.6ZM674 1104.8l1.6 1.6l-1.6 1.6l-1.6 -1.6ZM673.6 1014.7l1.6 1.6l-1.6 1.6l-1.6 -1.6ZM753.4 1017.6l1.6 1.6l-1.6 1.6l-1.6 -1.6ZM544.1 1092.4l1.6 1.6l-1.6 1.6l-1.6 -1.6ZM595.9 1097.8l1.6 1.6l-1.6 1.6l-1.6 -1.6ZM719.9 1018.6l1.6 1.6l-1.6 1.6l-1.6 -1.6ZM562.2 1097.2l1.6 1.6l-1.6 1.6l-1.6 -1.6ZM692 1091.6l1.6 1.6l-1.6 1.6l-1.6 -1.6ZM681.2 1014l1.6 1.6l-1.6 1.6l-1.6 -1.6ZM629.9 1017.2l1.6 1.6l-1.6 1.6l-1.6 -1.6ZM604.1 1095.2l1.6 1.6l-1.6 1.6l-1.6 -1.6ZM654.5 1096.9l1.6 1.6l-1.6 1.6l-1.6 -1.6ZM528.8 1092.5l1.6 1.6l-1.6 1.6l-1.6 -1.6ZM769.3 1090.1l1.6 1.6l-1.6 1.6l-1.6 -1.6ZM521.5 1017.6l1.6 1.6l-1.6 1.6l-1.6 -1.6ZM706.1 1094.8l1.6 1.6l-1.6 1.6l-1.6 -1.6ZM731.8 1017.1l1.6 1.6l-1.6 1.6l-1.6 -1.6ZM713.9 1020.1l1.6 1.6l-1.6 1.6l-1.6 -1.6ZM702.1 1090.4l1.6 1.6l-1.6 1.6l-1.6 -1.6ZM701.5 1017.4l1.6 1.6l-1.6 1.6l-1.6 -1.6ZM759.4 1094.6l1.6 1.6l-1.6 1.6l-1.6 -1.6ZM635.1 1098.9l1.6 1.6l-1.6 1.6l-1.6 -1.6ZM716.5 1093.6l1.6 1.6l-1.6 1.6l-1.6 -1.6ZM590.5 1010l1.6 1.6l-1.6 1.6l-1.6 -1.6ZM686.3 1093.2l1.6 1.6l-1.6 1.6l-1.6 -1.6ZM586 1017l1.6 1.6l-1.6 1.6l-1.6 -1.6ZM661 1017.7l1.6 1.6l-1.6 1.6l-1.6 -1.6ZM778.7 1018l1.6 1.6l-1.6 1.6l-1.6 -1.6ZM627 1014.8l1.6 1.6l-1.6 1.6l-1.6 -1.6ZM625.9 1015.6l1.6 1.6l-1.6 1.6l-1.6 -1.6ZM702.9 1010.2l1.6 1.6l-1.6 1.6l-1.6 -1.6ZM641.7 1017.1l1.6 1.6l-1.6 1.6l-1.6 -1.6ZM558.4 1091.6l1.6 1.6l-1.6 1.6l-1.6 -1.6ZM759 1101.6l1.6 1.6l-1.6 1.6l-1.6 -1.6ZM614.2 1019.9l1.6 1.6l-1.6 1.6l-1.6 -1.6ZM506.3 1014.3l1.6 1.6l-1.6 1.6l-1.6 -1.6ZM522.7 1019.6l1.6 1.6l-1.6 1.6l-1.6 -1.6ZM524.4 1016.7l1.6 1.6l-1.6 1.6l-1.6 -1.6ZM756.6 1013.6l1.6 1.6l-1.6 1.6l-1.6 -1.6ZM766.1 1094.9l1.6 1.6l-1.6 1.6l-1.6 -1.6ZM668.7 1013.6l1.6 1.6l-1.6 1.6l-1.6 -1.6ZM627.4 1011.9l1.6 1.6l-1.6 1.6l-1.6 -1.6ZM613.3 1019.7l1.6 1.6l-1.6 1.6l-1.6 -1.6ZM565.8 1093.6l1.6 1.6l-1.6 1.6l-1.6 -1.6ZM584.7 1092.1l1.6 1.6l-1.6 1.6l-1.6 -1.6ZM511 1091.8l1.6 1.6l-1.6 1.6l-1.6 -1.6ZM709.9 1090.1l1.6 1.6l-1.6 1.6l-1.6 -1.6ZM644.9 1096.8l1.6 1.6l-1.6 1.6l-1.6 -1.6ZM775.6 1091.3l1.6 1.6l-1.6 1.6l-1.6 -1.6ZM624.7 1016.5l1.6 1.6l-1.6 1.6l-1.6 -1.6ZM585.8 1017l1.6 1.6l-1.6 1.6l-1.6 -1.6ZM622.6 1092.9l1.6 1.6l-1.6 1.6l-1.6 -1.6ZM723.8 1092.3l1.6 1.6l-1.6 1.6l-1.6 -1.6ZM687.8 1090.9l1.6 1.6l-1.6 1.6l-1.6 -1.6ZM723.4 1092l1.6 1.6l-1.6 1.6l-1.6 -1.6ZM675.4 1090.5l1.6 1.6l-1.6 1.6l-1.6 -1.6ZM766 1019.8l1.6 1.6l-1.6 1.6l-1.6 -1.6ZM568.5 1092.5l1.6 1.6l-1.6 1.6l-1.6 -1.6ZM586.8 1016l1.6 1.6l-1.6 1.6l-1.6 -1.6ZM735.8 1016.5l1.6 1.6l-1.6 1.6l-1.6 -1.6ZM708.6 1090.3l1.6 1.6l-1.6 1.6l-1.6 -1.6ZM520.5 1092.3l1.6 1.6l-1.6 1.6l-1.6 -1.6ZM563.5 1017.7l1.6 1.6l-1.6 1.6l-1.6 -1.6ZM768.9 1017.2l1.6 1.6l-1.6 1.6l-1.6 -1.6ZM510.1 1007.8l1.6 1.6l-1.6 1.6l-1.6 -1.6ZM505.3 1016.7l1.6 1.6l-1.6 1.6l-1.6 -1.6ZM626.8 1090.9l1.6 1.6l-1.6 1.6l-1.6 -1.6ZM762.6 1097.5l1.6 1.6l-1.6 1.6l-1.6 -1.6ZM718.3 1013.5l1.6 1.6l-1.6 1.6l-1.6 -1.6ZM737.4 1016.3l1.6 1.6l-1.6 1.6l-1.6 -1.6ZM610.8 1094.5l1.6 1.6l-1.6 1.6l-1.6 -1.6ZM759.4 1016l1.6 1.6l-1.6 1.6l-1.6 -1.6ZM541.6 1009.5l1.6 1.6l-1.6 1.6l-1.6 -1.6ZM768.9 1012.3l1.6 1.6l-1.6 1.6l-1.6 -1.6ZM548.9 1014l1.6 1.6l-1.6 1.6l-1.6 -1.6ZM776.9 1091l1.6 1.6l-1.6 1.6l-1.6 -1.6ZM512.9 1093.1l1.6 1.6l-1.6 1.6l-1.6 -1.6ZM759.2 1090.4l1.6 1.6l-1.6 1.6l-1.6 -1.6ZM671.2 1094.5l1.6 1.6l-1.6 1.6l-1.6 -1.6ZM576.7 1090.2l1.6 1.6l-1.6 1.6l-1.6 -1.6ZM572.1 1020.3l1.6 1.6l-1.6 1.6l-1.6 -1.6ZM619.2 1091.2l1.6 1.6l-1.6 1.6l-1.6 -1.6ZM712.5 1091.4l1.6 1.6l-1.6 1.6l-1.6 -1.6ZM718.6 1018.3l1.6 1.6l-1.6 1.6l-1.6 -1.6ZM621.9 1100.5l1.6 1.6l-1.6 1.6l-1.6 -1.6ZM530.5 1019l1.6 1.6l-1.6 1.6l-1.6 -1.6ZM654.3 1093.9l1.6 1.6l-1.6 1.6l-1.6 -1.6ZM753 1093.7l1.6 1.6l-1.6 1.6l-1.6 -1.6ZM511.3 1018.1l1.6 1.6l-1.6 1.6l-1.6 -1.6ZM618.4 1016.3l1.6 1.6l-1.6 1.6l-1.6 -1.6ZM595 1016l1.6 1.6l-1.6 1.6l-1.6 -1.6ZM781.7 1093.5l1.6 1.6l-1.6 1.6l-1.6 -1.6ZM640.3 1100l1.6 1.6l-1.6 1.6l-1.6 -1.6ZM727.6 1012.8l1.6 1.6l-1.6 1.6l-1.6 -1.6ZM616.7 1013.2l1.6 1.6l-1.6 1.6l-1.6 -1.6ZM576.2 1016.7l1.6 1.6l-1.6 1.6l-1.6 -1.6ZM679.9 1016.6l1.6 1.6l-1.6 1.6l-1.6 -1.6ZM766.3 1008.9l1.6 1.6l-1.6 1.6l-1.6 -1.6ZM593 1090.6l1.6 1.6l-1.6 1.6l-1.6 -1.6ZM616.4 1092l1.6 1.6l-1.6 1.6l-1.6 -1.6ZM638.2 1013.3l1.6 1.6l-1.6 1.6l-1.6 -1.6ZM642.6 1092.7l1.6 1.6l-1.6 1.6l-1.6 -1.6ZM547.3 1099.6l1.6 1.6l-1.6 1.6l-1.6 -1.6ZM659.6 1020.4l1.6 1.6l-1.6 1.6l-1.6 -1.6ZM639.1 1018.5l1.6 1.6l-1.6 1.6l-1.6 -1.6ZM759.4 1019.8l1.6 1.6l-1.6 1.6l-1.6 -1.6ZM681.2 1099.6l1.6 1.6l-1.6 1.6l-1.6 -1.6ZM586.6 1092.3l1.6 1.6l-1.6 1.6l-1.6 -1.6ZM683.1 1094.2l1.6 1.6l-1.6 1.6l-1.6 -1.6ZM576.5 1017.2l1.6 1.6l-1.6 1.6l-1.6 -1.6ZM529 1098.1l1.6 1.6l-1.6 1.6l-1.6 -1.6ZM766.1 1016.8l1.6 1.6l-1.6 1.6l-1.6 -1.6ZM506.3 1019.5l1.6 1.6l-1.6 1.6l-1.6 -1.6ZM625.6 1093.1l1.6 1.6l-1.6 1.6l-1.6 -1.6ZM739.5 1090.2l1.6 1.6l-1.6 1.6l-1.6 -1.6ZM779.1 1095.6l1.6 1.6l-1.6 1.6l-1.6 -1.6ZM591.3 1096.9l1.6 1.6l-1.6 1.6l-1.6 -1.6ZM704.1 1017.1l1.6 1.6l-1.6 1.6l-1.6 -1.6ZM613.9 1094.2l1.6 1.6l-1.6 1.6l-1.6 -1.6ZM626.1 1016.5l1.6 1.6l-1.6 1.6l-1.6 -1.6ZM602.6 1093.5l1.6 1.6l-1.6 1.6l-1.6 -1.6ZM497.7 1018.6l1.6 1.6l-1.6 1.6l-1.6 -1.6ZM663 1007.4l1.6 1.6l-1.6 1.6l-1.6 -1.6ZM535 1020.1l1.6 1.6l-1.6 1.6l-1.6 -1.6ZM595.9 1019.6l1.6 1.6l-1.6 1.6l-1.6 -1.6ZM696.5 1018.2l1.6 1.6l-1.6 1.6l-1.6 -1.6ZM614.2 1015.4l1.6 1.6l-1.6 1.6l-1.6 -1.6ZM587.7 1098l1.6 1.6l-1.6 1.6l-1.6 -1.6ZM725.9 1011.7l1.6 1.6l-1.6 1.6l-1.6 -1.6ZM765.5 1017.9l1.6 1.6l-1.6 1.6l-1.6 -1.6ZM588.8 1090.3l1.6 1.6l-1.6 1.6l-1.6 -1.6ZM783.2 1011.4l1.6 1.6l-1.6 1.6l-1.6 -1.6ZM732.2 1014.7l1.6 1.6l-1.6 1.6l-1.6 -1.6ZM631.1 1092.6l1.6 1.6l-1.6 1.6l-1.6 -1.6ZM743.2 1091.1l1.6 1.6l-1.6 1.6l-1.6 -1.6ZM581.1 1018.9l1.6 1.6l-1.6 1.6l-1.6 -1.6ZM704.2 1091.8l1.6 1.6l-1.6 1.6l-1.6 -1.6ZM522.7 1093.1l1.6 1.6l-1.6 1.6l-1.6 -1.6ZM686 1099.1l1.6 1.6l-1.6 1.6l-1.6 -1.6ZM604.1 1090.8l1.6 1.6l-1.6 1.6l-1.6 -1.6ZM561.5 1014.8l1.6 1.6l-1.6 1.6l-1.6 -1.6ZM575.6 1097l1.6 1.6l-1.6 1.6l-1.6 -1.6ZM682.1 1016.3l1.6 1.6l-1.6 1.6l-1.6 -1.6ZM515 1099.1l1.6 1.6l-1.6 1.6l-1.6 -1.6ZM769.2 1013.8l1.6 1.6l-1.6 1.6l-1.6 -1.6ZM542.1 1091.1l1.6 1.6l-1.6 1.6l-1.6 -1.6ZM566.9 1100.5l1.6 1.6l-1.6 1.6l-1.6 -1.6ZM583.5 1012.8l1.6 1.6l-1.6 1.6l-1.6 -1.6ZM721.2 1016.8l1.6 1.6l-1.6 1.6l-1.6 -1.6ZM550 1017.5l1.6 1.6l-1.6 1.6l-1.6 -1.6ZM767 1020.4l1.6 1.6l-1.6 1.6l-1.6 -1.6ZM618.7 1017.6l1.6 1.6l-1.6 1.6l-1.6 -1.6ZM644.5 1090.6l1.6 1.6l-1.6 1.6l-1.6 -1.6ZM620 1019.8l1.6 1.6l-1.6 1.6l-1.6 -1.6ZM541.5 1090l1.6 1.6l-1.6 1.6l-1.6 -1.6ZM665.5 1093.9l1.6 1.6l-1.6 1.6l-1.6 -1.6ZM505.6 1011.3l1.6 1.6l-1.6 1.6l-1.6 -1.6ZM536.3 1094.1l1.6 1.6l-1.6 1.6l-1.6 -1.6ZM537 1014.3l1.6 1.6l-1.6 1.6l-1.6 -1.6ZM512.9 1097.7l1.6 1.6l-1.6 1.6l-1.6 -1.6ZM649.9 1017.7l1.6 1.6l-1.6 1.6l-1.6 -1.6ZM519.2 1095.9l1.6 1.6l-1.6 1.6l-1.6 -1.6ZM572.9 1094.8l1.6 1.6l-1.6 1.6l-1.6 -1.6ZM780.2 1098.2l1.6 1.6l-1.6 1.6l-1.6 -1.6ZM499.5 1016.2l1.6 1.6l-1.6 1.6l-1.6 -1.6ZM613.4 1019.8l1.6 1.6l-1.6 1.6l-1.6 -1.6ZM723.1 1011.5l1.6 1.6l-1.6 1.6l-1.6 -1.6ZM727.3 1016.6l1.6 1.6l-1.6 1.6l-1.6 -1.6ZM568.4 1093.7l1.6 1.6l-1.6 1.6l-1.6 -1.6ZM516.3 1092.7l1.6 1.6l-1.6 1.6l-1.6 -1.6ZM622.4 1097l1.6 1.6l-1.6 1.6l-1.6 -1.6ZM525.8 1017.7l1.6 1.6l-1.6 1.6l-1.6 -1.6ZM782.3 1091l1.6 1.6l-1.6 1.6l-1.6 -1.6ZM611.7 1013.4l1.6 1.6l-1.6 1.6l-1.6 -1.6ZM607 1090.9l1.6 1.6l-1.6 1.6l-1.6 -1.6ZM714.6 1096.1l1.6 1.6l-1.6 1.6l-1.6 -1.6ZM496.8 1095.9l1.6 1.6l-1.6 1.6l-1.6 -1.6ZM704.2 1091.5l1.6 1.6l-1.6 1.6l-1.6 -1.6ZM602.2 1020.1l1.6 1.6l-1.6 1.6l-1.6 -1.6ZM542.3 1017.8l1.6 1.6l-1.6 1.6l-1.6 -1.6ZM604.3 1017.3l1.6 1.6l-1.6 1.6l-1.6 -1.6ZM706.1 1091.1l1.6 1.6l-1.6 1.6l-1.6 -1.6ZM614.7 1018.7l1.6 1.6l-1.6 1.6l-1.6 -1.6ZM660.1 1019.3l1.6 1.6l-1.6 1.6l-1.6 -1.6ZM675 1017.1l1.6 1.6l-1.6 1.6l-1.6 -1.6ZM583.4 1090.6l1.6 1.6l-1.6 1.6l-1.6 -1.6ZM784.7 1018.6l1.6 1.6l-1.6 1.6l-1.6 -1.6ZM685.7 1013.7l1.6 1.6l-1.6 1.6l-1.6 -1.6ZM784 1091.8l1.6 1.6l-1.6 1.6l-1.6 -1.6ZM578.1 1095.8l1.6 1.6l-1.6 1.6l-1.6 -1.6ZM576.9 1094.5l1.6 1.6l-1.6 1.6l-1.6 -1.6ZM582.7 1095.8l1.6 1.6l-1.6 1.6l-1.6 -1.6ZM725.4 1018.8l1.6 1.6l-1.6 1.6l-1.6 -1.6ZM644.4 1019.1l1.6 1.6l-1.6 1.6l-1.6 -1.6ZM562 1090.9l1.6 1.6l-1.6 1.6l-1.6 -1.6ZM715.3 1017.6l1.6 1.6l-1.6 1.6l-1.6 -1.6ZM736.4 1090l1.6 1.6l-1.6 1.6l-1.6 -1.6ZM784.4 1014.3l1.6 1.6l-1.6 1.6l-1.6 -1.6ZM673.6 1017.3l1.6 1.6l-1.6 1.6l-1.6 -1.6ZM705.8 1012.5l1.6 1.6l-1.6 1.6l-1.6 -1.6ZM505.2 1019.5l1.6 1.6l-1.6 1.6l-1.6 -1.6ZM781.3 1097.9l1.6 1.6l-1.6 1.6l-1.6 -1.6ZM652.5 1093.9l1.6 1.6l-1.6 1.6l-1.6 -1.6ZM671.2 1015.5l1.6 1.6l-1.6 1.6l-1.6 -1.6ZM748.6 1018.6l1.6 1.6l-1.6 1.6l-1.6 -1.6ZM593.5 1095.7l1.6 1.6l-1.6 1.6l-1.6 -1.6ZM610.3 1018.3l1.6 1.6l-1.6 1.6l-1.6 -1.6ZM672 1018.6l1.6 1.6l-1.6 1.6l-1.6 -1.6ZM692.3 1090.6l1.6 1.6l-1.6 1.6l-1.6 -1.6ZM754.6 1092.2l1.6 1.6l-1.6 1.6l-1.6 -1.6ZM682.7 1099l1.6 1.6l-1.6 1.6l-1.6 -1.6ZM724.5 1091.3l1.6 1.6l-1.6 1.6l-1.6 -1.6ZM537.7 1091.1l1.6 1.6l-1.6 1.6l-1.6 -1.6ZM541.4 1093.4l1.6 1.6l-1.6 1.6l-1.6 -1.6ZM523.2 1090.9l1.6 1.6l-1.6 1.6l-1.6 -1.6ZM773 1014.1l1.6 1.6l-1.6 1.6l-1.6 -1.6ZM722.5 1090.7l1.6 1.6l-1.6 1.6l-1.6 -1.6ZM748 1018.4l1.6 1.6l-1.6 1.6l-1.6 -1.6ZM649.3 1101.7l1.6 1.6l-1.6 1.6l-1.6 -1.6ZM677.6 1102.5l1.6 1.6l-1.6 1.6l-1.6 -1.6ZM541.8 1014.5l1.6 1.6l-1.6 1.6l-1.6 -1.6ZM546.1 1090.5l1.6 1.6l-1.6 1.6l-1.6 -1.6ZM559.3 1090.4l1.6 1.6l-1.6 1.6l-1.6 -1.6ZM570.9 1011.6l1.6 1.6l-1.6 1.6l-1.6 -1.6ZM505.7 1093l1.6 1.6l-1.6 1.6l-1.6 -1.6ZM770.7 1090.9l1.6 1.6l-1.6 1.6l-1.6 -1.6ZM745.1 1017.4l1.6 1.6l-1.6 1.6l-1.6 -1.6ZM730.8 1019.4l1.6 1.6l-1.6 1.6l-1.6 -1.6ZM580.8 1095.3l1.6 1.6l-1.6 1.6l-1.6 -1.6ZM772.5 1018.1l1.6 1.6l-1.6 1.6l-1.6 -1.6ZM516.9 1014.4l1.6 1.6l-1.6 1.6l-1.6 -1.6ZM673.3 1016.9l1.6 1.6l-1.6 1.6l-1.6 -1.6ZM692.9 1017.1l1.6 1.6l-1.6 1.6l-1.6 -1.6ZM603.5 1014.1l1.6 1.6l-1.6 1.6l-1.6 -1.6ZM581.7 1091.4l1.6 1.6l-1.6 1.6l-1.6 -1.6ZM551.1 1099.9l1.6 1.6l-1.6 1.6l-1.6 -1.6ZM702.9 1101.6l1.6 1.6l-1.6 1.6l-1.6 -1.6ZM560.8 1096.8l1.6 1.6l-1.6 1.6l-1.6 -1.6ZM670.6 1017.8l1.6 1.6l-1.6 1.6l-1.6 -1.6ZM757.3 1092.2l1.6 1.6l-1.6 1.6l-1.6 -1.6ZM692.9 1090.7l1.6 1.6l-1.6 1.6l-1.6 -1.6ZM582 1095.8l1.6 1.6l-1.6 1.6l-1.6 -1.6ZM575.9 1095.9l1.6 1.6l-1.6 1.6l-1.6 -1.6ZM667.6 1018.1l1.6 1.6l-1.6 1.6l-1.6 -1.6ZM540.4 1090.3l1.6 1.6l-1.6 1.6l-1.6 -1.6ZM780.6 1101.6l1.6 1.6l-1.6 1.6l-1.6 -1.6ZM760.4 1098.9l1.6 1.6l-1.6 1.6l-1.6 -1.6ZM501.1 1019.1l1.6 1.6l-1.6 1.6l-1.6 -1.6ZM768 1096.4l1.6 1.6l-1.6 1.6l-1.6 -1.6ZM621.3 1094.3l1.6 1.6l-1.6 1.6l-1.6 -1.6ZM573.5 1018l1.6 1.6l-1.6 1.6l-1.6 -1.6ZM776.7 1090.5l1.6 1.6l-1.6 1.6l-1.6 -1.6ZM703.2 1093l1.6 1.6l-1.6 1.6l-1.6 -1.6ZM581.9 1091.8l1.6 1.6l-1.6 1.6l-1.6 -1.6ZM737.5 1015.9l1.6 1.6l-1.6 1.6l-1.6 -1.6ZM771.1 1091.2l1.6 1.6l-1.6 1.6l-1.6 -1.6ZM613.8 1096.5l1.6 1.6l-1.6 1.6l-1.6 -1.6ZM515.2 1090.9l1.6 1.6l-1.6 1.6l-1.6 -1.6ZM519.7 1017.7l1.6 1.6l-1.6 1.6l-1.6 -1.6ZM520.1 1096.1l1.6 1.6l-1.6 1.6l-1.6 -1.6ZM667.8 1009l1.6 1.6l-1.6 1.6l-1.6 -1.6ZM742.2 1019.8l1.6 1.6l-1.6 1.6l-1.6 -1.6ZM532.4 1094.3l1.6 1.6l-1.6 1.6l-1.6 -1.6ZM722.9 1019.1l1.6 1.6l-1.6 1.6l-1.6 -1.6ZM632 1094.3l1.6 1.6l-1.6 1.6l-1.6 -1.6ZM715.4 1018.5l1.6 1.6l-1.6 1.6l-1.6 -1.6ZM582.2 1018.7l1.6 1.6l-1.6 1.6l-1.6 -1.6ZM558.1 1096.2l1.6 1.6l-1.6 1.6l-1.6 -1.6ZM670.7 1094.6l1.6 1.6l-1.6 1.6l-1.6 -1.6ZM700.4 1019l1.6 1.6l-1.6 1.6l-1.6 -1.6ZM503.9 1019.4l1.6 1.6l-1.6 1.6l-1.6 -1.6ZM586.3 1094.9l1.6 1.6l-1.6 1.6l-1.6 -1.6ZM574.3 1019.9l1.6 1.6l-1.6 1.6l-1.6 -1.6ZM784.8 1014.9l1.6 1.6l-1.6 1.6l-1.6 -1.6ZM742.4 1015.8l1.6 1.6l-1.6 1.6l-1.6 -1.6ZM770.8 1018.5l1.6 1.6l-1.6 1.6l-1.6 -1.6ZM766.7 1012.4l1.6 1.6l-1.6 1.6l-1.6 -1.6ZM754.7 1017l1.6 1.6l-1.6 1.6l-1.6 -1.6ZM662.5 1095.4l1.6 1.6l-1.6 1.6l-1.6 -1.6ZM698.6 1018.5l1.6 1.6l-1.6 1.6l-1.6 -1.6ZM551.5 1012l1.6 1.6l-1.6 1.6l-1.6 -1.6ZM507.7 1090l1.6 1.6l-1.6 1.6l-1.6 -1.6ZM551.4 1090.6l1.6 1.6l-1.6 1.6l-1.6 -1.6ZM634.2 1014.7l1.6 1.6l-1.6 1.6l-1.6 -1.6ZM601.1 1095.3l1.6 1.6l-1.6 1.6l-1.6 -1.6ZM621.4 1013.6l1.6 1.6l-1.6 1.6l-1.6 -1.6ZM647.6 1098l1.6 1.6l-1.6 1.6l-1.6 -1.6ZM500.7 1014.2l1.6 1.6l-1.6 1.6l-1.6 -1.6ZM737.5 1016.9l1.6 1.6l-1.6 1.6l-1.6 -1.6ZM626.7 1094.8l1.6 1.6l-1.6 1.6l-1.6 -1.6ZM780.2 1013.8l1.6 1.6l-1.6 1.6l-1.6 -1.6ZM681.1 1096.3l1.6 1.6l-1.6 1.6l-1.6 -1.6ZM783.6 1020.2l1.6 1.6l-1.6 1.6l-1.6 -1.6ZM520.2 1095.1l1.6 1.6l-1.6 1.6l-1.6 -1.6ZM665.9 1014.4l1.6 1.6l-1.6 1.6l-1.6 -1.6ZM761.2 1093.8l1.6 1.6l-1.6 1.6l-1.6 -1.6ZM529.8 1020.3l1.6 1.6l-1.6 1.6l-1.6 -1.6ZM772.3 1013.8l1.6 1.6l-1.6 1.6l-1.6 -1.6ZM538.7 1093.2l1.6 1.6l-1.6 1.6l-1.6 -1.6ZM503.6 1092.5l1.6 1.6l-1.6 1.6l-1.6 -1.6ZM752.6 1012.6l1.6 1.6l-1.6 1.6l-1.6 -1.6ZM535.7 1019.1l1.6 1.6l-1.6 1.6l-1.6 -1.6ZM585.1 1018.3l1.6 1.6l-1.6 1.6l-1.6 -1.6ZM774.3 1098.3l1.6 1.6l-1.6 1.6l-1.6 -1.6ZM543.9 1090.6l1.6 1.6l-1.6 1.6l-1.6 -1.6ZM537.6 1008.8l1.6 1.6l-1.6 1.6l-1.6 -1.6ZM555.8 1093.8l1.6 1.6l-1.6 1.6l-1.6 -1.6ZM544.4 1017.2l1.6 1.6l-1.6 1.6l-1.6 -1.6ZM620.4 1090.4l1.6 1.6l-1.6 1.6l-1.6 -1.6ZM540.7 1012.7l1.6 1.6l-1.6 1.6l-1.6 -1.6ZM541.1 1010.4l1.6 1.6l-1.6 1.6l-1.6 -1.6ZM743.7 1094.1l1.6 1.6l-1.6 1.6l-1.6 -1.6ZM630.8 1095.7l1.6 1.6l-1.6 1.6l-1.6 -1.6ZM561.6 1018.5l1.6 1.6l-1.6 1.6l-1.6 -1.6ZM586 1093.8l1.6 1.6l-1.6 1.6l-1.6 -1.6ZM527.6 1091l1.6 1.6l-1.6 1.6l-1.6 -1.6ZM560.5 1095.7l1.6 1.6l-1.6 1.6l-1.6 -1.6ZM575 1017l1.6 1.6l-1.6 1.6l-1.6 -1.6ZM705.6 1019.2l1.6 1.6l-1.6 1.6l-1.6 -1.6ZM672.4 1090.5l1.6 1.6l-1.6 1.6l-1.6 -1.6ZM620 1094l1.6 1.6l-1.6 1.6l-1.6 -1.6ZM698.9 1019.3l1.6 1.6l-1.6 1.6l-1.6 -1.6ZM679.8 1014.5l1.6 1.6l-1.6 1.6l-1.6 -1.6ZM568.7 1016.7l1.6 1.6l-1.6 1.6l-1.6 -1.6ZM590.6 1090.3l1.6 1.6l-1.6 1.6l-1.6 -1.6ZM665 1017.7l1.6 1.6l-1.6 1.6l-1.6 -1.6ZM581.9 1091l1.6 1.6l-1.6 1.6l-1.6 -1.6ZM697.4 1017.8l1.6 1.6l-1.6 1.6l-1.6 -1.6ZM758.1 1095.5l1.6 1.6l-1.6 1.6l-1.6 -1.6ZM590.4 1018.2l1.6 1.6l-1.6 1.6l-1.6 -1.6ZM510.8 1019.4l1.6 1.6l-1.6 1.6l-1.6 -1.6ZM525.7 1013.5l1.6 1.6l-1.6 1.6l-1.6 -1.6ZM775.3 1017.4l1.6 1.6l-1.6 1.6l-1.6 -1.6ZM757.2 1093.5l1.6 1.6l-1.6 1.6l-1.6 -1.6ZM538.5 1016.8l1.6 1.6l-1.6 1.6l-1.6 -1.6ZM540.3 1093.3l1.6 1.6l-1.6 1.6l-1.6 -1.6ZM649.4 1094.3l1.6 1.6l-1.6 1.6l-1.6 -1.6ZM618.8 1019.6l1.6 1.6l-1.6 1.6l-1.6 -1.6ZM617.8 1095.8l1.6 1.6l-1.6 1.6l-1.6 -1.6ZM751.2 1099.1l1.6 1.6l-1.6 1.6l-1.6 -1.6ZM516.9 1013.6l1.6 1.6l-1.6 1.6l-1.6 -1.6ZM566.5 1092.9l1.6 1.6l-1.6 1.6l-1.6 -1.6ZM768.5 1016.6l1.6 1.6l-1.6 1.6l-1.6 -1.6ZM719.4 1016.1l1.6 1.6l-1.6 1.6l-1.6 -1.6ZM753.8 1019.5l1.6 1.6l-1.6 1.6l-1.6 -1.6ZM652.5 1094.7l1.6 1.6l-1.6 1.6l-1.6 -1.6ZM544.5 1090.4l1.6 1.6l-1.6 1.6l-1.6 -1.6ZM537.9 1096.3l1.6 1.6l-1.6 1.6l-1.6 -1.6ZM613.2 1109.1l1.6 1.6l-1.6 1.6l-1.6 -1.6ZM754.4 1019.6l1.6 1.6l-1.6 1.6l-1.6 -1.6ZM750.8 1020.2l1.6 1.6l-1.6 1.6l-1.6 -1.6ZM498.8 1098.2l1.6 1.6l-1.6 1.6l-1.6 -1.6ZM783.7 1016.4l1.6 1.6l-1.6 1.6l-1.6 -1.6ZM630.7 1016.6l1.6 1.6l-1.6 1.6l-1.6 -1.6ZM529.7 1010.9l1.6 1.6l-1.6 1.6l-1.6 -1.6Z" fill="#ffa500" fill-opacity="0.16"/></g>
<rect x="482.50" y="1008.50" width="319.00" height="103.00" fill="none" stroke="#000" stroke-width="1.1"/>
<path d="M487.50 1111.50v4.9M515.50 1111.50v4.9M542.50 1111.50v4.9M570.50 1111.50v4.9M597.50 1111.50v4.9M625.50 1111.50v4.9M653.50 1111.50v4.9M680.50 1111.50v4.9M708.50 1111.50v4.9M736.50 1111.50v4.9M763.50 1111.50v4.9M791.50 1111.50v4.9M482.50 1030.50h-4.9M482.50 1058.50h-4.9M482.50 1086.50h-4.9" stroke="#000" stroke-width="1.1" fill="none"/>
<text x="487.40" y="1130.95" font-size="14.15" text-anchor="middle" textLength="40.03" lengthAdjust="spacingAndGlyphs">21:00</text>
<text x="515.04" y="1130.95" font-size="14.15" text-anchor="middle" textLength="40.03" lengthAdjust="spacingAndGlyphs">22:00</text>
<text x="542.67" y="1130.95" font-size="14.15" text-anchor="middle" textLength="40.03" lengthAdjust="spacingAndGlyphs">23:00</text>
<text x="570.31" y="1130.95" font-size="14.15" text-anchor="middle" textLength="40.03" lengthAdjust="spacingAndGlyphs">00:00</text>
<text x="597.95" y="1130.95" font-size="14.15" text-anchor="middle" textLength="40.03" lengthAdjust="spacingAndGlyphs">01:00</text>
<text x="625.59" y="1130.95" font-size="14.15" text-anchor="middle" textLength="40.03" lengthAdjust="spacingAndGlyphs">02:00</text>
<text x="653.22" y="1130.95" font-size="14.15" text-anchor="middle" textLength="40.03" lengthAdjust="spacingAndGlyphs">03:00</text>
<text x="680.86" y="1130.95" font-size="14.15" text-anchor="middle" textLength="40.03" lengthAdjust="spacingAndGlyphs">04:00</text>
<text x="708.50" y="1130.95" font-size="14.15" text-anchor="middle" textLength="40.03" lengthAdjust="spacingAndGlyphs">05:00</text>
<text x="736.13" y="1130.95" font-size="14.15" text-anchor="middle" textLength="40.03" lengthAdjust="spacingAndGlyphs">06:00</text>
<text x="763.77" y="1130.95" font-size="14.15" text-anchor="middle" textLength="40.03" lengthAdjust="spacingAndGlyphs">07:00</text>
<text x="791.41" y="1130.95" font-size="14.15" text-anchor="middle" textLength="40.03" lengthAdjust="spacingAndGlyphs">08:00</text>
<text x="471.10" y="1035.40" font-size="14.15" text-anchor="end" textLength="17.67" lengthAdjust="spacingAndGlyphs">50</text>
<text x="472.60" y="1063.40" font-size="14.15" text-anchor="end" textLength="8.84" lengthAdjust="spacingAndGlyphs">0</text>
<text x="471.10" y="1091.40" font-size="14.15" text-anchor="end" textLength="29.31" lengthAdjust="spacingAndGlyphs">−50</text>
<text x="641.00" y="998.90" font-size="16.95" text-anchor="middle" textLength="183.08" lengthAdjust="spacingAndGlyphs">NoRP 80GHz Stokes-V</text>
<text x="641.20" y="1151.00" font-size="14.15" text-anchor="middle" textLength="64.48" lengthAdjust="spacingAndGlyphs">Time[UT]</text>
</g>
</svg>
</body></html>
